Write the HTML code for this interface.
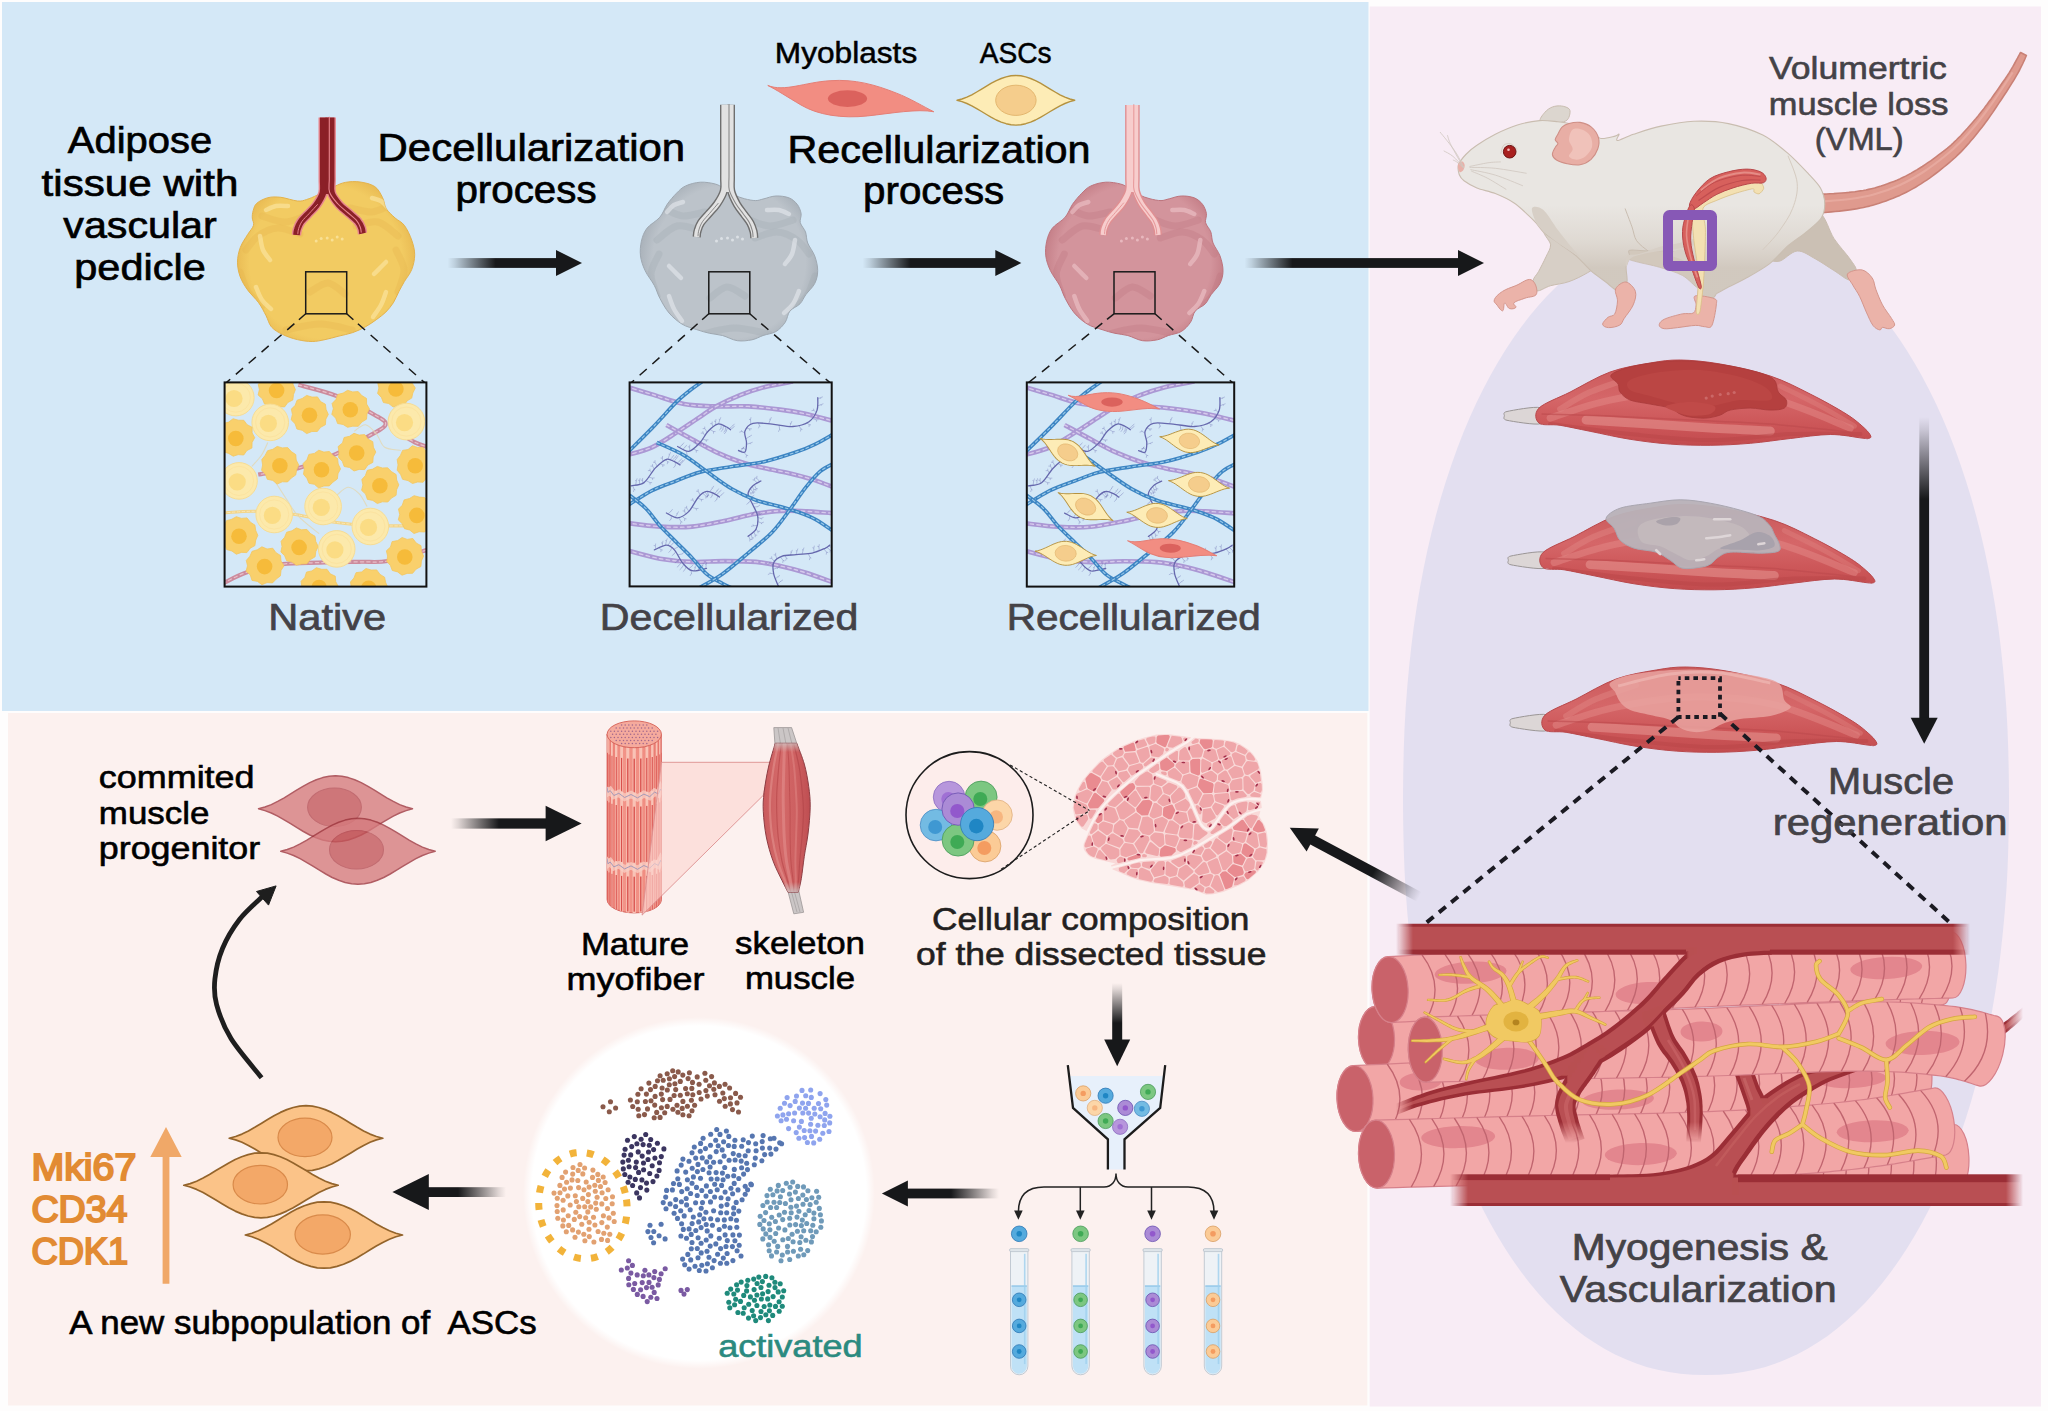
<!DOCTYPE html><html><head><meta charset="utf-8"><title>Graphical abstract</title><style>html,body{margin:0;padding:0;background:#fff}svg{display:block}text{font-family:"Liberation Sans",sans-serif}</style></head><body><svg width="2048" height="1411" viewBox="0 0 2048 1411"><defs><radialGradient id="bg0" gradientUnits="userSpaceOnUse" cx="326" cy="262" r="98"><stop offset="0" stop-color="#f2cb62"/><stop offset="0.78" stop-color="#f2cb62"/><stop offset="1" stop-color="#e4b24c"/></radialGradient><clipPath id="bc0"><path d="M253.2,210.6C253.9,208.1 254.4,205.4 256.9,203.2C259.3,201.1 263.9,198.7 267.9,197.7C271.9,196.7 275.9,196.8 280.8,197.3C285.7,197.9 293.1,200.6 297.4,201C301.7,201.4 303.3,200.6 306.6,199.5C310,198.5 313.1,197.1 317.7,194.9C322.3,192.8 329.7,188.7 334.3,186.6C338.9,184.5 341,183.2 345.3,182.4C349.6,181.6 355.2,181.3 360.1,182C365,182.7 371.1,184 374.8,186.6C378.6,189.2 380.7,194 382.6,197.7C384.5,201.4 384.2,205.4 386.3,208.8C388.4,212.1 392.1,215.2 395.1,218C398.1,220.7 401.6,221.7 404.3,225.3C407.1,229 410,235.2 411.7,240.1C413.4,245 414.7,249.9 414.7,254.8C414.7,259.8 413.4,265.1 411.7,269.6C410,274 406.5,277.9 404.3,281.6C402.2,285.3 400.6,288.2 398.8,291.7C397,295.2 395.4,299.4 393.3,302.8C391.1,306.1 388.7,309.2 385.9,312C383.1,314.7 380.1,316.9 376.7,319.4C373.3,321.8 369.6,324.5 365.6,326.7C361.6,328.9 357.3,331 352.7,332.6C348.1,334.2 342.6,335.1 338,336.3C333.4,337.5 329.4,338.8 325.1,339.6C320.8,340.5 316.8,341.5 312.2,341.5C307.6,341.5 302.3,340.8 297.4,339.6C292.5,338.5 287,336.6 282.7,334.5C278.4,332.4 274.4,330.2 271.6,327.1C268.8,324 268.2,319.7 266.1,315.7C263.9,311.6 261.8,307.1 258.7,302.8C255.6,298.5 250.7,294.2 247.6,289.9C244.6,285.6 242,281.6 240.3,277C238.6,272.4 237.5,267.1 237.5,262.2C237.5,257.3 238.6,252.1 240.3,247.5C242,242.9 245.4,238.2 247.6,234.6C249.9,230.9 252.8,228.1 253.5,225.3C254.3,222.6 252.3,220.4 252.3,218C252.2,215.5 252.4,213.1 253.2,210.6Z"/></clipPath><radialGradient id="bg1" gradientUnits="userSpaceOnUse" cx="729" cy="262" r="98"><stop offset="0" stop-color="#bcc3ca"/><stop offset="0.78" stop-color="#bcc3ca"/><stop offset="1" stop-color="#9fa8b1"/></radialGradient><clipPath id="bc1"><path d="M676.5,193.2C679.5,190.2 681.7,187.7 685.7,185.9C689.7,184 695.5,182.5 700.4,182.2C705.3,181.9 711.3,183 715.2,184C719,185 720.4,186.3 723.5,188.1C726.5,189.8 730.1,192.9 733.6,194.7C737.1,196.5 741,197.8 744.7,198.8C748.3,199.7 752.5,200.6 755.7,200.6C758.9,200.6 760.6,199.5 764,198.8C767.4,198 771.8,196.1 776,196C780.1,195.8 785.4,196.5 788.9,197.8C792.4,199.2 795.2,201.7 797.2,204.3C799.2,206.9 800.5,210.4 801.1,213.5C801.6,216.6 799.6,219.6 800.3,222.7C801.1,225.8 804.3,228.6 805.5,231.9C806.7,235.3 806.2,239 807.7,243C809.2,247 813,251.3 814.7,255.9C816.4,260.5 817.7,266 817.7,270.6C817.7,275.3 816.7,279.6 814.7,283.5C812.7,287.5 808.3,291.2 805.9,294.6C803.4,298 802.6,301.1 800,303.8C797.3,306.6 792.3,308.1 789.8,311.2C787.4,314.3 787.5,318.9 785.2,322.3C782.9,325.6 779.7,329.3 776,331.5C772.3,333.7 767.1,334.1 763.1,335.5C759.1,336.9 756.3,338.9 752,339.8C747.7,340.6 742.2,341.4 737.3,340.7C732.4,340 727.1,336.8 722.5,335.5C717.9,334.3 713.9,334.3 709.6,333.3C705.3,332.3 701.3,331.2 696.7,329.6C692.1,328.1 686.6,326.9 682,324.1C677.4,321.3 672.8,317.3 669.1,313C665.4,308.7 662.3,302.9 659.9,298.3C657.4,293.7 656.8,290 654.3,285.4C651.9,280.8 647.4,275.6 645.1,270.6C642.8,265.7 641.1,260.8 640.5,255.9C639.9,251 640.4,245.8 641.4,241.2C642.5,236.5 643.9,232.2 647,228.2C650,224.3 656.5,221.2 659.9,217.2C663.2,213.2 664.5,208.3 667.2,204.3C670,200.3 673.4,196.3 676.5,193.2Z"/></clipPath><radialGradient id="bg2" gradientUnits="userSpaceOnUse" cx="1134.3" cy="262" r="98"><stop offset="0" stop-color="#d3949c"/><stop offset="0.78" stop-color="#d3949c"/><stop offset="1" stop-color="#bd747d"/></radialGradient><clipPath id="bc2"><path d="M1081.8,193.2C1084.8,190.2 1087,187.7 1091,185.9C1095,184 1100.8,182.5 1105.7,182.2C1110.6,181.9 1116.6,183 1120.5,184C1124.3,185 1125.7,186.3 1128.8,188.1C1131.8,189.8 1135.4,192.9 1138.9,194.7C1142.4,196.5 1146.3,197.8 1150,198.8C1153.6,199.7 1157.8,200.6 1161,200.6C1164.2,200.6 1165.9,199.5 1169.3,198.8C1172.7,198 1177.1,196.1 1181.3,196C1185.4,195.8 1190.7,196.5 1194.2,197.8C1197.7,199.2 1200.5,201.7 1202.5,204.3C1204.5,206.9 1205.8,210.4 1206.4,213.5C1206.9,216.6 1204.9,219.6 1205.6,222.7C1206.4,225.8 1209.6,228.6 1210.8,231.9C1212,235.3 1211.5,239 1213,243C1214.5,247 1218.3,251.3 1220,255.9C1221.7,260.5 1223,266 1223,270.6C1223,275.3 1222,279.6 1220,283.5C1218,287.5 1213.6,291.2 1211.2,294.6C1208.7,298 1207.9,301.1 1205.3,303.8C1202.6,306.6 1197.6,308.1 1195.1,311.2C1192.7,314.3 1192.8,318.9 1190.5,322.3C1188.2,325.6 1185,329.3 1181.3,331.5C1177.6,333.7 1172.4,334.1 1168.4,335.5C1164.4,336.9 1161.6,338.9 1157.3,339.8C1153,340.6 1147.5,341.4 1142.6,340.7C1137.7,340 1132.4,336.8 1127.8,335.5C1123.2,334.3 1119.2,334.3 1114.9,333.3C1110.6,332.3 1106.6,331.2 1102,329.6C1097.4,328.1 1091.9,326.9 1087.3,324.1C1082.7,321.3 1078.1,317.3 1074.4,313C1070.7,308.7 1067.6,302.9 1065.2,298.3C1062.7,293.7 1062.1,290 1059.6,285.4C1057.2,280.8 1052.7,275.6 1050.4,270.6C1048.1,265.7 1046.4,260.8 1045.8,255.9C1045.2,251 1045.7,245.8 1046.7,241.2C1047.8,236.5 1049.2,232.2 1052.3,228.2C1055.3,224.3 1061.8,221.2 1065.2,217.2C1068.5,213.2 1069.8,208.3 1072.5,204.3C1075.3,200.3 1078.7,196.3 1081.8,193.2Z"/></clipPath><clipPath id="cbn"><rect x="224.6" y="382.4" width="201.8" height="204.2"/></clipPath><clipPath id="cbd"><rect x="629.6" y="382.4" width="202.1" height="204"/></clipPath><clipPath id="cbr"><rect x="1026.8" y="382.4" width="207.4" height="204.2"/></clipPath><linearGradient id="bodysh" gradientUnits="userSpaceOnUse" x1="0" y1="205" x2="0" y2="268"><stop offset="0" stop-color="#cdc3b8" stop-opacity="0"/><stop offset="0.55" stop-color="#cdc3b8" stop-opacity="0.35"/><stop offset="1" stop-color="#c9bfb3" stop-opacity="0.75"/></linearGradient><linearGradient id="mg1" gradientUnits="userSpaceOnUse" x1="0" y1="360" x2="0" y2="446"><stop offset="0" stop-color="#c9595a"/><stop offset="0.45" stop-color="#d56668"/><stop offset="0.75" stop-color="#cc5658"/><stop offset="1" stop-color="#c24b4e"/></linearGradient><clipPath id="mc1"><path d="M1539,408.1C1544.2,402.9 1558.2,398.1 1570.1,392.1C1581.9,386 1596.8,376.9 1610.1,372C1623.5,367.2 1638.5,365 1650.2,363C1661.8,361 1668.5,359.9 1680.2,360C1691.9,360.2 1705.2,361.4 1720.2,364C1735.2,366.7 1755.3,371 1770.3,376C1785.3,381 1797.6,387.7 1810.3,394.1C1823,400.4 1837.3,408.4 1846.4,414.1C1855.4,419.7 1860.3,424.4 1864.4,428.1C1868.4,431.8 1870.1,434.4 1870.8,436.1C1871.4,437.8 1869.8,438.2 1868.4,438.5C1866.9,438.8 1868.3,438.8 1862,438.1C1855.6,437.4 1842.3,434.4 1830.3,434.5C1818.4,434.6 1803.6,437 1790.3,438.5C1777,440 1763.6,442.2 1750.3,443.3C1736.9,444.4 1723.6,445.2 1710.2,445.3C1696.9,445.4 1683.5,445.1 1670.2,444.1C1656.8,443.1 1643.5,441.4 1630.1,439.3C1616.8,437.2 1601.8,433.6 1590.1,431.3C1578.4,429 1568.6,426.7 1560.1,425.3C1551.6,423.9 1542.6,426 1539,423.1C1535.5,420.2 1533.9,413.2 1539,408.1Z"/></clipPath><linearGradient id="mg2" gradientUnits="userSpaceOnUse" x1="0" y1="504.5" x2="0" y2="590.5"><stop offset="0" stop-color="#c9595a"/><stop offset="0.45" stop-color="#d56668"/><stop offset="0.75" stop-color="#cc5658"/><stop offset="1" stop-color="#c24b4e"/></linearGradient><clipPath id="mc2"><path d="M1543,552.6C1548.2,547.4 1562.2,542.6 1574.1,536.6C1585.9,530.5 1600.8,521.4 1614.1,516.5C1627.5,511.7 1642.5,509.5 1654.2,507.5C1665.8,505.5 1672.5,504.4 1684.2,504.5C1695.9,504.7 1709.2,505.9 1724.2,508.5C1739.2,511.2 1759.3,515.5 1774.3,520.5C1789.3,525.5 1801.6,532.2 1814.3,538.6C1827,544.9 1841.3,552.9 1850.4,558.6C1859.4,564.2 1864.3,568.9 1868.4,572.6C1872.4,576.3 1874.1,578.9 1874.8,580.6C1875.4,582.3 1873.8,582.7 1872.4,583C1870.9,583.3 1872.3,583.3 1866,582.6C1859.6,581.9 1846.3,578.9 1834.3,579C1822.4,579.1 1807.6,581.5 1794.3,583C1781,584.5 1767.6,586.7 1754.3,587.8C1740.9,588.9 1727.6,589.7 1714.2,589.8C1700.9,589.9 1687.5,589.6 1674.2,588.6C1660.8,587.6 1647.5,585.9 1634.1,583.8C1620.8,581.7 1605.8,578.1 1594.1,575.8C1582.4,573.5 1572.6,571.2 1564.1,569.8C1555.6,568.4 1546.6,570.5 1543,567.6C1539.5,564.7 1537.9,557.7 1543,552.6Z"/></clipPath><linearGradient id="mg3" gradientUnits="userSpaceOnUse" x1="0" y1="667" x2="0" y2="753"><stop offset="0" stop-color="#c9595a"/><stop offset="0.45" stop-color="#d56668"/><stop offset="0.75" stop-color="#cc5658"/><stop offset="1" stop-color="#c24b4e"/></linearGradient><clipPath id="mc3"><path d="M1545,715.1C1550.2,709.9 1564.2,705.1 1576.1,699.1C1587.9,693 1602.8,683.9 1616.1,679C1629.5,674.2 1644.5,672 1656.2,670C1667.8,668 1674.5,666.9 1686.2,667C1697.9,667.2 1711.2,668.4 1726.2,671C1741.2,673.7 1761.3,678 1776.3,683C1791.3,688 1803.6,694.7 1816.3,701.1C1829,707.4 1843.3,715.4 1852.4,721.1C1861.4,726.7 1866.3,731.4 1870.4,735.1C1874.4,738.8 1876.1,741.4 1876.8,743.1C1877.4,744.8 1875.8,745.2 1874.4,745.5C1872.9,745.8 1874.3,745.8 1868,745.1C1861.6,744.4 1848.3,741.4 1836.3,741.5C1824.4,741.6 1809.6,744 1796.3,745.5C1783,747 1769.6,749.2 1756.3,750.3C1742.9,751.4 1729.6,752.2 1716.2,752.3C1702.9,752.4 1689.5,752.1 1676.2,751.1C1662.8,750.1 1649.5,748.4 1636.1,746.3C1622.8,744.2 1607.8,740.6 1596.1,738.3C1584.4,736 1574.6,733.7 1566.1,732.3C1557.6,730.9 1548.6,733 1545,730.1C1541.5,727.2 1539.9,720.2 1545,715.1Z"/></clipPath><clipPath id="fcF2"><path d="M1375.5,1006.4L1376.8,1006.4L1378.2,1006.3L1379.8,1006.3L1381.6,1006.2L1383.5,1006.2L1385.5,1006.1L1387.6,1006L1389.9,1005.9L1392.2,1005.9L1394.6,1005.8L1397.1,1005.7L1399.7,1005.6L1402.4,1005.5L1405.1,1005.4L1407.8,1005.3L1410.6,1005.3L1413.4,1005.2L1416.3,1005.1L1419.1,1005L1422,1004.9L1424.9,1004.8L1427.7,1004.7L1430.5,1004.6L1433.3,1004.5L1436.1,1004.4L1438.8,1004.3L1441.5,1004.3L1444,1004.2L1446.6,1004.1L1449,1004L1451.5,1003.9L1454,1003.9L1456.5,1003.8L1459.1,1003.7L1461.7,1003.6L1464.4,1003.6L1467.1,1003.5L1469.8,1003.4L1472.5,1003.3L1475.3,1003.2L1478,1003.2L1480.7,1003.1L1483.4,1003L1486.1,1002.9L1488.7,1002.9L1491.3,1002.8L1493.8,1002.7L1496.3,1002.6L1498.7,1002.6L1501.1,1002.5L1503.4,1002.5L1505.6,1002.4L1507.6,1002.3L1509.6,1002.3L1511.5,1002.2L1513.3,1002.2L1515,1002.1L1516.5,1002.1L1517.9,1002L1519.1,1002L1520.9,1066L1519.7,1066L1518.3,1066.1L1516.7,1066.1L1515.1,1066.2L1513.3,1066.2L1511.4,1066.3L1509.4,1066.3L1507.3,1066.4L1505.1,1066.4L1502.9,1066.5L1500.5,1066.6L1498.1,1066.6L1495.6,1066.7L1493.1,1066.8L1490.5,1066.8L1487.9,1066.9L1485.2,1067L1482.5,1067.1L1479.8,1067.1L1477.1,1067.2L1474.4,1067.3L1471.7,1067.4L1469,1067.5L1466.3,1067.5L1463.6,1067.6L1461,1067.7L1458.4,1067.8L1455.9,1067.8L1453.4,1067.9L1451,1068L1448.6,1068.1L1446,1068.1L1443.5,1068.2L1440.8,1068.3L1438.1,1068.4L1435.4,1068.5L1432.6,1068.6L1429.8,1068.7L1426.9,1068.7L1424.1,1068.8L1421.2,1068.9L1418.4,1069L1415.5,1069.1L1412.7,1069.2L1409.9,1069.3L1407.2,1069.4L1404.5,1069.5L1401.8,1069.6L1399.3,1069.7L1396.8,1069.7L1394.3,1069.8L1392,1069.9L1389.7,1070L1387.6,1070L1385.6,1070.1L1383.7,1070.2L1381.9,1070.2L1380.3,1070.3L1378.9,1070.3L1377.5,1070.4A18,32 -1.9 0 1 1375.5,1006.4Z"/></clipPath><clipPath id="fcF6"><path d="M1699.1,1133L1701.8,1132.9L1704.9,1132.9L1708.3,1132.8L1712,1132.7L1716,1132.6L1720.3,1132.5L1724.8,1132.4L1729.6,1132.2L1734.6,1132.1L1739.7,1132L1745.1,1131.9L1750.5,1131.7L1756.1,1131.6L1761.8,1131.4L1767.6,1131.3L1773.4,1131.1L1779.3,1131L1785.2,1130.8L1791.1,1130.7L1796.9,1130.5L1802.7,1130.4L1808.4,1130.2L1814,1130.1L1819.5,1129.9L1824.9,1129.8L1830.1,1129.6L1835.1,1129.5L1840,1129.3L1844.6,1129.2L1848.9,1129L1853.1,1128.9L1857.3,1128.7L1861.6,1128.6L1865.8,1128.4L1870,1128.3L1874.2,1128.1L1878.4,1127.9L1882.6,1127.7L1886.7,1127.6L1890.8,1127.4L1894.8,1127.2L1898.8,1127.1L1902.7,1126.9L1906.6,1126.7L1910.4,1126.5L1914.1,1126.4L1917.7,1126.2L1921.2,1126L1924.6,1125.9L1927.9,1125.7L1931.1,1125.6L1934.1,1125.4L1937.1,1125.3L1939.9,1125.2L1942.6,1125L1945.1,1124.9L1947.4,1124.8L1949.7,1124.7L1951.7,1124.6L1953.6,1124.5A13.9,33 -2.5 0 1 1956.4,1190.5L1956.4,1190.5L1954.6,1190.5L1952.6,1190.6L1950.5,1190.7L1948.1,1190.8L1945.6,1191L1943,1191.1L1940.2,1191.2L1937.3,1191.4L1934.2,1191.5L1931,1191.6L1927.7,1191.8L1924.3,1192L1920.7,1192.1L1917.1,1192.3L1913.4,1192.5L1909.6,1192.6L1905.7,1192.8L1901.7,1193L1897.7,1193.2L1893.6,1193.3L1889.5,1193.5L1885.3,1193.7L1881.1,1193.9L1876.9,1194L1872.6,1194.2L1868.3,1194.4L1864,1194.5L1859.7,1194.7L1855.4,1194.8L1851.1,1195L1846.7,1195.1L1842,1195.3L1837.1,1195.4L1832.1,1195.6L1826.8,1195.7L1821.4,1195.9L1815.9,1196L1810.2,1196.2L1804.5,1196.4L1798.7,1196.5L1792.8,1196.7L1786.9,1196.8L1781,1197L1775.1,1197.1L1769.3,1197.3L1763.5,1197.4L1757.8,1197.6L1752.2,1197.7L1746.7,1197.8L1741.4,1198L1736.2,1198.1L1731.2,1198.2L1726.5,1198.3L1721.9,1198.5L1717.7,1198.6L1713.7,1198.7L1710,1198.8L1706.6,1198.8L1703.5,1198.9L1700.9,1199A10,33 -1.5 0 1 1699.1,1133Z"/></clipPath><clipPath id="fcF2b"><path d="M1796.1,974.3L1798,974L1800,973.7L1802.4,973.4L1804.9,973L1807.7,972.6L1810.7,972.1L1813.9,971.6L1817.2,971.1L1820.7,970.6L1824.3,970.1L1828.1,969.5L1831.9,968.9L1835.8,968.4L1839.7,967.8L1843.7,967.2L1847.7,966.6L1851.7,966L1855.7,965.4L1859.7,964.8L1863.6,964.2L1867.5,963.6L1871.2,963L1874.9,962.5L1878.4,962L1881.8,961.4L1885.1,961L1888.2,960.5L1891,960.1L1893.7,959.7L1896.1,959.3L1898.4,958.9L1900.6,958.6L1902.6,958.3L1904.6,958L1906.6,957.7L1908.4,957.4L1910.2,957.2L1911.9,956.9L1913.5,956.7L1915,956.4L1916.5,956.2L1917.9,956L1919.2,955.8L1920.5,955.6L1921.8,955.4L1922.9,955.2L1924.1,955L1925.1,954.8L1926.2,954.7L1927.1,954.5L1928.1,954.4L1929,954.2L1929.8,954.1L1930.7,954L1931.5,953.9L1932.2,953.7L1933,953.6L1933.7,953.5L1934.4,953.4L1935,953.3A10.9,26 -8.8 0 1 1943,1004.7L1943,1004.7L1942.3,1004.8L1941.6,1004.9L1940.9,1005L1940.2,1005.1L1939.5,1005.2L1938.7,1005.4L1937.9,1005.5L1937,1005.6L1936.1,1005.8L1935.2,1005.9L1934.2,1006.1L1933.1,1006.2L1932.1,1006.4L1930.9,1006.6L1929.7,1006.8L1928.5,1006.9L1927.2,1007.1L1925.8,1007.4L1924.4,1007.6L1922.9,1007.8L1921.4,1008L1919.7,1008.3L1918,1008.6L1916.3,1008.8L1914.4,1009.1L1912.5,1009.4L1910.4,1009.7L1908.3,1010L1906.2,1010.4L1903.9,1010.7L1901.4,1011.1L1898.8,1011.5L1895.9,1011.9L1892.8,1012.4L1889.6,1012.9L1886.2,1013.4L1882.6,1013.9L1879,1014.5L1875.2,1015L1871.3,1015.6L1867.4,1016.2L1863.4,1016.8L1859.4,1017.4L1855.4,1018L1851.4,1018.6L1847.4,1019.2L1843.5,1019.8L1839.6,1020.4L1835.8,1020.9L1832,1021.5L1828.4,1022L1824.9,1022.6L1821.6,1023.1L1818.4,1023.5L1815.4,1024L1812.6,1024.4L1810.1,1024.8L1807.7,1025.1L1805.7,1025.4L1803.9,1025.7A10,26 -8.5 0 1 1796.1,974.3Z"/></clipPath><clipPath id="fcF1"><path d="M1388.3,956.6L1394.3,956.3L1401.7,955.9L1410.2,955.5L1419.7,954.9L1430.1,954.4L1441.2,953.8L1452.9,953.1L1465,952.5L1477.3,951.8L1489.7,951.1L1502.1,950.4L1514.4,949.8L1526.2,949.2L1537.6,948.6L1548.3,948L1558.6,947.5L1568.9,947L1579,946.5L1589.1,946L1599.2,945.5L1609.2,945.1L1619.1,944.6L1629,944.1L1639,943.7L1648.9,943.2L1658.8,942.8L1668.7,942.3L1678.6,941.9L1688.6,941.5L1698.6,941L1708.7,940.6L1719,940.2L1729.4,939.7L1739.9,939.3L1750.4,938.8L1761,938.4L1771.5,938L1781.9,937.6L1792.2,937.2L1802.3,936.8L1812.2,936.4L1821.8,936L1831.2,935.7L1840.2,935.3L1848.8,935L1857.3,934.7L1865.7,934.4L1874.1,934.2L1882.3,933.9L1890.4,933.7L1898.2,933.5L1905.8,933.2L1913.1,933L1920,932.9L1926.5,932.7L1932.5,932.5L1938,932.4L1943,932.2L1947.3,932.1L1951.1,932A13.9,33 -1.6 0 1 1952.9,998L1952.9,998L1949.2,998.1L1944.8,998.2L1939.8,998.3L1934.2,998.5L1928.2,998.7L1921.7,998.8L1914.9,999L1907.6,999.2L1900.1,999.4L1892.3,999.7L1884.3,999.9L1876.1,1000.1L1867.9,1000.4L1859.5,1000.7L1851.2,1001L1842.6,1001.3L1833.6,1001.6L1824.3,1002L1814.7,1002.3L1804.8,1002.7L1794.8,1003.1L1784.5,1003.5L1774.1,1003.9L1763.6,1004.4L1753.1,1004.8L1742.6,1005.2L1732.2,1005.7L1721.8,1006.1L1711.5,1006.5L1701.4,1007L1691.5,1007.4L1681.5,1007.8L1671.6,1008.3L1661.7,1008.7L1651.9,1009.2L1642,1009.6L1632.1,1010.1L1622.2,1010.5L1612.3,1011L1602.3,1011.5L1592.3,1012L1582.2,1012.4L1572.1,1012.9L1561.9,1013.4L1551.7,1014L1541,1014.5L1529.7,1015.1L1517.8,1015.7L1505.7,1016.4L1493.3,1017L1480.9,1017.7L1468.5,1018.4L1456.5,1019L1444.8,1019.7L1433.7,1020.3L1423.3,1020.8L1413.8,1021.4L1405.3,1021.8L1397.9,1022.2L1391.9,1022.6A18,33 -3.1 0 1 1388.3,956.6Z"/></clipPath><clipPath id="fcF4"><path d="M1353.5,1065.5L1359,1065.3L1365.5,1065L1373.1,1064.6L1381.6,1064.3L1390.9,1063.8L1400.8,1063.4L1411.3,1062.9L1422.1,1062.4L1433.2,1061.9L1444.4,1061.4L1455.7,1060.9L1466.9,1060.4L1477.9,1059.9L1488.5,1059.5L1498.6,1059L1508.5,1058.6L1518.4,1058.2L1528.3,1057.8L1538.3,1057.4L1548.3,1057L1558.3,1056.6L1568.4,1056.2L1578.4,1055.8L1588.5,1055.4L1598.5,1055L1608.6,1054.6L1618.6,1054.2L1628.7,1053.8L1638.7,1053.4L1648.7,1053L1658.7,1052.6L1668.9,1052.2L1679.2,1051.8L1689.5,1051.4L1699.9,1051L1710.2,1050.6L1720.5,1050.1L1730.8,1049.7L1741,1049.3L1751.1,1048.9L1761,1048.5L1770.7,1048.1L1780.3,1047.8L1789.6,1047.4L1798.7,1047L1807.8,1046.7L1817,1046.3L1826.3,1046L1835.6,1045.6L1844.8,1045.2L1853.9,1044.9L1862.8,1044.6L1871.4,1044.2L1879.6,1043.9L1887.3,1043.6L1894.6,1043.4L1901.2,1043.1L1907.2,1042.9L1912.4,1042.7L1916.7,1042.5A13.9,33 -2.2 0 1 1919.3,1108.5L1919.3,1108.5L1914.9,1108.6L1909.7,1108.8L1903.7,1109.1L1897.1,1109.3L1889.8,1109.6L1882.1,1109.9L1873.9,1110.2L1865.3,1110.5L1856.4,1110.9L1847.3,1111.2L1838.1,1111.6L1828.8,1111.9L1819.5,1112.3L1810.3,1112.6L1801.3,1113L1792.2,1113.3L1782.9,1113.7L1773.4,1114.1L1763.6,1114.5L1753.7,1114.9L1743.6,1115.3L1733.4,1115.7L1723.2,1116.1L1712.9,1116.5L1702.5,1116.9L1692.2,1117.3L1681.8,1117.7L1671.6,1118.2L1661.4,1118.6L1651.3,1119L1641.3,1119.4L1631.3,1119.8L1621.2,1120.2L1611.2,1120.6L1601.1,1121L1591.1,1121.4L1581,1121.7L1571,1122.1L1561,1122.5L1550.9,1122.9L1541,1123.3L1531,1123.7L1521.1,1124.1L1511.2,1124.6L1501.4,1125L1491.3,1125.4L1480.7,1125.9L1469.8,1126.3L1458.7,1126.8L1447.4,1127.3L1436.2,1127.8L1425.1,1128.3L1414.3,1128.8L1403.8,1129.3L1393.9,1129.8L1384.6,1130.2L1376.1,1130.6L1368.5,1130.9L1361.9,1131.2L1356.5,1131.5A18,33 -2.6 0 1 1353.5,1065.5Z"/></clipPath><clipPath id="fcF5"><path d="M1375.6,1120.1L1384,1119.9L1394.7,1119.6L1407.3,1119.3L1421.4,1118.9L1436.8,1118.5L1453,1118L1469.7,1117.6L1486.6,1117.1L1503.3,1116.7L1519.6,1116.3L1534.9,1115.9L1549.2,1115.5L1562.7,1115.2L1576.2,1114.9L1589.6,1114.6L1602.9,1114.4L1616,1114.1L1628.9,1113.8L1641.5,1113.6L1653.8,1113.3L1665.7,1113L1677.2,1112.7L1688.2,1112.4L1698.7,1112L1708.7,1111.6L1718.3,1111.2L1727.5,1110.7L1736.3,1110.3L1744.7,1109.8L1752.8,1109.3L1760.7,1108.8L1768.4,1108.2L1775.8,1107.7L1783.1,1107.2L1790.3,1106.6L1797.4,1106.1L1804.2,1105.6L1810.6,1105.1L1816.7,1104.5L1822.5,1104L1828.1,1103.5L1833.5,1103L1838.8,1102.5L1844.1,1101.9L1849.3,1101.3L1854.6,1100.7L1860,1100L1865.5,1099.3L1871.2,1098.5L1877.4,1097.6L1883.8,1096.6L1890.4,1095.5L1897.1,1094.4L1903.6,1093.3L1910,1092.2L1916,1091.2L1921.6,1090.2L1926.5,1089.3L1930.9,1088.6L1934.3,1088A14.3,34 -9.6 0 1 1945.7,1155L1945.7,1155L1942.4,1155.6L1938.2,1156.3L1933.3,1157.2L1927.7,1158.1L1921.6,1159.2L1915.1,1160.3L1908.3,1161.5L1901.4,1162.6L1894.5,1163.8L1887.6,1164.8L1880.9,1165.8L1874.5,1166.7L1868.5,1167.5L1862.8,1168.2L1857.1,1168.9L1851.5,1169.5L1845.9,1170.1L1840.2,1170.7L1834.5,1171.2L1828.6,1171.8L1822.5,1172.3L1816.2,1172.8L1809.6,1173.4L1802.6,1173.9L1795.4,1174.4L1788.2,1175L1780.7,1175.5L1773.1,1176.1L1765.3,1176.6L1757.2,1177.2L1748.8,1177.7L1740,1178.2L1731,1178.7L1721.5,1179.1L1711.6,1179.6L1701.3,1180L1690.4,1180.4L1679.1,1180.7L1667.4,1181L1655.3,1181.3L1643,1181.6L1630.3,1181.8L1617.4,1182.1L1604.3,1182.3L1591,1182.6L1577.7,1182.9L1564.3,1183.2L1550.8,1183.5L1536.7,1183.8L1521.3,1184.2L1505.1,1184.7L1488.4,1185.1L1471.5,1185.6L1454.8,1186L1438.6,1186.4L1423.3,1186.9L1409.1,1187.2L1396.6,1187.6L1385.9,1187.9L1377.4,1188.1A18,34 -1.5 0 1 1375.6,1120.1Z"/></clipPath><filter id="er" x="-5%" y="-5%" width="110%" height="110%"><feMorphology operator="erode" radius="3.3"/></filter><linearGradient id="fgA" gradientUnits="userSpaceOnUse" x1="1450" y1="0" x2="1468" y2="0"><stop offset="0" stop-color="#000"/><stop offset="1" stop-color="#fff"/></linearGradient><linearGradient id="fgA2" gradientUnits="userSpaceOnUse" x1="2006" y1="0" x2="2023" y2="0"><stop offset="0" stop-color="#fff"/><stop offset="1" stop-color="#000"/></linearGradient><mask id="mA" maskUnits="userSpaceOnUse" x="1380" y="900" width="680" height="340"><rect x="1380" y="900" width="680" height="340" fill="#fff"/><rect x="1380" y="1160" width="88" height="60" fill="url(#fgA)"/><rect x="2006" y="1000" width="60" height="220" fill="url(#fgA2)"/><rect x="2023" y="1000" width="40" height="220" fill="#000"/></mask><clipPath id="fcF3"><path d="M1424.4,1017.2L1430.9,1017L1439,1016.7L1448.5,1016.4L1459.1,1016L1470.7,1015.6L1483,1015.2L1495.8,1014.8L1508.8,1014.4L1521.9,1014L1534.8,1013.6L1547.3,1013.2L1559.1,1012.8L1570.6,1012.5L1582,1012.1L1593.4,1011.8L1604.8,1011.5L1616.2,1011.2L1627.6,1010.9L1639.2,1010.5L1650.8,1010.2L1662.6,1009.8L1674.5,1009.5L1686.6,1009.1L1698.9,1008.6L1711.6,1008.1L1725,1007.5L1738.9,1006.9L1753.1,1006.2L1767.5,1005.5L1781.9,1004.8L1796.2,1004.1L1810.1,1003.5L1823.6,1002.9L1836.5,1002.5L1848.6,1002.1L1859.7,1001.9L1870,1001.8L1879.5,1001.9L1888.4,1002L1896.8,1002.2L1904.6,1002.5L1912,1002.9L1919,1003.3L1925.6,1003.8L1931.8,1004.3L1937.8,1004.8L1943.5,1005.4L1949.2,1006L1955.3,1006.7L1961.2,1007.6L1966.8,1008.6L1972.1,1009.7L1976.9,1010.8L1981.3,1011.9L1985.3,1013L1988.7,1014L1991.7,1014.8L1994,1015.5L1995.6,1015.8L1997,1016.1A15.1,36 14.4 0 1 1979,1085.9L1979,1085.9L1976.5,1085.2L1973.6,1084.2L1970.8,1083.3L1968.1,1082.4L1965.3,1081.5L1962.3,1080.7L1959.3,1079.8L1956,1078.9L1952.6,1078.1L1949,1077.3L1945.1,1076.7L1940.8,1076L1935.8,1075.4L1930.5,1074.8L1925.1,1074.2L1919.6,1073.6L1913.7,1073.1L1907.6,1072.6L1901.1,1072.2L1894.1,1071.8L1886.6,1071.5L1878.5,1071.3L1869.7,1071.1L1860.3,1071.1L1849.9,1071.2L1838.4,1071.4L1826,1071.7L1812.8,1072.2L1799.1,1072.7L1784.9,1073.2L1770.6,1073.8L1756.2,1074.4L1741.8,1075L1727.8,1075.5L1714.1,1076L1701.1,1076.4L1688.6,1076.7L1676.4,1077L1664.3,1077.3L1652.5,1077.5L1640.8,1077.7L1629.2,1077.9L1617.7,1078.1L1606.3,1078.3L1594.9,1078.5L1583.6,1078.7L1572.2,1079L1560.9,1079.2L1549,1079.4L1536.6,1079.7L1523.7,1080L1510.6,1080.3L1497.6,1080.6L1484.8,1080.9L1472.5,1081.2L1460.9,1081.5L1450.3,1081.7L1440.8,1081.9L1432.7,1082.1L1426.2,1082.2A17,32.5 -1.6 0 1 1424.4,1017.2Z"/></clipPath><linearGradient id="fgB1" gradientUnits="userSpaceOnUse" x1="1396" y1="0" x2="1413" y2="0"><stop offset="0" stop-color="#000"/><stop offset="1" stop-color="#fff"/></linearGradient><linearGradient id="fgB2" gradientUnits="userSpaceOnUse" x1="1953" y1="0" x2="1970" y2="0"><stop offset="0" stop-color="#fff"/><stop offset="1" stop-color="#000"/></linearGradient><linearGradient id="fgB3" gradientUnits="userSpaceOnUse" x1="0" y1="1122" x2="0" y2="1143"><stop offset="0" stop-color="#fff"/><stop offset="1" stop-color="#000"/></linearGradient><mask id="mB" maskUnits="userSpaceOnUse" x="1380" y="900" width="680" height="340"><rect x="1380" y="900" width="680" height="340" fill="#fff"/><rect x="1380" y="915" width="33" height="50" fill="url(#fgB1)"/><rect x="1380" y="1085" width="33" height="45" fill="url(#fgB1)"/><rect x="1953" y="915" width="40" height="50" fill="url(#fgB2)"/><rect x="1970" y="915" width="30" height="50" fill="#000"/><rect x="1545" y="1122" width="52" height="30" fill="url(#fgB3)"/><rect x="1676" y="1122" width="38" height="30" fill="url(#fgB3)"/></mask><clipPath id="cylc"><path d="M607.1,734.3V899.5A27.149999999999977,13.4 0 0 0 661.4,899.5V734.3A27.149999999999977,13.4 0 0 1 607.1,734.3Z"/></clipPath><linearGradient id="cylg" x1="0" y1="0" x2="1" y2="0"><stop offset="0" stop-color="#e9776e"/><stop offset="0.3" stop-color="#f29488"/><stop offset="0.7" stop-color="#f08d82"/><stop offset="1" stop-color="#e67168"/></linearGradient><clipPath id="skc"><path d="M775.2,743.3C774.1,747.3 770.4,758.9 768.5,767.1C766.6,775.3 765,785 764.1,792.4C763.2,799.8 762.9,804.3 763.3,811.7C763.7,819.1 764.7,828.8 766.3,837C767.9,845.2 770.4,853.6 773,860.8C775.6,868 779.4,875 781.9,880.2C784.4,885.4 786.9,890.1 787.9,892.1L798.3,892.1C798.8,889.9 800.3,884.7 801.3,878.7C802.3,872.7 803.2,863.8 804.3,856.3C805.4,848.8 807,842.2 808,834C809,825.8 810.1,815.1 810.2,807.2C810.3,799.3 809.7,793.6 808.7,786.4C807.7,779.2 806.3,771.3 804.3,764.1C802.3,756.9 798,746.8 796.8,743.3Z"/></clipPath><linearGradient id="skg" gradientUnits="userSpaceOnUse" x1="763" y1="0" x2="811" y2="0"><stop offset="0" stop-color="#c95a5c"/><stop offset="0.35" stop-color="#d46a6a"/><stop offset="0.7" stop-color="#cd5f60"/><stop offset="1" stop-color="#bd4c50"/></linearGradient><linearGradient id="skf" gradientUnits="userSpaceOnUse" x1="0" y1="740" x2="0" y2="752"><stop offset="0" stop-color="#cbc6c6"/><stop offset="1" stop-color="#cbc6c6" stop-opacity="0"/></linearGradient><linearGradient id="skf2" gradientUnits="userSpaceOnUse" x1="0" y1="895" x2="0" y2="882"><stop offset="0" stop-color="#cbc6c6"/><stop offset="1" stop-color="#cbc6c6" stop-opacity="0"/></linearGradient><radialGradient id="umg" gradientUnits="userSpaceOnUse" cx="699" cy="1193" r="176"><stop offset="0" stop-color="#fff"/><stop offset="0.95" stop-color="#fff"/><stop offset="1" stop-color="#fff" stop-opacity="0"/></radialGradient><linearGradient id="ga0" gradientUnits="userSpaceOnUse" x1="447.6" y1="0" x2="495.6" y2="0"><stop offset="0" stop-color="#17181a" stop-opacity="0"/><stop offset="0.15" stop-color="#17181a" stop-opacity="0.12"/><stop offset="1" stop-color="#17181a"/></linearGradient><linearGradient id="ga1" gradientUnits="userSpaceOnUse" x1="862.6" y1="0" x2="910.6" y2="0"><stop offset="0" stop-color="#17181a" stop-opacity="0"/><stop offset="0.15" stop-color="#17181a" stop-opacity="0.12"/><stop offset="1" stop-color="#17181a"/></linearGradient><linearGradient id="ga2" gradientUnits="userSpaceOnUse" x1="1244.5" y1="0" x2="1292.5" y2="0"><stop offset="0" stop-color="#17181a" stop-opacity="0"/><stop offset="0.15" stop-color="#17181a" stop-opacity="0.12"/><stop offset="1" stop-color="#17181a"/></linearGradient><linearGradient id="ga3" gradientUnits="userSpaceOnUse" x1="451" y1="0" x2="499" y2="0"><stop offset="0" stop-color="#17181a" stop-opacity="0"/><stop offset="0.15" stop-color="#17181a" stop-opacity="0.12"/><stop offset="1" stop-color="#17181a"/></linearGradient><linearGradient id="ga4" gradientUnits="userSpaceOnUse" x1="506" y1="0" x2="458" y2="0"><stop offset="0" stop-color="#17181a" stop-opacity="0"/><stop offset="0.15" stop-color="#17181a" stop-opacity="0.12"/><stop offset="1" stop-color="#17181a"/></linearGradient><linearGradient id="ga5" gradientUnits="userSpaceOnUse" x1="999" y1="0" x2="951" y2="0"><stop offset="0" stop-color="#17181a" stop-opacity="0"/><stop offset="0.15" stop-color="#17181a" stop-opacity="0.12"/><stop offset="1" stop-color="#17181a"/></linearGradient><linearGradient id="ga6" gradientUnits="userSpaceOnUse" x1="0" y1="983" x2="0" y2="1023"><stop offset="0" stop-color="#17181a" stop-opacity="0"/><stop offset="0.15" stop-color="#17181a" stop-opacity="0.12"/><stop offset="1" stop-color="#17181a"/></linearGradient><linearGradient id="ga7" gradientUnits="userSpaceOnUse" x1="0" y1="417" x2="0" y2="499"><stop offset="0" stop-color="#17181a" stop-opacity="0"/><stop offset="0.15" stop-color="#17181a" stop-opacity="0.12"/><stop offset="1" stop-color="#17181a"/></linearGradient><linearGradient id="ga8" gradientUnits="userSpaceOnUse" x1="0" y1="0" x2="52" y2="0"><stop offset="0" stop-color="#17181a" stop-opacity="0"/><stop offset="0.15" stop-color="#17181a" stop-opacity="0.12"/><stop offset="1" stop-color="#17181a"/></linearGradient></defs><rect x="0" y="0" width="2048" height="1411" fill="#fefdfd"/>
<rect x="2" y="2" width="1366.5" height="709" fill="#d4e8f7"/>
<rect x="8" y="713" width="1359.3" height="692.5" fill="#fcf1ef"/>
<rect x="1369.7" y="6.5" width="671.3" height="1400" fill="#f8ecf5"/>
<path d="M2009.0,799.5L2008.8,824.9L2008.3,847.8L2007.5,869.9L2006.3,891.4L2004.7,912.4L2002.8,933.0L2000.6,953.2L1998.1,973.1L1995.2,992.5L1992.0,1011.6L1988.4,1030.4L1984.6,1048.7L1980.4,1066.7L1975.9,1084.3L1971.1,1101.5L1965.9,1118.3L1960.5,1134.6L1954.8,1150.5L1948.8,1166.0L1942.5,1181.0L1935.9,1195.5L1929.0,1209.6L1921.9,1223.1L1914.5,1236.1L1906.9,1248.6L1899.0,1260.6L1890.8,1272.0L1882.4,1282.9L1873.8,1293.2L1865.0,1302.9L1856.0,1312.1L1846.7,1320.6L1837.2,1328.6L1827.6,1335.9L1817.7,1342.6L1807.6,1348.8L1797.4,1354.2L1786.9,1359.1L1776.3,1363.3L1765.5,1366.9L1754.4,1369.8L1743.1,1372.1L1731.5,1373.7L1719.4,1374.7L1706.0,1375.0L1692.6,1374.7L1680.5,1373.7L1668.9,1372.1L1657.6,1369.8L1646.5,1366.9L1635.7,1363.3L1625.1,1359.1L1614.6,1354.2L1604.4,1348.8L1594.3,1342.6L1584.4,1335.9L1574.8,1328.6L1565.3,1320.6L1556.0,1312.1L1547.0,1302.9L1538.2,1293.2L1529.6,1282.9L1521.2,1272.0L1513.0,1260.6L1505.1,1248.6L1497.5,1236.1L1490.1,1223.1L1483.0,1209.6L1476.1,1195.5L1469.5,1181.0L1463.2,1166.0L1457.2,1150.5L1451.5,1134.6L1446.1,1118.3L1440.9,1101.5L1436.1,1084.3L1431.6,1066.7L1427.4,1048.7L1423.6,1030.4L1420.0,1011.6L1416.8,992.5L1413.9,973.1L1411.4,953.2L1409.2,933.0L1407.3,912.4L1405.7,891.4L1404.5,869.9L1403.7,847.8L1403.2,824.9L1403.0,799.5L1403.2,774.1L1403.7,751.2L1404.5,729.1L1405.7,707.6L1407.3,686.6L1409.2,666.0L1411.4,645.8L1413.9,625.9L1416.8,606.5L1420.0,587.4L1423.6,568.6L1427.4,550.3L1431.6,532.3L1436.1,514.7L1440.9,497.5L1446.1,480.7L1451.5,464.4L1457.2,448.5L1463.2,433.0L1469.5,418.0L1476.1,403.5L1483.0,389.4L1490.1,375.9L1497.5,362.9L1505.1,350.4L1513.0,338.4L1521.2,327.0L1529.6,316.1L1538.2,305.8L1547.0,296.1L1556.0,286.9L1565.3,278.4L1574.8,270.4L1584.4,263.1L1594.3,256.4L1604.4,250.2L1614.6,244.8L1625.1,239.9L1635.7,235.7L1646.5,232.1L1657.6,229.2L1668.9,226.9L1680.5,225.3L1692.6,224.3L1706.0,224.0L1719.4,224.3L1731.5,225.3L1743.1,226.9L1754.4,229.2L1765.5,232.1L1776.3,235.7L1786.9,239.9L1797.4,244.8L1807.6,250.2L1817.7,256.4L1827.6,263.1L1837.2,270.4L1846.7,278.4L1856.0,286.9L1865.0,296.1L1873.8,305.8L1882.4,316.1L1890.8,327.0L1899.0,338.4L1906.9,350.4L1914.5,362.9L1921.9,375.9L1929.0,389.4L1935.9,403.5L1942.5,418.0L1948.8,433.0L1954.8,448.5L1960.5,464.4L1965.9,480.7L1971.1,497.5L1975.9,514.7L1980.4,532.3L1984.6,550.3L1988.4,568.6L1992.0,587.4L1995.2,606.5L1998.1,625.9L2000.6,645.8L2002.8,666.0L2004.7,686.6L2006.3,707.6L2007.5,729.1L2008.3,751.2L2008.8,774.1Z" fill="#e3dff0"/>
<path d="M253.2,210.6C253.9,208.1 254.4,205.4 256.9,203.2C259.3,201.1 263.9,198.7 267.9,197.7C271.9,196.7 275.9,196.8 280.8,197.3C285.7,197.9 293.1,200.6 297.4,201C301.7,201.4 303.3,200.6 306.6,199.5C310,198.5 313.1,197.1 317.7,194.9C322.3,192.8 329.7,188.7 334.3,186.6C338.9,184.5 341,183.2 345.3,182.4C349.6,181.6 355.2,181.3 360.1,182C365,182.7 371.1,184 374.8,186.6C378.6,189.2 380.7,194 382.6,197.7C384.5,201.4 384.2,205.4 386.3,208.8C388.4,212.1 392.1,215.2 395.1,218C398.1,220.7 401.6,221.7 404.3,225.3C407.1,229 410,235.2 411.7,240.1C413.4,245 414.7,249.9 414.7,254.8C414.7,259.8 413.4,265.1 411.7,269.6C410,274 406.5,277.9 404.3,281.6C402.2,285.3 400.6,288.2 398.8,291.7C397,295.2 395.4,299.4 393.3,302.8C391.1,306.1 388.7,309.2 385.9,312C383.1,314.7 380.1,316.9 376.7,319.4C373.3,321.8 369.6,324.5 365.6,326.7C361.6,328.9 357.3,331 352.7,332.6C348.1,334.2 342.6,335.1 338,336.3C333.4,337.5 329.4,338.8 325.1,339.6C320.8,340.5 316.8,341.5 312.2,341.5C307.6,341.5 302.3,340.8 297.4,339.6C292.5,338.5 287,336.6 282.7,334.5C278.4,332.4 274.4,330.2 271.6,327.1C268.8,324 268.2,319.7 266.1,315.7C263.9,311.6 261.8,307.1 258.7,302.8C255.6,298.5 250.7,294.2 247.6,289.9C244.6,285.6 242,281.6 240.3,277C238.6,272.4 237.5,267.1 237.5,262.2C237.5,257.3 238.6,252.1 240.3,247.5C242,242.9 245.4,238.2 247.6,234.6C249.9,230.9 252.8,228.1 253.5,225.3C254.3,222.6 252.3,220.4 252.3,218C252.2,215.5 252.4,213.1 253.2,210.6Z" fill="url(#bg0)" stroke="#e4b24c" stroke-width="1"/>
<g clip-path="url(#bc0)">
<path d="M246,250C248,247.7 252.7,239.7 258,236C263.3,232.3 271,228.3 278,228C285,227.7 296.3,233 300,234" fill="none" stroke="#e4b24c" stroke-width="7" stroke-linecap="round" opacity="0.3"/>
<path d="M356,226C359.7,225.3 371,220.3 378,222C385,223.7 394.7,233.7 398,236" fill="none" stroke="#e4b24c" stroke-width="7" stroke-linecap="round" opacity="0.3"/>
<path d="M286,330C291.7,329 309,324 320,324C331,324 346.7,329 352,330" fill="none" stroke="#e4b24c" stroke-width="7" stroke-linecap="round" opacity="0.3"/>
<path d="M240,272C241.3,275.3 244.3,286.3 248,292C251.7,297.7 259.7,303.7 262,306" fill="none" stroke="#e4b24c" stroke-width="7" stroke-linecap="round" opacity="0.3"/>
<path d="M396,250C397.3,253.3 403.7,263 404,270C404.3,277 399,288.3 398,292" fill="none" stroke="#e4b24c" stroke-width="7" stroke-linecap="round" opacity="0.3"/>
<path d="M310,292C313,290.5 322.2,282.7 328,283C333.8,283.3 342.2,292.2 345,294" fill="none" stroke="#e4b24c" stroke-width="7" stroke-linecap="round" opacity="0.3"/>
<path d="M262,216C265.8,217 277.8,222 285,222C292.2,222 301.7,217 305,216" fill="none" stroke="#e4b24c" stroke-width="7" stroke-linecap="round" opacity="0.3"/>
<path d="M350,208C353.7,208.7 365.7,212.3 372,212C378.3,211.7 385.3,207 388,206" fill="none" stroke="#e4b24c" stroke-width="7" stroke-linecap="round" opacity="0.3"/>
<path d="M266,210C267.7,209.3 272.3,206.7 276,206C279.7,205.3 286,206 288,206" fill="none" stroke="#fbe7a6" stroke-width="4.5" stroke-linecap="round" opacity="0.6"/>
<path d="M260,236C260.5,238.3 261.3,246 263,250C264.7,254 268.8,258.3 270,260" fill="none" stroke="#fbe7a6" stroke-width="4.5" stroke-linecap="round" opacity="0.6"/>
<path d="M372,198C373.5,198.5 378.3,199.3 381,201C383.7,202.7 386.8,206.8 388,208" fill="none" stroke="#fbe7a6" stroke-width="4.5" stroke-linecap="round" opacity="0.6"/>
<path d="M374,274C375.2,272.8 379,269 381,267C383,265 385.2,262.8 386,262" fill="none" stroke="#fbe7a6" stroke-width="4.5" stroke-linecap="round" opacity="0.6"/>
<path d="M256,287C257,289.2 259.5,296.3 262,300C264.5,303.7 269.5,307.5 271,309" fill="none" stroke="#fbe7a6" stroke-width="4.5" stroke-linecap="round" opacity="0.6"/>
<path d="M386,292C385.2,294.2 383.2,300.8 381,305C378.8,309.2 374.3,315 373,317" fill="none" stroke="#fbe7a6" stroke-width="4.5" stroke-linecap="round" opacity="0.6"/>
</g>
<path d="M323.2,117.5C323.2,124.1 323.2,147 323.2,157.2C323.2,167.5 323.2,173 323.2,179C323.1,185 324,188.7 322.9,193C321.8,197.3 318.9,201.5 316.4,205.1C313.8,208.7 310.3,211.7 307.7,214.5C305.1,217.3 302.5,219.5 300.8,222C299.1,224.4 298.1,227.2 297.4,229.3C296.6,231.5 296.6,234.1 296.5,235" fill="none" stroke="#e8868e" stroke-width="9.4"/>
<path d="M331.2,117.5C331.2,124.1 331.2,147 331.2,157.2C331.2,167.5 331.1,173 331.2,179C331.2,185 330.2,188.7 331.5,193C332.8,197.3 336.2,201.3 339.2,204.8C342.2,208.2 346.4,211.1 349.4,213.8C352.5,216.5 355.4,218.6 357.5,221C359.5,223.4 360.7,226 361.5,228.1C362.3,230.1 362.3,232.6 362.5,233.5" fill="none" stroke="#e8868e" stroke-width="9.4"/>
<path d="M323.2,117.5C323.2,124.1 323.2,147 323.2,157.2C323.2,167.5 323.2,173 323.2,179C323.1,185 324,188.7 322.9,193C321.8,197.3 318.9,201.5 316.4,205.1C313.8,208.7 310.3,211.7 307.7,214.5C305.1,217.3 302.5,219.5 300.8,222C299.1,224.4 298.1,227.2 297.4,229.3C296.6,231.5 296.6,234.1 296.5,235" fill="none" stroke="#8b2027" stroke-width="6.6"/>
<path d="M331.2,117.5C331.2,124.1 331.2,147 331.2,157.2C331.2,167.5 331.1,173 331.2,179C331.2,185 330.2,188.7 331.5,193C332.8,197.3 336.2,201.3 339.2,204.8C342.2,208.2 346.4,211.1 349.4,213.8C352.5,216.5 355.4,218.6 357.5,221C359.5,223.4 360.7,226 361.5,228.1C362.3,230.1 362.3,232.6 362.5,233.5" fill="none" stroke="#8b2027" stroke-width="6.6"/>
<path d="M327.2,117.5V194" fill="none" stroke="#8b2027" stroke-width="3.2"/>
<path d="M329.3,116.7C329.3,123.3 329.3,146.2 329.3,156.4C329.3,166.7 329.2,172.2 329.3,178.2C329.4,184.2 328.1,187.9 329.6,192.2C331.1,196.5 334.9,200.5 338,204C341.1,207.4 345.2,210.3 348.2,213C351.3,215.7 354.2,217.8 356.3,220.2C358.3,222.6 359.5,225.2 360.3,227.3C361.1,229.3 361.1,231.8 361.3,232.7" fill="none" stroke="#e8868e" stroke-width="1.1"/>
<path d="M317.7,204.3C316.2,205.9 311.6,210.9 309,213.7C306.4,216.5 303.8,218.7 302.1,221.2C300.4,223.6 299.4,226.4 298.7,228.5C297.9,230.7 297.9,233.3 297.8,234.2" fill="none" stroke="#e8868e" stroke-width="1.0"/>
<circle cx="316.2" cy="241" r="1.5" fill="#fbe7a6" opacity="0.75"/>
<circle cx="321.2" cy="238.5" r="1.5" fill="#fbe7a6" opacity="0.75"/>
<circle cx="327.2" cy="238" r="1.5" fill="#fbe7a6" opacity="0.75"/>
<circle cx="332.2" cy="240" r="1.5" fill="#fbe7a6" opacity="0.75"/>
<circle cx="337.2" cy="237" r="1.5" fill="#fbe7a6" opacity="0.75"/>
<circle cx="342.2" cy="239" r="1.5" fill="#fbe7a6" opacity="0.75"/>
<rect x="305.7" y="271.8" width="41" height="42" fill="none" stroke="#1a1a1a" stroke-width="1.5"/>
<path d="M676.5,193.2C679.5,190.2 681.7,187.7 685.7,185.9C689.7,184 695.5,182.5 700.4,182.2C705.3,181.9 711.3,183 715.2,184C719,185 720.4,186.3 723.5,188.1C726.5,189.8 730.1,192.9 733.6,194.7C737.1,196.5 741,197.8 744.7,198.8C748.3,199.7 752.5,200.6 755.7,200.6C758.9,200.6 760.6,199.5 764,198.8C767.4,198 771.8,196.1 776,196C780.1,195.8 785.4,196.5 788.9,197.8C792.4,199.2 795.2,201.7 797.2,204.3C799.2,206.9 800.5,210.4 801.1,213.5C801.6,216.6 799.6,219.6 800.3,222.7C801.1,225.8 804.3,228.6 805.5,231.9C806.7,235.3 806.2,239 807.7,243C809.2,247 813,251.3 814.7,255.9C816.4,260.5 817.7,266 817.7,270.6C817.7,275.3 816.7,279.6 814.7,283.5C812.7,287.5 808.3,291.2 805.9,294.6C803.4,298 802.6,301.1 800,303.8C797.3,306.6 792.3,308.1 789.8,311.2C787.4,314.3 787.5,318.9 785.2,322.3C782.9,325.6 779.7,329.3 776,331.5C772.3,333.7 767.1,334.1 763.1,335.5C759.1,336.9 756.3,338.9 752,339.8C747.7,340.6 742.2,341.4 737.3,340.7C732.4,340 727.1,336.8 722.5,335.5C717.9,334.3 713.9,334.3 709.6,333.3C705.3,332.3 701.3,331.2 696.7,329.6C692.1,328.1 686.6,326.9 682,324.1C677.4,321.3 672.8,317.3 669.1,313C665.4,308.7 662.3,302.9 659.9,298.3C657.4,293.7 656.8,290 654.3,285.4C651.9,280.8 647.4,275.6 645.1,270.6C642.8,265.7 641.1,260.8 640.5,255.9C639.9,251 640.4,245.8 641.4,241.2C642.5,236.5 643.9,232.2 647,228.2C650,224.3 656.5,221.2 659.9,217.2C663.2,213.2 664.5,208.3 667.2,204.3C670,200.3 673.4,196.3 676.5,193.2Z" fill="url(#bg1)" stroke="#9fa8b1" stroke-width="1"/>
<g clip-path="url(#bc1)">
<path d="M809,254C807,251.7 802.3,243.7 797,240C791.7,236.3 784,232.3 777,232C770,231.7 758.7,237 755,238" fill="none" stroke="#9fa8b1" stroke-width="7" stroke-linecap="round" opacity="0.3"/>
<path d="M699,230C695.3,229.3 684,224.3 677,226C670,227.7 660.3,237.7 657,240" fill="none" stroke="#9fa8b1" stroke-width="7" stroke-linecap="round" opacity="0.3"/>
<path d="M769,334C763.3,333 746,328 735,328C724,328 708.3,333 703,334" fill="none" stroke="#9fa8b1" stroke-width="7" stroke-linecap="round" opacity="0.3"/>
<path d="M815,276C813.7,279.3 810.7,290.3 807,296C803.3,301.7 795.3,307.7 793,310" fill="none" stroke="#9fa8b1" stroke-width="7" stroke-linecap="round" opacity="0.3"/>
<path d="M659,254C657.7,257.3 651.3,267 651,274C650.7,281 656,292.3 657,296" fill="none" stroke="#9fa8b1" stroke-width="7" stroke-linecap="round" opacity="0.3"/>
<path d="M745,296C742,294.5 732.8,286.7 727,287C721.2,287.3 712.8,296.2 710,298" fill="none" stroke="#9fa8b1" stroke-width="7" stroke-linecap="round" opacity="0.3"/>
<path d="M793,220C789.2,221 777.2,226 770,226C762.8,226 753.3,221 750,220" fill="none" stroke="#9fa8b1" stroke-width="7" stroke-linecap="round" opacity="0.3"/>
<path d="M705,212C701.3,212.7 689.3,216.3 683,216C676.7,215.7 669.7,211 667,210" fill="none" stroke="#9fa8b1" stroke-width="7" stroke-linecap="round" opacity="0.3"/>
<path d="M789,214C787.3,213.3 782.7,210.7 779,210C775.3,209.3 769,210 767,210" fill="none" stroke="#e6eaee" stroke-width="4.5" stroke-linecap="round" opacity="0.6"/>
<path d="M795,240C794.5,242.3 793.7,250 792,254C790.3,258 786.2,262.3 785,264" fill="none" stroke="#e6eaee" stroke-width="4.5" stroke-linecap="round" opacity="0.6"/>
<path d="M683,202C681.5,202.5 676.7,203.3 674,205C671.3,206.7 668.2,210.8 667,212" fill="none" stroke="#e6eaee" stroke-width="4.5" stroke-linecap="round" opacity="0.6"/>
<path d="M681,278C679.8,276.8 676,273 674,271C672,269 669.8,266.8 669,266" fill="none" stroke="#e6eaee" stroke-width="4.5" stroke-linecap="round" opacity="0.6"/>
<path d="M799,291C798,293.2 795.5,300.3 793,304C790.5,307.7 785.5,311.5 784,313" fill="none" stroke="#e6eaee" stroke-width="4.5" stroke-linecap="round" opacity="0.6"/>
<path d="M669,296C669.8,298.2 671.8,304.8 674,309C676.2,313.2 680.7,319 682,321" fill="none" stroke="#e6eaee" stroke-width="4.5" stroke-linecap="round" opacity="0.6"/>
</g>
<path d="M724.1,104.7C724.1,112.2 724.1,137.8 724.1,149.8C724.1,161.9 724.2,170.1 724.1,177C724,183.9 725,186.5 723.8,191C722.6,195.5 719.7,200.1 717.1,203.9C714.5,207.8 710.8,211.2 708.2,214.3C705.5,217.4 702.9,219.9 701.1,222.6C699.3,225.3 698.3,228.3 697.6,230.7C696.8,233.1 696.8,236 696.7,237" fill="none" stroke="#6f6f6f" stroke-width="8.2"/>
<path d="M730.9,104.7C730.9,112.2 730.9,137.8 730.9,149.8C730.9,161.9 730.8,170.1 730.9,177C731,183.9 730.2,186.5 731.2,191C732.2,195.5 734.7,200.2 736.9,204.2C739.1,208.1 742.2,211.6 744.5,214.8C746.8,218 749,220.4 750.5,223.3C752,226.1 752.9,229.1 753.6,231.6C754.2,234.1 754.2,236.9 754.3,238" fill="none" stroke="#6f6f6f" stroke-width="8.2"/>
<path d="M724.1,104.7C724.1,112.2 724.1,137.8 724.1,149.8C724.1,161.9 724.2,170.1 724.1,177C724,183.9 725,186.5 723.8,191C722.6,195.5 719.7,200.1 717.1,203.9C714.5,207.8 710.8,211.2 708.2,214.3C705.5,217.4 702.9,219.9 701.1,222.6C699.3,225.3 698.3,228.3 697.6,230.7C696.8,233.1 696.8,236 696.7,237" fill="none" stroke="#e2e2e2" stroke-width="5.4"/>
<path d="M730.9,104.7C730.9,112.2 730.9,137.8 730.9,149.8C730.9,161.9 730.8,170.1 730.9,177C731,183.9 730.2,186.5 731.2,191C732.2,195.5 734.7,200.2 736.9,204.2C739.1,208.1 742.2,211.6 744.5,214.8C746.8,218 749,220.4 750.5,223.3C752,226.1 752.9,229.1 753.6,231.6C754.2,234.1 754.2,236.9 754.3,238" fill="none" stroke="#e2e2e2" stroke-width="5.4"/>
<path d="M727.5,104.7V192" fill="none" stroke="#e2e2e2" stroke-width="3.2"/>
<path d="M729,103.9C729,111.4 729,137 729,149C729,161.1 729,169.3 729,176.2C729,183.1 728.2,185.7 729.3,190.2C730.4,194.7 733.4,199.4 735.7,203.4C738,207.3 741,210.8 743.3,214C745.6,217.2 747.8,219.6 749.3,222.5C750.8,225.3 751.7,228.3 752.4,230.8C753,233.3 753,236.1 753.1,237.2" fill="none" stroke="#8a8a8a" stroke-width="1.1"/>
<path d="M718.4,203.1C716.9,204.9 712.1,210.4 709.5,213.5C706.8,216.6 704.2,219.1 702.4,221.8C700.6,224.5 699.6,227.5 698.9,229.9C698.1,232.3 698.1,235.2 698,236.2" fill="none" stroke="#8a8a8a" stroke-width="1.0"/>
<circle cx="716.5" cy="241" r="1.5" fill="#e6eaee" opacity="0.75"/>
<circle cx="721.5" cy="238.5" r="1.5" fill="#e6eaee" opacity="0.75"/>
<circle cx="727.5" cy="238" r="1.5" fill="#e6eaee" opacity="0.75"/>
<circle cx="732.5" cy="240" r="1.5" fill="#e6eaee" opacity="0.75"/>
<circle cx="737.5" cy="237" r="1.5" fill="#e6eaee" opacity="0.75"/>
<circle cx="742.5" cy="239" r="1.5" fill="#e6eaee" opacity="0.75"/>
<rect x="708.8" y="271.8" width="41" height="42" fill="none" stroke="#1a1a1a" stroke-width="1.5"/>
<path d="M1081.8,193.2C1084.8,190.2 1087,187.7 1091,185.9C1095,184 1100.8,182.5 1105.7,182.2C1110.6,181.9 1116.6,183 1120.5,184C1124.3,185 1125.7,186.3 1128.8,188.1C1131.8,189.8 1135.4,192.9 1138.9,194.7C1142.4,196.5 1146.3,197.8 1150,198.8C1153.6,199.7 1157.8,200.6 1161,200.6C1164.2,200.6 1165.9,199.5 1169.3,198.8C1172.7,198 1177.1,196.1 1181.3,196C1185.4,195.8 1190.7,196.5 1194.2,197.8C1197.7,199.2 1200.5,201.7 1202.5,204.3C1204.5,206.9 1205.8,210.4 1206.4,213.5C1206.9,216.6 1204.9,219.6 1205.6,222.7C1206.4,225.8 1209.6,228.6 1210.8,231.9C1212,235.3 1211.5,239 1213,243C1214.5,247 1218.3,251.3 1220,255.9C1221.7,260.5 1223,266 1223,270.6C1223,275.3 1222,279.6 1220,283.5C1218,287.5 1213.6,291.2 1211.2,294.6C1208.7,298 1207.9,301.1 1205.3,303.8C1202.6,306.6 1197.6,308.1 1195.1,311.2C1192.7,314.3 1192.8,318.9 1190.5,322.3C1188.2,325.6 1185,329.3 1181.3,331.5C1177.6,333.7 1172.4,334.1 1168.4,335.5C1164.4,336.9 1161.6,338.9 1157.3,339.8C1153,340.6 1147.5,341.4 1142.6,340.7C1137.7,340 1132.4,336.8 1127.8,335.5C1123.2,334.3 1119.2,334.3 1114.9,333.3C1110.6,332.3 1106.6,331.2 1102,329.6C1097.4,328.1 1091.9,326.9 1087.3,324.1C1082.7,321.3 1078.1,317.3 1074.4,313C1070.7,308.7 1067.6,302.9 1065.2,298.3C1062.7,293.7 1062.1,290 1059.6,285.4C1057.2,280.8 1052.7,275.6 1050.4,270.6C1048.1,265.7 1046.4,260.8 1045.8,255.9C1045.2,251 1045.7,245.8 1046.7,241.2C1047.8,236.5 1049.2,232.2 1052.3,228.2C1055.3,224.3 1061.8,221.2 1065.2,217.2C1068.5,213.2 1069.8,208.3 1072.5,204.3C1075.3,200.3 1078.7,196.3 1081.8,193.2Z" fill="url(#bg2)" stroke="#bd747d" stroke-width="1"/>
<g clip-path="url(#bc2)">
<path d="M1214.3,254C1212.3,251.7 1207.6,243.7 1202.3,240C1197,236.3 1189.3,232.3 1182.3,232C1175.3,231.7 1164,237 1160.3,238" fill="none" stroke="#bd747d" stroke-width="7" stroke-linecap="round" opacity="0.3"/>
<path d="M1104.3,230C1100.6,229.3 1089.3,224.3 1082.3,226C1075.3,227.7 1065.6,237.7 1062.3,240" fill="none" stroke="#bd747d" stroke-width="7" stroke-linecap="round" opacity="0.3"/>
<path d="M1174.3,334C1168.6,333 1151.3,328 1140.3,328C1129.3,328 1113.6,333 1108.3,334" fill="none" stroke="#bd747d" stroke-width="7" stroke-linecap="round" opacity="0.3"/>
<path d="M1220.3,276C1219,279.3 1216,290.3 1212.3,296C1208.6,301.7 1200.6,307.7 1198.3,310" fill="none" stroke="#bd747d" stroke-width="7" stroke-linecap="round" opacity="0.3"/>
<path d="M1064.3,254C1063,257.3 1056.6,267 1056.3,274C1056,281 1061.3,292.3 1062.3,296" fill="none" stroke="#bd747d" stroke-width="7" stroke-linecap="round" opacity="0.3"/>
<path d="M1150.3,296C1147.3,294.5 1138.1,286.7 1132.3,287C1126.5,287.3 1118.1,296.2 1115.3,298" fill="none" stroke="#bd747d" stroke-width="7" stroke-linecap="round" opacity="0.3"/>
<path d="M1198.3,220C1194.5,221 1182.5,226 1175.3,226C1168.1,226 1158.6,221 1155.3,220" fill="none" stroke="#bd747d" stroke-width="7" stroke-linecap="round" opacity="0.3"/>
<path d="M1110.3,212C1106.6,212.7 1094.6,216.3 1088.3,216C1082,215.7 1075,211 1072.3,210" fill="none" stroke="#bd747d" stroke-width="7" stroke-linecap="round" opacity="0.3"/>
<path d="M1194.3,214C1192.6,213.3 1188,210.7 1184.3,210C1180.6,209.3 1174.3,210 1172.3,210" fill="none" stroke="#efc4c9" stroke-width="4.5" stroke-linecap="round" opacity="0.6"/>
<path d="M1200.3,240C1199.8,242.3 1199,250 1197.3,254C1195.6,258 1191.5,262.3 1190.3,264" fill="none" stroke="#efc4c9" stroke-width="4.5" stroke-linecap="round" opacity="0.6"/>
<path d="M1088.3,202C1086.8,202.5 1082,203.3 1079.3,205C1076.6,206.7 1073.5,210.8 1072.3,212" fill="none" stroke="#efc4c9" stroke-width="4.5" stroke-linecap="round" opacity="0.6"/>
<path d="M1086.3,278C1085.1,276.8 1081.3,273 1079.3,271C1077.3,269 1075.1,266.8 1074.3,266" fill="none" stroke="#efc4c9" stroke-width="4.5" stroke-linecap="round" opacity="0.6"/>
<path d="M1204.3,291C1203.3,293.2 1200.8,300.3 1198.3,304C1195.8,307.7 1190.8,311.5 1189.3,313" fill="none" stroke="#efc4c9" stroke-width="4.5" stroke-linecap="round" opacity="0.6"/>
<path d="M1074.3,296C1075.1,298.2 1077.1,304.8 1079.3,309C1081.5,313.2 1086,319 1087.3,321" fill="none" stroke="#efc4c9" stroke-width="4.5" stroke-linecap="round" opacity="0.6"/>
</g>
<path d="M1129.1,105C1129.1,112.5 1129.1,138 1129.1,150C1129.1,162 1129.2,170.2 1129.1,177C1129.1,183.8 1129.9,186.6 1128.8,191C1127.7,195.4 1124.9,199.8 1122.5,203.5C1120,207.3 1116.5,210.4 1114,213.4C1111.5,216.4 1109,218.7 1107.4,221.3C1105.7,223.9 1104.7,226.8 1104,229C1103.3,231.3 1103.3,234 1103.2,235" fill="none" stroke="#e08f92" stroke-width="8.0"/>
<path d="M1135.7,105C1135.7,112.5 1135.7,138 1135.7,150C1135.7,162 1135.7,170.2 1135.7,177C1135.8,183.8 1135,186.6 1136,191C1137,195.4 1139.3,199.8 1141.4,203.5C1143.5,207.3 1146.5,210.4 1148.7,213.4C1150.8,216.4 1153,218.7 1154.4,221.3C1155.8,223.9 1156.7,226.8 1157.3,229C1157.9,231.3 1157.9,234 1158,235" fill="none" stroke="#e08f92" stroke-width="8.0"/>
<path d="M1129.1,105C1129.1,112.5 1129.1,138 1129.1,150C1129.1,162 1129.2,170.2 1129.1,177C1129.1,183.8 1129.9,186.6 1128.8,191C1127.7,195.4 1124.9,199.8 1122.5,203.5C1120,207.3 1116.5,210.4 1114,213.4C1111.5,216.4 1109,218.7 1107.4,221.3C1105.7,223.9 1104.7,226.8 1104,229C1103.3,231.3 1103.3,234 1103.2,235" fill="none" stroke="#f7cdcd" stroke-width="5.2"/>
<path d="M1135.7,105C1135.7,112.5 1135.7,138 1135.7,150C1135.7,162 1135.7,170.2 1135.7,177C1135.8,183.8 1135,186.6 1136,191C1137,195.4 1139.3,199.8 1141.4,203.5C1143.5,207.3 1146.5,210.4 1148.7,213.4C1150.8,216.4 1153,218.7 1154.4,221.3C1155.8,223.9 1156.7,226.8 1157.3,229C1157.9,231.3 1157.9,234 1158,235" fill="none" stroke="#f7cdcd" stroke-width="5.2"/>
<path d="M1132.4,105V192" fill="none" stroke="#f7cdcd" stroke-width="3.2"/>
<path d="M1133.8,104.2C1133.8,111.7 1133.8,137.2 1133.8,149.2C1133.8,161.2 1133.8,169.4 1133.8,176.2C1133.8,183 1133,185.8 1134.1,190.2C1135.2,194.6 1138,199 1140.2,202.7C1142.4,206.5 1145.3,209.6 1147.5,212.6C1149.6,215.6 1151.8,217.9 1153.2,220.5C1154.6,223.1 1155.5,226 1156.1,228.2C1156.7,230.5 1156.7,233.2 1156.8,234.2" fill="none" stroke="#e79a9c" stroke-width="1.1"/>
<path d="M1123.8,202.7C1122.4,204.4 1117.8,209.6 1115.3,212.6C1112.8,215.6 1110.3,217.9 1108.7,220.5C1107,223.1 1106,226 1105.3,228.2C1104.6,230.5 1104.6,233.2 1104.5,234.2" fill="none" stroke="#e79a9c" stroke-width="1.0"/>
<circle cx="1121.4" cy="241" r="1.5" fill="#efc4c9" opacity="0.75"/>
<circle cx="1126.4" cy="238.5" r="1.5" fill="#efc4c9" opacity="0.75"/>
<circle cx="1132.4" cy="238" r="1.5" fill="#efc4c9" opacity="0.75"/>
<circle cx="1137.4" cy="240" r="1.5" fill="#efc4c9" opacity="0.75"/>
<circle cx="1142.4" cy="237" r="1.5" fill="#efc4c9" opacity="0.75"/>
<circle cx="1147.4" cy="239" r="1.5" fill="#efc4c9" opacity="0.75"/>
<rect x="1114.0" y="271.8" width="41" height="42" fill="none" stroke="#1a1a1a" stroke-width="1.5"/>
<path d="M305.7,313.8L298.9,319.7" stroke="#1a1a1a" stroke-width="1.5" fill="none"/>
<path d="M294.4,323.6L226.6,382.4" stroke="#1a1a1a" stroke-width="1.5" stroke-dasharray="9.5,7.5" fill="none"/>
<path d="M346.7,313.8L353.4,319.8" stroke="#1a1a1a" stroke-width="1.5" fill="none"/>
<path d="M357.9,323.7L424.4,382.4" stroke="#1a1a1a" stroke-width="1.5" stroke-dasharray="9.5,7.5" fill="none"/>
<path d="M708.8,313.8L702.1,319.8" stroke="#1a1a1a" stroke-width="1.5" fill="none"/>
<path d="M697.6,323.8L631.6,382.4" stroke="#1a1a1a" stroke-width="1.5" stroke-dasharray="9.5,7.5" fill="none"/>
<path d="M749.8,313.8L756.6,319.7" stroke="#1a1a1a" stroke-width="1.5" fill="none"/>
<path d="M761.2,323.6L829.7,382.4" stroke="#1a1a1a" stroke-width="1.5" stroke-dasharray="9.5,7.5" fill="none"/>
<path d="M1114.0,313.8L1107.0,319.4" stroke="#1a1a1a" stroke-width="1.5" fill="none"/>
<path d="M1102.3,323.2L1028.8,382.4" stroke="#1a1a1a" stroke-width="1.5" stroke-dasharray="9.5,7.5" fill="none"/>
<path d="M1155.0,313.8L1161.7,319.8" stroke="#1a1a1a" stroke-width="1.5" fill="none"/>
<path d="M1166.2,323.8L1232.2,382.4" stroke="#1a1a1a" stroke-width="1.5" stroke-dasharray="9.5,7.5" fill="none"/>
<rect x="224.6" y="382.4" width="201.8" height="204.2" fill="#d4e8f7"/>
<rect x="629.6" y="382.4" width="202.1" height="204" fill="#d4e8f7"/>
<rect x="1026.8" y="382.4" width="207.4" height="204.2" fill="#d4e8f7"/>
<g clip-path="url(#cbn)">
<path d="M298.3,384.8C304.7,386.7 323.9,390.9 336.7,396C349.5,401.1 367,410.4 375.1,415.2C383.3,420 386.6,421.4 385.5,424.8C384.5,428.3 376.9,431.2 368.7,436.1C360.6,440.9 348.4,448.3 336.7,453.7C325,459 311.3,464.6 298.3,468.1C285.2,471.5 264.9,473.4 258.2,474.5" fill="none" stroke="#cc8b9d" stroke-width="4.2" stroke-linecap="butt"/>
<path d="M298.3,384.8C304.7,386.7 323.9,390.9 336.7,396C349.5,401.1 367,410.4 375.1,415.2C383.3,420 386.6,421.4 385.5,424.8C384.5,428.3 376.9,431.2 368.7,436.1C360.6,440.9 348.4,448.3 336.7,453.7C325,459 311.3,464.6 298.3,468.1C285.2,471.5 264.9,473.4 258.2,474.5" fill="none" stroke="#e8bfc9" stroke-width="1.26" stroke-dasharray="3.2,3.2" stroke-linecap="round"/>
<path d="M404,436.1C405.8,437.1 411.2,440.6 415.2,442.5C419.2,444.3 425.8,446.5 428,447.3" fill="none" stroke="#cc8b9d" stroke-width="4.2" stroke-linecap="butt"/>
<path d="M404,436.1C405.8,437.1 411.2,440.6 415.2,442.5C419.2,444.3 425.8,446.5 428,447.3" fill="none" stroke="#e8bfc9" stroke-width="1.26" stroke-dasharray="3.2,3.2" stroke-linecap="round"/>
<path d="M223,583.4C227,581.5 237.2,575.4 247,572.2C256.9,569 270.2,565.8 282.3,564.2C294.3,562.6 306.3,563 319.1,562.6C331.9,562.2 347.6,562 359.1,561.8C370.6,561.5 376.5,563 387.9,561C399.4,558.9 421.3,551.6 428,549.7" fill="none" stroke="#cc8b9d" stroke-width="4.2" stroke-linecap="butt"/>
<path d="M223,583.4C227,581.5 237.2,575.4 247,572.2C256.9,569 270.2,565.8 282.3,564.2C294.3,562.6 306.3,563 319.1,562.6C331.9,562.2 347.6,562 359.1,561.8C370.6,561.5 376.5,563 387.9,561C399.4,558.9 421.3,551.6 428,549.7" fill="none" stroke="#e8bfc9" stroke-width="1.26" stroke-dasharray="3.2,3.2" stroke-linecap="round"/>
<path d="M223,512.9C228.6,512.6 244.6,511 256.6,511.3C268.6,511.6 281.7,512.6 295.1,514.5C308.4,516.4 323.4,520.7 336.7,522.5C350,524.4 363.4,525.2 375.1,525.7C386.9,526.3 401.8,525.7 407.2,525.7" fill="none" stroke="#f3d58a" stroke-width="3.2" stroke-linecap="butt"/>
<path d="M223,512.9C228.6,512.6 244.6,511 256.6,511.3C268.6,511.6 281.7,512.6 295.1,514.5C308.4,516.4 323.4,520.7 336.7,522.5C350,524.4 363.4,525.2 375.1,525.7C386.9,526.3 401.8,525.7 407.2,525.7" fill="none" stroke="#fae8b8" stroke-width="0.96" stroke-dasharray="2.4,2.4" stroke-linecap="round"/>
<path d="M267.8,442.5C266.8,444.6 264.1,451.3 261.4,455.3C258.8,459.3 253.4,464.6 251.8,466.5" fill="none" stroke="#e3d7b0" stroke-width="1.1" opacity="0.8"/>
<path d="M354.3,431.2C356.2,430.2 361.8,424.3 365.5,424.8C369.3,425.4 373.5,430.7 376.7,434.4C379.9,438.2 380.7,444.6 384.7,447.3C388.7,449.9 398.1,449.9 400.7,450.5" fill="none" stroke="#e3d7b0" stroke-width="1.1" opacity="0.8"/>
<path d="M336.7,495.3C338.6,494 344.2,487.6 347.9,487.3C351.6,487 355.9,490.5 359.1,493.7C362.3,496.9 365.8,504.4 367.1,506.5" fill="none" stroke="#e3d7b0" stroke-width="1.1" opacity="0.8"/>
<path d="M275.8,482.5C277.7,485.4 283.3,494.5 287.1,500.1C290.8,505.7 292.9,510.5 298.3,516.1C303.6,521.7 315.6,530.8 319.1,533.7" fill="none" stroke="#e3d7b0" stroke-width="1.1" opacity="0.8"/>
<circle cx="235.8" cy="397.6" r="18.3" fill="#fce9ab" stroke="#f6dc94" stroke-width="1"/><circle cx="235.8" cy="397.6" r="14.6" fill="none" stroke="#fbe3a0" stroke-width="1"/><circle cx="234.0" cy="398.5" r="8.6" fill="#fbdc84"/>
<path d="M295.4,389.6L293.5,394.5L292.8,400L287.8,402.5L284.6,406.9L279.1,406.7L273.9,408.6L269.4,405.5L264.4,403.8L262.4,398.8L258.1,395L259.4,389.6L258.2,384.2L262.4,380.5L264.2,375.2L269.4,373.8L274,371L279.2,372.2L284.7,372L287.7,376.8L292.4,379.5L293.2,384.7Z" fill="#f9d06c" stroke="#f4c760" stroke-width="0.8" stroke-linejoin="round"/><circle cx="276.6" cy="390.5" r="7.8" fill="#f6bb3a"/>
<path d="M415.3,388L412.8,393L411.7,398.1L407.1,400.8L404,405.6L398.4,405.3L393.2,407L388.8,403.6L383.4,402.5L381.4,397.4L377.6,393.4L378.9,388L377.7,382.7L381.5,378.7L383.4,373.5L388.6,372L393.2,368.8L398.4,370.9L403.8,370.7L407.1,375.1L411.7,377.9L412.2,383.2Z" fill="#f9d06c" stroke="#f4c760" stroke-width="0.8" stroke-linejoin="round"/><circle cx="395.9" cy="388.9" r="7.8" fill="#f6bb3a"/>
<circle cx="270.2" cy="422.4" r="18.3" fill="#fce9ab" stroke="#f6dc94" stroke-width="1"/><circle cx="270.2" cy="422.4" r="14.6" fill="none" stroke="#fbe3a0" stroke-width="1"/><circle cx="268.4" cy="423.4" r="8.6" fill="#fbdc84"/>
<path d="M328.3,414.4L325.8,419.2L325.4,424.7L320.6,427.3L317.3,431.5L311.9,431.5L306.7,433.6L302.2,430.3L296.9,429L295.1,423.7L291.2,419.8L292.4,414.4L291.4,409.1L295.2,405.3L297.1,400.2L302.2,398.5L306.7,395.4L312,397.1L317.5,396.9L320.6,401.6L325.4,404.2L326.1,409.5Z" fill="#f9d06c" stroke="#f4c760" stroke-width="0.8" stroke-linejoin="round"/><circle cx="309.5" cy="415.3" r="7.8" fill="#f6bb3a"/>
<path d="M369.4,408.8L367,413.7L366.5,419.2L361.8,422.1L358.3,426.3L352.8,426.2L347.6,427.3L343.1,424.5L337.6,423.5L335.7,418.2L331.8,414.3L333.3,408.8L332.1,403.5L335.9,399.6L337.8,394.4L343.1,393.1L347.6,390.3L352.7,391.9L358.2,391.6L361.8,395.6L366.5,398.4L366.6,404Z" fill="#f9d06c" stroke="#f4c760" stroke-width="0.8" stroke-linejoin="round"/><circle cx="350.3" cy="409.7" r="7.8" fill="#f6bb3a"/>
<circle cx="406.4" cy="421.6" r="18.3" fill="#fce9ab" stroke="#f6dc94" stroke-width="1"/><circle cx="406.4" cy="421.6" r="14.6" fill="none" stroke="#fbe3a0" stroke-width="1"/><circle cx="404.5" cy="422.6" r="8.6" fill="#fbdc84"/>
<path d="M254.7,437.7L252.1,442.4L251.9,448L246.9,450.5L243.7,455L238.3,454.6L233.2,456.2L228.6,453.4L223.6,451.8L221.3,447L217.8,442.9L218.8,437.7L217.6,432.3L221.1,428.2L223.5,423.5L228.7,422.1L233.1,418.7L238.3,420.2L243.8,420.3L247.1,424.7L252.1,427.2L252.1,432.9Z" fill="#f9d06c" stroke="#f4c760" stroke-width="0.8" stroke-linejoin="round"/><circle cx="235.8" cy="438.5" r="7.8" fill="#f6bb3a"/>
<path d="M298.7,464.9L296.7,469.8L295.7,475L291.3,478L287.6,481.9L282.3,481.8L277.1,484.1L272.8,480.4L267.3,479.3L265.4,474.2L261.6,470.2L262.6,464.9L261.8,459.6L265.1,455.4L267.6,450.7L272.8,449.3L277.2,446.4L282.3,447.9L287.7,447.6L291.3,451.6L295.8,454.6L296.2,460.1Z" fill="#f9d06c" stroke="#f4c760" stroke-width="0.8" stroke-linejoin="round"/><circle cx="279.9" cy="465.8" r="7.8" fill="#f6bb3a"/>
<path d="M340.5,468.9L338,473.7L337.3,479L333,482.1L329.3,485.9L323.9,486L318.7,488L314.4,484.3L309,483.3L306.9,478.3L303.5,474.2L304.3,468.9L303.1,463.5L307,459.6L308.9,454.4L314.4,453.4L318.8,450.2L323.9,452.1L329.4,451.5L333,455.6L337.6,458.5L338.2,464Z" fill="#f9d06c" stroke="#f4c760" stroke-width="0.8" stroke-linejoin="round"/><circle cx="321.5" cy="469.8" r="7.8" fill="#f6bb3a"/>
<path d="M375.8,452.1L373.2,456.9L372.8,462.4L367.9,465L364.7,469.6L359.2,469.4L354,471L349.6,467.5L344.2,466.5L342.3,461.3L338.6,457.4L339.1,452.1L338.1,446.6L342.5,442.9L344.1,437.5L349.5,436.3L354,433.3L359.1,435.1L364.7,434.6L368,439L372.8,441.7L373.4,447.2Z" fill="#f9d06c" stroke="#f4c760" stroke-width="0.8" stroke-linejoin="round"/><circle cx="356.7" cy="453.0" r="7.8" fill="#f6bb3a"/>
<path d="M434.2,464.9L431.8,469.8L431.4,475.3L426.5,477.9L423.1,482.2L417.6,482L412.5,483.5L408,480.6L402.6,479.3L400.5,474.3L397.2,470.2L398,464.9L397.2,459.6L400.4,455.4L402.6,450.4L408.1,449.5L412.4,445.7L417.7,447.5L423.1,447.4L426.5,451.8L431,454.7L431.4,460.1Z" fill="#f9d06c" stroke="#f4c760" stroke-width="0.8" stroke-linejoin="round"/><circle cx="415.2" cy="465.8" r="7.8" fill="#f6bb3a"/>
<circle cx="239.0" cy="480.9" r="18.3" fill="#fce9ab" stroke="#f6dc94" stroke-width="1"/><circle cx="239.0" cy="480.9" r="14.6" fill="none" stroke="#fbe3a0" stroke-width="1"/><circle cx="237.2" cy="481.8" r="8.6" fill="#fbdc84"/>
<path d="M398.8,484.9L396.6,489.8L396.1,495.3L391.4,498.1L387.8,502L382.4,501.8L377.3,503.5L372.8,500.4L367.4,499.4L365.6,494.1L361.6,490.3L362.9,484.9L361.8,479.6L365.4,475.6L367.3,470.3L372.7,469.1L377.3,466.4L382.4,468L387.7,467.8L391.4,471.6L396.1,474.5L396.7,480Z" fill="#f9d06c" stroke="#f4c760" stroke-width="0.8" stroke-linejoin="round"/><circle cx="379.9" cy="485.8" r="7.8" fill="#f6bb3a"/>
<circle cx="323.1" cy="506.5" r="18.3" fill="#fce9ab" stroke="#f6dc94" stroke-width="1"/><circle cx="323.1" cy="506.5" r="14.6" fill="none" stroke="#fbe3a0" stroke-width="1"/><circle cx="321.3" cy="507.4" r="8.6" fill="#fbdc84"/>
<circle cx="274.2" cy="514.5" r="18.3" fill="#fce9ab" stroke="#f6dc94" stroke-width="1"/><circle cx="274.2" cy="514.5" r="14.6" fill="none" stroke="#fbe3a0" stroke-width="1"/><circle cx="272.4" cy="515.4" r="8.6" fill="#fbdc84"/>
<circle cx="370.3" cy="526.5" r="18.3" fill="#fce9ab" stroke="#f6dc94" stroke-width="1"/><circle cx="370.3" cy="526.5" r="14.6" fill="none" stroke="#fbe3a0" stroke-width="1"/><circle cx="368.5" cy="527.4" r="8.6" fill="#fbdc84"/>
<path d="M435.8,514.5L433.5,519.4L433.1,525L428,527.4L424.8,532L419.2,531.7L414,533.5L409.7,530L404.5,528.7L402.3,523.8L398.3,519.9L399.7,514.5L398.5,509.1L402.3,505.2L404.1,499.9L409.5,498.5L414.1,495.7L419.3,497.1L424.5,497.5L428.2,501.3L433,504.1L433.1,509.7Z" fill="#f9d06c" stroke="#f4c760" stroke-width="0.8" stroke-linejoin="round"/><circle cx="416.8" cy="515.4" r="7.8" fill="#f6bb3a"/>
<path d="M257.8,535.3L255.7,540.2L254.9,545.6L250.2,548.2L246.9,552.6L241.5,552.4L236.3,554.2L231.9,551L226.7,549.6L224.6,544.6L220.6,540.7L221.9,535.3L220.6,529.9L224.3,525.9L226.4,520.7L231.7,519.3L236.3,516.7L241.4,518.4L247,517.9L250.4,522.2L254.9,525.1L255.7,530.4Z" fill="#f9d06c" stroke="#f4c760" stroke-width="0.8" stroke-linejoin="round"/><circle cx="239.0" cy="536.2" r="7.8" fill="#f6bb3a"/>
<path d="M318.2,546.5L315.8,551.5L315.1,556.8L310.4,559.6L306.9,563.8L301.6,564L296.4,565.2L292,562L286.7,560.8L284.7,555.8L280.9,551.9L282,546.5L281.1,541.3L284.6,537.3L286.7,532.2L291.9,530.8L296.4,527.9L301.5,529.8L306.9,529.4L310.4,533.5L315,536.3L315.8,541.6Z" fill="#f9d06c" stroke="#f4c760" stroke-width="0.8" stroke-linejoin="round"/><circle cx="299.1" cy="547.4" r="7.8" fill="#f6bb3a"/>
<circle cx="336.7" cy="548.9" r="18.3" fill="#fce9ab" stroke="#f6dc94" stroke-width="1"/><circle cx="336.7" cy="548.9" r="14.6" fill="none" stroke="#fbe3a0" stroke-width="1"/><circle cx="334.9" cy="549.9" r="8.6" fill="#fbdc84"/>
<path d="M423.6,556.1L421.4,561L420.9,566.5L416,569.2L412.6,573.3L407.2,573.4L402,575.2L397.6,571.9L392.3,570.5L390.4,565.4L386.8,561.4L387.6,556.1L386.4,550.8L390.5,547L392.1,541.6L397.7,540.6L402.1,537.5L407.2,539.4L412.8,538.5L416.2,543L421,545.7L421.4,551.3Z" fill="#f9d06c" stroke="#f4c760" stroke-width="0.8" stroke-linejoin="round"/><circle cx="404.8" cy="557.0" r="7.8" fill="#f6bb3a"/>
<path d="M284,565.8L281,570.5L280.4,575.9L276.2,579.1L272.5,582.9L267.1,582.6L261.9,584.7L257.5,581.4L252,580.4L250.3,575L246.1,571.2L247.5,565.8L246.3,560.4L249.9,556.3L252.1,551.3L257.3,549.8L261.9,546.8L267.1,549L272.7,548.2L276,552.7L280.5,555.5L281,561Z" fill="#f9d06c" stroke="#f4c760" stroke-width="0.8" stroke-linejoin="round"/><circle cx="264.6" cy="566.6" r="7.8" fill="#f6bb3a"/>
<path d="M338.4,586.6L336,591.5L335.3,597L330.2,599.4L327,604L321.5,603.6L316.4,605.4L312,602L306.8,600.8L304.6,595.9L301,591.9L301.8,586.6L301.1,581.3L304.8,577.4L306.5,572.1L311.9,570.9L316.4,567.7L321.6,569.3L327,569.3L330.2,573.8L335.3,576.2L335.7,581.7Z" fill="#f9d06c" stroke="#f4c760" stroke-width="0.8" stroke-linejoin="round"/><circle cx="319.1" cy="587.5" r="7.8" fill="#f6bb3a"/>
<path d="M387.9,587.4L385.5,592.3L384.6,597.5L380.3,600.7L376.5,604.5L371.2,604.6L366.1,605.9L361.5,603.2L356.4,601.6L354.1,596.8L350.3,592.8L351.3,587.4L350.5,582L354,577.9L356,572.7L361.7,571.9L366,568.5L371.2,570L376.7,569.9L380,574.4L384.6,577.2L385.6,582.4Z" fill="#f9d06c" stroke="#f4c760" stroke-width="0.8" stroke-linejoin="round"/><circle cx="368.7" cy="588.3" r="7.8" fill="#f6bb3a"/>
</g>
<g clip-path="url(#cbd)">
<path d="M626.4,386.7C630.7,388 642.4,391.5 652,394.4C661.6,397.3 673.4,402 684,404C694.7,406 705.4,406 716.1,406.4C726.8,406.8 737.4,405.9 748.1,406.4C758.8,407 770.8,408.4 780.1,409.6C789.5,410.8 795.1,411.7 804.2,413.6C813.2,415.6 829.5,420.1 834.6,421.3" fill="none" stroke="#ab98d4" stroke-width="4.6" stroke-linecap="butt"/>
<path d="M626.4,386.7C630.7,388 642.4,391.5 652,394.4C661.6,397.3 673.4,402 684,404C694.7,406 705.4,406 716.1,406.4C726.8,406.8 737.4,405.9 748.1,406.4C758.8,407 770.8,408.4 780.1,409.6C789.5,410.8 795.1,411.7 804.2,413.6C813.2,415.6 829.5,420.1 834.6,421.3" fill="none" stroke="#d6caec" stroke-width="1.38" stroke-dasharray="3.4,3.4" stroke-linecap="round"/>
<path d="M626.4,455.3C630.7,454 643.7,451 652,447.3C660.3,443.6 668,438 676,432.9C684,427.8 693.4,421.3 700.1,416.9C706.7,412.4 709.4,410 716.1,406.4C722.7,402.8 732.1,398.4 740.1,395.2C748.1,392 755.3,389.5 764.1,387.2C772.9,384.9 788.1,382.5 792.9,381.6" fill="none" stroke="#ab98d4" stroke-width="4.6" stroke-linecap="butt"/>
<path d="M626.4,455.3C630.7,454 643.7,451 652,447.3C660.3,443.6 668,438 676,432.9C684,427.8 693.4,421.3 700.1,416.9C706.7,412.4 709.4,410 716.1,406.4C722.7,402.8 732.1,398.4 740.1,395.2C748.1,392 755.3,389.5 764.1,387.2C772.9,384.9 788.1,382.5 792.9,381.6" fill="none" stroke="#d6caec" stroke-width="1.38" stroke-dasharray="3.4,3.4" stroke-linecap="round"/>
<path d="M666.4,424.9C670.7,427.3 683.8,434.7 692.1,439.3C700.3,443.8 708.1,448.4 716.1,452.1C724.1,455.8 732.1,459.1 740.1,461.7C748.1,464.4 756.1,466.3 764.1,468.1C772.1,470 780.1,471.1 788.1,472.9C796.1,474.8 804.4,476.9 812.2,479.4C819.9,481.8 830.8,486.3 834.6,487.7" fill="none" stroke="#ab98d4" stroke-width="4.6" stroke-linecap="butt"/>
<path d="M666.4,424.9C670.7,427.3 683.8,434.7 692.1,439.3C700.3,443.8 708.1,448.4 716.1,452.1C724.1,455.8 732.1,459.1 740.1,461.7C748.1,464.4 756.1,466.3 764.1,468.1C772.1,470 780.1,471.1 788.1,472.9C796.1,474.8 804.4,476.9 812.2,479.4C819.9,481.8 830.8,486.3 834.6,487.7" fill="none" stroke="#d6caec" stroke-width="1.38" stroke-dasharray="3.4,3.4" stroke-linecap="round"/>
<path d="M626.4,522.9C632,523.6 649.1,526 660,526.6C671,527.2 681.4,527.6 692.1,526.6C702.7,525.7 713.4,523.2 724.1,521C734.8,518.9 745.4,515.5 756.1,513.8C766.8,512.1 775.1,510.7 788.1,510.6C801.2,510.5 826.8,512.9 834.6,513.3" fill="none" stroke="#ab98d4" stroke-width="4.6" stroke-linecap="butt"/>
<path d="M626.4,522.9C632,523.6 649.1,526 660,526.6C671,527.2 681.4,527.6 692.1,526.6C702.7,525.7 713.4,523.2 724.1,521C734.8,518.9 745.4,515.5 756.1,513.8C766.8,512.1 775.1,510.7 788.1,510.6C801.2,510.5 826.8,512.9 834.6,513.3" fill="none" stroke="#d6caec" stroke-width="1.38" stroke-dasharray="3.4,3.4" stroke-linecap="round"/>
<path d="M626.4,550.2C632,551.6 649.1,556.7 660,558.7C671,560.6 681.4,561.5 692.1,561.9C702.7,562.3 713.4,561.1 724.1,561.1C734.8,561.1 746.8,561.1 756.1,561.9C765.5,562.7 772.1,564.2 780.1,565.9C788.1,567.6 795.1,569.5 804.2,572.3C813.2,575.1 829.5,581.1 834.6,582.9" fill="none" stroke="#ab98d4" stroke-width="4.6" stroke-linecap="butt"/>
<path d="M626.4,550.2C632,551.6 649.1,556.7 660,558.7C671,560.6 681.4,561.5 692.1,561.9C702.7,562.3 713.4,561.1 724.1,561.1C734.8,561.1 746.8,561.1 756.1,561.9C765.5,562.7 772.1,564.2 780.1,565.9C788.1,567.6 795.1,569.5 804.2,572.3C813.2,575.1 829.5,581.1 834.6,582.9" fill="none" stroke="#d6caec" stroke-width="1.38" stroke-dasharray="3.4,3.4" stroke-linecap="round"/>
<path d="M677.6,446.5C679.5,447.3 685.1,452 688.9,451.3C692.6,450.6 696.9,445.8 700.1,442.5C703.3,439.2 705.1,434.3 708.1,431.3C711,428.2 714.7,424.9 717.7,424.1C720.6,423.3 723.6,425.5 725.7,426.5C727.8,427.4 729.7,429.1 730.5,429.7" fill="none" stroke="#6668ad" stroke-width="1.3" stroke-linecap="round"/>
<path d="M679.2,447.4L682.2,444.9M682.2,444.9l1.8,-2.3M682.2,444.9l-0.2,-0.3M682.5,449.5L685.1,447.2M685.1,447.2l1.7,-2.3M685.1,447.2l-0.3,-0.3M686.4,451.1L687,455M687,455l0.7,0.5M687,455l-1.3,2.5M690,451L689.5,447.1M689.5,447.1l0.4,-2.4M689.5,447.1l-1.6,-0.4M693.5,448.9L696.3,450.4M696.3,450.4l2,0.2M696.3,450.4l-0,2.2M696.9,445.7L695.7,442.9M695.7,442.9l-0.1,-2M695.7,442.9l-2.1,-0M700.1,442.5L703.5,444M703.5,444l2.1,-0M703.5,444l0.1,2M702.6,439.2L706.1,440M706.1,440l2.3,-0.2M706.1,440l0.3,1.8M704.9,435.6L703.1,433M703.1,433l-0.3,-1.8M703.1,433l-2.3,0.2M707.2,432.2L704.8,428.6M704.8,428.6l-0.1,-2M704.8,428.6l-2.1,0M709.9,429.4L713.5,431.5M713.5,431.5l2,0.1M713.5,431.5l0,2.1M712.9,426.8L712.1,423.8M712.1,423.8l0.1,-2.2M712.1,423.8l-1.9,-0.2M715.8,424.8L715.6,421.5M715.6,421.5l0.4,-2.4M715.6,421.5l-1.6,-0.4M718.6,423.9L719.8,419.8M719.8,419.8l1,-2.5M719.8,419.8l-1,-0.5M721.2,424.3L721,427.9M721,427.9l0.5,0.4M721,427.9l-1.5,2.4M723.6,425.4L722.8,429.4M722.8,429.4l0.3,0.3M722.8,429.4l-1.7,2.3M725.7,426.5L725.3,430M725.3,430l0.4,0.4M725.3,430l-1.6,2.4M727.5,427.5L726,431.8M726,431.8l0.2,0.2M726,431.8l-1.8,2.2M729.1,428.6L732.6,426M732.6,426l1.9,-2.2M732.6,426l-0.1,-0.2M730.2,429.5L732.7,428.1M732.7,428.1l1.9,-2.2M732.7,428.1l-0.1,-0.2" fill="none" stroke="#6668ad" stroke-width="0.6" opacity="0.6"/>
<path d="M738.5,450.5C739.6,450.8 743.6,453.4 744.9,452.1C746.2,450.8 746.5,446 746.5,442.5C746.5,439 743.8,434.5 744.9,431.3C746,428.1 748.4,424.5 752.9,423.3C757.4,422.1 765.5,423.5 772.1,424.1C778.8,424.6 786.8,426.9 792.9,426.5C799.1,426.1 805,424.3 809,421.7C813,419 815.5,414.5 817,410.4C818.4,406.4 817.6,399.8 817.8,397.6" fill="none" stroke="#6668ad" stroke-width="1.3" stroke-linecap="round"/>
<path d="M740.3,451.3L742.7,449M742.7,449l1.6,-2.4M742.7,449l-0.4,-0.4M744,452.5L746.5,455.2M746.5,455.2l1.6,0.4M746.5,455.2l-0.4,2.4M745.9,449.8L743.5,448.2M743.5,448.2l-0.5,-1.3M743.5,448.2l-2.5,0.7M746.5,444.3L750.1,443.2M750.1,443.2l2.5,-1M750.1,443.2l0.5,1M745.9,438.8L749.5,436.5M749.5,436.5l2.4,-1.4M749.5,436.5l0.4,0.6M744.7,433L741.9,431.4M741.9,431.4l-0.5,-1.2M741.9,431.4l-2.5,0.8M746.4,428L749.6,428.9M749.6,428.9l2.2,-0.1M749.6,428.9l0.2,1.9M750.8,424.1L750.5,419.7M750.5,419.7l0.5,-2.4M750.5,419.7l-1.5,-0.4M758.4,422.8L759.5,425.8M759.5,425.8l0.9,0.5M759.5,425.8l-1.1,2.5M768.7,423.7L770.3,419.7M770.3,419.7l1.1,-2.5M770.3,419.7l-0.9,-0.5M779.1,425L779.6,429.3M779.6,429.3l0.8,0.5M779.6,429.3l-1.2,2.5M789.7,426.5L790.9,423.6M790.9,423.6l1,-2.5M790.9,423.6l-1,-0.5M798.9,425.6L801,429M801,429l1.4,0.5M801,429l-0.6,2.5M806.8,422.9L809.2,424.6M809.2,424.6l1.8,0.3M809.2,424.6l-0.2,2.3M812.5,418.5L816.3,419.8M816.3,419.8l2.2,-0.1M816.3,419.8l0.2,1.9M816.1,412.5L813.9,410.3M813.9,410.3l-0.4,-1.6M813.9,410.3l-2.4,0.4M817.8,405.8L820.9,404.7M820.9,404.7l2.5,-1M820.9,404.7l0.5,1M817.8,399L820.3,397.8M820.3,397.8l2.5,-1M820.3,397.8l0.5,1" fill="none" stroke="#6668ad" stroke-width="0.6" opacity="0.6"/>
<path d="M631.2,485.8C633.3,485.2 640,485.5 644,482.6C648,479.6 651.5,472 655.2,468.1C659,464.3 663.2,460.4 666.4,459.3C669.6,458.3 672.2,460.8 674.4,461.7C676.7,462.7 679.1,464.4 680,464.9" fill="none" stroke="#6668ad" stroke-width="1.3" stroke-linecap="round"/>
<path d="M632.6,485.5L634.2,489.4M634.2,489.4l1.2,0.5M634.2,489.4l-0.8,2.5M635.7,485.2L636.3,480.9M636.3,480.9l0.8,-2.5M636.3,480.9l-1.2,-0.5M639.4,484.6L639.5,480.6M639.5,480.6l0.6,-2.4M639.5,480.6l-1.4,-0.4M643,483.2L642.5,480.3M642.5,480.3l0.2,-2.3M642.5,480.3l-1.8,-0.3M646,480.7L650,482.6M650,482.6l2.1,-0M650,482.6l0.1,2M648.8,477.1L652.4,478.1M652.4,478.1l2.2,-0.2M652.4,478.1l0.2,1.8M651.5,472.9L650.1,470.5M650.1,470.5l-0.2,-1.8M650.1,470.5l-2.2,0.2M654.3,469.2L652.6,466.1M652.6,466.1l-0.1,-2M652.6,466.1l-2.1,0M657.1,466.2L655,462.3M655,462.3l-0,-2.1M655,462.3l-2,-0.1M660.1,463.5L662.8,464.9M662.8,464.9l2,0.1M662.8,464.9l-0,2.1M662.9,461.2L662.4,458.2M662.4,458.2l0.2,-2.2M662.4,458.2l-1.8,-0.2M665.6,459.6L667.7,461.8M667.7,461.8l1.5,0.4M667.7,461.8l-0.5,2.4M668,459.1L669.5,454.7M669.5,454.7l1.1,-2.5M669.5,454.7l-0.9,-0.5M670.1,459.5L672.4,457.3M672.4,457.3l1.6,-2.4M672.4,457.3l-0.4,-0.4M672.1,460.4L675.3,457.2M675.3,457.2l1.8,-2.3M675.3,457.2l-0.2,-0.3M673.9,461.5L676.7,458.1M676.7,458.1l1.6,-2.4M676.7,458.1l-0.4,-0.4M675.6,462.2L675.2,465.6M675.2,465.6l0.3,0.3M675.2,465.6l-1.7,2.3M677.2,463.2L680.1,460.7M680.1,460.7l1.8,-2.3M680.1,460.7l-0.2,-0.3M678.7,464.1L681.2,462.3M681.2,462.3l1.8,-2.3M681.2,462.3l-0.2,-0.3M679.8,464.8L683.1,461.6M683.1,461.6l1.8,-2.3M683.1,461.6l-0.2,-0.3" fill="none" stroke="#6668ad" stroke-width="0.6" opacity="0.6"/>
<path d="M666.4,513C668.3,513.8 673.9,518.1 677.6,517.8C681.4,517.5 685.4,514.9 688.9,511.4C692.3,507.9 695.5,500.3 698.5,497C701.4,493.6 703.8,491.9 706.5,491.4C709.1,490.8 712.3,492.8 714.5,493.8C716.6,494.7 718.5,496.4 719.3,497" fill="none" stroke="#6668ad" stroke-width="1.3" stroke-linecap="round"/>
<path d="M668,513.8L670.8,511.5M670.8,511.5l1.8,-2.3M670.8,511.5l-0.2,-0.3M671.3,515.8L671.2,518.6M671.2,518.6l0.3,0.3M671.2,518.6l-1.7,2.3M675.2,517.5L677.2,514M677.2,514l1.3,-2.5M677.2,514l-0.7,-0.5M678.8,517.7L681,521.7M681,521.7l1.4,0.5M681,521.7l-0.6,2.5M682.2,516.4L684.8,518.6M684.8,518.6l1.7,0.3M684.8,518.6l-0.3,2.3M685.6,514.3L684.6,511.1M684.6,511.1l0.1,-2.2M684.6,511.1l-1.9,-0.2M688.9,511.4L686.7,507.9M686.7,507.9l-0.1,-2M686.7,507.9l-2.1,0M691.9,507.4L696.2,508.6M696.2,508.6l2.3,-0.2M696.2,508.6l0.3,1.8M694.8,502.5L692.9,500M692.9,500l-0.3,-1.8M692.9,500l-2.3,0.2M697.6,498.1L701.3,499.5M701.3,499.5l2.2,-0.1M701.3,499.5l0.2,1.9M700.2,495.2L698.2,491.3M698.2,491.3l-0,-2.1M698.2,491.3l-2,-0.1M702.6,493.1L706,496.2M706,496.2l1.8,0.3M706,496.2l-0.2,2.3M704.9,491.8L707.4,495.3M707.4,495.3l1.5,0.4M707.4,495.3l-0.5,2.4M707.3,491.3L708.3,494.7M708.3,494.7l0.9,0.5M708.3,494.7l-1.1,2.5M709.8,491.7L712.3,488.3M712.3,488.3l1.5,-2.4M712.3,488.3l-0.5,-0.4M712.3,492.7L712.2,495.7M712.2,495.7l0.3,0.4M712.2,495.7l-1.7,2.4M714.5,493.8L717.1,491M717.1,491l1.6,-2.4M717.1,491l-0.4,-0.4M716.3,494.8L719.6,492M719.6,492l1.8,-2.2M719.6,492l-0.2,-0.2M717.9,495.9L716.7,499.4M716.7,499.4l0.1,0.2M716.7,499.4l-1.9,2.2M719,496.8L722,494.6M722,494.6l1.9,-2.2M722,494.6l-0.1,-0.2" fill="none" stroke="#6668ad" stroke-width="0.6" opacity="0.6"/>
<path d="M760.9,481C759.6,481.8 755,483.6 752.9,485.8C750.8,487.9 748.1,490.6 748.1,493.8C748.1,497 751.3,501.3 752.9,505C754.5,508.7 757.2,512.2 757.7,516.2C758.2,520.2 757.7,525.7 756.1,529C754.5,532.4 749.4,535 748.1,536.2" fill="none" stroke="#6668ad" stroke-width="1.3" stroke-linecap="round"/>
<path d="M759.8,481.6L756.7,478.2M756.7,478.2l0.3,-2.3M756.7,478.2l-1.7,-0.3M757.2,482.9L754.3,480.1M754.3,480.1l0.3,-2.3M754.3,480.1l-1.7,-0.3M754.4,484.5L756,488.6M756,488.6l1.9,0.2M756,488.6l-0.1,2.2M752.3,486.4L753.7,489.5M753.7,489.5l2.1,0M753.7,489.5l0.1,2M750.3,488.6L753,492.1M753,492.1l2.2,-0.1M753,492.1l0.2,1.9M748.7,491L750.7,493.1M750.7,493.1l2.4,-0.5M750.7,493.1l0.4,1.5M748.1,493.8L744.9,495.3M744.9,495.3l-0.5,-0.9M744.9,495.3l-2.5,1.1M748.8,496.9L751.8,496.9M751.8,496.9l2.4,-1.6M751.8,496.9l0.4,0.4M750.5,500.4L748.8,502.7M748.8,502.7l-0.3,-0.3M748.8,502.7l-2.3,1.7M752.4,503.9L756.9,503.1M756.9,503.1l2.4,-1.6M756.9,503.1l0.4,0.4M754,507.2L757.8,506.6M757.8,506.6l2.3,-1.7M757.8,506.6l0.3,0.3M755.7,510.5L753.9,512.7M753.9,512.7l-0.3,-0.3M753.9,512.7l-2.3,1.7M757.2,513.9L760,514.3M760,514.3l2.4,-1.4M760,514.3l0.4,0.6M757.8,517.5L761,518.5M761,518.5l2.5,-1.1M761,518.5l0.5,0.9M757.8,521.5L761.3,523M761.3,523l2.5,-0.9M761.3,523l0.5,1.1M757.3,525.5L753.5,525.8M753.5,525.8l-0.5,-1.4M753.5,525.8l-2.5,0.6M756.1,529L757.8,531.4M757.8,531.4l2.3,-0.2M757.8,531.4l0.3,1.8M753.9,531.8L755.2,535.1M755.2,535.1l2,0.1M755.2,535.1l-0,2.1M751,534.1L752.1,537.8M752.1,537.8l1.9,0.2M752.1,537.8l-0.1,2.2M748.6,535.8L749.9,539.3M749.9,539.3l1.9,0.2M749.9,539.3l-0.1,2.2" fill="none" stroke="#6668ad" stroke-width="0.6" opacity="0.6"/>
<path d="M654.4,549.9C656.4,549.1 663.1,545.1 666.4,545.1C669.8,545.1 671.8,546.9 674.4,549.9C677.1,552.8 679.5,559.2 682.4,562.7C685.4,566.2 688.1,569.8 692.1,570.7C696.1,571.6 704.1,568.7 706.5,568.3" fill="none" stroke="#6668ad" stroke-width="1.3" stroke-linecap="round"/>
<path d="M655.8,549.2L655.4,545.8M655.4,545.8l0.3,-2.3M655.4,545.8l-1.7,-0.3M658.8,547.7L661.1,549.7M661.1,549.7l1.7,0.4M661.1,549.7l-0.3,2.4M662.3,546.1L662.5,543.2M662.5,543.2l0.5,-2.4M662.5,543.2l-1.5,-0.4M665.5,545.1L666.4,540.9M666.4,540.9l0.9,-2.5M666.4,540.9l-1.1,-0.5M668,545.2L670,542.3M670,542.3l1.4,-2.5M670,542.3l-0.6,-0.5M670.1,546L672.9,543.7M672.9,543.7l1.8,-2.3M672.9,543.7l-0.2,-0.3M671.9,547.3L670.6,550.5M670.6,550.5l-0,0.1M670.6,550.5l-2,2.1M673.8,549.2L677.8,547.1M677.8,547.1l2.1,-2M677.8,547.1l0.1,-0M675.8,551.6L674.1,554M674.1,554l-0.3,-0.2M674.1,554l-2.3,1.8M677.7,554.9L681.8,554M681.8,554l2.3,-1.7M681.8,554l0.3,0.3M679.7,558.5L677.2,561.3M677.2,561.3l-0.3,-0.2M677.2,561.3l-2.3,1.8M681.7,561.8L679.1,565.4M679.1,565.4l-0.2,-0.1M679.1,565.4l-2.2,1.9M683.9,564.4L681.7,567.9M681.7,567.9l-0.1,-0M681.7,567.9l-2.1,2M686.1,566.9L685,569.6M685,569.6l-0.1,0.1M685,569.6l-2.1,2.1M688.4,569L691.3,566.9M691.3,566.9l1.8,-2.2M691.3,566.9l-0.2,-0.2M691.1,570.4L691.5,573.4M691.5,573.4l0.6,0.4M691.5,573.4l-1.4,2.4M694.3,570.9L695.3,567.6M695.3,567.6l0.9,-2.5M695.3,567.6l-1.1,-0.5M698.5,570.3L698.9,566.6M698.9,566.6l0.7,-2.5M698.9,566.6l-1.3,-0.5M702.6,569.3L702.7,565.5M702.7,565.5l0.6,-2.4M702.7,565.5l-1.4,-0.4M705.8,568.4L706.2,564.6M706.2,564.6l0.7,-2.5M706.2,564.6l-1.3,-0.5" fill="none" stroke="#6668ad" stroke-width="0.6" opacity="0.6"/>
<path d="M778.5,586.4C777.7,584.3 774.5,577.9 773.7,573.9C772.9,569.9 772.4,565.6 773.7,562.7C775.1,559.7 778,557.6 781.7,556.3C785.5,554.9 791.1,555.2 796.1,554.7C801.2,554.1 807.4,554.1 812.2,553.1C817,552 822,549.6 825,548.3C827.9,546.9 829,545.6 829.8,545.1" fill="none" stroke="#6668ad" stroke-width="1.3" stroke-linecap="round"/>
<path d="M777.6,584.1L780.5,581.5M780.5,581.5l2.4,-1.6M780.5,581.5l0.4,0.4M775.4,579L777.6,576.9M777.6,576.9l2.4,-1.5M777.6,576.9l0.4,0.5M773.7,573.9L770.4,573.3M770.4,573.3l-0.5,-0.7M770.4,573.3l-2.5,1.3M773,569.4L777.2,567.9M777.2,567.9l2.5,-1.1M777.2,567.9l0.5,0.9M773.1,565.1L770.2,563.3M770.2,563.3l-0.5,-1.3M770.2,563.3l-2.5,0.7M774.3,561.6L771.8,558.3M771.8,558.3l-0.2,-1.9M771.8,558.3l-2.2,0.1M776.8,558.9L775.6,555M775.6,555l0.1,-2.2M775.6,555l-1.9,-0.2M780.4,556.8L783.1,560.5M783.1,560.5l1.6,0.4M783.1,560.5l-0.4,2.4M784.9,555.5L786.4,558.2M786.4,558.2l1.2,0.5M786.4,558.2l-0.8,2.5M790.3,555.1L791.4,552.4M791.4,552.4l0.9,-2.5M791.4,552.4l-1.1,-0.5M796.1,554.7L797,551.1M797,551.1l0.9,-2.5M797,551.1l-1.1,-0.5M802.2,554.2L803.1,550.1M803.1,550.1l0.9,-2.5M803.1,550.1l-1.1,-0.5M808.3,553.7L810.1,557.6M810.1,557.6l1.2,0.5M810.1,557.6l-0.8,2.5M814,552.6L813.8,548.1M813.8,548.1l0.6,-2.4M813.8,548.1l-1.4,-0.4M819.3,550.8L818.9,546.7M818.9,546.7l0.4,-2.4M818.9,546.7l-1.6,-0.4M823.8,548.8L826.6,552.2M826.6,552.2l1.6,0.4M826.6,552.2l-0.4,2.4M826.9,547.3L830.2,550.2M830.2,550.2l1.8,0.3M830.2,550.2l-0.2,2.3M828.7,546L831.6,547.5M831.6,547.5l2,0.1M831.6,547.5l-0,2.1" fill="none" stroke="#6668ad" stroke-width="0.6" opacity="0.6"/>
<path d="M626.4,453.7C630.7,449.4 643.7,436.6 652,428.1C660.3,419.5 669.9,408.6 676,402.4C682.2,396.3 684.3,394.8 688.9,391.2C693.4,387.6 700.9,382.5 703.3,380.8" fill="none" stroke="#3d85c3" stroke-width="3.7" stroke-linecap="butt"/>
<path d="M626.4,453.7C630.7,449.4 643.7,436.6 652,428.1C660.3,419.5 669.9,408.6 676,402.4C682.2,396.3 684.3,394.8 688.9,391.2C693.4,387.6 700.9,382.5 703.3,380.8" fill="none" stroke="#9ccbea" stroke-width="1.11" stroke-dasharray="2.8,2.8" stroke-linecap="round"/>
<path d="M626.4,506.3C630.7,503.7 643.7,494.8 652,490.6C660.3,486.3 668,484 676,481C684,477.9 690.7,474.5 700.1,472.1C709.4,469.7 721.4,468.3 732.1,466.5C742.8,464.8 753.4,464.1 764.1,461.7C774.8,459.3 787.6,455 796.1,452.1C804.7,449.2 809,447.2 815.4,444.1C821.8,441 831.4,435.1 834.6,433.4" fill="none" stroke="#3d85c3" stroke-width="3.7" stroke-linecap="butt"/>
<path d="M626.4,506.3C630.7,503.7 643.7,494.8 652,490.6C660.3,486.3 668,484 676,481C684,477.9 690.7,474.5 700.1,472.1C709.4,469.7 721.4,468.3 732.1,466.5C742.8,464.8 753.4,464.1 764.1,461.7C774.8,459.3 787.6,455 796.1,452.1C804.7,449.2 809,447.2 815.4,444.1C821.8,441 831.4,435.1 834.6,433.4" fill="none" stroke="#9ccbea" stroke-width="1.11" stroke-dasharray="2.8,2.8" stroke-linecap="round"/>
<path d="M656.8,442.5C661.4,444.6 675.8,450.5 684,455.3C692.3,460.1 698.5,465.7 706.5,471.3C714.5,476.9 723.8,484.2 732.1,489C740.4,493.8 748.1,497.2 756.1,500.2C764.1,503.1 773.5,504.7 780.1,506.6C786.8,508.5 790.3,509.3 796.1,511.4C802,513.5 809,515.9 815.4,519.4C821.8,522.9 831.4,530.1 834.6,532.2" fill="none" stroke="#3d85c3" stroke-width="3.7" stroke-linecap="butt"/>
<path d="M656.8,442.5C661.4,444.6 675.8,450.5 684,455.3C692.3,460.1 698.5,465.7 706.5,471.3C714.5,476.9 723.8,484.2 732.1,489C740.4,493.8 748.1,497.2 756.1,500.2C764.1,503.1 773.5,504.7 780.1,506.6C786.8,508.5 790.3,509.3 796.1,511.4C802,513.5 809,515.9 815.4,519.4C821.8,522.9 831.4,530.1 834.6,532.2" fill="none" stroke="#9ccbea" stroke-width="1.11" stroke-dasharray="2.8,2.8" stroke-linecap="round"/>
<path d="M626.4,493C629.6,495.5 640,502.7 645.6,508.2C651.2,513.7 655,520.2 660,525.8C665.1,531.4 670.7,536.5 676,541.9C681.4,547.2 687,552.5 692.1,557.9C697.1,563.2 701.4,569.6 706.5,573.9C711.5,578.2 718.2,581.1 722.5,583.5C726.8,585.9 730.5,587.5 732.1,588.3" fill="none" stroke="#3d85c3" stroke-width="3.7" stroke-linecap="butt"/>
<path d="M626.4,493C629.6,495.5 640,502.7 645.6,508.2C651.2,513.7 655,520.2 660,525.8C665.1,531.4 670.7,536.5 676,541.9C681.4,547.2 687,552.5 692.1,557.9C697.1,563.2 701.4,569.6 706.5,573.9C711.5,578.2 718.2,581.1 722.5,583.5C726.8,585.9 730.5,587.5 732.1,588.3" fill="none" stroke="#9ccbea" stroke-width="1.11" stroke-dasharray="2.8,2.8" stroke-linecap="round"/>
<path d="M698.5,588.3C702.5,585.9 714.2,579.8 722.5,573.9C730.8,568 739.8,560 748.1,553.1C756.4,546.1 765.2,539.4 772.1,532.2C779.1,525 784.1,517.3 789.7,509.8C795.3,502.3 800.7,493.8 805.8,487.4C810.8,481 815.4,475.4 820.2,471.3C825,467.3 832.2,464.4 834.6,463" fill="none" stroke="#3d85c3" stroke-width="3.7" stroke-linecap="butt"/>
<path d="M698.5,588.3C702.5,585.9 714.2,579.8 722.5,573.9C730.8,568 739.8,560 748.1,553.1C756.4,546.1 765.2,539.4 772.1,532.2C779.1,525 784.1,517.3 789.7,509.8C795.3,502.3 800.7,493.8 805.8,487.4C810.8,481 815.4,475.4 820.2,471.3C825,467.3 832.2,464.4 834.6,463" fill="none" stroke="#9ccbea" stroke-width="1.11" stroke-dasharray="2.8,2.8" stroke-linecap="round"/>
</g>
<g clip-path="url(#cbr)">
<path d="M1023.5,386.7C1027.9,388 1039.9,391.5 1049.8,394.4C1059.7,397.3 1071.7,402.1 1082.7,404.1C1093.6,406.1 1104.6,406.1 1115.5,406.5C1126.5,406.9 1137.5,405.9 1148.4,406.5C1159.4,407 1171.7,408.5 1181.3,409.7C1190.9,410.9 1196.6,411.7 1205.9,413.7C1215.2,415.6 1232,420.1 1237.2,421.4" fill="none" stroke="#ab98d4" stroke-width="4.6" stroke-linecap="butt"/>
<path d="M1023.5,386.7C1027.9,388 1039.9,391.5 1049.8,394.4C1059.7,397.3 1071.7,402.1 1082.7,404.1C1093.6,406.1 1104.6,406.1 1115.5,406.5C1126.5,406.9 1137.5,405.9 1148.4,406.5C1159.4,407 1171.7,408.5 1181.3,409.7C1190.9,410.9 1196.6,411.7 1205.9,413.7C1215.2,415.6 1232,420.1 1237.2,421.4" fill="none" stroke="#d6caec" stroke-width="1.38" stroke-dasharray="3.4,3.4" stroke-linecap="round"/>
<path d="M1023.5,455.4C1027.9,454 1041.3,451.1 1049.8,447.4C1058.3,443.6 1066.2,438 1074.5,432.9C1082.7,427.8 1092.3,421.3 1099.1,416.9C1106,412.5 1108.7,410.1 1115.5,406.5C1122.4,402.9 1132,398.4 1140.2,395.2C1148.4,392 1155.8,389.5 1164.8,387.2C1173.9,384.9 1189.5,382.5 1194.4,381.6" fill="none" stroke="#ab98d4" stroke-width="4.6" stroke-linecap="butt"/>
<path d="M1023.5,455.4C1027.9,454 1041.3,451.1 1049.8,447.4C1058.3,443.6 1066.2,438 1074.5,432.9C1082.7,427.8 1092.3,421.3 1099.1,416.9C1106,412.5 1108.7,410.1 1115.5,406.5C1122.4,402.9 1132,398.4 1140.2,395.2C1148.4,392 1155.8,389.5 1164.8,387.2C1173.9,384.9 1189.5,382.5 1194.4,381.6" fill="none" stroke="#d6caec" stroke-width="1.38" stroke-dasharray="3.4,3.4" stroke-linecap="round"/>
<path d="M1064.6,424.9C1069,427.3 1082.4,434.8 1090.9,439.3C1099.4,443.9 1107.3,448.4 1115.5,452.2C1123.8,455.9 1132,459.1 1140.2,461.8C1148.4,464.5 1156.6,466.3 1164.8,468.2C1173.1,470.1 1181.3,471.2 1189.5,473C1197.7,474.9 1206.2,477 1214.2,479.4C1222.1,481.9 1233.3,486.4 1237.2,487.8" fill="none" stroke="#ab98d4" stroke-width="4.6" stroke-linecap="butt"/>
<path d="M1064.6,424.9C1069,427.3 1082.4,434.8 1090.9,439.3C1099.4,443.9 1107.3,448.4 1115.5,452.2C1123.8,455.9 1132,459.1 1140.2,461.8C1148.4,464.5 1156.6,466.3 1164.8,468.2C1173.1,470.1 1181.3,471.2 1189.5,473C1197.7,474.9 1206.2,477 1214.2,479.4C1222.1,481.9 1233.3,486.4 1237.2,487.8" fill="none" stroke="#d6caec" stroke-width="1.38" stroke-dasharray="3.4,3.4" stroke-linecap="round"/>
<path d="M1023.5,523.1C1029.3,523.7 1046.8,526.2 1058,526.8C1069.3,527.4 1079.9,527.7 1090.9,526.8C1101.8,525.8 1112.8,523.3 1123.8,521.2C1134.7,519 1145.7,515.7 1156.6,513.9C1167.6,512.2 1176.1,510.8 1189.5,510.7C1202.9,510.6 1229.2,513 1237.2,513.5" fill="none" stroke="#ab98d4" stroke-width="4.6" stroke-linecap="butt"/>
<path d="M1023.5,523.1C1029.3,523.7 1046.8,526.2 1058,526.8C1069.3,527.4 1079.9,527.7 1090.9,526.8C1101.8,525.8 1112.8,523.3 1123.8,521.2C1134.7,519 1145.7,515.7 1156.6,513.9C1167.6,512.2 1176.1,510.8 1189.5,510.7C1202.9,510.6 1229.2,513 1237.2,513.5" fill="none" stroke="#d6caec" stroke-width="1.38" stroke-dasharray="3.4,3.4" stroke-linecap="round"/>
<path d="M1023.5,550.3C1029.3,551.8 1046.8,556.9 1058,558.8C1069.3,560.8 1079.9,561.7 1090.9,562.1C1101.8,562.5 1112.8,561.3 1123.8,561.3C1134.7,561.3 1147,561.3 1156.6,562.1C1166.2,562.9 1173.1,564.3 1181.3,566.1C1189.5,567.8 1196.6,569.7 1205.9,572.5C1215.2,575.3 1232,581.3 1237.2,583.1" fill="none" stroke="#ab98d4" stroke-width="4.6" stroke-linecap="butt"/>
<path d="M1023.5,550.3C1029.3,551.8 1046.8,556.9 1058,558.8C1069.3,560.8 1079.9,561.7 1090.9,562.1C1101.8,562.5 1112.8,561.3 1123.8,561.3C1134.7,561.3 1147,561.3 1156.6,562.1C1166.2,562.9 1173.1,564.3 1181.3,566.1C1189.5,567.8 1196.6,569.7 1205.9,572.5C1215.2,575.3 1232,581.3 1237.2,583.1" fill="none" stroke="#d6caec" stroke-width="1.38" stroke-dasharray="3.4,3.4" stroke-linecap="round"/>
<path d="M1076.1,446.6C1078,447.4 1083.8,452 1087.6,451.4C1091.4,450.7 1095.8,445.9 1099.1,442.6C1102.4,439.2 1104.3,434.4 1107.3,431.3C1110.3,428.3 1114.2,424.9 1117.2,424.1C1120.2,423.3 1123.2,425.6 1125.4,426.5C1127.6,427.4 1129.5,429.2 1130.3,429.7" fill="none" stroke="#6668ad" stroke-width="1.3" stroke-linecap="round"/>
<path d="M1077.7,447.4L1080.6,444.9M1080.6,444.9l1.8,-2.3M1080.6,444.9l-0.2,-0.3M1081.1,449.5L1083.7,447.2M1083.7,447.2l1.7,-2.3M1083.7,447.2l-0.3,-0.3M1085.1,451.2L1085.7,455.1M1085.7,455.1l0.8,0.5M1085.7,455.1l-1.2,2.5M1088.8,451.1L1088.3,447.2M1088.3,447.2l0.4,-2.4M1088.3,447.2l-1.6,-0.4M1092.4,448.9L1095.2,450.5M1095.2,450.5l1.9,0.2M1095.2,450.5l-0.1,2.2M1095.9,445.8L1094.7,442.9M1094.7,442.9l-0.1,-2.1M1094.7,442.9l-2.1,-0.1M1099.1,442.6L1102.6,444.1M1102.6,444.1l2.1,0M1102.6,444.1l0.1,2M1101.8,439.2L1105.2,440.1M1105.2,440.1l2.3,-0.2M1105.2,440.1l0.3,1.8M1104.1,435.6L1102.3,433M1102.3,433l-0.3,-1.8M1102.3,433l-2.3,0.2M1106.5,432.3L1104.1,428.6M1104.1,428.6l-0.1,-2M1104.1,428.6l-2.1,-0M1109.2,429.5L1112.8,431.6M1112.8,431.6l2,0.1M1112.8,431.6l0,2.1M1112.3,426.9L1111.6,423.9M1111.6,423.9l0.1,-2.2M1111.6,423.9l-1.9,-0.2M1115.3,424.9L1115.1,421.6M1115.1,421.6l0.4,-2.4M1115.1,421.6l-1.6,-0.4M1118.1,424L1119.3,419.8M1119.3,419.8l1,-2.5M1119.3,419.8l-1,-0.5M1120.8,424.3L1120.7,428M1120.7,428l0.5,0.4M1120.7,428l-1.5,2.4M1123.2,425.4L1122.5,429.5M1122.5,429.5l0.3,0.3M1122.5,429.5l-1.7,2.3M1125.4,426.5L1125.1,430M1125.1,430l0.4,0.4M1125.1,430l-1.6,2.4M1127.3,427.5L1125.8,431.9M1125.8,431.9l0.2,0.3M1125.8,431.9l-1.8,2.3M1128.9,428.6L1132.4,426M1132.4,426l1.9,-2.2M1132.4,426l-0.1,-0.2M1130.1,429.5L1132.5,428.1M1132.5,428.1l1.9,-2.2M1132.5,428.1l-0.1,-0.2" fill="none" stroke="#6668ad" stroke-width="0.6" opacity="0.6"/>
<path d="M1138.6,450.6C1139.6,450.8 1143.8,453.5 1145.1,452.2C1146.5,450.8 1146.8,446 1146.8,442.6C1146.8,439.1 1144,434.5 1145.1,431.3C1146.2,428.1 1148.7,424.5 1153.3,423.3C1158,422.1 1166.2,423.6 1173.1,424.1C1179.9,424.6 1188.1,426.9 1194.4,426.5C1200.7,426.1 1206.8,424.4 1210.9,421.7C1215,419 1217.6,414.5 1219.1,410.5C1220.6,406.5 1219.8,399.8 1219.9,397.6" fill="none" stroke="#6668ad" stroke-width="1.3" stroke-linecap="round"/>
<path d="M1140.4,451.4L1142.8,449M1142.8,449l1.6,-2.4M1142.8,449l-0.4,-0.4M1144.2,452.5L1146.7,455.3M1146.7,455.3l1.6,0.4M1146.7,455.3l-0.4,2.4M1146.2,449.9L1143.8,448.2M1143.8,448.2l-0.5,-1.3M1143.8,448.2l-2.5,0.7M1146.7,444.4L1150.4,443.2M1150.4,443.2l2.5,-1M1150.4,443.2l0.5,1M1146.1,438.8L1149.7,436.5M1149.7,436.5l2.4,-1.4M1149.7,436.5l0.4,0.6M1144.9,433L1142.1,431.4M1142.1,431.4l-0.5,-1.2M1142.1,431.4l-2.5,0.8M1146.7,428.1L1149.9,429M1149.9,429l2.2,-0.1M1149.9,429l0.2,1.9M1151.2,424.1L1150.9,419.8M1150.9,419.8l0.5,-2.4M1150.9,419.8l-1.5,-0.4M1159,422.9L1160,425.9M1160,425.9l0.9,0.5M1160,425.9l-1.1,2.5M1169.5,423.8L1171.1,419.7M1171.1,419.7l1.1,-2.5M1171.1,419.7l-0.9,-0.5M1180.2,425.1L1180.8,429.3M1180.8,429.3l0.8,0.5M1180.8,429.3l-1.2,2.5M1191.1,426.5L1192.3,423.7M1192.3,423.7l1,-2.5M1192.3,423.7l-1,-0.5M1200.6,425.7L1202.7,429M1202.7,429l1.4,0.5M1202.7,429l-0.6,2.5M1208.7,423L1211,424.7M1211,424.7l1.7,0.3M1211,424.7l-0.3,2.3M1214.5,418.5L1218.3,419.9M1218.3,419.9l2.2,-0.1M1218.3,419.9l0.2,1.9M1218.2,412.5L1216.1,410.3M1216.1,410.3l-0.4,-1.6M1216.1,410.3l-2.4,0.4M1219.9,405.8L1223,404.7M1223,404.7l2.5,-1M1223,404.7l0.5,1M1219.9,399.1L1222.4,397.9M1222.4,397.9l2.5,-1M1222.4,397.9l0.5,1" fill="none" stroke="#6668ad" stroke-width="0.6" opacity="0.6"/>
<path d="M1028.4,485.9C1030.6,485.3 1037.5,485.6 1041.6,482.7C1045.7,479.7 1049.3,472.1 1053.1,468.2C1056.9,464.3 1061.3,460.5 1064.6,459.4C1067.9,458.3 1070.5,460.9 1072.8,461.8C1075.1,462.7 1077.6,464.5 1078.6,465" fill="none" stroke="#6668ad" stroke-width="1.3" stroke-linecap="round"/>
<path d="M1029.9,485.6L1031.5,489.5M1031.5,489.5l1.1,0.5M1031.5,489.5l-0.9,2.5M1033.1,485.3L1033.7,481M1033.7,481l0.8,-2.5M1033.7,481l-1.2,-0.5M1036.8,484.7L1037,480.7M1037,480.7l0.6,-2.4M1037,480.7l-1.4,-0.4M1040.5,483.3L1040.1,480.4M1040.1,480.4l0.2,-2.3M1040.1,480.4l-1.8,-0.3M1043.6,480.8L1047.6,482.7M1047.6,482.7l2.1,-0M1047.6,482.7l0.1,2M1046.5,477.2L1050.1,478.2M1050.1,478.2l2.2,-0.1M1050.1,478.2l0.2,1.9M1049.3,473L1047.9,470.6M1047.9,470.6l-0.2,-1.9M1047.9,470.6l-2.2,0.1M1052.1,469.3L1050.5,466.1M1050.5,466.1l-0.1,-2M1050.5,466.1l-2.1,-0M1055.1,466.3L1053,462.3M1053,462.3l-0,-2.1M1053,462.3l-2,-0.1M1058.1,463.6L1060.8,465M1060.8,465l2,0.2M1060.8,465l-0,2.2M1061,461.3L1060.5,458.3M1060.5,458.3l0.2,-2.3M1060.5,458.3l-1.8,-0.3M1063.8,459.7L1065.9,461.9M1065.9,461.9l1.5,0.4M1065.9,461.9l-0.5,2.4M1066.2,459.1L1067.7,454.8M1067.7,454.8l1.1,-2.5M1067.7,454.8l-0.9,-0.5M1068.4,459.6L1070.6,457.3M1070.6,457.3l1.6,-2.4M1070.6,457.3l-0.4,-0.4M1070.4,460.5L1073.6,457.3M1073.6,457.3l1.7,-2.3M1073.6,457.3l-0.3,-0.3M1072.2,461.5L1075.1,458.2M1075.1,458.2l1.6,-2.4M1075.1,458.2l-0.4,-0.4M1074,462.3L1073.6,465.7M1073.6,465.7l0.3,0.3M1073.6,465.7l-1.7,2.3M1075.7,463.2L1078.5,460.8M1078.5,460.8l1.8,-2.3M1078.5,460.8l-0.2,-0.3M1077.2,464.1L1079.7,462.4M1079.7,462.4l1.8,-2.3M1079.7,462.4l-0.2,-0.3M1078.3,464.9L1081.6,461.6M1081.6,461.6l1.8,-2.3M1081.6,461.6l-0.2,-0.3" fill="none" stroke="#6668ad" stroke-width="0.6" opacity="0.6"/>
<path d="M1064.6,513.1C1066.5,513.9 1072.3,518.2 1076.1,517.9C1079.9,517.7 1084,515 1087.6,511.5C1091.2,508.1 1094.5,500.4 1097.5,497.1C1100.5,493.8 1102.9,492 1105.7,491.5C1108.4,490.9 1111.7,492.9 1113.9,493.9C1116.1,494.8 1118,496.6 1118.8,497.1" fill="none" stroke="#6668ad" stroke-width="1.3" stroke-linecap="round"/>
<path d="M1066.2,514L1069,511.6M1069,511.6l1.8,-2.3M1069,511.6l-0.2,-0.3M1069.6,515.9L1069.6,518.8M1069.6,518.8l0.3,0.3M1069.6,518.8l-1.7,2.3M1073.6,517.6L1075.6,514.1M1075.6,514.1l1.3,-2.5M1075.6,514.1l-0.7,-0.5M1077.3,517.8L1079.5,521.8M1079.5,521.8l1.4,0.5M1079.5,521.8l-0.6,2.5M1080.8,516.6L1083.3,518.8M1083.3,518.8l1.7,0.3M1083.3,518.8l-0.3,2.3M1084.3,514.4L1083.3,511.3M1083.3,511.3l0.1,-2.2M1083.3,511.3l-1.9,-0.2M1087.6,511.5L1085.5,508M1085.5,508l-0.1,-2M1085.5,508l-2.1,-0M1090.7,507.5L1095,508.8M1095,508.8l2.3,-0.2M1095,508.8l0.3,1.8M1093.7,502.6L1091.9,500.1M1091.9,500.1l-0.3,-1.8M1091.9,500.1l-2.3,0.2M1096.6,498.2L1100.3,499.7M1100.3,499.7l2.2,-0.1M1100.3,499.7l0.2,1.9M1099.2,495.3L1097.3,491.4M1097.3,491.4l-0,-2.1M1097.3,491.4l-2,-0.1M1101.7,493.2L1105.1,496.4M1105.1,496.4l1.8,0.3M1105.1,496.4l-0.2,2.3M1104.1,491.9L1106.5,495.4M1106.5,495.4l1.5,0.4M1106.5,495.4l-0.5,2.4M1106.5,491.4L1107.6,494.8M1107.6,494.8l0.9,0.5M1107.6,494.8l-1.1,2.5M1109.1,491.8L1111.6,488.4M1111.6,488.4l1.5,-2.4M1111.6,488.4l-0.5,-0.4M1111.7,492.9L1111.6,495.8M1111.6,495.8l0.4,0.4M1111.6,495.8l-1.6,2.4M1113.9,493.9L1116.5,491.1M1116.5,491.1l1.6,-2.4M1116.5,491.1l-0.4,-0.4M1115.8,494.9L1119.1,492.1M1119.1,492.1l1.8,-2.3M1119.1,492.1l-0.2,-0.3M1117.4,496L1116.2,499.5M1116.2,499.5l0.1,0.2M1116.2,499.5l-1.9,2.2M1118.6,496.9L1121.6,494.7M1121.6,494.7l1.9,-2.2M1121.6,494.7l-0.1,-0.2" fill="none" stroke="#6668ad" stroke-width="0.6" opacity="0.6"/>
<path d="M1161.6,481.1C1160.2,481.9 1155.5,483.7 1153.3,485.9C1151.2,488 1148.4,490.7 1148.4,493.9C1148.4,497.1 1151.7,501.4 1153.3,505.1C1155,508.9 1157.7,512.3 1158.3,516.3C1158.8,520.4 1158.3,525.8 1156.6,529.2C1155,532.5 1149.8,535.2 1148.4,536.4" fill="none" stroke="#6668ad" stroke-width="1.3" stroke-linecap="round"/>
<path d="M1160.4,481.7L1157.4,478.2M1157.4,478.2l0.3,-2.3M1157.4,478.2l-1.7,-0.3M1157.8,483L1154.9,480.2M1154.9,480.2l0.3,-2.3M1154.9,480.2l-1.7,-0.3M1154.9,484.6L1156.4,488.7M1156.4,488.7l1.9,0.2M1156.4,488.7l-0.1,2.2M1152.7,486.5L1154.1,489.6M1154.1,489.6l2.1,0.1M1154.1,489.6l0.1,2.1M1150.7,488.7L1153.4,492.3M1153.4,492.3l2.2,-0.1M1153.4,492.3l0.2,1.9M1149.1,491.1L1151,493.2M1151,493.2l2.4,-0.4M1151,493.2l0.4,1.6M1148.4,493.9L1145.2,495.4M1145.2,495.4l-0.5,-0.9M1145.2,495.4l-2.5,1.1M1149.2,497L1152.1,497M1152.1,497l2.4,-1.6M1152.1,497l0.4,0.4M1150.9,500.5L1149.2,502.8M1149.2,502.8l-0.3,-0.3M1149.2,502.8l-2.3,1.7M1152.8,504L1157.3,503.2M1157.3,503.2l2.4,-1.6M1157.3,503.2l0.4,0.4M1154.4,507.3L1158.2,506.6M1158.2,506.6l2.3,-1.7M1158.2,506.6l0.3,0.3M1156.2,510.6L1154.4,512.9M1154.4,512.9l-0.3,-0.3M1154.4,512.9l-2.3,1.7M1157.7,514L1160.5,514.4M1160.5,514.4l2.4,-1.4M1160.5,514.4l0.4,0.6M1158.4,517.6L1161.5,518.6M1161.5,518.6l2.5,-1.1M1161.5,518.6l0.5,0.9M1158.4,521.6L1161.9,523.2M1161.9,523.2l2.5,-0.9M1161.9,523.2l0.5,1.1M1157.8,525.7L1154,525.9M1154,525.9l-0.5,-1.4M1154,525.9l-2.5,0.6M1156.6,529.2L1158.3,531.6M1158.3,531.6l2.3,-0.2M1158.3,531.6l0.3,1.8M1154.4,532L1155.6,535.2M1155.6,535.2l2,0.1M1155.6,535.2l-0,2.1M1151.4,534.3L1152.5,538M1152.5,538l1.8,0.2M1152.5,538l-0.2,2.2M1148.9,536L1150.1,539.5M1150.1,539.5l1.9,0.2M1150.1,539.5l-0.1,2.2" fill="none" stroke="#6668ad" stroke-width="0.6" opacity="0.6"/>
<path d="M1052.3,550C1054.3,549.2 1061.2,545.2 1064.6,545.2C1068,545.2 1070.1,547.1 1072.8,550C1075.6,553 1078,559.4 1081,562.9C1084,566.3 1086.8,569.9 1090.9,570.9C1095,571.8 1103.2,568.9 1105.7,568.5" fill="none" stroke="#6668ad" stroke-width="1.3" stroke-linecap="round"/>
<path d="M1053.7,549.4L1053.3,546M1053.3,546l0.3,-2.3M1053.3,546l-1.7,-0.3M1056.7,547.9L1059,549.9M1059,549.9l1.6,0.4M1059,549.9l-0.4,2.4M1060.3,546.3L1060.6,543.4M1060.6,543.4l0.5,-2.4M1060.6,543.4l-1.5,-0.4M1063.7,545.3L1064.5,541.1M1064.5,541.1l0.9,-2.5M1064.5,541.1l-1.1,-0.5M1066.2,545.4L1068.2,542.5M1068.2,542.5l1.4,-2.5M1068.2,542.5l-0.6,-0.5M1068.3,546.1L1071.1,543.8M1071.1,543.8l1.8,-2.3M1071.1,543.8l-0.2,-0.3M1070.2,547.5L1068.9,550.7M1068.9,550.7l0,0.1M1068.9,550.7l-2,2.1M1072.1,549.3L1076.1,547.2M1076.1,547.2l2.1,-2M1076.1,547.2l0.1,-0M1074.2,551.8L1072.6,554.2M1072.6,554.2l-0.3,-0.2M1072.6,554.2l-2.3,1.8M1076.2,555L1080.3,554.1M1080.3,554.1l2.3,-1.7M1080.3,554.1l0.3,0.3M1078.2,558.6L1075.7,561.5M1075.7,561.5l-0.3,-0.2M1075.7,561.5l-2.3,1.8M1080.3,561.9L1077.7,565.6M1077.7,565.6l-0.2,-0.1M1077.7,565.6l-2.2,1.9M1082.5,564.6L1080.3,568.1M1080.3,568.1l-0.1,-0M1080.3,568.1l-2.1,2M1084.8,567.1L1083.8,569.8M1083.8,569.8l-0,0.1M1083.8,569.8l-2,2.1M1087.2,569.2L1090,567.1M1090,567.1l1.8,-2.3M1090,567.1l-0.2,-0.3M1089.9,570.6L1090.3,573.5M1090.3,573.5l0.6,0.4M1090.3,573.5l-1.4,2.4M1093.2,571.1L1094.2,567.8M1094.2,567.8l0.9,-2.5M1094.2,567.8l-1.1,-0.5M1097.5,570.5L1097.9,566.8M1097.9,566.8l0.7,-2.5M1097.9,566.8l-1.3,-0.5M1101.7,569.5L1101.9,565.6M1101.9,565.6l0.6,-2.4M1101.9,565.6l-1.4,-0.4M1105,568.6L1105.4,564.7M1105.4,564.7l0.7,-2.5M1105.4,564.7l-1.3,-0.5" fill="none" stroke="#6668ad" stroke-width="0.6" opacity="0.6"/>
<path d="M1179.6,586.6C1178.8,584.5 1175.5,578 1174.7,574.1C1173.9,570.1 1173.3,565.8 1174.7,562.9C1176.1,559.9 1179.1,557.8 1182.9,556.4C1186.8,555.1 1192.5,555.4 1197.7,554.8C1202.9,554.3 1209.2,554.3 1214.2,553.2C1219.1,552.2 1224.3,549.8 1227.3,548.4C1230.3,547.1 1231.4,545.7 1232.2,545.2" fill="none" stroke="#6668ad" stroke-width="1.3" stroke-linecap="round"/>
<path d="M1178.6,584.3L1181.5,581.7M1181.5,581.7l2.4,-1.6M1181.5,581.7l0.4,0.4M1176.4,579.2L1178.6,577.1M1178.6,577.1l2.4,-1.5M1178.6,577.1l0.4,0.5M1174.7,574.1L1171.4,573.5M1171.4,573.5l-0.5,-0.7M1171.4,573.5l-2.5,1.3M1174,569.6L1178.2,568.1M1178.2,568.1l2.5,-1.1M1178.2,568.1l0.5,0.9M1174,565.3L1171.2,563.5M1171.2,563.5l-0.5,-1.3M1171.2,563.5l-2.5,0.7M1175.3,561.8L1172.8,558.5M1172.8,558.5l-0.2,-1.9M1172.8,558.5l-2.2,0.1M1177.9,559L1176.7,555.2M1176.7,555.2l0.1,-2.2M1176.7,555.2l-1.9,-0.2M1181.5,557L1184.2,560.7M1184.2,560.7l1.5,0.4M1184.2,560.7l-0.5,2.4M1186.1,555.7L1187.6,558.4M1187.6,558.4l1.2,0.5M1187.6,558.4l-0.8,2.5M1191.8,555.2L1192.8,552.6M1192.8,552.6l0.9,-2.5M1192.8,552.6l-1.1,-0.5M1197.7,554.8L1198.6,551.2M1198.6,551.2l0.9,-2.5M1198.6,551.2l-1.1,-0.5M1203.9,554.4L1204.8,550.3M1204.8,550.3l0.9,-2.5M1204.8,550.3l-1.1,-0.5M1210.2,553.9L1212,557.7M1212,557.7l1.2,0.5M1212,557.7l-0.8,2.5M1216,552.8L1215.9,548.3M1215.9,548.3l0.6,-2.4M1215.9,548.3l-1.4,-0.4M1221.4,550.9L1221.1,546.9M1221.1,546.9l0.4,-2.4M1221.1,546.9l-1.6,-0.4M1226.1,549L1228.9,552.4M1228.9,552.4l1.6,0.4M1228.9,552.4l-0.4,2.4M1229.2,547.4L1232.6,550.4M1232.6,550.4l1.8,0.3M1232.6,550.4l-0.2,2.3M1231.1,546.1L1234,547.7M1234,547.7l2,0.2M1234,547.7l-0,2.2" fill="none" stroke="#6668ad" stroke-width="0.6" opacity="0.6"/>
<path d="M1023.5,453.8C1027.9,449.5 1041.3,436.7 1049.8,428.1C1058.3,419.6 1068.2,408.6 1074.5,402.5C1080.8,396.3 1083,394.8 1087.6,391.2C1092.3,387.6 1099.9,382.5 1102.4,380.8" fill="none" stroke="#3d85c3" stroke-width="3.7" stroke-linecap="butt"/>
<path d="M1023.5,453.8C1027.9,449.5 1041.3,436.7 1049.8,428.1C1058.3,419.6 1068.2,408.6 1074.5,402.5C1080.8,396.3 1083,394.8 1087.6,391.2C1092.3,387.6 1099.9,382.5 1102.4,380.8" fill="none" stroke="#9ccbea" stroke-width="1.11" stroke-dasharray="2.8,2.8" stroke-linecap="round"/>
<path d="M1023.5,506.4C1027.9,503.8 1041.3,494.9 1049.8,490.7C1058.3,486.5 1066.2,484.1 1074.5,481.1C1082.7,478 1089.5,474.6 1099.1,472.2C1108.7,469.8 1121,468.4 1132,466.6C1142.9,464.9 1153.9,464.2 1164.8,461.8C1175.8,459.4 1189,455.1 1197.7,452.2C1206.5,449.2 1210.9,447.3 1217.4,444.2C1224,441 1233.9,435.2 1237.2,433.4" fill="none" stroke="#3d85c3" stroke-width="3.7" stroke-linecap="butt"/>
<path d="M1023.5,506.4C1027.9,503.8 1041.3,494.9 1049.8,490.7C1058.3,486.5 1066.2,484.1 1074.5,481.1C1082.7,478 1089.5,474.6 1099.1,472.2C1108.7,469.8 1121,468.4 1132,466.6C1142.9,464.9 1153.9,464.2 1164.8,461.8C1175.8,459.4 1189,455.1 1197.7,452.2C1206.5,449.2 1210.9,447.3 1217.4,444.2C1224,441 1233.9,435.2 1237.2,433.4" fill="none" stroke="#9ccbea" stroke-width="1.11" stroke-dasharray="2.8,2.8" stroke-linecap="round"/>
<path d="M1054.7,442.6C1059.4,444.7 1074.2,450.6 1082.7,455.4C1091.2,460.2 1097.5,465.8 1105.7,471.4C1113.9,477 1123.5,484.3 1132,489.1C1140.5,493.9 1148.4,497.4 1156.6,500.3C1164.8,503.2 1174.4,504.8 1181.3,506.7C1188.1,508.6 1191.7,509.4 1197.7,511.5C1203.7,513.7 1210.9,516.1 1217.4,519.5C1224,523 1233.9,530.2 1237.2,532.4" fill="none" stroke="#3d85c3" stroke-width="3.7" stroke-linecap="butt"/>
<path d="M1054.7,442.6C1059.4,444.7 1074.2,450.6 1082.7,455.4C1091.2,460.2 1097.5,465.8 1105.7,471.4C1113.9,477 1123.5,484.3 1132,489.1C1140.5,493.9 1148.4,497.4 1156.6,500.3C1164.8,503.2 1174.4,504.8 1181.3,506.7C1188.1,508.6 1191.7,509.4 1197.7,511.5C1203.7,513.7 1210.9,516.1 1217.4,519.5C1224,523 1233.9,530.2 1237.2,532.4" fill="none" stroke="#9ccbea" stroke-width="1.11" stroke-dasharray="2.8,2.8" stroke-linecap="round"/>
<path d="M1023.5,493.1C1026.8,495.6 1037.5,502.8 1043.2,508.3C1049,513.8 1052.8,520.4 1058,526C1063.2,531.6 1069,536.7 1074.5,542C1079.9,547.4 1085.7,552.7 1090.9,558C1096.1,563.4 1100.5,569.8 1105.7,574.1C1110.9,578.4 1117.7,581.3 1122.1,583.7C1126.5,586.1 1130.3,587.7 1132,588.5" fill="none" stroke="#3d85c3" stroke-width="3.7" stroke-linecap="butt"/>
<path d="M1023.5,493.1C1026.8,495.6 1037.5,502.8 1043.2,508.3C1049,513.8 1052.8,520.4 1058,526C1063.2,531.6 1069,536.7 1074.5,542C1079.9,547.4 1085.7,552.7 1090.9,558C1096.1,563.4 1100.5,569.8 1105.7,574.1C1110.9,578.4 1117.7,581.3 1122.1,583.7C1126.5,586.1 1130.3,587.7 1132,588.5" fill="none" stroke="#9ccbea" stroke-width="1.11" stroke-dasharray="2.8,2.8" stroke-linecap="round"/>
<path d="M1097.5,588.5C1101.6,586.1 1113.6,580 1122.1,574.1C1130.6,568.2 1139.9,560.2 1148.4,553.2C1156.9,546.3 1165.9,539.6 1173.1,532.4C1180.2,525.2 1185.4,517.4 1191.1,509.9C1196.9,502.4 1202.4,493.9 1207.6,487.5C1212.8,481.1 1217.4,475.5 1222.4,471.4C1227.3,467.4 1234.7,464.5 1237.2,463.1" fill="none" stroke="#3d85c3" stroke-width="3.7" stroke-linecap="butt"/>
<path d="M1097.5,588.5C1101.6,586.1 1113.6,580 1122.1,574.1C1130.6,568.2 1139.9,560.2 1148.4,553.2C1156.9,546.3 1165.9,539.6 1173.1,532.4C1180.2,525.2 1185.4,517.4 1191.1,509.9C1196.9,502.4 1202.4,493.9 1207.6,487.5C1212.8,481.1 1217.4,475.5 1222.4,471.4C1227.3,467.4 1234.7,464.5 1237.2,463.1" fill="none" stroke="#9ccbea" stroke-width="1.11" stroke-dasharray="2.8,2.8" stroke-linecap="round"/>
</g>
<g clip-path="url(#cbr)">
<g transform="translate(1067.7,452.4) rotate(27)"><path d="M-30.8,-0L-28.3,-0.6L-25.7,-1.5L-23.1,-2.7L-20.6,-4L-18,-5.4L-15.4,-6.9L-12.8,-8.3L-10.3,-9.5L-7.7,-10.6L-5.1,-11.4L-2.6,-11.8L0,-12L2.6,-11.8L5.1,-11.4L7.7,-10.6L10.3,-9.5L12.8,-8.3L15.4,-6.9L18,-5.4L20.6,-4L23.1,-2.7L25.7,-1.5L28.3,-0.6L30.8,-0L28.3,0.6L25.7,1.5L23.1,2.7L20.6,4L18,5.4L15.4,6.9L12.8,8.3L10.3,9.5L7.7,10.6L5.1,11.4L2.6,11.8L0,12L-2.6,11.8L-5.1,11.4L-7.7,10.6L-10.3,9.5L-12.8,8.3L-15.4,6.9L-18,5.4L-20.6,4L-23.1,2.7L-25.7,1.5L-28.3,0.6Z" fill="#fdecb6" stroke="#b5923f" stroke-width="0.9" stroke-linejoin="round"/><ellipse cx="0" cy="0" rx="10.6" ry="7.9" fill="#f5cd8c" stroke="#e2b56e" stroke-width="0.63"/></g>
<g transform="translate(1189.4,440.9) rotate(8)"><path d="M-30,-0L-27.5,-0.6L-25,-1.5L-22.5,-2.6L-20,-3.9L-17.5,-5.3L-15,-6.7L-12.5,-8L-10,-9.2L-7.5,-10.2L-5,-11L-2.5,-11.5L0,-11.6L2.5,-11.5L5,-11L7.5,-10.2L10,-9.2L12.5,-8L15,-6.7L17.5,-5.3L20,-3.9L22.5,-2.6L25,-1.5L27.5,-0.6L30,-0L27.5,0.6L25,1.5L22.5,2.6L20,3.9L17.5,5.3L15,6.7L12.5,8L10,9.2L7.5,10.2L5,11L2.5,11.5L0,11.6L-2.5,11.5L-5,11L-7.5,10.2L-10,9.2L-12.5,8L-15,6.7L-17.5,5.3L-20,3.9L-22.5,2.6L-25,1.5L-27.5,0.6Z" fill="#fdecb6" stroke="#b5923f" stroke-width="0.9" stroke-linejoin="round"/><ellipse cx="0" cy="0" rx="10.3" ry="7.7" fill="#f5cd8c" stroke="#e2b56e" stroke-width="0.63"/></g>
<g transform="translate(1199.0,484.4) rotate(7)"><path d="M-30.8,-0L-28.3,-0.6L-25.7,-1.5L-23.1,-2.7L-20.6,-4L-18,-5.4L-15.4,-6.9L-12.8,-8.3L-10.3,-9.5L-7.7,-10.6L-5.1,-11.4L-2.6,-11.8L0,-12L2.6,-11.8L5.1,-11.4L7.7,-10.6L10.3,-9.5L12.8,-8.3L15.4,-6.9L18,-5.4L20.6,-4L23.1,-2.7L25.7,-1.5L28.3,-0.6L30.8,-0L28.3,0.6L25.7,1.5L23.1,2.7L20.6,4L18,5.4L15.4,6.9L12.8,8.3L10.3,9.5L7.7,10.6L5.1,11.4L2.6,11.8L0,12L-2.6,11.8L-5.1,11.4L-7.7,10.6L-10.3,9.5L-12.8,8.3L-15.4,6.9L-18,5.4L-20.6,4L-23.1,2.7L-25.7,1.5L-28.3,0.6Z" fill="#fdecb6" stroke="#b5923f" stroke-width="0.9" stroke-linejoin="round"/><ellipse cx="0" cy="0" rx="10.6" ry="7.9" fill="#f5cd8c" stroke="#e2b56e" stroke-width="0.63"/></g>
<g transform="translate(1085.6,506.6) rotate(27)"><path d="M-30.8,-0L-28.3,-0.6L-25.7,-1.5L-23.1,-2.7L-20.6,-4L-18,-5.4L-15.4,-6.9L-12.8,-8.3L-10.3,-9.5L-7.7,-10.6L-5.1,-11.4L-2.6,-11.8L0,-12L2.6,-11.8L5.1,-11.4L7.7,-10.6L10.3,-9.5L12.8,-8.3L15.4,-6.9L18,-5.4L20.6,-4L23.1,-2.7L25.7,-1.5L28.3,-0.6L30.8,-0L28.3,0.6L25.7,1.5L23.1,2.7L20.6,4L18,5.4L15.4,6.9L12.8,8.3L10.3,9.5L7.7,10.6L5.1,11.4L2.6,11.8L0,12L-2.6,11.8L-5.1,11.4L-7.7,10.6L-10.3,9.5L-12.8,8.3L-15.4,6.9L-18,5.4L-20.6,4L-23.1,2.7L-25.7,1.5L-28.3,0.6Z" fill="#fdecb6" stroke="#b5923f" stroke-width="0.9" stroke-linejoin="round"/><ellipse cx="0" cy="0" rx="10.6" ry="7.9" fill="#f5cd8c" stroke="#e2b56e" stroke-width="0.63"/></g>
<g transform="translate(1157.0,515.4) rotate(6)"><path d="M-30.4,-0L-27.9,-0.6L-25.4,-1.5L-22.8,-2.7L-20.3,-4L-17.8,-5.4L-15.2,-6.9L-12.7,-8.3L-10.1,-9.5L-7.6,-10.6L-5.1,-11.4L-2.5,-11.8L0,-12L2.5,-11.8L5.1,-11.4L7.6,-10.6L10.1,-9.5L12.7,-8.3L15.2,-6.9L17.8,-5.4L20.3,-4L22.8,-2.7L25.4,-1.5L27.9,-0.6L30.4,-0L27.9,0.6L25.4,1.5L22.8,2.7L20.3,4L17.8,5.4L15.2,6.9L12.7,8.3L10.1,9.5L7.6,10.6L5.1,11.4L2.5,11.8L0,12L-2.5,11.8L-5.1,11.4L-7.6,10.6L-10.1,9.5L-12.7,8.3L-15.2,6.9L-17.8,5.4L-20.3,4L-22.8,2.7L-25.4,1.5L-27.9,0.6Z" fill="#fdecb6" stroke="#b5923f" stroke-width="0.9" stroke-linejoin="round"/><ellipse cx="0" cy="0" rx="10.5" ry="7.8" fill="#f5cd8c" stroke="#e2b56e" stroke-width="0.63"/></g>
<g transform="translate(1065.7,553.3) rotate(4)"><path d="M-30.8,-0L-28.3,-0.6L-25.7,-1.5L-23.1,-2.7L-20.6,-4L-18,-5.4L-15.4,-6.9L-12.8,-8.3L-10.3,-9.5L-7.7,-10.6L-5.1,-11.4L-2.6,-11.8L0,-12L2.6,-11.8L5.1,-11.4L7.7,-10.6L10.3,-9.5L12.8,-8.3L15.4,-6.9L18,-5.4L20.6,-4L23.1,-2.7L25.7,-1.5L28.3,-0.6L30.8,-0L28.3,0.6L25.7,1.5L23.1,2.7L20.6,4L18,5.4L15.4,6.9L12.8,8.3L10.3,9.5L7.7,10.6L5.1,11.4L2.6,11.8L0,12L-2.6,11.8L-5.1,11.4L-7.7,10.6L-10.3,9.5L-12.8,8.3L-15.4,6.9L-18,5.4L-20.6,4L-23.1,2.7L-25.7,1.5L-28.3,0.6Z" fill="#fdecb6" stroke="#b5923f" stroke-width="0.9" stroke-linejoin="round"/><ellipse cx="0" cy="0" rx="10.6" ry="7.9" fill="#f5cd8c" stroke="#e2b56e" stroke-width="0.63"/></g>
<g transform="translate(1113.8,402.1) rotate(0)"><path d="M-45.65112926477655,-6.804420951465641 C-36.520903411821244,-3.3077046291846863 -25.108121095627105,-8.505526189332052 -11.412782316194138,-9.261572961717123 C2.2825564632388278,-10.206631427198461 13.695338779432964,-7.087938491110043 25.108121095627105,-2.835175396444017 C32.86881307063911,0 40.17299375300336,4.252763094666026 45.65112926477655,6.804420951465641 C36.520903411821244,5.197821560147365 22.825564632388275,7.560467723850713 9.130225852955311,8.978055422072721 C-4.5651129264776555,10.39564312029473 -18.260451705910622,8.505526189332052 -27.390677558865928,3.3077046291846863 C-34.23834694858241,-0.47252923274066955 -41.0860163382989,-4.725292327406695 -45.65112926477655,-6.804420951465641Z" fill="#f28d82" stroke="#e57f76" stroke-width="1"/><ellipse cx="-1.8" cy="0" rx="10.8" ry="4.6" fill="#db625d"/></g>
<g transform="translate(1172.1,548.2) rotate(1)"><path d="M-44.85023226013134,-6.804420951465641 C-35.880185808105075,-3.3077046291846863 -24.66762774307224,-8.505526189332052 -11.212558065032836,-9.261572961717123 C2.242511613006567,-10.206631427198461 13.455069678039402,-7.087938491110043 24.66762774307224,-2.835175396444017 C32.29216722729456,0 39.46820438891558,4.252763094666026 44.85023226013134,6.804420951465641 C35.880185808105075,5.197821560147365 22.42511613006567,7.560467723850713 8.970046452026269,8.978055422072721 C-4.485023226013134,10.39564312029473 -17.940092904052538,8.505526189332052 -26.910139356078805,3.3077046291846863 C-33.637674195098505,-0.47252923274066955 -40.36520903411821,-4.725292327406695 -44.85023226013134,-6.804420951465641Z" fill="#f28d82" stroke="#e57f76" stroke-width="1"/><ellipse cx="-1.8" cy="0" rx="10.6" ry="4.5" fill="#db625d"/></g>
</g>
<rect x="224.6" y="382.4" width="201.8" height="204.2" fill="none" stroke="#111" stroke-width="2"/>
<rect x="629.6" y="382.4" width="202.1" height="204" fill="none" stroke="#111" stroke-width="2"/>
<rect x="1026.8" y="382.4" width="207.4" height="204.2" fill="none" stroke="#111" stroke-width="2"/>
<g transform="translate(850.8,98.6) rotate(0)"><path d="M-83.0,-13.139999999999999 C-66.4,-6.387499999999999 -45.650000000000006,-16.425 -20.75,-17.884999999999998 C4.15,-19.71 24.9,-13.6875 45.650000000000006,-5.475 C59.76,0 73.04,8.2125 83.0,13.139999999999999 C66.4,10.037500000000001 41.5,14.600000000000001 16.6,17.3375 C-8.3,20.075000000000003 -33.2,16.425 -49.8,6.387499999999999 C-62.25,-0.9125000000000001 -74.7,-9.125 -83.0,-13.139999999999999Z" fill="#f28d82" stroke="#e57f76" stroke-width="1"/><ellipse cx="-3.3" cy="0" rx="19.6" ry="8.3" fill="#db625d"/></g>
<g transform="translate(1015.9,100.3) rotate(0)"><path d="M-58.8,-0L-53.9,-1.3L-49,-3.2L-44.1,-5.5L-39.2,-8.3L-34.3,-11.2L-29.4,-14.2L-24.5,-17.1L-19.6,-19.7L-14.7,-21.8L-9.8,-23.4L-4.9,-24.5L0,-24.8L4.9,-24.5L9.8,-23.4L14.7,-21.8L19.6,-19.7L24.5,-17.1L29.4,-14.2L34.3,-11.2L39.2,-8.3L44.1,-5.5L49,-3.2L53.9,-1.3L58.8,-0L53.9,1.3L49,3.2L44.1,5.5L39.2,8.3L34.3,11.2L29.4,14.2L24.5,17.1L19.6,19.7L14.7,21.8L9.8,23.4L4.9,24.5L0,24.8L-4.9,24.5L-9.8,23.4L-14.7,21.8L-19.6,19.7L-24.5,17.1L-29.4,14.2L-34.3,11.2L-39.2,8.3L-44.1,5.5L-49,3.2L-53.9,1.3Z" fill="#fdecb6" stroke="#b5923f" stroke-width="1.4" stroke-linejoin="round"/><ellipse cx="0" cy="0" rx="20.2" ry="15.1" fill="#f5cd8c" stroke="#e2b56e" stroke-width="0.98"/></g>
<path d="M1822.8,212.8L1824.9,212.5L1827.8,212.2L1831.3,211.9L1835.2,211.5L1839.4,211.1L1843.5,210.6L1847.5,210.1L1851.1,209.6L1854.4,209.1L1857.4,208.6L1860.5,208L1863.5,207.5L1866.5,206.8L1869.5,206.1L1872.7,205.2L1875.9,204.3L1879.2,203.3L1882.6,202.1L1886,200.9L1889.5,199.6L1893,198.3L1896.4,196.8L1899.8,195.4L1903.1,193.8L1906.3,192.2L1909.4,190.6L1912.5,188.9L1915.5,187.2L1918.4,185.4L1921.3,183.6L1924.2,181.7L1927.1,179.8L1929.9,177.8L1932.9,175.7L1935.7,173.5L1938.6,171.4L1941.3,169.2L1944,167L1946.6,164.9L1949,162.9L1951.2,161L1953.2,159.2L1955.2,157.5L1957,155.7L1958.9,153.9L1960.7,152.1L1962.6,150.1L1964.6,148L1966.7,145.6L1968.9,143.2L1971.1,140.6L1973.4,137.9L1975.6,135.2L1977.8,132.5L1979.9,129.8L1982,127.2L1983.9,124.7L1985.7,122.3L1987.4,120L1989.1,117.6L1990.8,115.1L1992.6,112.6L1994.5,109.8L1996.5,106.8L1998.7,103.4L2001.2,99.7L2003.8,95.7L2006.5,91.7L2009.1,87.6L2011.6,83.6L2014,79.9L2016,76.4L2017.9,73.2L2019.6,70L2021.1,66.9L2022.6,64L2023.8,61.3L2024.9,59L2025.7,57L2026.4,55.5L2020.6,52.5L2019.7,54L2018.7,55.9L2017.5,58.2L2016.1,60.7L2014.6,63.5L2013,66.4L2011.2,69.4L2009.4,72.4L2007.3,75.6L2004.9,79.2L2002.2,83L1999.5,87L1996.8,90.9L1994,94.8L1991.5,98.4L1989.1,101.6L1987,104.5L1985,107.1L1983.2,109.6L1981.4,111.8L1979.6,114L1977.9,116.2L1976,118.5L1974,120.8L1971.9,123.2L1969.7,125.8L1967.5,128.3L1965.2,130.8L1962.9,133.3L1960.7,135.7L1958.5,137.9L1956.4,140L1954.4,141.9L1952.6,143.7L1950.8,145.3L1949,146.8L1947.2,148.3L1945.3,149.8L1943.3,151.4L1941,153.1L1938.6,154.9L1936.1,156.8L1933.4,158.8L1930.7,160.8L1927.9,162.7L1925.1,164.6L1922.3,166.5L1919.5,168.2L1916.8,169.9L1914,171.5L1911.2,173.1L1908.4,174.6L1905.6,176.1L1902.7,177.5L1899.8,178.9L1896.9,180.2L1893.9,181.4L1890.7,182.6L1887.5,183.8L1884.2,184.9L1881,186L1877.7,187L1874.6,187.9L1871.5,188.7L1868.6,189.4L1865.9,190L1863.2,190.5L1860.5,190.9L1857.7,191.3L1854.9,191.7L1851.9,192L1848.9,192.4L1845.5,192.7L1841.8,193L1837.8,193.3L1833.8,193.6L1829.9,193.8L1826.4,194L1823.5,194.1L1821.2,194.2Z" fill="#df9a8e" stroke="#c98176" stroke-width="1.6" stroke-linejoin="round"/>
<path d="M1822,201.5C1826.7,201.1 1841.4,200.2 1850,199C1858.6,197.8 1865.4,196.8 1873.7,194.5C1882,192.2 1891.7,188.8 1900,185C1908.3,181.2 1915.8,176.8 1923.3,172C1930.8,167.2 1938.8,161 1945,156C1951.2,151 1955,147.7 1960.5,142C1966,136.3 1972.6,128.6 1978,122C1983.4,115.4 1987,110.5 1992.8,102.2C1998.6,93.9 2009.4,77.4 2012.7,72.4" fill="none" stroke="#e9ada2" stroke-width="2.2" opacity="0.8"/>
<path d="M1774.3,222.3C1779.2,214.6 1789.6,210.1 1797.2,208.5C1804.9,207 1814.1,208.1 1820.2,213.1C1826.3,218.1 1829,230.7 1833.9,238.4C1838.9,246 1846.3,253.6 1850,259C1853.8,264.5 1856.4,267.4 1856.4,271C1856.4,274.5 1853.8,280.2 1850,280.1C1846.3,280.1 1839.7,274 1833.9,270.5C1828.2,267 1821.7,262.3 1815.6,259C1809.5,255.8 1803.3,250.6 1797.2,251C1791.1,251.4 1783.8,260.7 1778.9,261.3C1773.9,261.9 1768.2,260.9 1767.4,254.4C1766.6,247.9 1769.3,230 1774.3,222.3Z" fill="#cbc0b4" stroke="#c9bdb0" stroke-width="1" stroke-linejoin="round" />
<path d="M1847.5,273.9C1849,271.4 1857.7,269.2 1861.9,269.9C1866,270.6 1869.9,274.7 1872.2,278C1874.5,281.2 1874.1,284.7 1875.8,289.2C1877.5,293.7 1879.9,300.1 1882.5,304.9C1885.1,309.8 1889.5,315 1891.5,318.4C1893.5,321.8 1895,323.4 1894.6,325.1C1894.3,326.9 1891.3,328.4 1889.3,328.7C1887.2,329.1 1884.1,327.2 1882.5,327.4C1880.9,327.6 1881.4,330.2 1879.8,329.9C1878.2,329.6 1875.3,328.5 1873.1,325.6C1870.8,322.6 1868.6,317 1866.3,312.1C1864.1,307.2 1861.9,300.9 1859.6,296.4C1857.4,291.9 1854.9,288.9 1852.9,285.2C1850.8,281.4 1846,276.5 1847.5,273.9Z" fill="#ebb3a9" stroke="#d4968c" stroke-width="1" stroke-linejoin="round" />
<path d="M1545,230C1540.1,231.9 1550.4,240.3 1550.6,244.8C1550.7,249.2 1547.9,252.3 1546,256.8C1544,261.2 1540.7,267.5 1538.6,271.5C1536.4,275.5 1533.4,277.5 1533.1,280.7C1532.7,283.9 1533.8,290 1536.7,290.8C1539.7,291.7 1545.2,287.2 1550.6,285.7C1555.9,284.2 1562.8,283.8 1569,281.6C1575.1,279.5 1582.8,275.6 1587.4,272.8C1592,270 1594.8,269.1 1596.6,265.1C1598.5,261 1601.2,253.7 1598.5,248.5C1595.7,243.2 1588.9,236.8 1580,233.7C1571.1,230.7 1549.9,228.2 1545,230Z" fill="#d7cfc6" stroke="#c9bdb0" stroke-width="1" stroke-linejoin="round" />
<path d="M1531.2,279.8C1535.3,281.4 1537.9,290 1536.6,293.7C1535.3,297.4 1529.4,296.4 1524.9,298.2C1520.4,300 1515.9,300.8 1514.1,302.7C1512.3,304.5 1516.9,306.2 1515.9,307.4C1515,308.6 1511.7,309.4 1509.4,308.5C1507.2,307.7 1506.1,302.7 1504.7,303.1C1503.4,303.6 1504.2,310.4 1502.7,310.8C1501.2,311.2 1498.7,307.4 1497.1,305.1C1495.4,302.9 1493.3,302.3 1494.4,299.5C1495.5,296.8 1498.1,294.2 1502.5,291.4C1506.8,288.7 1510.2,287.9 1515.9,285.6C1521.7,283.3 1527.1,278.1 1531.2,279.8Z" fill="#ebb3a9" stroke="#d4968c" stroke-width="1" stroke-linejoin="round" />
<path d="M1540.4,121.3C1538.8,119.5 1542.7,114.9 1544.7,112.5C1546.7,110.1 1549.6,108 1552.4,107C1555.2,105.9 1558.8,105.7 1561.6,106C1564.4,106.4 1568.1,107.5 1569.4,109.2C1570.6,110.8 1570,113.8 1569.4,115.8C1568.7,117.8 1568.2,119.7 1565.7,121C1563.1,122.2 1558.5,123.1 1554.2,123.2C1550,123.2 1542,123.1 1540.4,121.3Z" fill="#dcd6cf" stroke="#c9bdb0" stroke-width="1" stroke-linejoin="round" />
<path d="M1626.9,249.4C1630.4,248.1 1640.7,250.1 1648,250.3C1655.4,250.5 1664.5,249.3 1671,250.8C1677.5,252.2 1682.5,254.1 1687.1,259C1691.6,263.9 1696.8,275.4 1698.5,280.1C1700.3,284.9 1700.3,288.5 1697.6,287.7C1694.9,286.9 1688.8,279 1682.5,275.5C1676.1,272.1 1667.2,269.6 1659.5,267.3C1651.9,265 1641.9,263.3 1636.6,261.8C1631.2,260.2 1629,260.2 1627.4,258.1C1625.8,256 1623.5,250.7 1626.9,249.4Z" fill="#d2c8bc" stroke="#c9bdb0" stroke-width="0.8" stroke-linejoin="round" />
<path d="M1458.4,165.2C1459.4,162.1 1463,157.5 1465.8,154.5C1468.6,151.5 1472.4,148.3 1476.9,145.3C1481.3,142.2 1489.2,137.3 1495.3,134.2C1501.4,131.2 1510.8,127.1 1517.4,125C1524,123 1533.4,121.1 1539.5,120.6C1545.6,120.1 1553.5,121.3 1557.9,121.7C1562.4,122.1 1564.6,122.3 1569,123.5C1573.4,124.7 1582.7,127.4 1587.4,129.6C1592.1,131.8 1596.2,137.3 1600.3,138.3C1604.5,139.2 1612.2,136.7 1615.1,136.1C1617.9,135.5 1618.8,133.6 1619.1,134.2C1619.4,134.9 1615.1,140.5 1617.3,140.5C1619.4,140.5 1626.9,136.4 1633.5,134.2C1640.1,132.1 1652,128.1 1661.1,126.1C1670.2,124.2 1683.9,121.7 1693.9,121.3C1704,120.9 1718,121.5 1728.4,123.6C1738.7,125.7 1753.8,130.6 1762.8,135.1C1771.7,139.6 1781.2,147.6 1788,153.4C1794.9,159.3 1803.8,168.9 1808.7,174.1C1813.6,179.3 1818.2,183.9 1820.6,188.3C1823,192.8 1824.7,199.5 1824.8,203.9C1824.8,208.4 1823.8,214 1821.1,218.2C1818.3,222.4 1811.4,227.8 1806.4,231.9C1801.4,236.1 1793.6,241 1788,245.7C1782.5,250.5 1775.9,258.8 1769.7,263.6C1763.5,268.4 1752.9,274.3 1746.7,277.8C1740.5,281.4 1732.8,284.7 1728.4,287C1723.9,289.4 1719.2,291.9 1716.9,293.4C1714.6,295 1715.5,297.2 1712.8,297.6C1710,298 1700.7,298.8 1698.5,296.2C1696.4,293.6 1700.3,285.6 1698.5,280.1C1696.8,274.6 1691.2,263.8 1687.1,259.5C1682.9,255.1 1676.8,252.5 1671,251.2C1665.1,249.9 1654.2,251.1 1648,251C1641.8,250.9 1632.4,249.4 1629.7,250.3C1626.9,251.2 1630.3,254.3 1629.8,256.8C1629.3,259.2 1626.5,263.2 1626.1,266.9C1625.7,270.6 1627.7,278.4 1627,281.6C1626.3,284.9 1623.3,287.5 1621.5,288.6C1619.7,289.8 1617.4,290.4 1615.1,289.4C1612.7,288.4 1609.4,284.8 1605.8,282C1602.2,279.2 1595.4,274.7 1591.1,270.9C1586.8,267.2 1581.7,260.6 1577.3,256.8C1572.9,252.9 1565.6,248.1 1561.6,245.2C1557.6,242.2 1553.3,239.4 1550.6,237.4C1547.8,235.4 1545.4,234.1 1543.2,231.9C1541,229.7 1538,225.2 1535.8,222.7C1533.6,220.2 1531.8,218.3 1528.4,215.3C1525.1,212.3 1518.7,206 1513.7,202.8C1508.7,199.5 1500.8,195.8 1495.3,193.6C1489.8,191.3 1481.6,190 1476.9,188C1472.2,186.1 1466.6,182.6 1464,180.7C1461.3,178.7 1460.2,177.1 1459.3,174.8C1458.5,172.4 1457.5,168.2 1458.4,165.2Z" fill="#e9e6e2" stroke="#c9bdb0" stroke-width="1.1" stroke-linejoin="round" />
<path d="M1458.4,165.2C1459.4,162.1 1463,157.5 1465.8,154.5C1468.6,151.5 1472.4,148.3 1476.9,145.3C1481.3,142.2 1489.2,137.3 1495.3,134.2C1501.4,131.2 1510.8,127.1 1517.4,125C1524,123 1533.4,121.1 1539.5,120.6C1545.6,120.1 1553.5,121.3 1557.9,121.7C1562.4,122.1 1564.6,122.3 1569,123.5C1573.4,124.7 1582.7,127.4 1587.4,129.6C1592.1,131.8 1596.2,137.3 1600.3,138.3C1604.5,139.2 1612.2,136.7 1615.1,136.1C1617.9,135.5 1618.8,133.6 1619.1,134.2C1619.4,134.9 1615.1,140.5 1617.3,140.5C1619.4,140.5 1626.9,136.4 1633.5,134.2C1640.1,132.1 1652,128.1 1661.1,126.1C1670.2,124.2 1683.9,121.7 1693.9,121.3C1704,120.9 1718,121.5 1728.4,123.6C1738.7,125.7 1753.8,130.6 1762.8,135.1C1771.7,139.6 1781.2,147.6 1788,153.4C1794.9,159.3 1803.8,168.9 1808.7,174.1C1813.6,179.3 1818.2,183.9 1820.6,188.3C1823,192.8 1824.7,199.5 1824.8,203.9C1824.8,208.4 1823.8,214 1821.1,218.2C1818.3,222.4 1811.4,227.8 1806.4,231.9C1801.4,236.1 1793.6,241 1788,245.7C1782.5,250.5 1775.9,258.8 1769.7,263.6C1763.5,268.4 1752.9,274.3 1746.7,277.8C1740.5,281.4 1732.8,284.7 1728.4,287C1723.9,289.4 1719.2,291.9 1716.9,293.4C1714.6,295 1715.5,297.2 1712.8,297.6C1710,298 1700.7,298.8 1698.5,296.2C1696.4,293.6 1700.3,285.6 1698.5,280.1C1696.8,274.6 1691.2,263.8 1687.1,259.5C1682.9,255.1 1676.8,252.5 1671,251.2C1665.1,249.9 1654.2,251.1 1648,251C1641.8,250.9 1632.4,249.4 1629.7,250.3C1626.9,251.2 1630.3,254.3 1629.8,256.8C1629.3,259.2 1626.5,263.2 1626.1,266.9C1625.7,270.6 1627.7,278.4 1627,281.6C1626.3,284.9 1623.3,287.5 1621.5,288.6C1619.7,289.8 1617.4,290.4 1615.1,289.4C1612.7,288.4 1609.4,284.8 1605.8,282C1602.2,279.2 1595.4,274.7 1591.1,270.9C1586.8,267.2 1581.7,260.6 1577.3,256.8C1572.9,252.9 1565.6,248.1 1561.6,245.2C1557.6,242.2 1553.3,239.4 1550.6,237.4C1547.8,235.4 1545.4,234.1 1543.2,231.9C1541,229.7 1538,225.2 1535.8,222.7C1533.6,220.2 1531.8,218.3 1528.4,215.3C1525.1,212.3 1518.7,206 1513.7,202.8C1508.7,199.5 1500.8,195.8 1495.3,193.6C1489.8,191.3 1481.6,190 1476.9,188C1472.2,186.1 1466.6,182.6 1464,180.7C1461.3,178.7 1460.2,177.1 1459.3,174.8C1458.5,172.4 1457.5,168.2 1458.4,165.2Z" fill="url(#bodysh)" stroke="none" stroke-width="0" stroke-linejoin="round" />
<path d="M1532.1,207.9C1533.4,205.9 1538.9,206.1 1543.2,209.8C1547.5,213.5 1553,223.6 1557.9,230C1562.8,236.5 1569,244 1572.7,248.5C1576.4,252.9 1580.7,256.5 1580,256.8C1579.4,257.1 1573.3,253.1 1569,250.3C1564.7,247.5 1558.5,243.4 1554.2,240.2C1549.9,237 1546.3,234 1543.2,231C1540.1,227.9 1537.7,225.6 1535.8,221.7C1534,217.9 1530.9,209.9 1532.1,207.9Z" fill="#d7cfc6" stroke="none" stroke-width="1" stroke-linejoin="round" />
<path d="M1627,255.8C1629.1,253.7 1633.3,255.5 1639,254C1644.7,252.5 1654.4,248.5 1661.1,246.6C1667.9,244.8 1673.1,244.5 1679.5,242.9C1686,241.4 1696.6,237.4 1700,237.4C1703.4,237.4 1703.4,241.1 1700,242.9C1696.6,244.8 1687.6,246.9 1679.5,248.5C1671.5,250 1659.9,250.6 1651.9,252.2C1643.9,253.7 1635.9,255.2 1631.6,257.7C1627.4,260.1 1627.2,267.2 1626.5,266.9C1625.7,266.6 1624.9,258 1627,255.8Z" fill="#d7cfc6" stroke="none" stroke-width="1" stroke-linejoin="round" />
<path d="M1673.3,252.1C1675.2,251.2 1679,248.3 1682.5,249.8C1685.9,251.4 1691.2,256.3 1693.9,261.3C1696.7,266.3 1698.4,275.5 1699,279.7C1699.6,283.9 1699.4,289.2 1697.4,286.6C1695.4,283.9 1691.5,268.8 1687.1,263.6C1682.7,258.4 1673.3,257.5 1671,255.6C1668.7,253.7 1671.4,253.1 1673.3,252.1Z" fill="#d7cfc6" stroke="none" stroke-width="1" stroke-linejoin="round" />
<path d="M1625.1,208.5C1626.2,211.6 1630.1,221.5 1632,226.9C1633.9,232.2 1633.9,236.6 1636.6,240.7C1639.2,244.7 1646.1,249.3 1648,251" fill="none" stroke="#c9bdb0" stroke-width="1" stroke-linejoin="round" />
<path d="M1788,155.7C1789.6,160.3 1796.5,174.5 1797.2,183.3C1798,192.1 1795.7,200.5 1792.6,208.5C1789.6,216.6 1783.8,224.6 1778.9,231.5C1773.9,238.4 1765.5,246.8 1762.8,249.8" fill="none" stroke="#d5cbc0" stroke-width="1" stroke-linejoin="round" />
<path d="M1615.7,288.8C1617.1,285.6 1622.7,281.6 1626,282C1629.3,282.5 1634.2,287.6 1635.4,291.4C1636.6,295.3 1635.1,300.4 1633.2,304.9C1631.3,309.4 1626.5,315 1624.2,318.4C1622,321.8 1622.3,323.6 1619.7,325.1C1617.1,326.7 1611.3,327.8 1608.5,327.6C1605.6,327.5 1602.7,326 1602.6,324.2C1602.6,322.5 1606,319 1608,317.3C1610.1,315.6 1613.2,316.6 1614.8,313.9C1616.3,311.2 1617.3,305.1 1617.5,300.9C1617.6,296.7 1614.2,291.9 1615.7,288.8Z" fill="#ebb3a9" stroke="#d4968c" stroke-width="1" stroke-linejoin="round" />
<path d="M1695.2,295.9C1698.2,294.9 1710.5,297.1 1714.1,298.6C1717.6,300.1 1716.7,300.4 1716.3,304.9C1715.9,309.4 1713.8,322 1711.8,325.6C1709.9,329.2 1707.3,326.7 1704.6,326.7C1701.9,326.7 1700.1,325.2 1695.6,325.4C1691.1,325.5 1682.9,327 1677.7,327.6C1672.4,328.2 1667.3,329.1 1664.2,328.7C1661.1,328.3 1659.2,326.7 1659.2,325.1C1659.2,323.6 1660.4,321.2 1664.2,319.3C1668,317.4 1677.3,315 1682.2,313.9C1687,312.9 1691.1,314.5 1693.4,313C1695.7,311.5 1695.8,307.8 1696.1,304.9C1696.4,302.1 1692.2,297 1695.2,295.9Z" fill="#ebb3a9" stroke="#d4968c" stroke-width="1" stroke-linejoin="round" />
<path d="M1569,123.5C1572,122.7 1576.4,121.9 1580,122.4C1583.7,123 1588,124.3 1591.1,126.9C1594.2,129.4 1597.4,134.2 1598.5,137.9C1599.6,141.6 1599,145.4 1597.7,149C1596.5,152.5 1594,156.6 1591.1,159.3C1588.1,161.9 1584,164.1 1580,164.8C1576,165.5 1571.1,164.5 1567.1,163.7C1563.2,162.9 1558.9,161.6 1556.5,160C1554,158.5 1552.6,156.6 1552.4,154.5C1552.2,152.4 1554.2,149.3 1555.2,147.5C1556.1,145.6 1557.9,144.7 1557.9,143.4C1557.9,142.1 1555.2,141.3 1555.2,139.8C1555.2,138.2 1556.8,136.3 1557.9,134.2C1559.1,132.1 1560.1,129 1562,127.2C1563.8,125.4 1566,124.3 1569,123.5Z" fill="#e8aea5" stroke="#cf8f86" stroke-width="1.1" stroke-linejoin="round" />
<path d="M1572.7,129.6C1574.8,127.9 1579,128.5 1581.9,129.6C1584.8,130.7 1588.5,133.1 1590.2,136.1C1591.9,139 1592.8,143.7 1592,147.1C1591.2,150.5 1588.2,154.2 1585.6,156.3C1583,158.4 1579.1,159.7 1576.4,159.7C1573.6,159.7 1569.6,158.1 1569,156.3C1568.4,154.6 1572.7,151.7 1572.7,149C1572.7,146.2 1569,143 1569,139.8C1569,136.5 1570.5,131.3 1572.7,129.6Z" fill="#f0c2ba" stroke="none" stroke-width="1" stroke-linejoin="round" />
<circle cx="1509.7" cy="151.7" r="6.3" fill="#a8201f" stroke="#6e1414" stroke-width="1"/>
<circle cx="1508.5" cy="149.7" r="1.3" fill="#f5c0c0"/>
<path d="M1500.8,153.6C1501.3,152.2 1501.9,146.9 1503.6,145.3C1505.3,143.7 1508.6,143.2 1510.9,143.8C1513.2,144.4 1516.3,148.1 1517.4,149" fill="none" stroke="#d8cfc6" stroke-width="1"/>
<path d="M1458.4,163C1459.2,161.8 1461.4,161.1 1462.5,161.5C1463.5,161.9 1464.6,163.7 1464.7,165.2C1464.8,166.7 1464,169.2 1463.2,170.3C1462.4,171.5 1460.8,172.5 1459.9,172.2C1459,171.8 1458.3,169.8 1458.1,168.3C1457.8,166.8 1457.7,164.1 1458.4,163Z" fill="#e8b0a8" stroke="none" stroke-width="1" stroke-linejoin="round" />
<path d="M1463.6,167C1462.1,164.3 1458.7,156.6 1454.7,150.8C1450.8,145 1442.5,135.1 1440,132" fill="none" stroke="#cfc6bf" stroke-width="0.8"/>
<path d="M1463.6,167.4C1461.8,165.5 1456.2,159.1 1452.9,156.3C1449.6,153.6 1445.2,151.7 1443.7,150.8" fill="none" stroke="#cfc6bf" stroke-width="0.8"/>
<path d="M1463.6,167.8C1461.5,164 1453.8,150.7 1451.1,145.3C1448.4,139.8 1448,136.8 1447.4,135.1" fill="none" stroke="#cfc6bf" stroke-width="0.8"/>
<path d="M1464,168.3C1462.7,167.2 1458.4,163.2 1456.6,161.9C1454.7,160.5 1453.5,160.3 1452.9,160" fill="none" stroke="#cfc6bf" stroke-width="0.8"/>
<path d="M1469.5,167.4C1473.8,167.5 1485.8,167.3 1495.3,168.3C1504.8,169.3 1521.4,172.5 1526.6,173.3" fill="none" stroke="#cfc6bf" stroke-width="0.8"/>
<path d="M1470.4,169.6C1474.5,170.5 1486.5,172.4 1495.3,175.1C1504,177.8 1518.3,184 1522.9,185.8" fill="none" stroke="#cfc6bf" stroke-width="0.8"/>
<path d="M1471.3,171.1C1474.1,172.3 1482.1,175.4 1487.9,178.4C1493.7,181.5 1503.3,187.7 1506.3,189.5" fill="none" stroke="#cfc6bf" stroke-width="0.8"/>
<path d="M1469.5,166.5C1472.6,165.9 1482.7,163.6 1487.9,162.8C1493.1,162 1498.7,162 1500.8,161.9" fill="none" stroke="#cfc6bf" stroke-width="0.8"/>
<path d="M1760.5,182.4C1762.2,183.4 1763.9,186.8 1763.7,188.3C1763.5,189.9 1760.4,193.4 1759.1,193.8C1757.8,194.3 1754.9,192.7 1754.1,192C1753.2,191.3 1755.2,188.6 1752.7,188.8C1750.2,189 1740,191.9 1735.3,193.4C1730.5,194.9 1721.2,198.3 1716.9,200.3C1712.6,202.2 1704.7,204.2 1703.1,208.1C1701.6,211.9 1705.2,221.8 1705.4,229.2C1705.6,236.6 1704.8,256 1704.5,263.6C1704.2,271.3 1703.7,280.1 1703.1,286.6C1702.5,293 1700.8,308.4 1699.9,311.8C1699,315.2 1696.5,315.2 1696.2,311.8C1696,308.4 1698,293 1698.1,286.6C1698.2,280.1 1697.7,269.7 1697.2,263.6C1696.6,257.5 1694.6,246.8 1693.9,240.7C1693.3,234.5 1692.2,222.4 1692.1,217.7C1692,213.1 1691.7,208.6 1693.5,205.8C1695.3,203 1700.8,199.2 1705.4,196.6C1710.1,194 1722.3,188.2 1728.4,186C1734.5,183.9 1747,181 1751.3,180.5C1755.6,180 1758.9,181.3 1760.5,182.4Z" fill="#f3e0b2" stroke="#d9bf86" stroke-width="0.8" stroke-linejoin="round" />
<path d="M1689.4,205.1C1689.7,202.3 1692.8,196.9 1696.2,192.5C1699.7,188.1 1704.7,182.1 1710,178.7C1715.4,175.2 1722.3,173.4 1728.4,171.8C1734.5,170.2 1741.4,169.1 1746.7,169.1C1752.1,169.1 1757.3,170.4 1760.5,171.8C1763.7,173.3 1765.6,175.9 1766,177.8C1766.5,179.6 1765.7,181.9 1763.3,182.8C1760.8,183.7 1756.4,182.4 1751.3,183.3C1746.3,184.1 1738.7,186 1733,187.9C1727.2,189.7 1721.9,191.8 1716.9,194.3C1711.9,196.8 1706.9,200.6 1703.1,203C1699.3,205.5 1696.2,208.6 1693.9,209C1691.6,209.3 1689,207.8 1689.4,205.1Z" fill="#d7605c" stroke="#b8474a" stroke-width="1" stroke-linejoin="round" />
<path d="M1700.8,190.2C1703.9,188.2 1712.3,181.1 1719.2,178.2C1726.1,175.3 1735.3,173.3 1742.1,172.7C1749,172.1 1757.4,174.3 1760.5,174.6" fill="none" stroke="#e58c86" stroke-width="2" stroke-linejoin="round" />
<path d="M1698.5,200.5C1702,198.3 1711.9,190.7 1719.2,187.4C1726.5,184.1 1735.3,181.8 1742.1,180.5C1749,179.3 1757.4,180.1 1760.5,180.1" fill="none" stroke="#c04c4e" stroke-width="1.2" stroke-linejoin="round" />
<path d="M1696.2,195.9C1699.3,193.6 1707.3,185.8 1714.6,182.4C1721.9,179 1732.2,176.5 1739.8,175.5C1747.5,174.5 1757.1,176.2 1760.5,176.4" fill="none" stroke="#c04c4e" stroke-width="1.0" stroke-linejoin="round" />
<path d="M1690.5,205.1C1692,203.9 1694.1,206.1 1694.4,209C1694.7,211.9 1692.7,217 1692.1,222.3C1691.5,227.6 1690.4,234.5 1690.7,240.7C1691,246.8 1692.6,253.3 1693.9,259C1695.2,264.8 1697.3,270.4 1698.5,275.1C1699.8,279.8 1701.3,285 1701.3,287C1701.3,289 1700.1,290.1 1698.5,287C1696.9,284 1693.9,274.8 1691.6,268.7C1689.4,262.5 1686.3,256.5 1684.8,250.3C1683.2,244.1 1682.3,237.2 1682.5,231.5C1682.6,225.7 1684.3,220.3 1685.7,215.9C1687,211.5 1689,206.2 1690.5,205.1Z" fill="#d7605c" stroke="#b8474a" stroke-width="1" stroke-linejoin="round" />
<path d="M1688.2,217.7C1687.9,220.8 1686.2,229.6 1686.6,236.1C1687,242.6 1688.7,249.8 1690.5,256.7C1692.3,263.6 1696.2,273.9 1697.4,277.4" fill="none" stroke="#e58c86" stroke-width="1.6" stroke-linejoin="round" />
<rect x="1668" y="215" width="44" height="51" rx="1.5" fill="none" stroke="#8758b6" stroke-width="10" stroke-linejoin="round"/>
<path d="M1540.1,407.7C1535.6,406 1511.8,410.4 1507,411.5C1502.3,412.5 1504.4,414.5 1504.4,415.7C1504.4,416.9 1502.2,419.2 1507,420.3C1511.8,421.3 1536,425.4 1540.5,423.7C1544.9,422 1544.5,409.3 1540.1,407.7Z" fill="#dcd6d6" stroke="#9b9696" stroke-width="1" stroke-linejoin="round" />
<path d="M1539,408.1C1544.2,402.9 1558.2,398.1 1570.1,392.1C1581.9,386 1596.8,376.9 1610.1,372C1623.5,367.2 1638.5,365 1650.2,363C1661.8,361 1668.5,359.9 1680.2,360C1691.9,360.2 1705.2,361.4 1720.2,364C1735.2,366.7 1755.3,371 1770.3,376C1785.3,381 1797.6,387.7 1810.3,394.1C1823,400.4 1837.3,408.4 1846.4,414.1C1855.4,419.7 1860.3,424.4 1864.4,428.1C1868.4,431.8 1870.1,434.4 1870.8,436.1C1871.4,437.8 1869.8,438.2 1868.4,438.5C1866.9,438.8 1868.3,438.8 1862,438.1C1855.6,437.4 1842.3,434.4 1830.3,434.5C1818.4,434.6 1803.6,437 1790.3,438.5C1777,440 1763.6,442.2 1750.3,443.3C1736.9,444.4 1723.6,445.2 1710.2,445.3C1696.9,445.4 1683.5,445.1 1670.2,444.1C1656.8,443.1 1643.5,441.4 1630.1,439.3C1616.8,437.2 1601.8,433.6 1590.1,431.3C1578.4,429 1568.6,426.7 1560.1,425.3C1551.6,423.9 1542.6,426 1539,423.1C1535.5,420.2 1533.9,413.2 1539,408.1Z" fill="url(#mg1)" stroke="#b9494c" stroke-width="1"/>
<g clip-path="url(#mc1)">
<path d="M1550.1,418.1C1560.1,415.1 1586.8,404.7 1610.1,400.1C1633.5,395.4 1663.5,390.4 1690.2,390.1C1716.9,389.7 1743.6,391.7 1770.3,398.1C1797,404.4 1837,423.1 1850.4,428.1" fill="none" stroke="#e38a88" stroke-width="7" opacity="0.5" stroke-linecap="round"/>
<path d="M1586.1,420.1C1596.8,420.7 1629.5,422.7 1650.2,424.1C1670.8,425.4 1690.2,426.9 1710.2,428.1C1730.2,429.3 1760.3,430.6 1770.3,431.1" fill="none" stroke="#e89894" stroke-width="9" opacity="0.55" stroke-linecap="round"/>
<path d="M1560.1,409.1C1565.1,406.2 1578.4,397.2 1590.1,392.1C1601.8,386.9 1623.5,380.4 1630.1,378" fill="none" stroke="#e08482" stroke-width="6" opacity="0.5" stroke-linecap="round"/>
<path d="M1780.3,386C1787,389.4 1808,399.4 1820.3,406.1C1832.7,412.7 1848.7,422.7 1854.4,426.1" fill="none" stroke="#de807e" stroke-width="5" opacity="0.45" stroke-linecap="round"/>
<path d="M1550.1,424.1C1563.4,425.8 1603.4,431.4 1630.1,434.1C1656.8,436.8 1683.5,440.1 1710.2,440.1C1736.9,440.1 1765.3,435.1 1790.3,434.1C1815.3,433.1 1848.7,434.1 1860.4,434.1" fill="none" stroke="#b94548" stroke-width="4" opacity="0.5" stroke-linecap="round"/>
<path d="M1542.1,414.1C1553.4,414.4 1585.4,415.1 1610.1,416.1C1634.8,417.1 1663.5,418.7 1690.2,420.1C1716.9,421.4 1743.6,422.1 1770.3,424.1C1797,426.1 1837,430.8 1850.4,432.1" fill="none" stroke="#bd4a4c" stroke-width="1.5" opacity="0.6" stroke-linecap="round"/>
</g>
<path d="M1611.1,375C1613.1,372.2 1622,369.2 1630.1,367C1638.3,364.9 1650.2,363 1660.2,362C1670.2,361 1678.5,360.4 1690.2,361C1701.9,361.7 1718.6,364 1730.2,366C1741.9,368 1752.9,370.7 1760.3,373C1767.6,375.4 1771.3,376.9 1774.3,380C1777.3,383.2 1776.3,388.7 1778.3,392.1C1780.3,395.4 1785.3,397.4 1786.3,400.1C1787.3,402.7 1787,406.4 1784.3,408.1C1781.6,409.7 1776,410.1 1770.3,410.1C1764.6,410.1 1756.9,408.1 1750.3,408.1C1743.6,408.1 1735.2,408.9 1730.2,410.1C1725.2,411.2 1724.2,413.7 1720.2,415.1C1716.2,416.4 1711.2,417.7 1706.2,418.1C1701.2,418.4 1694.5,417.7 1690.2,417.1C1685.9,416.4 1683.5,415.6 1680.2,414.1C1676.9,412.6 1675.2,409.7 1670.2,408.1C1665.2,406.4 1656.8,405.4 1650.2,404.1C1643.5,402.7 1635.1,402.1 1630.1,400.1C1625.1,398.1 1622.1,394.7 1620.1,392.1C1618.1,389.4 1619.6,386.9 1618.1,384C1616.6,381.2 1609.1,377.9 1611.1,375Z" fill="#b5403f" stroke="#a83a3a" stroke-width="0.8" stroke-linejoin="round" />
<path d="M1630.1,380C1635.1,377 1648.5,373.7 1660.2,372C1671.8,370.4 1686.9,369.2 1700.2,370C1713.6,370.9 1729.2,374 1740.3,377C1751.3,380 1761.3,384.2 1766.3,388C1771.3,391.9 1774.6,398.1 1770.3,400.1C1765.9,402.1 1750.3,399.1 1740.3,400.1C1730.2,401.1 1720.2,405.4 1710.2,406.1C1700.2,406.7 1690.2,405.7 1680.2,404.1C1670.2,402.4 1658.5,398.4 1650.2,396.1C1641.8,393.7 1633.5,392.7 1630.1,390.1C1626.8,387.4 1625.1,383 1630.1,380Z" fill="#bb4644" stroke="none" stroke-width="1" stroke-linejoin="round" />
<path d="M1666.2,406.1C1668.5,404.4 1682.2,402.1 1690.2,402.1C1698.2,402.1 1710.9,404.1 1714.2,406.1C1717.6,408.1 1714.2,412.5 1710.2,414.1C1706.2,415.7 1695.9,416 1690.2,415.7C1684.5,415.3 1680.2,413.7 1676.2,412.1C1672.2,410.5 1663.8,407.7 1666.2,406.1Z" fill="#c04a48" stroke="none" stroke-width="1" stroke-linejoin="round" />
<circle cx="1706.2" cy="398.1" r="1.6" fill="#d07070" opacity="0.8"/>
<circle cx="1712.2" cy="396.1" r="1.6" fill="#d07070" opacity="0.8"/>
<circle cx="1720.2" cy="394.5" r="1.6" fill="#d07070" opacity="0.8"/>
<circle cx="1728.2" cy="393.7" r="1.6" fill="#d07070" opacity="0.8"/>
<circle cx="1734.2" cy="392.5" r="1.6" fill="#d07070" opacity="0.8"/>
<path d="M1544.1,552.2C1539.6,550.5 1515.8,554.9 1511,556C1506.3,557 1508.4,559 1508.4,560.2C1508.4,561.4 1506.2,563.7 1511,564.8C1515.8,565.8 1540,569.9 1544.5,568.2C1548.9,566.5 1548.5,553.8 1544.1,552.2Z" fill="#dcd6d6" stroke="#9b9696" stroke-width="1" stroke-linejoin="round" />
<path d="M1543,552.6C1548.2,547.4 1562.2,542.6 1574.1,536.6C1585.9,530.5 1600.8,521.4 1614.1,516.5C1627.5,511.7 1642.5,509.5 1654.2,507.5C1665.8,505.5 1672.5,504.4 1684.2,504.5C1695.9,504.7 1709.2,505.9 1724.2,508.5C1739.2,511.2 1759.3,515.5 1774.3,520.5C1789.3,525.5 1801.6,532.2 1814.3,538.6C1827,544.9 1841.3,552.9 1850.4,558.6C1859.4,564.2 1864.3,568.9 1868.4,572.6C1872.4,576.3 1874.1,578.9 1874.8,580.6C1875.4,582.3 1873.8,582.7 1872.4,583C1870.9,583.3 1872.3,583.3 1866,582.6C1859.6,581.9 1846.3,578.9 1834.3,579C1822.4,579.1 1807.6,581.5 1794.3,583C1781,584.5 1767.6,586.7 1754.3,587.8C1740.9,588.9 1727.6,589.7 1714.2,589.8C1700.9,589.9 1687.5,589.6 1674.2,588.6C1660.8,587.6 1647.5,585.9 1634.1,583.8C1620.8,581.7 1605.8,578.1 1594.1,575.8C1582.4,573.5 1572.6,571.2 1564.1,569.8C1555.6,568.4 1546.6,570.5 1543,567.6C1539.5,564.7 1537.9,557.7 1543,552.6Z" fill="url(#mg2)" stroke="#b9494c" stroke-width="1"/>
<g clip-path="url(#mc2)">
<path d="M1554.1,562.6C1564.1,559.6 1590.8,549.2 1614.1,544.6C1637.5,539.9 1667.5,534.9 1694.2,534.6C1720.9,534.2 1747.6,536.2 1774.3,542.6C1801,548.9 1841,567.6 1854.4,572.6" fill="none" stroke="#e38a88" stroke-width="7" opacity="0.5" stroke-linecap="round"/>
<path d="M1590.1,564.6C1600.8,565.2 1633.5,567.2 1654.2,568.6C1674.8,569.9 1694.2,571.4 1714.2,572.6C1734.2,573.8 1764.3,575.1 1774.3,575.6" fill="none" stroke="#e89894" stroke-width="9" opacity="0.55" stroke-linecap="round"/>
<path d="M1564.1,553.6C1569.1,550.7 1582.4,541.7 1594.1,536.6C1605.8,531.4 1627.5,524.9 1634.1,522.5" fill="none" stroke="#e08482" stroke-width="6" opacity="0.5" stroke-linecap="round"/>
<path d="M1784.3,530.5C1791,533.9 1812,543.9 1824.3,550.6C1836.7,557.2 1852.7,567.2 1858.4,570.6" fill="none" stroke="#de807e" stroke-width="5" opacity="0.45" stroke-linecap="round"/>
<path d="M1554.1,568.6C1567.4,570.3 1607.4,575.9 1634.1,578.6C1660.8,581.3 1687.5,584.6 1714.2,584.6C1740.9,584.6 1769.3,579.6 1794.3,578.6C1819.3,577.6 1852.7,578.6 1864.4,578.6" fill="none" stroke="#b94548" stroke-width="4" opacity="0.5" stroke-linecap="round"/>
<path d="M1546.1,558.6C1557.4,558.9 1589.4,559.6 1614.1,560.6C1638.8,561.6 1667.5,563.2 1694.2,564.6C1720.9,565.9 1747.6,566.6 1774.3,568.6C1801,570.6 1841,575.3 1854.4,576.6" fill="none" stroke="#bd4a4c" stroke-width="1.5" opacity="0.6" stroke-linecap="round"/>
</g>
<path d="M1606.1,518.2C1607.1,514.8 1612.8,510.7 1620.1,508.2C1627.5,505.7 1640.2,504.6 1650.2,503.2C1660.2,501.8 1670.2,499.8 1680.2,499.8C1690.2,499.8 1700.2,501.4 1710.2,503.2C1720.2,504.9 1731.9,507.8 1740.3,510.2C1748.6,512.5 1755.3,514.5 1760.3,517.2C1765.3,519.8 1767.9,523.4 1770.3,526.2C1772.6,529 1772.8,531.2 1774.3,534.2C1775.8,537.2 1778.6,541.4 1779.3,544.2C1780,547 1781.5,549.7 1778.3,551.2C1775.1,552.7 1768.3,553 1760.3,553.2C1752.3,553.4 1737.2,551.5 1730.2,552.2C1723.2,552.9 1721.6,555.2 1718.2,557.2C1714.9,559.2 1713.2,562.6 1710.2,564.2C1707.2,565.9 1704.9,566.6 1700.2,567.2C1695.5,567.9 1687.2,569.4 1682.2,568.2C1677.2,567.1 1674.5,562.9 1670.2,560.2C1665.8,557.6 1662.2,554.2 1656.2,552.2C1650.2,550.2 1640.2,550.2 1634.1,548.2C1628.1,546.2 1623.5,543.5 1620.1,540.2C1616.8,536.9 1616.5,531.9 1614.1,528.2C1611.8,524.5 1605.1,521.5 1606.1,518.2Z" fill="#b9b2b8" stroke="#a9a6b0" stroke-width="1" stroke-linejoin="round" fill-opacity="0.96"/>
<path d="M1638.1,528.2C1639.5,524.5 1643.2,522.2 1650.2,520.2C1657.2,518.2 1670.2,516.5 1680.2,516.2C1690.2,515.8 1700.2,516.5 1710.2,518.2C1720.2,519.8 1733.6,522.8 1740.3,526.2C1746.9,529.5 1750.3,534.9 1750.3,538.2C1750.3,541.5 1745.3,544.5 1740.3,546.2C1735.2,547.9 1725.9,546.5 1720.2,548.2C1714.6,549.9 1711.2,554.2 1706.2,556.2C1701.2,558.2 1695.2,560.6 1690.2,560.2C1685.2,559.9 1681.2,556.5 1676.2,554.2C1671.2,551.9 1665.8,548.2 1660.2,546.2C1654.5,544.2 1645.8,545.2 1642.2,542.2C1638.5,539.2 1636.8,531.9 1638.1,528.2Z" fill="#c3b9bc" stroke="none" stroke-width="1" stroke-linejoin="round" />
<path d="M1656.2,521.2C1657.2,519.8 1666.2,517.7 1670.2,517.2C1674.2,516.7 1679.2,517 1680.2,518.2C1681.2,519.3 1678.9,523 1676.2,524.2C1673.5,525.4 1667.5,525.7 1664.2,525.2C1660.8,524.7 1655.2,522.5 1656.2,521.2Z" fill="#aaa2aa" stroke="none" stroke-width="1" stroke-linejoin="round" />
<path d="M1720.2,548.2C1720.2,546.6 1734.2,542.9 1740.3,540.2C1746.3,537.5 1751.3,532.9 1756.3,532.2C1761.3,531.5 1767.3,533.9 1770.3,536.2C1773.3,538.5 1776,543.9 1774.3,546.2C1772.6,548.5 1765.9,549.6 1760.3,550.2C1754.6,550.8 1746.9,550.1 1740.3,549.8C1733.6,549.5 1720.2,549.8 1720.2,548.2Z" fill="#a8a2ac" stroke="none" stroke-width="1" stroke-linejoin="round" />
<path d="M1714.2,519.2C1716.9,519.2 1727.6,519.2 1730.2,519.2" fill="none" stroke="#ded6d8" stroke-width="2.6" stroke-linecap="round"/>
<path d="M1706.2,538.2C1708.2,538 1714.2,537.7 1718.2,537.2C1722.2,536.7 1728.2,535.5 1730.2,535.2" fill="none" stroke="#ded6d8" stroke-width="2.6" stroke-linecap="round"/>
<path d="M1696.2,560.2C1697.5,560.1 1702.9,559.4 1704.2,559.2" fill="none" stroke="#ded6d8" stroke-width="2.6" stroke-linecap="round"/>
<path d="M1758.3,544.2C1759.3,544 1763.3,543.4 1764.3,543.2" fill="none" stroke="#ded6d8" stroke-width="2.6" stroke-linecap="round"/>
<path d="M1656.2,550.2C1656.8,550.9 1659.5,553.5 1660.2,554.2" fill="none" stroke="#ded6d8" stroke-width="2.6" stroke-linecap="round"/>
<path d="M1546.1,714.7C1541.6,713 1517.8,717.4 1513,718.5C1508.3,719.5 1510.4,721.5 1510.4,722.7C1510.4,723.9 1508.2,726.2 1513,727.3C1517.8,728.3 1542,732.4 1546.5,730.7C1550.9,729 1550.5,716.3 1546.1,714.7Z" fill="#dcd6d6" stroke="#9b9696" stroke-width="1" stroke-linejoin="round" />
<path d="M1545,715.1C1550.2,709.9 1564.2,705.1 1576.1,699.1C1587.9,693 1602.8,683.9 1616.1,679C1629.5,674.2 1644.5,672 1656.2,670C1667.8,668 1674.5,666.9 1686.2,667C1697.9,667.2 1711.2,668.4 1726.2,671C1741.2,673.7 1761.3,678 1776.3,683C1791.3,688 1803.6,694.7 1816.3,701.1C1829,707.4 1843.3,715.4 1852.4,721.1C1861.4,726.7 1866.3,731.4 1870.4,735.1C1874.4,738.8 1876.1,741.4 1876.8,743.1C1877.4,744.8 1875.8,745.2 1874.4,745.5C1872.9,745.8 1874.3,745.8 1868,745.1C1861.6,744.4 1848.3,741.4 1836.3,741.5C1824.4,741.6 1809.6,744 1796.3,745.5C1783,747 1769.6,749.2 1756.3,750.3C1742.9,751.4 1729.6,752.2 1716.2,752.3C1702.9,752.4 1689.5,752.1 1676.2,751.1C1662.8,750.1 1649.5,748.4 1636.1,746.3C1622.8,744.2 1607.8,740.6 1596.1,738.3C1584.4,736 1574.6,733.7 1566.1,732.3C1557.6,730.9 1548.6,733 1545,730.1C1541.5,727.2 1539.9,720.2 1545,715.1Z" fill="url(#mg3)" stroke="#b9494c" stroke-width="1"/>
<g clip-path="url(#mc3)">
<path d="M1556.1,725.1C1566.1,722.1 1592.8,711.7 1616.1,707.1C1639.5,702.4 1669.5,697.4 1696.2,697.1C1722.9,696.7 1749.6,698.7 1776.3,705.1C1803,711.4 1843,730.1 1856.4,735.1" fill="none" stroke="#e38a88" stroke-width="7" opacity="0.5" stroke-linecap="round"/>
<path d="M1592.1,727.1C1602.8,727.7 1635.5,729.7 1656.2,731.1C1676.8,732.4 1696.2,733.9 1716.2,735.1C1736.2,736.3 1766.3,737.6 1776.3,738.1" fill="none" stroke="#e89894" stroke-width="9" opacity="0.55" stroke-linecap="round"/>
<path d="M1566.1,716.1C1571.1,713.2 1584.4,704.2 1596.1,699.1C1607.8,693.9 1629.5,687.4 1636.1,685" fill="none" stroke="#e08482" stroke-width="6" opacity="0.5" stroke-linecap="round"/>
<path d="M1786.3,693C1793,696.4 1814,706.4 1826.3,713.1C1838.7,719.7 1854.7,729.7 1860.4,733.1" fill="none" stroke="#de807e" stroke-width="5" opacity="0.45" stroke-linecap="round"/>
<path d="M1556.1,731.1C1569.4,732.8 1609.4,738.4 1636.1,741.1C1662.8,743.8 1689.5,747.1 1716.2,747.1C1742.9,747.1 1771.3,742.1 1796.3,741.1C1821.3,740.1 1854.7,741.1 1866.4,741.1" fill="none" stroke="#b94548" stroke-width="4" opacity="0.5" stroke-linecap="round"/>
<path d="M1548.1,721.1C1559.4,721.4 1591.4,722.1 1616.1,723.1C1640.8,724.1 1669.5,725.7 1696.2,727.1C1722.9,728.4 1749.6,729.1 1776.3,731.1C1803,733.1 1843,737.8 1856.4,739.1" fill="none" stroke="#bd4a4c" stroke-width="1.5" opacity="0.6" stroke-linecap="round"/>
</g>
<path d="M1610.1,683C1612.6,680.2 1620.1,677.2 1630.1,675C1640.2,672.9 1656.8,670.9 1670.2,670C1683.5,669.2 1696.9,669.2 1710.2,670C1723.6,670.9 1738.9,672.9 1750.3,675C1761.6,677.2 1772.6,678.9 1778.3,683C1784,687.2 1782.3,695.9 1784.3,700.1C1786.3,704.2 1792.6,705.4 1790.3,708.1C1788,710.7 1778.6,714.2 1770.3,716.1C1761.9,717.9 1748.3,717.7 1740.3,719.1C1732.2,720.4 1727.2,722.2 1722.2,724.1C1717.2,725.9 1714.9,728.8 1710.2,730.1C1705.5,731.4 1699.2,732.4 1694.2,732.1C1689.2,731.8 1684.2,730.1 1680.2,728.1C1676.2,726.1 1675.2,722.2 1670.2,720.1C1665.2,717.9 1656.8,716.7 1650.2,715.1C1643.5,713.4 1635.1,712.2 1630.1,710.1C1625.1,707.9 1622.6,705.1 1620.1,702.1C1617.6,699.1 1616.8,695.2 1615.1,692.1C1613.5,688.9 1607.6,685.9 1610.1,683Z" fill="#e9a3a0" stroke="none" stroke-width="1" stroke-linejoin="round" fill-opacity="0.85"/>
<path d="M1618.1,686C1626.8,684 1653.2,676.2 1670.2,674C1687.2,671.9 1703.5,671.5 1720.2,673C1736.9,674.5 1761.9,681.4 1770.3,683" fill="none" stroke="#f0b8b4" stroke-width="3" stroke-linejoin="round" opacity="0.7"/>
<path d="M1375.5,1006.4L1376.8,1006.4L1378.2,1006.3L1379.8,1006.3L1381.6,1006.2L1383.5,1006.2L1385.5,1006.1L1387.6,1006L1389.9,1005.9L1392.2,1005.9L1394.6,1005.8L1397.1,1005.7L1399.7,1005.6L1402.4,1005.5L1405.1,1005.4L1407.8,1005.3L1410.6,1005.3L1413.4,1005.2L1416.3,1005.1L1419.1,1005L1422,1004.9L1424.9,1004.8L1427.7,1004.7L1430.5,1004.6L1433.3,1004.5L1436.1,1004.4L1438.8,1004.3L1441.5,1004.3L1444,1004.2L1446.6,1004.1L1449,1004L1451.5,1003.9L1454,1003.9L1456.5,1003.8L1459.1,1003.7L1461.7,1003.6L1464.4,1003.6L1467.1,1003.5L1469.8,1003.4L1472.5,1003.3L1475.3,1003.2L1478,1003.2L1480.7,1003.1L1483.4,1003L1486.1,1002.9L1488.7,1002.9L1491.3,1002.8L1493.8,1002.7L1496.3,1002.6L1498.7,1002.6L1501.1,1002.5L1503.4,1002.5L1505.6,1002.4L1507.6,1002.3L1509.6,1002.3L1511.5,1002.2L1513.3,1002.2L1515,1002.1L1516.5,1002.1L1517.9,1002L1519.1,1002L1520.9,1066L1519.7,1066L1518.3,1066.1L1516.7,1066.1L1515.1,1066.2L1513.3,1066.2L1511.4,1066.3L1509.4,1066.3L1507.3,1066.4L1505.1,1066.4L1502.9,1066.5L1500.5,1066.6L1498.1,1066.6L1495.6,1066.7L1493.1,1066.8L1490.5,1066.8L1487.9,1066.9L1485.2,1067L1482.5,1067.1L1479.8,1067.1L1477.1,1067.2L1474.4,1067.3L1471.7,1067.4L1469,1067.5L1466.3,1067.5L1463.6,1067.6L1461,1067.7L1458.4,1067.8L1455.9,1067.8L1453.4,1067.9L1451,1068L1448.6,1068.1L1446,1068.1L1443.5,1068.2L1440.8,1068.3L1438.1,1068.4L1435.4,1068.5L1432.6,1068.6L1429.8,1068.7L1426.9,1068.7L1424.1,1068.8L1421.2,1068.9L1418.4,1069L1415.5,1069.1L1412.7,1069.2L1409.9,1069.3L1407.2,1069.4L1404.5,1069.5L1401.8,1069.6L1399.3,1069.7L1396.8,1069.7L1394.3,1069.8L1392,1069.9L1389.7,1070L1387.6,1070L1385.6,1070.1L1383.7,1070.2L1381.9,1070.2L1380.3,1070.3L1378.9,1070.3L1377.5,1070.4A18,32 -1.9 0 1 1375.5,1006.4Z" fill="#f2a6a6" stroke="#d6808a" stroke-width="1.2" stroke-linejoin="round"/>
<g clip-path="url(#fcF2)">
<path d="M1409.2,1005.3Q1432.6,1036.5 1411.3,1069.3M1431.7,1004.6Q1455.1,1035.8 1433.7,1068.5M1454.3,1003.9Q1477.6,1035.2 1456.2,1067.8M1476.8,1003.2Q1500,1034.6 1478.6,1067.2M1499.3,1002.6Q1522.5,1033.9 1501.1,1066.5" fill="none" stroke="#c0656f" stroke-width="1.35"/>
</g>
<ellipse cx="1376.5" cy="1038.4" rx="18" ry="32" transform="rotate(-1.9 1376.5 1038.4)" fill="#c9626a" stroke="#d6808a" stroke-width="1.2"/>
<path d="M1699.1,1133L1701.8,1132.9L1704.9,1132.9L1708.3,1132.8L1712,1132.7L1716,1132.6L1720.3,1132.5L1724.8,1132.4L1729.6,1132.2L1734.6,1132.1L1739.7,1132L1745.1,1131.9L1750.5,1131.7L1756.1,1131.6L1761.8,1131.4L1767.6,1131.3L1773.4,1131.1L1779.3,1131L1785.2,1130.8L1791.1,1130.7L1796.9,1130.5L1802.7,1130.4L1808.4,1130.2L1814,1130.1L1819.5,1129.9L1824.9,1129.8L1830.1,1129.6L1835.1,1129.5L1840,1129.3L1844.6,1129.2L1848.9,1129L1853.1,1128.9L1857.3,1128.7L1861.6,1128.6L1865.8,1128.4L1870,1128.3L1874.2,1128.1L1878.4,1127.9L1882.6,1127.7L1886.7,1127.6L1890.8,1127.4L1894.8,1127.2L1898.8,1127.1L1902.7,1126.9L1906.6,1126.7L1910.4,1126.5L1914.1,1126.4L1917.7,1126.2L1921.2,1126L1924.6,1125.9L1927.9,1125.7L1931.1,1125.6L1934.1,1125.4L1937.1,1125.3L1939.9,1125.2L1942.6,1125L1945.1,1124.9L1947.4,1124.8L1949.7,1124.7L1951.7,1124.6L1953.6,1124.5A13.9,33 -2.5 0 1 1956.4,1190.5L1956.4,1190.5L1954.6,1190.5L1952.6,1190.6L1950.5,1190.7L1948.1,1190.8L1945.6,1191L1943,1191.1L1940.2,1191.2L1937.3,1191.4L1934.2,1191.5L1931,1191.6L1927.7,1191.8L1924.3,1192L1920.7,1192.1L1917.1,1192.3L1913.4,1192.5L1909.6,1192.6L1905.7,1192.8L1901.7,1193L1897.7,1193.2L1893.6,1193.3L1889.5,1193.5L1885.3,1193.7L1881.1,1193.9L1876.9,1194L1872.6,1194.2L1868.3,1194.4L1864,1194.5L1859.7,1194.7L1855.4,1194.8L1851.1,1195L1846.7,1195.1L1842,1195.3L1837.1,1195.4L1832.1,1195.6L1826.8,1195.7L1821.4,1195.9L1815.9,1196L1810.2,1196.2L1804.5,1196.4L1798.7,1196.5L1792.8,1196.7L1786.9,1196.8L1781,1197L1775.1,1197.1L1769.3,1197.3L1763.5,1197.4L1757.8,1197.6L1752.2,1197.7L1746.7,1197.8L1741.4,1198L1736.2,1198.1L1731.2,1198.2L1726.5,1198.3L1721.9,1198.5L1717.7,1198.6L1713.7,1198.7L1710,1198.8L1706.6,1198.8L1703.5,1198.9L1700.9,1199A10,33 -1.5 0 1 1699.1,1133Z" fill="#f2a6a6" stroke="#d6808a" stroke-width="1.2" stroke-linejoin="round"/>
<g clip-path="url(#fcF6)">
<path d="M1726.9,1132.3Q1740.2,1165 1728.6,1198.3M1749.4,1131.8Q1762.7,1164.4 1751.1,1197.7M1771.9,1131.2Q1785.1,1163.9 1773.6,1197.2M1794.3,1130.6Q1807.6,1163.3 1796.1,1196.6M1816.8,1130Q1830.1,1162.6 1818.6,1196M1839.1,1129.3Q1852.6,1161.9 1841.3,1195.3M1861.4,1128.6Q1875.1,1161.1 1863.9,1194.5M1883.8,1127.7Q1897.6,1160.1 1886.6,1193.6M1906.1,1126.7Q1920.1,1159.1 1909.2,1192.7M1928.6,1125.7Q1942.5,1158.1 1931.7,1191.6" fill="none" stroke="#c0656f" stroke-width="1.35"/>
</g>
<ellipse cx="1700" cy="1166" rx="10" ry="33" transform="rotate(-1.5 1700 1166)" fill="#c9626a" stroke="#d6808a" stroke-width="1.2"/>
<path d="M1796.1,974.3L1798,974L1800,973.7L1802.4,973.4L1804.9,973L1807.7,972.6L1810.7,972.1L1813.9,971.6L1817.2,971.1L1820.7,970.6L1824.3,970.1L1828.1,969.5L1831.9,968.9L1835.8,968.4L1839.7,967.8L1843.7,967.2L1847.7,966.6L1851.7,966L1855.7,965.4L1859.7,964.8L1863.6,964.2L1867.5,963.6L1871.2,963L1874.9,962.5L1878.4,962L1881.8,961.4L1885.1,961L1888.2,960.5L1891,960.1L1893.7,959.7L1896.1,959.3L1898.4,958.9L1900.6,958.6L1902.6,958.3L1904.6,958L1906.6,957.7L1908.4,957.4L1910.2,957.2L1911.9,956.9L1913.5,956.7L1915,956.4L1916.5,956.2L1917.9,956L1919.2,955.8L1920.5,955.6L1921.8,955.4L1922.9,955.2L1924.1,955L1925.1,954.8L1926.2,954.7L1927.1,954.5L1928.1,954.4L1929,954.2L1929.8,954.1L1930.7,954L1931.5,953.9L1932.2,953.7L1933,953.6L1933.7,953.5L1934.4,953.4L1935,953.3A10.9,26 -8.8 0 1 1943,1004.7L1943,1004.7L1942.3,1004.8L1941.6,1004.9L1940.9,1005L1940.2,1005.1L1939.5,1005.2L1938.7,1005.4L1937.9,1005.5L1937,1005.6L1936.1,1005.8L1935.2,1005.9L1934.2,1006.1L1933.1,1006.2L1932.1,1006.4L1930.9,1006.6L1929.7,1006.8L1928.5,1006.9L1927.2,1007.1L1925.8,1007.4L1924.4,1007.6L1922.9,1007.8L1921.4,1008L1919.7,1008.3L1918,1008.6L1916.3,1008.8L1914.4,1009.1L1912.5,1009.4L1910.4,1009.7L1908.3,1010L1906.2,1010.4L1903.9,1010.7L1901.4,1011.1L1898.8,1011.5L1895.9,1011.9L1892.8,1012.4L1889.6,1012.9L1886.2,1013.4L1882.6,1013.9L1879,1014.5L1875.2,1015L1871.3,1015.6L1867.4,1016.2L1863.4,1016.8L1859.4,1017.4L1855.4,1018L1851.4,1018.6L1847.4,1019.2L1843.5,1019.8L1839.6,1020.4L1835.8,1020.9L1832,1021.5L1828.4,1022L1824.9,1022.6L1821.6,1023.1L1818.4,1023.5L1815.4,1024L1812.6,1024.4L1810.1,1024.8L1807.7,1025.1L1805.7,1025.4L1803.9,1025.7A10,26 -8.5 0 1 1796.1,974.3Z" fill="#f2a6a6" stroke="#d6808a" stroke-width="1.2" stroke-linejoin="round"/>
<g clip-path="url(#fcF2b)">
<path d="M1823.6,970.2Q1839.7,994 1831.3,1021.6M1845.8,966.8Q1862,990.7 1853.5,1018.3M1868.1,963.5Q1884.2,987.4 1875.8,1014.9M1890.3,960.2Q1906.5,984 1898.1,1011.6M1912.5,956.8Q1928.7,980.6 1920.4,1008.2" fill="none" stroke="#c0656f" stroke-width="1.35"/>
</g>
<ellipse cx="1800" cy="1000" rx="10" ry="26" transform="rotate(-8.5 1800 1000)" fill="#c9626a" stroke="#d6808a" stroke-width="1.2"/>
<path d="M1388.3,956.6L1394.3,956.3L1401.7,955.9L1410.2,955.5L1419.7,954.9L1430.1,954.4L1441.2,953.8L1452.9,953.1L1465,952.5L1477.3,951.8L1489.7,951.1L1502.1,950.4L1514.4,949.8L1526.2,949.2L1537.6,948.6L1548.3,948L1558.6,947.5L1568.9,947L1579,946.5L1589.1,946L1599.2,945.5L1609.2,945.1L1619.1,944.6L1629,944.1L1639,943.7L1648.9,943.2L1658.8,942.8L1668.7,942.3L1678.6,941.9L1688.6,941.5L1698.6,941L1708.7,940.6L1719,940.2L1729.4,939.7L1739.9,939.3L1750.4,938.8L1761,938.4L1771.5,938L1781.9,937.6L1792.2,937.2L1802.3,936.8L1812.2,936.4L1821.8,936L1831.2,935.7L1840.2,935.3L1848.8,935L1857.3,934.7L1865.7,934.4L1874.1,934.2L1882.3,933.9L1890.4,933.7L1898.2,933.5L1905.8,933.2L1913.1,933L1920,932.9L1926.5,932.7L1932.5,932.5L1938,932.4L1943,932.2L1947.3,932.1L1951.1,932A13.9,33 -1.6 0 1 1952.9,998L1952.9,998L1949.2,998.1L1944.8,998.2L1939.8,998.3L1934.2,998.5L1928.2,998.7L1921.7,998.8L1914.9,999L1907.6,999.2L1900.1,999.4L1892.3,999.7L1884.3,999.9L1876.1,1000.1L1867.9,1000.4L1859.5,1000.7L1851.2,1001L1842.6,1001.3L1833.6,1001.6L1824.3,1002L1814.7,1002.3L1804.8,1002.7L1794.8,1003.1L1784.5,1003.5L1774.1,1003.9L1763.6,1004.4L1753.1,1004.8L1742.6,1005.2L1732.2,1005.7L1721.8,1006.1L1711.5,1006.5L1701.4,1007L1691.5,1007.4L1681.5,1007.8L1671.6,1008.3L1661.7,1008.7L1651.9,1009.2L1642,1009.6L1632.1,1010.1L1622.2,1010.5L1612.3,1011L1602.3,1011.5L1592.3,1012L1582.2,1012.4L1572.1,1012.9L1561.9,1013.4L1551.7,1014L1541,1014.5L1529.7,1015.1L1517.8,1015.7L1505.7,1016.4L1493.3,1017L1480.9,1017.7L1468.5,1018.4L1456.5,1019L1444.8,1019.7L1433.7,1020.3L1423.3,1020.8L1413.8,1021.4L1405.3,1021.8L1397.9,1022.2L1391.9,1022.6A18,33 -3.1 0 1 1388.3,956.6Z" fill="#f2a6a6" stroke="#d6808a" stroke-width="1.2" stroke-linejoin="round"/>
<g clip-path="url(#fcF1)">
<ellipse cx="1470.6" cy="972.6" rx="36" ry="11" fill="#e3868e" transform="rotate(-3.1 1470.6 972.6)"/>
<ellipse cx="1647.6" cy="993" rx="32" ry="11" fill="#e3868e" transform="rotate(-3.1 1647.6 993)"/>
<ellipse cx="1886.3" cy="968" rx="36" ry="11" fill="#e3868e" transform="rotate(-3.1 1886.3 968)"/>
<path d="M1422,954.8Q1446.1,986.5 1425.6,1020.7M1444.5,953.6Q1468.6,985.3 1448.1,1019.5M1466.9,952.3Q1491.1,984.1 1470.5,1018.3M1489.4,951.1Q1513.5,982.9 1493,1017M1511.9,949.9Q1536,981.7 1515.4,1015.8M1534.5,948.7Q1558.5,980.6 1537.8,1014.7M1557,947.6Q1580.9,979.5 1560.2,1013.5M1579.5,946.5Q1603.4,978.4 1582.7,1012.4M1602,945.4Q1625.9,977.3 1605.1,1011.3M1624.5,944.4Q1648.4,976.3 1627.6,1010.3M1647,943.3Q1670.8,975.3 1650,1009.2M1669.5,942.3Q1693.3,974.3 1672.4,1008.2M1692,941.3Q1715.8,973.3 1694.9,1007.3M1714.6,940.3Q1738.3,972.4 1717.3,1006.3M1737.1,939.4Q1760.8,971.4 1739.8,1005.3M1759.6,938.5Q1783.2,970.5 1762.2,1004.4M1782.1,937.6Q1805.7,969.7 1784.7,1003.5M1804.6,936.7Q1828.2,968.8 1807.1,1002.6M1827.1,935.8Q1850.7,968 1829.6,1001.8M1849.7,935Q1873.2,967.2 1852,1000.9M1872.3,934.2Q1895.7,966.5 1874.3,1000.2M1894.9,933.5Q1918.2,965.9 1896.7,999.5M1917.4,932.9Q1940.7,965.3 1919.2,998.9M1939.9,932.3Q1963.1,964.7 1941.7,998.3" fill="none" stroke="#c0656f" stroke-width="1.35"/>
</g>
<ellipse cx="1390.1" cy="989.6" rx="18" ry="33" transform="rotate(-3.1 1390.1 989.6)" fill="#c9626a" stroke="#d6808a" stroke-width="1.2"/>
<path d="M1353.5,1065.5L1359,1065.3L1365.5,1065L1373.1,1064.6L1381.6,1064.3L1390.9,1063.8L1400.8,1063.4L1411.3,1062.9L1422.1,1062.4L1433.2,1061.9L1444.4,1061.4L1455.7,1060.9L1466.9,1060.4L1477.9,1059.9L1488.5,1059.5L1498.6,1059L1508.5,1058.6L1518.4,1058.2L1528.3,1057.8L1538.3,1057.4L1548.3,1057L1558.3,1056.6L1568.4,1056.2L1578.4,1055.8L1588.5,1055.4L1598.5,1055L1608.6,1054.6L1618.6,1054.2L1628.7,1053.8L1638.7,1053.4L1648.7,1053L1658.7,1052.6L1668.9,1052.2L1679.2,1051.8L1689.5,1051.4L1699.9,1051L1710.2,1050.6L1720.5,1050.1L1730.8,1049.7L1741,1049.3L1751.1,1048.9L1761,1048.5L1770.7,1048.1L1780.3,1047.8L1789.6,1047.4L1798.7,1047L1807.8,1046.7L1817,1046.3L1826.3,1046L1835.6,1045.6L1844.8,1045.2L1853.9,1044.9L1862.8,1044.6L1871.4,1044.2L1879.6,1043.9L1887.3,1043.6L1894.6,1043.4L1901.2,1043.1L1907.2,1042.9L1912.4,1042.7L1916.7,1042.5A13.9,33 -2.2 0 1 1919.3,1108.5L1919.3,1108.5L1914.9,1108.6L1909.7,1108.8L1903.7,1109.1L1897.1,1109.3L1889.8,1109.6L1882.1,1109.9L1873.9,1110.2L1865.3,1110.5L1856.4,1110.9L1847.3,1111.2L1838.1,1111.6L1828.8,1111.9L1819.5,1112.3L1810.3,1112.6L1801.3,1113L1792.2,1113.3L1782.9,1113.7L1773.4,1114.1L1763.6,1114.5L1753.7,1114.9L1743.6,1115.3L1733.4,1115.7L1723.2,1116.1L1712.9,1116.5L1702.5,1116.9L1692.2,1117.3L1681.8,1117.7L1671.6,1118.2L1661.4,1118.6L1651.3,1119L1641.3,1119.4L1631.3,1119.8L1621.2,1120.2L1611.2,1120.6L1601.1,1121L1591.1,1121.4L1581,1121.7L1571,1122.1L1561,1122.5L1550.9,1122.9L1541,1123.3L1531,1123.7L1521.1,1124.1L1511.2,1124.6L1501.4,1125L1491.3,1125.4L1480.7,1125.9L1469.8,1126.3L1458.7,1126.8L1447.4,1127.3L1436.2,1127.8L1425.1,1128.3L1414.3,1128.8L1403.8,1129.3L1393.9,1129.8L1384.6,1130.2L1376.1,1130.6L1368.5,1130.9L1361.9,1131.2L1356.5,1131.5A18,33 -2.6 0 1 1353.5,1065.5Z" fill="#f2a6a6" stroke="#d6808a" stroke-width="1.2" stroke-linejoin="round"/>
<g clip-path="url(#fcF4)">
<ellipse cx="1420.7" cy="1081.5" rx="21" ry="9" fill="#e3868e" transform="rotate(-2.6 1420.7 1081.5)"/>
<ellipse cx="1618" cy="1099.6" rx="36" ry="10" fill="#e3868e" transform="rotate(-2.6 1618 1099.6)"/>
<ellipse cx="1852.3" cy="1079.1" rx="34" ry="9" fill="#e3868e" transform="rotate(-2.6 1852.3 1079.1)"/>
<path d="M1387.2,1064Q1411,1095.9 1390.2,1129.9M1409.7,1063Q1433.5,1094.9 1412.7,1128.9M1432.2,1062Q1456,1093.9 1435.1,1127.9M1454.7,1060.9Q1478.5,1092.9 1457.6,1126.9M1477.2,1060Q1501,1092 1480,1125.9M1499.7,1059Q1523.4,1091 1502.5,1124.9M1522.2,1058Q1545.9,1090.1 1524.9,1124M1544.8,1057.1Q1568.4,1089.2 1547.4,1123.1M1567.2,1056.2Q1590.9,1088.3 1569.8,1122.2M1589.7,1055.4Q1613.4,1087.4 1592.3,1121.3M1612.2,1054.5Q1635.9,1086.6 1614.8,1120.4M1634.7,1053.6Q1658.3,1085.7 1637.3,1119.5M1657.2,1052.7Q1680.8,1084.8 1659.8,1118.6M1679.6,1051.8Q1703.3,1083.9 1682.3,1117.7M1702.1,1050.9Q1725.8,1083 1704.8,1116.8M1724.6,1050Q1748.3,1082.1 1727.2,1115.9M1747.1,1049.1Q1770.7,1081.2 1749.7,1115M1769.6,1048.2Q1793.2,1080.3 1772.2,1114.1M1792.1,1047.3Q1815.7,1079.4 1794.7,1113.2M1814.6,1046.4Q1838.2,1078.5 1817.1,1112.4M1837.1,1045.5Q1860.7,1077.7 1839.6,1111.5M1859.6,1044.7Q1883.2,1076.8 1862.1,1110.6M1882.1,1043.8Q1905.6,1076 1884.5,1109.8M1904.5,1043Q1928.1,1075.1 1907,1108.9" fill="none" stroke="#c0656f" stroke-width="1.35"/>
</g>
<ellipse cx="1355" cy="1098.5" rx="18" ry="33" transform="rotate(-2.6 1355 1098.5)" fill="#c9626a" stroke="#d6808a" stroke-width="1.2"/>
<path d="M1375.6,1120.1L1384,1119.9L1394.7,1119.6L1407.3,1119.3L1421.4,1118.9L1436.8,1118.5L1453,1118L1469.7,1117.6L1486.6,1117.1L1503.3,1116.7L1519.6,1116.3L1534.9,1115.9L1549.2,1115.5L1562.7,1115.2L1576.2,1114.9L1589.6,1114.6L1602.9,1114.4L1616,1114.1L1628.9,1113.8L1641.5,1113.6L1653.8,1113.3L1665.7,1113L1677.2,1112.7L1688.2,1112.4L1698.7,1112L1708.7,1111.6L1718.3,1111.2L1727.5,1110.7L1736.3,1110.3L1744.7,1109.8L1752.8,1109.3L1760.7,1108.8L1768.4,1108.2L1775.8,1107.7L1783.1,1107.2L1790.3,1106.6L1797.4,1106.1L1804.2,1105.6L1810.6,1105.1L1816.7,1104.5L1822.5,1104L1828.1,1103.5L1833.5,1103L1838.8,1102.5L1844.1,1101.9L1849.3,1101.3L1854.6,1100.7L1860,1100L1865.5,1099.3L1871.2,1098.5L1877.4,1097.6L1883.8,1096.6L1890.4,1095.5L1897.1,1094.4L1903.6,1093.3L1910,1092.2L1916,1091.2L1921.6,1090.2L1926.5,1089.3L1930.9,1088.6L1934.3,1088A14.3,34 -9.6 0 1 1945.7,1155L1945.7,1155L1942.4,1155.6L1938.2,1156.3L1933.3,1157.2L1927.7,1158.1L1921.6,1159.2L1915.1,1160.3L1908.3,1161.5L1901.4,1162.6L1894.5,1163.8L1887.6,1164.8L1880.9,1165.8L1874.5,1166.7L1868.5,1167.5L1862.8,1168.2L1857.1,1168.9L1851.5,1169.5L1845.9,1170.1L1840.2,1170.7L1834.5,1171.2L1828.6,1171.8L1822.5,1172.3L1816.2,1172.8L1809.6,1173.4L1802.6,1173.9L1795.4,1174.4L1788.2,1175L1780.7,1175.5L1773.1,1176.1L1765.3,1176.6L1757.2,1177.2L1748.8,1177.7L1740,1178.2L1731,1178.7L1721.5,1179.1L1711.6,1179.6L1701.3,1180L1690.4,1180.4L1679.1,1180.7L1667.4,1181L1655.3,1181.3L1643,1181.6L1630.3,1181.8L1617.4,1182.1L1604.3,1182.3L1591,1182.6L1577.7,1182.9L1564.3,1183.2L1550.8,1183.5L1536.7,1183.8L1521.3,1184.2L1505.1,1184.7L1488.4,1185.1L1471.5,1185.6L1454.8,1186L1438.6,1186.4L1423.3,1186.9L1409.1,1187.2L1396.6,1187.6L1385.9,1187.9L1377.4,1188.1A18,34 -1.5 0 1 1375.6,1120.1Z" fill="#f2a6a6" stroke="#d6808a" stroke-width="1.2" stroke-linejoin="round"/>
<g clip-path="url(#fcF5)">
<ellipse cx="1458.2" cy="1137.1" rx="37" ry="11" fill="#e3868e" transform="rotate(-1.5 1458.2 1137.1)"/>
<ellipse cx="1640.8" cy="1154.1" rx="36" ry="11" fill="#e3868e" transform="rotate(-1.5 1640.8 1154.1)"/>
<ellipse cx="1872.7" cy="1131.3" rx="36" ry="11" fill="#e3868e" transform="rotate(-1.5 1872.7 1131.3)"/>
<path d="M1409.3,1119.2Q1432.6,1152.6 1411.2,1187.2M1431.8,1118.6Q1455.1,1152 1433.6,1186.6M1454.3,1118Q1477.6,1151.4 1456.1,1186M1476.8,1117.4Q1500.1,1150.8 1478.6,1185.4M1499.3,1116.8Q1522.6,1150.2 1501.1,1184.8M1521.8,1116.2Q1545,1149.6 1523.6,1184.2M1544.4,1115.6Q1567.5,1149.1 1546,1183.6M1567,1115.1Q1590,1148.6 1568.4,1183.1M1589.5,1114.6Q1612.5,1148.2 1590.8,1182.6M1612,1114.2Q1635,1147.7 1613.4,1182.2M1634.5,1113.7Q1657.5,1147.3 1635.9,1181.7M1656.8,1113.3Q1680,1146.7 1658.5,1181.2M1679,1112.7Q1702.5,1145.9 1681.3,1180.6M1701.2,1111.9Q1725,1145 1704.1,1179.9M1723.2,1111Q1747.4,1143.7 1727,1178.9M1745.4,1109.8Q1769.9,1142.3 1749.7,1177.6M1767.6,1108.3Q1792.3,1140.6 1772.5,1176.1M1789.9,1106.7Q1814.8,1138.9 1795.1,1174.5M1812,1104.9Q1837.2,1136.9 1817.8,1172.7M1833.8,1103Q1859.6,1134.5 1840.9,1170.6M1855.4,1100.6Q1881.9,1131.5 1864,1168.1M1876.6,1097.7Q1904.1,1127.8 1887.3,1164.9M1898.5,1094.2Q1926.2,1123.9 1909.9,1161.2M1920.5,1090.4Q1948.4,1120 1932.2,1157.3" fill="none" stroke="#c0656f" stroke-width="1.35"/>
</g>
<ellipse cx="1376.5" cy="1154.1" rx="18" ry="34" transform="rotate(-1.5 1376.5 1154.1)" fill="#c9626a" stroke="#d6808a" stroke-width="1.2"/>
<g mask="url(#mA)">
<path d="M2001.1,1036.9L2001.4,1036.7L2001.7,1036.4L2002.1,1036.1L2002.5,1035.8L2002.9,1035.4L2003.4,1035L2003.9,1034.6L2004.4,1034.2L2005,1033.7L2005.5,1033.2L2006.1,1032.7L2006.7,1032.3L2007.4,1031.7L2008,1031.2L2008.6,1030.7L2009.3,1030.2L2009.9,1029.6L2010.6,1029.1L2011.2,1028.6L2011.8,1028L2012.5,1027.5L2013.1,1027L2013.7,1026.5L2014.3,1026L2014.9,1025.5L2015.4,1025L2016,1024.5L2016.6,1023.9L2017.2,1023.4L2017.9,1022.8L2018.5,1022.3L2019.1,1021.7L2019.8,1021.1L2020.4,1020.5L2021.1,1020L2021.7,1019.4L2022.3,1018.8L2023,1018.2L2023.6,1017.7L2024.2,1017.2L2024.7,1016.6L2025.3,1016.1L2025.8,1015.6L2026.3,1015.2L2026.8,1014.7L2027.2,1014.3L2027.6,1014L2028,1013.6L2028.3,1013.3L2028.6,1013L2023.4,1007L2023.1,1007.2L2022.7,1007.5L2022.3,1007.8L2021.9,1008.2L2021.4,1008.6L2020.9,1009L2020.4,1009.4L2019.8,1009.8L2019.3,1010.3L2018.7,1010.8L2018,1011.3L2017.4,1011.8L2016.8,1012.4L2016.1,1012.9L2015.5,1013.4L2014.8,1014L2014.1,1014.5L2013.5,1015.1L2012.8,1015.6L2012.2,1016.1L2011.5,1016.6L2010.9,1017.1L2010.3,1017.6L2009.7,1018.1L2009.1,1018.5L2008.6,1019L2008,1019.4L2007.4,1019.9L2006.7,1020.4L2006.1,1020.8L2005.5,1021.3L2004.8,1021.8L2004.2,1022.3L2003.5,1022.8L2002.8,1023.3L2002.2,1023.8L2001.5,1024.3L2000.9,1024.7L2000.3,1025.2L1999.7,1025.6L1999.1,1026.1L1998.5,1026.5L1997.9,1026.9L1997.4,1027.3L1996.9,1027.6L1996.4,1028L1996,1028.3L1995.6,1028.6L1995.2,1028.8L1994.9,1029.1Z" fill="#9b2e36"/><path d="M1999.5,1035L1999.8,1034.7L2000.2,1034.5L2000.5,1034.1L2001,1033.8L2001.4,1033.5L2001.9,1033.1L2002.4,1032.7L2002.9,1032.2L2003.5,1031.8L2004.1,1031.3L2004.7,1030.9L2005.3,1030.4L2005.9,1029.9L2006.5,1029.4L2007.2,1028.9L2007.8,1028.3L2008.5,1027.8L2009.1,1027.3L2009.8,1026.8L2010.4,1026.2L2011,1025.7L2011.7,1025.2L2012.3,1024.7L2012.9,1024.2L2013.4,1023.7L2014,1023.3L2014.6,1022.8L2015.2,1022.2L2015.8,1021.7L2016.4,1021.2L2017.1,1020.6L2017.7,1020L2018.4,1019.5L2019,1018.9L2019.7,1018.3L2020.3,1017.8L2021,1017.2L2021.6,1016.6L2022.2,1016.1L2022.8,1015.6L2023.4,1015.1L2023.9,1014.6L2024.5,1014.1L2025,1013.6L2025.4,1013.2L2025.9,1012.8L2026.3,1012.4L2026.7,1012.1L2027,1011.8L2027.3,1011.5L2024.7,1008.5L2024.4,1008.7L2024,1009L2023.6,1009.4L2023.2,1009.7L2022.8,1010.1L2022.3,1010.5L2021.7,1011L2021.2,1011.4L2020.6,1011.9L2020,1012.4L2019.4,1012.9L2018.8,1013.4L2018.2,1014L2017.5,1014.5L2016.9,1015.1L2016.2,1015.6L2015.6,1016.2L2014.9,1016.7L2014.2,1017.3L2013.6,1017.8L2013,1018.3L2012.3,1018.8L2011.7,1019.3L2011.1,1019.8L2010.6,1020.3L2010,1020.7L2009.4,1021.2L2008.8,1021.7L2008.2,1022.1L2007.5,1022.6L2006.9,1023.1L2006.2,1023.6L2005.6,1024.1L2004.9,1024.6L2004.3,1025.1L2003.6,1025.6L2003,1026.1L2002.4,1026.6L2001.7,1027.1L2001.1,1027.5L2000.5,1028L2000,1028.4L1999.4,1028.8L1998.9,1029.2L1998.4,1029.6L1997.9,1029.9L1997.5,1030.2L1997.1,1030.5L1996.8,1030.8L1996.5,1031Z" fill="#b95052"/>
<g><path d="M1450,1174.6H2023V1206H1450Z" fill="#9b2e36"/><path d="M1610,1175C1615,1174.8 1630.8,1174.6 1640,1174C1649.2,1173.4 1657,1172.9 1665.5,1171.4C1674,1169.9 1683.5,1167.8 1691,1165C1698.5,1162.2 1704.2,1159.5 1710.2,1154.8C1716.2,1150.1 1721.5,1143 1726.8,1137C1732.1,1131 1736.9,1125.1 1742,1119.1C1747.1,1113.1 1752.1,1106.3 1757.4,1101.2C1762.7,1096.1 1768,1092.5 1774,1088.5C1780,1084.5 1787.1,1080 1793.1,1077C1799,1074 1803.3,1072.1 1809.7,1070.6C1816.1,1069.1 1823,1068.5 1831.4,1068.2C1839.8,1067.9 1855.2,1068.5 1860,1068.6L1860,1070.2C1855.2,1072 1839.4,1077.3 1831.4,1080.8C1823.4,1084.3 1818.6,1087.2 1812.2,1091C1805.8,1094.8 1799.5,1098.7 1793.1,1103.8C1786.7,1108.9 1779.3,1116.2 1774,1121.7C1768.7,1127.2 1765.5,1131.5 1761.2,1137C1756.9,1142.5 1752,1149.7 1748.4,1154.8C1744.8,1159.9 1741.6,1164.2 1739.5,1167.6C1737.4,1171 1736.3,1173.8 1735.7,1175L1735.7,1192L1610,1192Z" fill="#9b2e36"/><path d="M1734,1072L1754,1072L1759,1086L1766,1100L1749,1118L1746,1106L1740.8,1091Z" fill="#9b2e36"/></g>
<g filter="url(#er)"><path d="M1450,1174.6H2023V1206H1450Z" fill="#b95052"/><path d="M1610,1175C1615,1174.8 1630.8,1174.6 1640,1174C1649.2,1173.4 1657,1172.9 1665.5,1171.4C1674,1169.9 1683.5,1167.8 1691,1165C1698.5,1162.2 1704.2,1159.5 1710.2,1154.8C1716.2,1150.1 1721.5,1143 1726.8,1137C1732.1,1131 1736.9,1125.1 1742,1119.1C1747.1,1113.1 1752.1,1106.3 1757.4,1101.2C1762.7,1096.1 1768,1092.5 1774,1088.5C1780,1084.5 1787.1,1080 1793.1,1077C1799,1074 1803.3,1072.1 1809.7,1070.6C1816.1,1069.1 1823,1068.5 1831.4,1068.2C1839.8,1067.9 1855.2,1068.5 1860,1068.6L1860,1070.2C1855.2,1072 1839.4,1077.3 1831.4,1080.8C1823.4,1084.3 1818.6,1087.2 1812.2,1091C1805.8,1094.8 1799.5,1098.7 1793.1,1103.8C1786.7,1108.9 1779.3,1116.2 1774,1121.7C1768.7,1127.2 1765.5,1131.5 1761.2,1137C1756.9,1142.5 1752,1149.7 1748.4,1154.8C1744.8,1159.9 1741.6,1164.2 1739.5,1167.6C1737.4,1171 1736.3,1173.8 1735.7,1175L1735.7,1192L1610,1192Z" fill="#b95052"/><path d="M1734,1072L1754,1072L1759,1086L1766,1100L1749,1118L1746,1106L1740.8,1091Z" fill="#b95052"/></g>
<rect x="1440" y="1174.6" width="170" height="5.5" fill="#9b2e36"/><rect x="1738" y="1174.6" width="300" height="7.6" fill="#9b2e36"/>
<path d="M1812.2,1091C1809,1093.1 1799.5,1098.7 1793.1,1103.8C1786.7,1108.9 1779.3,1116.2 1774,1121.7C1768.7,1127.2 1765.5,1131.5 1761.2,1137C1756.9,1142.5 1752,1149.7 1748.4,1154.8C1744.8,1159.9 1741.6,1164.2 1739.5,1167.6C1737.4,1171 1736.3,1173.8 1735.7,1175" fill="none" stroke="#9b2e36" stroke-width="3" transform="translate(-2.5,-2)"/>
<path d="M1716,1166C1719.3,1161.7 1729.3,1148.3 1736,1140C1742.7,1131.7 1749,1123.2 1756,1116C1763,1108.8 1770.7,1102.3 1778,1097C1785.3,1091.7 1796.3,1086.2 1800,1084" fill="none" stroke="#c4605f" stroke-width="2.5" opacity="0.7"/>
<path d="M1744,1078L1752,1100" fill="none" stroke="#c86868" stroke-width="3" opacity="0.7"/>
</g>
<path d="M1424.4,1017.2L1430.9,1017L1439,1016.7L1448.5,1016.4L1459.1,1016L1470.7,1015.6L1483,1015.2L1495.8,1014.8L1508.8,1014.4L1521.9,1014L1534.8,1013.6L1547.3,1013.2L1559.1,1012.8L1570.6,1012.5L1582,1012.1L1593.4,1011.8L1604.8,1011.5L1616.2,1011.2L1627.6,1010.9L1639.2,1010.5L1650.8,1010.2L1662.6,1009.8L1674.5,1009.5L1686.6,1009.1L1698.9,1008.6L1711.6,1008.1L1725,1007.5L1738.9,1006.9L1753.1,1006.2L1767.5,1005.5L1781.9,1004.8L1796.2,1004.1L1810.1,1003.5L1823.6,1002.9L1836.5,1002.5L1848.6,1002.1L1859.7,1001.9L1870,1001.8L1879.5,1001.9L1888.4,1002L1896.8,1002.2L1904.6,1002.5L1912,1002.9L1919,1003.3L1925.6,1003.8L1931.8,1004.3L1937.8,1004.8L1943.5,1005.4L1949.2,1006L1955.3,1006.7L1961.2,1007.6L1966.8,1008.6L1972.1,1009.7L1976.9,1010.8L1981.3,1011.9L1985.3,1013L1988.7,1014L1991.7,1014.8L1994,1015.5L1995.6,1015.8L1997,1016.1A15.1,36 14.4 0 1 1979,1085.9L1979,1085.9L1976.5,1085.2L1973.6,1084.2L1970.8,1083.3L1968.1,1082.4L1965.3,1081.5L1962.3,1080.7L1959.3,1079.8L1956,1078.9L1952.6,1078.1L1949,1077.3L1945.1,1076.7L1940.8,1076L1935.8,1075.4L1930.5,1074.8L1925.1,1074.2L1919.6,1073.6L1913.7,1073.1L1907.6,1072.6L1901.1,1072.2L1894.1,1071.8L1886.6,1071.5L1878.5,1071.3L1869.7,1071.1L1860.3,1071.1L1849.9,1071.2L1838.4,1071.4L1826,1071.7L1812.8,1072.2L1799.1,1072.7L1784.9,1073.2L1770.6,1073.8L1756.2,1074.4L1741.8,1075L1727.8,1075.5L1714.1,1076L1701.1,1076.4L1688.6,1076.7L1676.4,1077L1664.3,1077.3L1652.5,1077.5L1640.8,1077.7L1629.2,1077.9L1617.7,1078.1L1606.3,1078.3L1594.9,1078.5L1583.6,1078.7L1572.2,1079L1560.9,1079.2L1549,1079.4L1536.6,1079.7L1523.7,1080L1510.6,1080.3L1497.6,1080.6L1484.8,1080.9L1472.5,1081.2L1460.9,1081.5L1450.3,1081.7L1440.8,1081.9L1432.7,1082.1L1426.2,1082.2A17,32.5 -1.6 0 1 1424.4,1017.2Z" fill="#f2a6a6" stroke="#d6808a" stroke-width="1.2" stroke-linejoin="round"/>
<g clip-path="url(#fcF3)">
<ellipse cx="1507" cy="1058.8" rx="32" ry="11" fill="#e3868e" transform="rotate(-1.6 1507 1058.8)"/>
<ellipse cx="1701.5" cy="1031.5" rx="21" ry="10" fill="#e3868e" transform="rotate(-1.6 1701.5 1031.5)"/>
<ellipse cx="1922.6" cy="1042.9" rx="37" ry="12" fill="#e3868e" transform="rotate(-1.6 1922.6 1042.9)"/>
<path d="M1457.4,1016Q1479.4,1048.2 1459.2,1081.6M1479.9,1015.3Q1501.9,1047.6 1481.7,1081.1M1502.4,1014.6Q1524.4,1047 1504.2,1080.5M1524.9,1013.8Q1546.9,1046.3 1526.7,1080M1547.4,1013.1Q1569.4,1045.8 1549.1,1079.5M1570,1012.4Q1591.9,1045.2 1571.5,1079M1592.5,1011.8Q1614.3,1044.7 1594,1078.6M1615,1011.1Q1636.8,1044.2 1616.5,1078.2M1637.4,1010.5Q1659.3,1043.6 1639.1,1077.8M1659.8,1009.9Q1681.8,1043 1661.7,1077.4M1682.2,1009.2Q1704.3,1042.4 1684.2,1076.8M1704.4,1008.4Q1726.8,1041.5 1707,1076.2M1726.7,1007.4Q1749.3,1040.5 1729.7,1075.5M1749.1,1006.3Q1771.8,1039.5 1752.2,1074.6M1771.6,1005.2Q1794.2,1038.5 1774.7,1073.7M1794.3,1004.1Q1816.7,1037.6 1797,1072.8M1816.9,1003.2Q1839.2,1036.8 1819.3,1072M1839.9,1002.3Q1861.7,1036.4 1841.2,1071.4M1863.2,1001.8Q1884.2,1036.6 1862.9,1071.1M1886.9,1001.9Q1906.7,1037.5 1884.2,1071.5M1910.7,1002.7Q1929.1,1039.2 1905.5,1072.5M1934.3,1004.4Q1951.5,1041.7 1926.7,1074.4M1960,1007.2Q1973.5,1046.2 1945.7,1076.7M1985.2,1012.8Q1995,1053.2 1964.3,1081.4" fill="none" stroke="#c0656f" stroke-width="1.35"/>
</g>
<ellipse cx="1425.3" cy="1049.7" rx="17" ry="32.5" transform="rotate(-1.6 1425.3 1049.7)" fill="#c9626a" stroke="#d6808a" stroke-width="1.2"/>
<g mask="url(#mB)">
<g><path d="M1396,923.8H1970V954.4H1396Z" fill="#9b2e36"/><path d="M1694,950C1692.3,950.9 1689.2,950.7 1684,955.5C1678.8,960.3 1669.3,971.2 1662.5,978.6C1655.7,986 1651.8,992 1643.4,1000C1635.1,1008 1622.1,1019 1612.4,1026.3C1602.7,1033.6 1593.7,1038.9 1585,1044C1576.3,1049.1 1570.3,1052.8 1560,1057C1549.7,1061.2 1538.7,1065.3 1523,1069.5C1507.3,1073.7 1481.5,1078.4 1466,1082C1450.5,1085.6 1442,1087.2 1430,1091C1418,1094.8 1400,1102.2 1394,1104.5L1394,1116C1398.5,1114.3 1409,1109.4 1421,1106C1433,1102.6 1449,1098.5 1466,1095.5C1483,1092.5 1505.7,1091.1 1523,1088C1540.3,1084.9 1556,1081.7 1570,1077C1584,1072.3 1594.5,1067.2 1607,1060C1619.5,1052.8 1635.2,1041.8 1645,1034C1654.8,1026.2 1659.5,1019.5 1666,1013C1672.5,1006.5 1678.3,1001.2 1684,995C1689.7,988.8 1694,981.3 1700,976C1706,970.7 1712.5,966.2 1720,963C1727.5,959.8 1736.3,957.9 1745,956.5C1753.7,955.1 1767.5,954.8 1772,954.4L1772,944L1694,944Z" fill="#9b2e36"/><path d="M1588.3,1041.8L1587.5,1043.2L1586.4,1045L1585.2,1047L1583.7,1049.3L1582.2,1051.8L1580.7,1054.4L1579.1,1056.9L1577.5,1059.4L1576,1061.8L1574.7,1063.9L1573.5,1065.8L1572.3,1067.6L1571,1069.5L1569.7,1071.3L1568.4,1073.2L1567.1,1075.1L1565.8,1077L1564.6,1079L1563.4,1081.1L1562.3,1083.1L1561.3,1084.9L1560.4,1086.6L1559.6,1088.4L1558.7,1090.2L1557.9,1092.1L1557.1,1094.1L1556.4,1096.3L1555.8,1098.5L1555.4,1100.9L1555.1,1103.4L1555.1,1105.9L1555.2,1108.4L1555.5,1110.8L1555.9,1113.1L1556.4,1115.3L1557,1117.3L1557.6,1119.3L1558.1,1121.2L1558.7,1123.1L1559.3,1125L1559.9,1127.1L1560.7,1129.5L1561.5,1131.9L1562.4,1134.2L1563.3,1136.6L1564.1,1138.8L1564.9,1140.8L1565.6,1142.6L1566.2,1144.1L1566.7,1145.2L1584.5,1138.8L1584.2,1137.6L1583.6,1136L1583,1134.2L1582.3,1132.1L1581.5,1130L1580.8,1127.8L1580.1,1125.6L1579.4,1123.4L1578.8,1121.4L1578.3,1119.6L1577.9,1117.7L1577.4,1115.8L1576.9,1114L1576.5,1112.3L1576.1,1110.8L1575.9,1109.3L1575.7,1108L1575.6,1106.9L1575.6,1105.9L1575.7,1105L1575.8,1104.2L1576,1103.3L1576.3,1102.4L1576.7,1101.5L1577.2,1100.4L1577.7,1099.3L1578.4,1098L1579.2,1096.6L1580.1,1095.1L1580.9,1093.5L1581.8,1092.1L1582.7,1090.7L1583.8,1089.2L1584.9,1087.6L1586.2,1085.9L1587.5,1084.1L1588.9,1082.2L1590.3,1080.3L1591.8,1078.2L1593.3,1076.1L1594.8,1073.9L1596.3,1071.5L1598,1069L1599.7,1066.4L1601.3,1063.9L1602.9,1061.4L1604.4,1059.2L1605.7,1057.1L1606.8,1055.5L1607.7,1054.2Z" fill="#9b2e36"/><path d="M1645.6,1015.4L1646.4,1017.5L1647.5,1020.5L1648.8,1024.1L1650.2,1028.1L1651.8,1032.3L1653.5,1036.5L1655.2,1040.5L1656.9,1044.2L1658.8,1047.5L1660.7,1050.5L1662.6,1053.2L1664.5,1055.6L1666.2,1057.8L1667.8,1059.9L1669.2,1061.8L1670.6,1063.8L1672,1066L1673.4,1068.3L1674.8,1070.6L1676.1,1072.9L1677.3,1075.1L1678.5,1077.3L1679.5,1079.4L1680.5,1081.5L1681.3,1083.6L1682.1,1085.7L1682.8,1087.8L1683.5,1090L1684.1,1092.1L1684.6,1094.3L1685.1,1096.5L1685.5,1098.7L1685.9,1100.9L1686.3,1102.9L1686.5,1105L1686.7,1107.1L1686.9,1109.2L1687,1111.5L1687.1,1113.9L1687.2,1116.5L1687.2,1119.4L1687.1,1122.7L1687,1126.3L1686.9,1130L1686.7,1133.5L1686.5,1136.8L1686.4,1139.5L1686.4,1141.6L1700.8,1142.4L1701,1140.4L1701.2,1137.7L1701.5,1134.5L1701.8,1130.9L1702.1,1127.1L1702.3,1123.3L1702.5,1119.8L1702.6,1116.5L1702.7,1113.7L1702.7,1111.1L1702.6,1108.5L1702.6,1106L1702.4,1103.6L1702.3,1101.1L1702,1098.6L1701.7,1096.1L1701.3,1093.5L1700.8,1090.9L1700.3,1088.4L1699.7,1085.8L1699.1,1083.1L1698.3,1080.5L1697.5,1077.8L1696.5,1075.1L1695.4,1072.4L1694.2,1069.7L1693,1067L1691.7,1064.4L1690.3,1061.8L1688.9,1059.3L1687.5,1056.8L1686,1054.2L1684.4,1051.6L1682.7,1049L1681,1046.7L1679.4,1044.5L1677.9,1042.3L1676.5,1040.2L1675.2,1038.1L1674.1,1035.8L1672.8,1032.9L1671.5,1029.4L1670,1025.6L1668.7,1021.5L1667.4,1017.6L1666.2,1014L1665.2,1010.9L1664.4,1008.6Z" fill="#9b2e36"/></g>
<g filter="url(#er)"><path d="M1396,923.8H1970V954.4H1396Z" fill="#b95052"/><path d="M1694,950C1692.3,950.9 1689.2,950.7 1684,955.5C1678.8,960.3 1669.3,971.2 1662.5,978.6C1655.7,986 1651.8,992 1643.4,1000C1635.1,1008 1622.1,1019 1612.4,1026.3C1602.7,1033.6 1593.7,1038.9 1585,1044C1576.3,1049.1 1570.3,1052.8 1560,1057C1549.7,1061.2 1538.7,1065.3 1523,1069.5C1507.3,1073.7 1481.5,1078.4 1466,1082C1450.5,1085.6 1442,1087.2 1430,1091C1418,1094.8 1400,1102.2 1394,1104.5L1394,1116C1398.5,1114.3 1409,1109.4 1421,1106C1433,1102.6 1449,1098.5 1466,1095.5C1483,1092.5 1505.7,1091.1 1523,1088C1540.3,1084.9 1556,1081.7 1570,1077C1584,1072.3 1594.5,1067.2 1607,1060C1619.5,1052.8 1635.2,1041.8 1645,1034C1654.8,1026.2 1659.5,1019.5 1666,1013C1672.5,1006.5 1678.3,1001.2 1684,995C1689.7,988.8 1694,981.3 1700,976C1706,970.7 1712.5,966.2 1720,963C1727.5,959.8 1736.3,957.9 1745,956.5C1753.7,955.1 1767.5,954.8 1772,954.4L1772,944L1694,944Z" fill="#b95052"/><path d="M1588.3,1041.8L1587.5,1043.2L1586.4,1045L1585.2,1047L1583.7,1049.3L1582.2,1051.8L1580.7,1054.4L1579.1,1056.9L1577.5,1059.4L1576,1061.8L1574.7,1063.9L1573.5,1065.8L1572.3,1067.6L1571,1069.5L1569.7,1071.3L1568.4,1073.2L1567.1,1075.1L1565.8,1077L1564.6,1079L1563.4,1081.1L1562.3,1083.1L1561.3,1084.9L1560.4,1086.6L1559.6,1088.4L1558.7,1090.2L1557.9,1092.1L1557.1,1094.1L1556.4,1096.3L1555.8,1098.5L1555.4,1100.9L1555.1,1103.4L1555.1,1105.9L1555.2,1108.4L1555.5,1110.8L1555.9,1113.1L1556.4,1115.3L1557,1117.3L1557.6,1119.3L1558.1,1121.2L1558.7,1123.1L1559.3,1125L1559.9,1127.1L1560.7,1129.5L1561.5,1131.9L1562.4,1134.2L1563.3,1136.6L1564.1,1138.8L1564.9,1140.8L1565.6,1142.6L1566.2,1144.1L1566.7,1145.2L1584.5,1138.8L1584.2,1137.6L1583.6,1136L1583,1134.2L1582.3,1132.1L1581.5,1130L1580.8,1127.8L1580.1,1125.6L1579.4,1123.4L1578.8,1121.4L1578.3,1119.6L1577.9,1117.7L1577.4,1115.8L1576.9,1114L1576.5,1112.3L1576.1,1110.8L1575.9,1109.3L1575.7,1108L1575.6,1106.9L1575.6,1105.9L1575.7,1105L1575.8,1104.2L1576,1103.3L1576.3,1102.4L1576.7,1101.5L1577.2,1100.4L1577.7,1099.3L1578.4,1098L1579.2,1096.6L1580.1,1095.1L1580.9,1093.5L1581.8,1092.1L1582.7,1090.7L1583.8,1089.2L1584.9,1087.6L1586.2,1085.9L1587.5,1084.1L1588.9,1082.2L1590.3,1080.3L1591.8,1078.2L1593.3,1076.1L1594.8,1073.9L1596.3,1071.5L1598,1069L1599.7,1066.4L1601.3,1063.9L1602.9,1061.4L1604.4,1059.2L1605.7,1057.1L1606.8,1055.5L1607.7,1054.2Z" fill="#b95052"/><path d="M1645.6,1015.4L1646.4,1017.5L1647.5,1020.5L1648.8,1024.1L1650.2,1028.1L1651.8,1032.3L1653.5,1036.5L1655.2,1040.5L1656.9,1044.2L1658.8,1047.5L1660.7,1050.5L1662.6,1053.2L1664.5,1055.6L1666.2,1057.8L1667.8,1059.9L1669.2,1061.8L1670.6,1063.8L1672,1066L1673.4,1068.3L1674.8,1070.6L1676.1,1072.9L1677.3,1075.1L1678.5,1077.3L1679.5,1079.4L1680.5,1081.5L1681.3,1083.6L1682.1,1085.7L1682.8,1087.8L1683.5,1090L1684.1,1092.1L1684.6,1094.3L1685.1,1096.5L1685.5,1098.7L1685.9,1100.9L1686.3,1102.9L1686.5,1105L1686.7,1107.1L1686.9,1109.2L1687,1111.5L1687.1,1113.9L1687.2,1116.5L1687.2,1119.4L1687.1,1122.7L1687,1126.3L1686.9,1130L1686.7,1133.5L1686.5,1136.8L1686.4,1139.5L1686.4,1141.6L1700.8,1142.4L1701,1140.4L1701.2,1137.7L1701.5,1134.5L1701.8,1130.9L1702.1,1127.1L1702.3,1123.3L1702.5,1119.8L1702.6,1116.5L1702.7,1113.7L1702.7,1111.1L1702.6,1108.5L1702.6,1106L1702.4,1103.6L1702.3,1101.1L1702,1098.6L1701.7,1096.1L1701.3,1093.5L1700.8,1090.9L1700.3,1088.4L1699.7,1085.8L1699.1,1083.1L1698.3,1080.5L1697.5,1077.8L1696.5,1075.1L1695.4,1072.4L1694.2,1069.7L1693,1067L1691.7,1064.4L1690.3,1061.8L1688.9,1059.3L1687.5,1056.8L1686,1054.2L1684.4,1051.6L1682.7,1049L1681,1046.7L1679.4,1044.5L1677.9,1042.3L1676.5,1040.2L1675.2,1038.1L1674.1,1035.8L1672.8,1032.9L1671.5,1029.4L1670,1025.6L1668.7,1021.5L1667.4,1017.6L1666.2,1014L1665.2,1010.9L1664.4,1008.6Z" fill="#b95052"/></g>
<rect x="1390" y="949.6" width="296" height="4.8" fill="#9b2e36"/><rect x="1770" y="949.6" width="210" height="4.8" fill="#9b2e36"/>
<path d="M1607,1060C1613.3,1055.7 1635.2,1041.8 1645,1034C1654.8,1026.2 1659.5,1019.5 1666,1013C1672.5,1006.5 1678.3,1001.2 1684,995C1689.7,988.8 1694,981.3 1700,976C1706,970.7 1712.5,966.2 1720,963C1727.5,959.8 1736.3,957.9 1745,956.5C1753.7,955.1 1767.5,954.8 1772,954.4" fill="none" stroke="#9b2e36" stroke-width="3" transform="translate(-1.5,-2.5)"/>
<path d="M1571,1092C1570.2,1094.3 1566.3,1101 1566,1106C1565.7,1111 1567.7,1117 1569,1122C1570.3,1127 1573.2,1133.7 1574,1136" fill="none" stroke="#c96466" stroke-width="4" opacity="0.7"/>
<path d="M1668,1040C1670.2,1043.7 1677.3,1055 1681,1062C1684.7,1069 1687.8,1075.7 1690,1082C1692.2,1088.3 1693.7,1092 1694.5,1100C1695.3,1108 1694.9,1125 1695,1130" fill="none" stroke="#c96466" stroke-width="2.5" opacity="0.7"/>
</g>
<path d="M1527.4,1038.4C1529.3,1041 1535.3,1049.3 1538.7,1054.3C1542.1,1059.2 1544.8,1063.3 1547.8,1067.9C1550.8,1072.4 1551.6,1076.2 1556.9,1081.5C1562.2,1086.8 1570.1,1095.9 1579.5,1099.6C1589,1103.4 1602.2,1104.9 1613.6,1104.2C1624.9,1103.4 1636.3,1100.4 1647.6,1095.1C1658.9,1089.8 1672.9,1078.3 1681.6,1072.4C1690.4,1066.6 1694.6,1063.5 1700,1059.9C1705.4,1056.3 1706,1053.5 1714,1050.8C1722,1048.1 1736.7,1044.6 1748,1044C1759.4,1043.3 1770.7,1047.3 1782,1046.9C1793.4,1046.6 1806.6,1043.9 1816.1,1041.7C1825.5,1039.5 1835,1035.1 1838.7,1033.8M1838.7,1033.8C1840.2,1030.4 1847.8,1019.8 1847.8,1013.4C1847.8,1007 1843.3,1000.9 1838.7,995.2C1834.2,989.6 1824.4,984.3 1820.6,979.4C1816.8,974.5 1816.2,968.8 1816.1,965.8C1815.9,962.7 1818.9,962 1819.5,961.2M1847.8,1011.1C1850.1,1009.8 1855.7,1005.2 1861.4,1003.2C1867.1,1001.2 1878.4,999.8 1881.8,999.1M1838.7,1038.3C1842.5,1039.8 1853.5,1043.8 1861.4,1047.4C1869.3,1051 1878.8,1060.2 1886.3,1059.9C1893.9,1059.5 1899.6,1050.6 1906.8,1045.1C1913.9,1039.6 1921.9,1031.3 1929.4,1027C1937,1022.6 1944.6,1020.7 1952.1,1019C1959.7,1017.3 1971,1017.2 1974.8,1016.8M1886.3,1059.9C1886.5,1063.5 1887.7,1075.2 1887.5,1081.4C1887.3,1087.6 1884.8,1092.9 1885.2,1097.3C1885.6,1101.6 1889,1105.8 1889.8,1107.5M1782,1046.9C1784.7,1049.7 1793.4,1056.8 1797.9,1063.3C1802.4,1069.8 1807.9,1078 1809.3,1085.9C1810.6,1093.9 1807,1104.5 1805.9,1110.9C1804.7,1117.3 1803,1122.2 1802.4,1124.5M1802.4,1124.5C1800.2,1126 1793.4,1130.9 1788.8,1133.6C1784.3,1136.2 1778.1,1137.3 1775.2,1140.4C1772.4,1143.4 1772.4,1149.8 1771.8,1151.7M1802.4,1124.5C1805.5,1126.8 1812.7,1133.6 1820.6,1138.1C1828.5,1142.6 1839.5,1148.9 1850.1,1151.7C1860.7,1154.5 1872.7,1155.3 1884.1,1155.1C1895.4,1154.9 1908.6,1150.4 1918.1,1150.6C1927.5,1150.8 1936,1153.4 1940.8,1156.2C1945.5,1159.1 1945.5,1165.7 1946.4,1167.6" fill="none" stroke="#d3a63f" stroke-width="4.6" stroke-linecap="round" stroke-linejoin="round"/>
<path d="M1527.4,1038.4C1529.3,1041 1535.3,1049.3 1538.7,1054.3C1542.1,1059.2 1544.8,1063.3 1547.8,1067.9C1550.8,1072.4 1551.6,1076.2 1556.9,1081.5C1562.2,1086.8 1570.1,1095.9 1579.5,1099.6C1589,1103.4 1602.2,1104.9 1613.6,1104.2C1624.9,1103.4 1636.3,1100.4 1647.6,1095.1C1658.9,1089.8 1672.9,1078.3 1681.6,1072.4C1690.4,1066.6 1694.6,1063.5 1700,1059.9C1705.4,1056.3 1706,1053.5 1714,1050.8C1722,1048.1 1736.7,1044.6 1748,1044C1759.4,1043.3 1770.7,1047.3 1782,1046.9C1793.4,1046.6 1806.6,1043.9 1816.1,1041.7C1825.5,1039.5 1835,1035.1 1838.7,1033.8M1838.7,1033.8C1840.2,1030.4 1847.8,1019.8 1847.8,1013.4C1847.8,1007 1843.3,1000.9 1838.7,995.2C1834.2,989.6 1824.4,984.3 1820.6,979.4C1816.8,974.5 1816.2,968.8 1816.1,965.8C1815.9,962.7 1818.9,962 1819.5,961.2M1847.8,1011.1C1850.1,1009.8 1855.7,1005.2 1861.4,1003.2C1867.1,1001.2 1878.4,999.8 1881.8,999.1M1838.7,1038.3C1842.5,1039.8 1853.5,1043.8 1861.4,1047.4C1869.3,1051 1878.8,1060.2 1886.3,1059.9C1893.9,1059.5 1899.6,1050.6 1906.8,1045.1C1913.9,1039.6 1921.9,1031.3 1929.4,1027C1937,1022.6 1944.6,1020.7 1952.1,1019C1959.7,1017.3 1971,1017.2 1974.8,1016.8M1886.3,1059.9C1886.5,1063.5 1887.7,1075.2 1887.5,1081.4C1887.3,1087.6 1884.8,1092.9 1885.2,1097.3C1885.6,1101.6 1889,1105.8 1889.8,1107.5M1782,1046.9C1784.7,1049.7 1793.4,1056.8 1797.9,1063.3C1802.4,1069.8 1807.9,1078 1809.3,1085.9C1810.6,1093.9 1807,1104.5 1805.9,1110.9C1804.7,1117.3 1803,1122.2 1802.4,1124.5M1802.4,1124.5C1800.2,1126 1793.4,1130.9 1788.8,1133.6C1784.3,1136.2 1778.1,1137.3 1775.2,1140.4C1772.4,1143.4 1772.4,1149.8 1771.8,1151.7M1802.4,1124.5C1805.5,1126.8 1812.7,1133.6 1820.6,1138.1C1828.5,1142.6 1839.5,1148.9 1850.1,1151.7C1860.7,1154.5 1872.7,1155.3 1884.1,1155.1C1895.4,1154.9 1908.6,1150.4 1918.1,1150.6C1927.5,1150.8 1936,1153.4 1940.8,1156.2C1945.5,1159.1 1945.5,1165.7 1946.4,1167.6" fill="none" stroke="#f1c962" stroke-width="3.2" stroke-linecap="round" stroke-linejoin="round"/>
<path d="M1506.6,1007.3L1505.1,1005.7L1503.2,1003.4L1500.9,1000.7L1498.3,997.7L1495.6,994.7L1492.8,991.8L1490.2,989.3L1487.5,987L1484.6,984.9L1481.6,983L1478.7,981.1L1476.1,979.4L1473.7,977.7L1471.7,976L1470.2,974.4L1469,972.9L1467.9,971.3L1467.1,969.8L1466.3,968.3L1465.6,966.8L1464.8,965.3L1464.1,963.9L1463.4,962.4L1462.8,961L1462.2,959.6L1461.8,958.4L1461.4,957.3L1461,956.5L1459.9,956.9L1460.1,957.7L1460.4,958.8L1460.7,960.1L1461.2,961.6L1461.7,963.1L1462.2,964.7L1462.9,966.2L1463.5,967.7L1464.1,969.3L1464.8,970.9L1465.6,972.7L1466.6,974.5L1467.9,976.3L1469.6,978.2L1471.7,980.2L1474.1,982.1L1476.8,984L1479.6,986L1482.3,988L1485,990.1L1487.4,992.2L1489.8,994.7L1492.4,997.6L1494.9,1000.6L1497.3,1003.6L1499.5,1006.4L1501.4,1008.8L1502.8,1010.5Z" fill="#f1c962" stroke="#d3a63f" stroke-width="1.3" stroke-linejoin="round"/>
<path d="M1470.8,976L1470.1,976L1469.3,975.9L1468.3,975.8L1467.1,975.6L1465.9,975.5L1464.6,975.3L1463.3,975.1L1461.9,975L1460.4,974.8L1459,974.6L1457.6,974.5L1456.2,974.4L1454.9,974.2L1453.7,974.1L1452.6,974.1L1451.5,974L1450.4,974L1449.3,974L1448.2,974L1447.1,974L1446.1,974L1445.1,974.1L1444.1,974.1L1443.1,974.1L1442.2,974.2L1441.4,974.2L1440.7,974.3L1440,974.3L1439.4,974.3L1438.9,974.4L1438.9,975.4L1439.4,975.4L1440,975.4L1440.7,975.4L1441.4,975.4L1442.3,975.4L1443.2,975.4L1444.1,975.4L1445.1,975.4L1446.1,975.4L1447.1,975.4L1448.2,975.4L1449.3,975.5L1450.3,975.5L1451.4,975.6L1452.4,975.7L1453.5,975.8L1454.8,975.9L1456,976.1L1457.4,976.2L1458.8,976.4L1460.2,976.6L1461.6,976.8L1463,977L1464.3,977.3L1465.6,977.5L1466.9,977.6L1468,977.8L1469,978L1469.8,978.1L1470.5,978.2Z" fill="#f1c962" stroke="#d3a63f" stroke-width="1.3" stroke-linejoin="round"/>
<path d="M1479.3,984.8L1478.5,985.1L1477.6,985.4L1476.4,985.8L1475.1,986.2L1473.7,986.7L1472.2,987.2L1470.6,987.7L1468.9,988.3L1467.3,989L1465.7,989.7L1464,990.5L1462.3,991.5L1460.6,992.5L1458.8,993.6L1457,994.7L1455.2,995.8L1453.3,996.8L1451.5,997.7L1449.6,998.5L1447.8,999L1445.8,999.4L1443.7,999.6L1441.4,999.8L1439,999.8L1436.7,999.7L1434.4,999.6L1432.3,999.5L1430.4,999.4L1428.8,999.3L1427.6,999.3L1427.5,1000.3L1428.7,1000.4L1430.3,1000.5L1432.2,1000.7L1434.3,1000.9L1436.6,1001L1439,1001.2L1441.4,1001.2L1443.8,1001.2L1446,1001L1448.2,1000.6L1450.2,1000.1L1452.2,999.3L1454.1,998.4L1456.1,997.5L1458,996.4L1459.8,995.3L1461.6,994.3L1463.3,993.3L1465,992.5L1466.6,991.8L1468.1,991.2L1469.8,990.6L1471.4,990.1L1472.9,989.6L1474.4,989.1L1475.9,988.7L1477.2,988.4L1478.3,988.1L1479.4,987.8L1480.2,987.6Z" fill="#f1c962" stroke="#d3a63f" stroke-width="1.3" stroke-linejoin="round"/>
<path d="M1516.2,1001.4L1515.7,1000L1515.2,998L1514.5,995.6L1513.7,992.9L1512.9,990.3L1512,987.7L1511.1,985.4L1510.2,983.5L1509.2,981.6L1508.2,979.9L1507.1,978.2L1506,976.7L1504.8,975.2L1503.6,973.8L1502.2,972.5L1500.7,971.4L1499.2,970.5L1497.7,969.7L1496.3,968.9L1495.1,968.1L1494.1,967.3L1493.2,966.4L1492.3,965.4L1491.6,964.3L1490.9,963.3L1490.3,962.3L1489.8,961.5L1489.3,960.9L1488.3,961.6L1488.6,962.2L1489,963.1L1489.5,964.1L1490.1,965.2L1490.8,966.5L1491.6,967.7L1492.6,968.8L1493.7,969.9L1495,970.9L1496.3,971.8L1497.7,972.8L1499,973.7L1500.2,974.8L1501.3,975.9L1502.3,977.2L1503.2,978.6L1504.1,980.1L1505,981.7L1505.8,983.4L1506.6,985.1L1507.3,987L1508,989.1L1508.7,991.5L1509.4,994.1L1510,996.7L1510.6,999.2L1511,1001.2L1511.3,1002.7Z" fill="#f1c962" stroke="#d3a63f" stroke-width="1.3" stroke-linejoin="round"/>
<path d="M1510.4,987L1511.2,985.7L1512.3,983.9L1513.5,981.8L1514.9,979.5L1516.3,977.3L1517.8,975.2L1519.2,973.4L1520.6,971.9L1522.1,970.5L1523.7,969.1L1525.3,967.9L1526.9,966.7L1528.6,965.5L1530.2,964.3L1531.8,963.1L1533.5,961.9L1535.2,960.8L1536.8,959.7L1538.4,958.7L1539.9,958L1541.2,957.4L1542.4,957.2L1543.5,957.2L1544.6,957.3L1545.7,957.6L1546.6,957.9L1547.5,958.2L1548.1,958.3L1548.4,957.4L1547.8,957.2L1547,956.8L1546,956.5L1544.9,956.1L1543.6,955.8L1542.2,955.8L1540.8,956L1539.3,956.5L1537.7,957.3L1536,958.2L1534.2,959.3L1532.5,960.4L1530.8,961.6L1529.1,962.7L1527.4,963.8L1525.7,965L1524,966.1L1522.3,967.4L1520.6,968.7L1519,970.2L1517.4,971.8L1515.8,973.7L1514.2,975.8L1512.7,978.1L1511.2,980.4L1509.9,982.5L1508.8,984.2L1508,985.4Z" fill="#f1c962" stroke="#d3a63f" stroke-width="1.3" stroke-linejoin="round"/>
<path d="M1519.1,972.9L1519.2,972.7L1519.3,972.5L1519.4,972.2L1519.5,971.9L1519.6,971.5L1519.7,971.2L1519.9,970.8L1520,970.4L1520.2,970L1520.4,969.5L1520.5,969.1L1520.7,968.6L1520.9,968.1L1521,967.7L1521.2,967.2L1521.4,966.7L1521.6,966.2L1521.7,965.8L1521.9,965.3L1522.1,964.8L1522.2,964.4L1522.4,964L1522.5,963.6L1522.7,963.2L1522.8,962.8L1522.9,962.5L1523,962.2L1523.1,961.9L1523.2,961.7L1523.3,961.4L1522.4,961.1L1522.3,961.3L1522.2,961.5L1522,961.8L1521.9,962.1L1521.8,962.4L1521.6,962.8L1521.4,963.1L1521.3,963.5L1521.1,963.9L1520.9,964.4L1520.7,964.8L1520.5,965.3L1520.3,965.7L1520.1,966.2L1519.9,966.7L1519.7,967.1L1519.5,967.6L1519.3,968.1L1519.1,968.5L1518.9,968.9L1518.7,969.4L1518.6,969.8L1518.4,970.2L1518.2,970.6L1518.1,970.9L1517.9,971.2L1517.8,971.5L1517.7,971.8L1517.6,972.1L1517.5,972.3Z" fill="#f1c962" stroke="#d3a63f" stroke-width="1.3" stroke-linejoin="round"/>
<path d="M1529.2,1011.1L1530.6,1009.9L1532.5,1008.2L1534.9,1006.2L1537.4,1004L1540,1001.6L1542.6,999.2L1544.9,996.9L1547,994.7L1549,992.3L1551.1,989.9L1553,987.4L1554.9,985L1556.6,982.7L1558.3,980.4L1559.8,978.2L1561.1,975.9L1562.2,973.7L1563.3,971.7L1564.4,969.8L1565.5,968.1L1566.7,966.7L1568.2,965.4L1569.9,964.3L1571.8,963.4L1573.7,962.5L1575.4,961.8L1576.9,961.2L1578,960.7L1577.5,959.6L1576.4,959.9L1574.9,960.4L1573.1,960.9L1571.1,961.7L1569,962.5L1567,963.6L1565.1,964.9L1563.6,966.5L1562.2,968.3L1560.9,970.2L1559.6,972.2L1558.3,974.3L1557,976.3L1555.5,978.4L1553.7,980.4L1551.9,982.6L1549.9,984.9L1547.9,987.2L1545.8,989.4L1543.7,991.6L1541.6,993.6L1539.3,995.7L1536.8,997.9L1534.1,1000L1531.5,1002.1L1529.1,1003.9L1527,1005.5L1525.5,1006.7Z" fill="#f1c962" stroke="#d3a63f" stroke-width="1.3" stroke-linejoin="round"/>
<path d="M1557,980.5L1557.7,980.4L1558.6,980.2L1559.6,980L1560.7,979.8L1561.9,979.5L1563.2,979.3L1564.5,979L1565.9,978.8L1567.3,978.6L1568.7,978.4L1570.1,978.2L1571.4,978L1572.7,978L1573.9,977.9L1575,977.9L1576,978L1577,978.2L1578.1,978.4L1579.1,978.7L1580.2,979L1581.2,979.3L1582.2,979.7L1583.2,980L1584.1,980.4L1585,980.8L1585.8,981.1L1586.6,981.5L1587.3,981.7L1587.9,982L1588.4,982.1L1588.8,981.2L1588.3,981L1587.7,980.7L1587.1,980.4L1586.3,980.1L1585.5,979.7L1584.6,979.3L1583.7,978.9L1582.7,978.4L1581.7,978L1580.6,977.6L1579.5,977.3L1578.4,977L1577.3,976.7L1576.2,976.5L1575.1,976.3L1573.9,976.3L1572.6,976.3L1571.3,976.3L1569.9,976.4L1568.5,976.6L1567.1,976.7L1565.6,976.9L1564.2,977.2L1562.9,977.4L1561.6,977.6L1560.3,977.8L1559.2,978L1558.2,978.1L1557.4,978.2L1556.7,978.3Z" fill="#f1c962" stroke="#d3a63f" stroke-width="1.3" stroke-linejoin="round"/>
<path d="M1532.4,1020.8L1534.7,1020.3L1537.9,1019.6L1541.7,1018.8L1545.8,1018L1549.9,1017.1L1553.8,1016.4L1557.3,1015.7L1560.2,1015.1L1563,1014.5L1565.6,1013.9L1568,1013.4L1570.3,1013L1572.6,1012.8L1574.8,1012.9L1577,1013.3L1579.2,1013.9L1581.4,1014.8L1583.6,1015.8L1585.9,1016.9L1588.1,1018L1590.4,1019L1592.8,1020L1595.3,1021L1597.8,1022.1L1600.2,1023.1L1602.4,1024L1604.2,1024.8L1605.6,1025.3L1606.1,1024.2L1604.8,1023.5L1603,1022.6L1600.9,1021.6L1598.5,1020.4L1596.1,1019.2L1593.7,1018L1591.4,1016.9L1589.3,1015.8L1587.1,1014.6L1584.9,1013.3L1582.7,1012.1L1580.3,1011L1577.8,1010L1575.2,1009.4L1572.6,1009.2L1570,1009.2L1567.5,1009.4L1564.8,1009.8L1562.2,1010.2L1559.4,1010.7L1556.5,1011.1L1553,1011.6L1549.1,1012.2L1544.9,1012.9L1540.7,1013.6L1536.9,1014.2L1533.7,1014.8L1531.4,1015.1Z" fill="#f1c962" stroke="#d3a63f" stroke-width="1.3" stroke-linejoin="round"/>
<path d="M1576,1011.9L1576.3,1011.4L1576.7,1010.8L1577.1,1010.1L1577.6,1009.3L1578.1,1008.5L1578.6,1007.6L1579.1,1006.7L1579.7,1005.8L1580.4,1004.9L1581,1004L1581.7,1003.1L1582.4,1002.4L1583.1,1001.7L1583.8,1001.1L1584.5,1000.6L1585.3,1000.2L1586.2,999.8L1587.3,999.5L1588.4,999.3L1589.6,999L1590.8,998.9L1592,998.7L1593.3,998.6L1594.5,998.5L1595.6,998.4L1596.7,998.4L1597.7,998.3L1598.6,998.2L1599.4,998.1L1600,998L1599.9,997.1L1599.3,997.1L1598.6,997.1L1597.7,997.1L1596.7,997.2L1595.6,997.2L1594.4,997.2L1593.2,997.3L1591.9,997.3L1590.6,997.4L1589.4,997.6L1588.1,997.7L1586.9,998L1585.7,998.3L1584.7,998.6L1583.7,999.1L1582.7,999.6L1581.9,1000.3L1581,1001L1580.2,1001.8L1579.4,1002.7L1578.7,1003.6L1578,1004.6L1577.3,1005.5L1576.7,1006.4L1576.2,1007.3L1575.6,1008.1L1575.1,1008.9L1574.7,1009.5L1574.3,1010L1574,1010.4Z" fill="#f1c962" stroke="#d3a63f" stroke-width="1.3" stroke-linejoin="round"/>
<path d="M1584.9,1000.2L1584.9,1000.1L1585,999.9L1585.1,999.8L1585.2,999.6L1585.3,999.3L1585.4,999.1L1585.5,998.8L1585.6,998.6L1585.8,998.3L1585.9,998L1586,997.7L1586.2,997.4L1586.3,997.1L1586.5,996.8L1586.6,996.5L1586.8,996.2L1586.9,995.9L1587.1,995.6L1587.2,995.3L1587.4,995L1587.5,994.7L1587.6,994.4L1587.7,994.2L1587.9,993.9L1588,993.7L1588.1,993.5L1588.2,993.3L1588.3,993.1L1588.3,992.9L1588.4,992.8L1587.5,992.3L1587.4,992.5L1587.3,992.6L1587.2,992.8L1587.1,993L1587,993.2L1586.8,993.4L1586.7,993.6L1586.6,993.9L1586.4,994.1L1586.2,994.4L1586.1,994.7L1585.9,995L1585.7,995.3L1585.6,995.6L1585.4,995.9L1585.2,996.2L1585,996.5L1584.9,996.7L1584.7,997L1584.5,997.3L1584.4,997.6L1584.2,997.8L1584.1,998.1L1583.9,998.3L1583.8,998.6L1583.7,998.8L1583.6,999L1583.5,999.1L1583.4,999.3L1583.3,999.4Z" fill="#f1c962" stroke="#d3a63f" stroke-width="1.3" stroke-linejoin="round"/>
<path d="M1496.9,1020.9L1494.9,1021.7L1492.1,1022.8L1488.8,1024L1485.2,1025.4L1481.5,1026.8L1477.9,1028.2L1474.5,1029.4L1471.2,1030.5L1468,1031.7L1464.8,1032.8L1461.6,1033.9L1458.5,1035L1455.3,1035.9L1452.2,1036.7L1449,1037.3L1445.7,1037.9L1442.4,1038.3L1439.1,1038.7L1435.9,1039L1432.7,1039.2L1429.8,1039.5L1426.8,1039.7L1423.8,1039.8L1420.8,1039.9L1418,1039.9L1415.4,1040L1413.3,1040L1411.7,1040.1L1411.7,1041.3L1413.3,1041.4L1415.4,1041.5L1417.9,1041.6L1420.8,1041.7L1423.8,1041.8L1426.9,1041.9L1429.9,1041.8L1432.9,1041.7L1436.1,1041.6L1439.3,1041.5L1442.7,1041.3L1446.1,1041L1449.5,1040.6L1452.8,1040.1L1456.2,1039.4L1459.5,1038.6L1462.8,1037.8L1466.1,1036.8L1469.4,1035.8L1472.7,1034.8L1475.9,1033.8L1479.4,1032.7L1483.2,1031.5L1487,1030.3L1490.6,1029L1494,1027.9L1496.8,1027L1498.8,1026.4Z" fill="#f1c962" stroke="#d3a63f" stroke-width="1.3" stroke-linejoin="round"/>
<path d="M1451.7,1037.4L1451.2,1037.9L1450.6,1038.4L1449.9,1039L1449.1,1039.7L1448.3,1040.4L1447.3,1041.2L1446.4,1042L1445.4,1042.9L1444.3,1043.8L1443.3,1044.7L1442.3,1045.6L1441.2,1046.5L1440.2,1047.4L1439.2,1048.2L1438.3,1049.1L1437.4,1049.9L1436.4,1050.8L1435.4,1051.8L1434.4,1052.8L1433.3,1053.8L1432.3,1054.8L1431.3,1055.8L1430.3,1056.8L1429.3,1057.7L1428.4,1058.6L1427.5,1059.5L1426.7,1060.3L1426,1061L1425.4,1061.6L1424.9,1062.1L1425.6,1062.8L1426.2,1062.3L1426.8,1061.8L1427.5,1061.1L1428.3,1060.4L1429.2,1059.5L1430.2,1058.7L1431.2,1057.8L1432.2,1056.8L1433.3,1055.8L1434.4,1054.9L1435.4,1053.9L1436.5,1053L1437.5,1052.1L1438.5,1051.2L1439.5,1050.4L1440.4,1049.6L1441.4,1048.8L1442.4,1047.9L1443.5,1047.1L1444.6,1046.2L1445.6,1045.3L1446.7,1044.5L1447.7,1043.7L1448.7,1042.9L1449.7,1042.1L1450.6,1041.5L1451.4,1040.8L1452.1,1040.2L1452.8,1039.8L1453.3,1039.3Z" fill="#f1c962" stroke="#d3a63f" stroke-width="1.3" stroke-linejoin="round"/>
<path d="M1475.3,1030.1L1474.2,1030.1L1472.8,1030L1471.2,1029.9L1469.3,1029.8L1467.4,1029.7L1465.3,1029.6L1463.2,1029.3L1461.2,1029.1L1459.2,1028.7L1457.4,1028.2L1455.6,1027.6L1453.8,1026.9L1451.9,1026.1L1450.1,1025.2L1448.2,1024.3L1446.4,1023.3L1444.5,1022.3L1442.7,1021.3L1441,1020.4L1439.3,1019.5L1437.6,1018.7L1435.8,1017.8L1434.1,1016.9L1432.4,1016L1430.7,1015.1L1429.1,1014.3L1427.7,1013.5L1426.4,1012.9L1425.3,1012.3L1424.4,1011.9L1423.9,1012.7L1424.8,1013.2L1425.8,1013.9L1427.1,1014.6L1428.5,1015.4L1430.1,1016.3L1431.7,1017.2L1433.4,1018.2L1435.1,1019.1L1436.8,1020.1L1438.5,1021L1440.2,1021.9L1441.9,1022.9L1443.6,1023.9L1445.4,1024.9L1447.3,1026L1449.2,1027L1451,1028L1452.9,1028.9L1454.8,1029.7L1456.7,1030.4L1458.7,1031L1460.8,1031.4L1462.9,1031.8L1465,1032.1L1467.1,1032.3L1469.1,1032.5L1471,1032.6L1472.6,1032.8L1474,1032.9L1475.1,1033Z" fill="#f1c962" stroke="#d3a63f" stroke-width="1.3" stroke-linejoin="round"/>
<path d="M1502.8,1033.9L1501.4,1035.3L1499.4,1037.1L1497.1,1039.2L1494.6,1041.6L1492,1043.9L1489.6,1046L1487.4,1047.9L1485.4,1049.5L1483.5,1051.1L1481.6,1052.5L1479.8,1053.9L1478,1055.1L1476.2,1056.2L1474.4,1057.2L1472.6,1058.1L1470.9,1059L1469.1,1059.7L1467.4,1060.3L1465.6,1060.8L1463.7,1061.1L1461.6,1061.3L1459.2,1061.2L1456.4,1060.8L1453.4,1060.3L1450.4,1059.7L1447.6,1059L1445.3,1058.5L1443.6,1058.2L1443.3,1059.4L1444.9,1059.9L1447.2,1060.5L1450,1061.3L1453,1062.1L1456,1062.8L1458.9,1063.3L1461.6,1063.6L1463.9,1063.6L1466,1063.4L1468.1,1063L1470.1,1062.5L1472,1061.9L1474,1061.2L1475.9,1060.4L1478,1059.4L1480,1058.4L1482,1057.2L1484,1055.9L1486,1054.5L1488.1,1053.1L1490.2,1051.6L1492.6,1049.8L1495.2,1047.7L1498,1045.4L1500.6,1043.2L1503,1041.2L1505.1,1039.5L1506.6,1038.3Z" fill="#f1c962" stroke="#d3a63f" stroke-width="1.3" stroke-linejoin="round"/>
<path d="M1474.1,1058.1L1473.9,1058.6L1473.6,1059.1L1473.2,1059.7L1472.8,1060.4L1472.3,1061.2L1471.8,1062L1471.3,1062.9L1470.8,1063.8L1470.2,1064.7L1469.7,1065.6L1469.2,1066.5L1468.7,1067.3L1468.3,1068.2L1467.9,1069L1467.6,1069.8L1467.3,1070.5L1467.1,1071.3L1466.8,1072.1L1466.6,1072.9L1466.5,1073.6L1466.3,1074.4L1466.2,1075.1L1466.1,1075.8L1466,1076.5L1465.9,1077.2L1465.8,1077.8L1465.8,1078.3L1465.7,1078.8L1465.7,1079.2L1465.6,1079.6L1466.6,1079.8L1466.7,1079.4L1466.8,1079L1466.9,1078.5L1467,1078L1467.2,1077.4L1467.3,1076.7L1467.4,1076.1L1467.6,1075.4L1467.8,1074.7L1467.9,1074L1468.1,1073.3L1468.4,1072.5L1468.6,1071.8L1468.9,1071.2L1469.2,1070.5L1469.5,1069.8L1469.9,1069.1L1470.4,1068.3L1470.9,1067.4L1471.4,1066.6L1472,1065.7L1472.5,1064.9L1473.1,1064L1473.7,1063.2L1474.2,1062.4L1474.7,1061.7L1475.2,1061L1475.6,1060.4L1476,1059.9L1476.3,1059.5Z" fill="#f1c962" stroke="#d3a63f" stroke-width="1.3" stroke-linejoin="round"/>
<path d="M1493.3,1006.6C1496.4,1003.8 1500.9,1004.4 1504.7,1003.2C1508.5,1002.1 1512.2,999.6 1516,999.8C1519.8,1000 1523.6,1002.5 1527.4,1004.4C1531.1,1006.2 1536.4,1008.1 1538.7,1011.2C1541,1014.2 1541,1018.3 1541,1022.5C1541,1026.7 1541,1032.9 1538.7,1036.1C1536.4,1039.3 1531.9,1041 1527.4,1041.8C1522.8,1042.5 1516.4,1041.2 1511.5,1040.7C1506.6,1040.1 1501.7,1039.9 1497.9,1038.4C1494.1,1036.9 1490.7,1034.6 1488.8,1031.6C1486.9,1028.6 1485.8,1024.4 1486.5,1020.2C1487.3,1016.1 1490.3,1009.5 1493.3,1006.6Z" fill="#f1c962" stroke="#d3a63f" stroke-width="1.3" stroke-linejoin="round"/>
<path d="M1506.6,1007.3L1505.1,1005.7L1503.2,1003.4L1500.9,1000.7L1498.3,997.7L1495.6,994.7L1492.8,991.8L1490.2,989.3L1487.5,987L1484.6,984.9L1481.6,983L1478.7,981.1L1476.1,979.4L1473.7,977.7L1471.7,976L1470.2,974.4L1469,972.9L1467.9,971.3L1467.1,969.8L1466.3,968.3L1465.6,966.8L1464.8,965.3L1464.1,963.9L1463.4,962.4L1462.8,961L1462.2,959.6L1461.8,958.4L1461.4,957.3L1461,956.5L1459.9,956.9L1460.1,957.7L1460.4,958.8L1460.7,960.1L1461.2,961.6L1461.7,963.1L1462.2,964.7L1462.9,966.2L1463.5,967.7L1464.1,969.3L1464.8,970.9L1465.6,972.7L1466.6,974.5L1467.9,976.3L1469.6,978.2L1471.7,980.2L1474.1,982.1L1476.8,984L1479.6,986L1482.3,988L1485,990.1L1487.4,992.2L1489.8,994.7L1492.4,997.6L1494.9,1000.6L1497.3,1003.6L1499.5,1006.4L1501.4,1008.8L1502.8,1010.5Z" fill="#f1c962"/>
<path d="M1470.8,976L1470.1,976L1469.3,975.9L1468.3,975.8L1467.1,975.6L1465.9,975.5L1464.6,975.3L1463.3,975.1L1461.9,975L1460.4,974.8L1459,974.6L1457.6,974.5L1456.2,974.4L1454.9,974.2L1453.7,974.1L1452.6,974.1L1451.5,974L1450.4,974L1449.3,974L1448.2,974L1447.1,974L1446.1,974L1445.1,974.1L1444.1,974.1L1443.1,974.1L1442.2,974.2L1441.4,974.2L1440.7,974.3L1440,974.3L1439.4,974.3L1438.9,974.4L1438.9,975.4L1439.4,975.4L1440,975.4L1440.7,975.4L1441.4,975.4L1442.3,975.4L1443.2,975.4L1444.1,975.4L1445.1,975.4L1446.1,975.4L1447.1,975.4L1448.2,975.4L1449.3,975.5L1450.3,975.5L1451.4,975.6L1452.4,975.7L1453.5,975.8L1454.8,975.9L1456,976.1L1457.4,976.2L1458.8,976.4L1460.2,976.6L1461.6,976.8L1463,977L1464.3,977.3L1465.6,977.5L1466.9,977.6L1468,977.8L1469,978L1469.8,978.1L1470.5,978.2Z" fill="#f1c962"/>
<path d="M1479.3,984.8L1478.5,985.1L1477.6,985.4L1476.4,985.8L1475.1,986.2L1473.7,986.7L1472.2,987.2L1470.6,987.7L1468.9,988.3L1467.3,989L1465.7,989.7L1464,990.5L1462.3,991.5L1460.6,992.5L1458.8,993.6L1457,994.7L1455.2,995.8L1453.3,996.8L1451.5,997.7L1449.6,998.5L1447.8,999L1445.8,999.4L1443.7,999.6L1441.4,999.8L1439,999.8L1436.7,999.7L1434.4,999.6L1432.3,999.5L1430.4,999.4L1428.8,999.3L1427.6,999.3L1427.5,1000.3L1428.7,1000.4L1430.3,1000.5L1432.2,1000.7L1434.3,1000.9L1436.6,1001L1439,1001.2L1441.4,1001.2L1443.8,1001.2L1446,1001L1448.2,1000.6L1450.2,1000.1L1452.2,999.3L1454.1,998.4L1456.1,997.5L1458,996.4L1459.8,995.3L1461.6,994.3L1463.3,993.3L1465,992.5L1466.6,991.8L1468.1,991.2L1469.8,990.6L1471.4,990.1L1472.9,989.6L1474.4,989.1L1475.9,988.7L1477.2,988.4L1478.3,988.1L1479.4,987.8L1480.2,987.6Z" fill="#f1c962"/>
<path d="M1516.2,1001.4L1515.7,1000L1515.2,998L1514.5,995.6L1513.7,992.9L1512.9,990.3L1512,987.7L1511.1,985.4L1510.2,983.5L1509.2,981.6L1508.2,979.9L1507.1,978.2L1506,976.7L1504.8,975.2L1503.6,973.8L1502.2,972.5L1500.7,971.4L1499.2,970.5L1497.7,969.7L1496.3,968.9L1495.1,968.1L1494.1,967.3L1493.2,966.4L1492.3,965.4L1491.6,964.3L1490.9,963.3L1490.3,962.3L1489.8,961.5L1489.3,960.9L1488.3,961.6L1488.6,962.2L1489,963.1L1489.5,964.1L1490.1,965.2L1490.8,966.5L1491.6,967.7L1492.6,968.8L1493.7,969.9L1495,970.9L1496.3,971.8L1497.7,972.8L1499,973.7L1500.2,974.8L1501.3,975.9L1502.3,977.2L1503.2,978.6L1504.1,980.1L1505,981.7L1505.8,983.4L1506.6,985.1L1507.3,987L1508,989.1L1508.7,991.5L1509.4,994.1L1510,996.7L1510.6,999.2L1511,1001.2L1511.3,1002.7Z" fill="#f1c962"/>
<path d="M1510.4,987L1511.2,985.7L1512.3,983.9L1513.5,981.8L1514.9,979.5L1516.3,977.3L1517.8,975.2L1519.2,973.4L1520.6,971.9L1522.1,970.5L1523.7,969.1L1525.3,967.9L1526.9,966.7L1528.6,965.5L1530.2,964.3L1531.8,963.1L1533.5,961.9L1535.2,960.8L1536.8,959.7L1538.4,958.7L1539.9,958L1541.2,957.4L1542.4,957.2L1543.5,957.2L1544.6,957.3L1545.7,957.6L1546.6,957.9L1547.5,958.2L1548.1,958.3L1548.4,957.4L1547.8,957.2L1547,956.8L1546,956.5L1544.9,956.1L1543.6,955.8L1542.2,955.8L1540.8,956L1539.3,956.5L1537.7,957.3L1536,958.2L1534.2,959.3L1532.5,960.4L1530.8,961.6L1529.1,962.7L1527.4,963.8L1525.7,965L1524,966.1L1522.3,967.4L1520.6,968.7L1519,970.2L1517.4,971.8L1515.8,973.7L1514.2,975.8L1512.7,978.1L1511.2,980.4L1509.9,982.5L1508.8,984.2L1508,985.4Z" fill="#f1c962"/>
<path d="M1519.1,972.9L1519.2,972.7L1519.3,972.5L1519.4,972.2L1519.5,971.9L1519.6,971.5L1519.7,971.2L1519.9,970.8L1520,970.4L1520.2,970L1520.4,969.5L1520.5,969.1L1520.7,968.6L1520.9,968.1L1521,967.7L1521.2,967.2L1521.4,966.7L1521.6,966.2L1521.7,965.8L1521.9,965.3L1522.1,964.8L1522.2,964.4L1522.4,964L1522.5,963.6L1522.7,963.2L1522.8,962.8L1522.9,962.5L1523,962.2L1523.1,961.9L1523.2,961.7L1523.3,961.4L1522.4,961.1L1522.3,961.3L1522.2,961.5L1522,961.8L1521.9,962.1L1521.8,962.4L1521.6,962.8L1521.4,963.1L1521.3,963.5L1521.1,963.9L1520.9,964.4L1520.7,964.8L1520.5,965.3L1520.3,965.7L1520.1,966.2L1519.9,966.7L1519.7,967.1L1519.5,967.6L1519.3,968.1L1519.1,968.5L1518.9,968.9L1518.7,969.4L1518.6,969.8L1518.4,970.2L1518.2,970.6L1518.1,970.9L1517.9,971.2L1517.8,971.5L1517.7,971.8L1517.6,972.1L1517.5,972.3Z" fill="#f1c962"/>
<path d="M1529.2,1011.1L1530.6,1009.9L1532.5,1008.2L1534.9,1006.2L1537.4,1004L1540,1001.6L1542.6,999.2L1544.9,996.9L1547,994.7L1549,992.3L1551.1,989.9L1553,987.4L1554.9,985L1556.6,982.7L1558.3,980.4L1559.8,978.2L1561.1,975.9L1562.2,973.7L1563.3,971.7L1564.4,969.8L1565.5,968.1L1566.7,966.7L1568.2,965.4L1569.9,964.3L1571.8,963.4L1573.7,962.5L1575.4,961.8L1576.9,961.2L1578,960.7L1577.5,959.6L1576.4,959.9L1574.9,960.4L1573.1,960.9L1571.1,961.7L1569,962.5L1567,963.6L1565.1,964.9L1563.6,966.5L1562.2,968.3L1560.9,970.2L1559.6,972.2L1558.3,974.3L1557,976.3L1555.5,978.4L1553.7,980.4L1551.9,982.6L1549.9,984.9L1547.9,987.2L1545.8,989.4L1543.7,991.6L1541.6,993.6L1539.3,995.7L1536.8,997.9L1534.1,1000L1531.5,1002.1L1529.1,1003.9L1527,1005.5L1525.5,1006.7Z" fill="#f1c962"/>
<path d="M1557,980.5L1557.7,980.4L1558.6,980.2L1559.6,980L1560.7,979.8L1561.9,979.5L1563.2,979.3L1564.5,979L1565.9,978.8L1567.3,978.6L1568.7,978.4L1570.1,978.2L1571.4,978L1572.7,978L1573.9,977.9L1575,977.9L1576,978L1577,978.2L1578.1,978.4L1579.1,978.7L1580.2,979L1581.2,979.3L1582.2,979.7L1583.2,980L1584.1,980.4L1585,980.8L1585.8,981.1L1586.6,981.5L1587.3,981.7L1587.9,982L1588.4,982.1L1588.8,981.2L1588.3,981L1587.7,980.7L1587.1,980.4L1586.3,980.1L1585.5,979.7L1584.6,979.3L1583.7,978.9L1582.7,978.4L1581.7,978L1580.6,977.6L1579.5,977.3L1578.4,977L1577.3,976.7L1576.2,976.5L1575.1,976.3L1573.9,976.3L1572.6,976.3L1571.3,976.3L1569.9,976.4L1568.5,976.6L1567.1,976.7L1565.6,976.9L1564.2,977.2L1562.9,977.4L1561.6,977.6L1560.3,977.8L1559.2,978L1558.2,978.1L1557.4,978.2L1556.7,978.3Z" fill="#f1c962"/>
<path d="M1532.4,1020.8L1534.7,1020.3L1537.9,1019.6L1541.7,1018.8L1545.8,1018L1549.9,1017.1L1553.8,1016.4L1557.3,1015.7L1560.2,1015.1L1563,1014.5L1565.6,1013.9L1568,1013.4L1570.3,1013L1572.6,1012.8L1574.8,1012.9L1577,1013.3L1579.2,1013.9L1581.4,1014.8L1583.6,1015.8L1585.9,1016.9L1588.1,1018L1590.4,1019L1592.8,1020L1595.3,1021L1597.8,1022.1L1600.2,1023.1L1602.4,1024L1604.2,1024.8L1605.6,1025.3L1606.1,1024.2L1604.8,1023.5L1603,1022.6L1600.9,1021.6L1598.5,1020.4L1596.1,1019.2L1593.7,1018L1591.4,1016.9L1589.3,1015.8L1587.1,1014.6L1584.9,1013.3L1582.7,1012.1L1580.3,1011L1577.8,1010L1575.2,1009.4L1572.6,1009.2L1570,1009.2L1567.5,1009.4L1564.8,1009.8L1562.2,1010.2L1559.4,1010.7L1556.5,1011.1L1553,1011.6L1549.1,1012.2L1544.9,1012.9L1540.7,1013.6L1536.9,1014.2L1533.7,1014.8L1531.4,1015.1Z" fill="#f1c962"/>
<path d="M1576,1011.9L1576.3,1011.4L1576.7,1010.8L1577.1,1010.1L1577.6,1009.3L1578.1,1008.5L1578.6,1007.6L1579.1,1006.7L1579.7,1005.8L1580.4,1004.9L1581,1004L1581.7,1003.1L1582.4,1002.4L1583.1,1001.7L1583.8,1001.1L1584.5,1000.6L1585.3,1000.2L1586.2,999.8L1587.3,999.5L1588.4,999.3L1589.6,999L1590.8,998.9L1592,998.7L1593.3,998.6L1594.5,998.5L1595.6,998.4L1596.7,998.4L1597.7,998.3L1598.6,998.2L1599.4,998.1L1600,998L1599.9,997.1L1599.3,997.1L1598.6,997.1L1597.7,997.1L1596.7,997.2L1595.6,997.2L1594.4,997.2L1593.2,997.3L1591.9,997.3L1590.6,997.4L1589.4,997.6L1588.1,997.7L1586.9,998L1585.7,998.3L1584.7,998.6L1583.7,999.1L1582.7,999.6L1581.9,1000.3L1581,1001L1580.2,1001.8L1579.4,1002.7L1578.7,1003.6L1578,1004.6L1577.3,1005.5L1576.7,1006.4L1576.2,1007.3L1575.6,1008.1L1575.1,1008.9L1574.7,1009.5L1574.3,1010L1574,1010.4Z" fill="#f1c962"/>
<path d="M1584.9,1000.2L1584.9,1000.1L1585,999.9L1585.1,999.8L1585.2,999.6L1585.3,999.3L1585.4,999.1L1585.5,998.8L1585.6,998.6L1585.8,998.3L1585.9,998L1586,997.7L1586.2,997.4L1586.3,997.1L1586.5,996.8L1586.6,996.5L1586.8,996.2L1586.9,995.9L1587.1,995.6L1587.2,995.3L1587.4,995L1587.5,994.7L1587.6,994.4L1587.7,994.2L1587.9,993.9L1588,993.7L1588.1,993.5L1588.2,993.3L1588.3,993.1L1588.3,992.9L1588.4,992.8L1587.5,992.3L1587.4,992.5L1587.3,992.6L1587.2,992.8L1587.1,993L1587,993.2L1586.8,993.4L1586.7,993.6L1586.6,993.9L1586.4,994.1L1586.2,994.4L1586.1,994.7L1585.9,995L1585.7,995.3L1585.6,995.6L1585.4,995.9L1585.2,996.2L1585,996.5L1584.9,996.7L1584.7,997L1584.5,997.3L1584.4,997.6L1584.2,997.8L1584.1,998.1L1583.9,998.3L1583.8,998.6L1583.7,998.8L1583.6,999L1583.5,999.1L1583.4,999.3L1583.3,999.4Z" fill="#f1c962"/>
<path d="M1496.9,1020.9L1494.9,1021.7L1492.1,1022.8L1488.8,1024L1485.2,1025.4L1481.5,1026.8L1477.9,1028.2L1474.5,1029.4L1471.2,1030.5L1468,1031.7L1464.8,1032.8L1461.6,1033.9L1458.5,1035L1455.3,1035.9L1452.2,1036.7L1449,1037.3L1445.7,1037.9L1442.4,1038.3L1439.1,1038.7L1435.9,1039L1432.7,1039.2L1429.8,1039.5L1426.8,1039.7L1423.8,1039.8L1420.8,1039.9L1418,1039.9L1415.4,1040L1413.3,1040L1411.7,1040.1L1411.7,1041.3L1413.3,1041.4L1415.4,1041.5L1417.9,1041.6L1420.8,1041.7L1423.8,1041.8L1426.9,1041.9L1429.9,1041.8L1432.9,1041.7L1436.1,1041.6L1439.3,1041.5L1442.7,1041.3L1446.1,1041L1449.5,1040.6L1452.8,1040.1L1456.2,1039.4L1459.5,1038.6L1462.8,1037.8L1466.1,1036.8L1469.4,1035.8L1472.7,1034.8L1475.9,1033.8L1479.4,1032.7L1483.2,1031.5L1487,1030.3L1490.6,1029L1494,1027.9L1496.8,1027L1498.8,1026.4Z" fill="#f1c962"/>
<path d="M1451.7,1037.4L1451.2,1037.9L1450.6,1038.4L1449.9,1039L1449.1,1039.7L1448.3,1040.4L1447.3,1041.2L1446.4,1042L1445.4,1042.9L1444.3,1043.8L1443.3,1044.7L1442.3,1045.6L1441.2,1046.5L1440.2,1047.4L1439.2,1048.2L1438.3,1049.1L1437.4,1049.9L1436.4,1050.8L1435.4,1051.8L1434.4,1052.8L1433.3,1053.8L1432.3,1054.8L1431.3,1055.8L1430.3,1056.8L1429.3,1057.7L1428.4,1058.6L1427.5,1059.5L1426.7,1060.3L1426,1061L1425.4,1061.6L1424.9,1062.1L1425.6,1062.8L1426.2,1062.3L1426.8,1061.8L1427.5,1061.1L1428.3,1060.4L1429.2,1059.5L1430.2,1058.7L1431.2,1057.8L1432.2,1056.8L1433.3,1055.8L1434.4,1054.9L1435.4,1053.9L1436.5,1053L1437.5,1052.1L1438.5,1051.2L1439.5,1050.4L1440.4,1049.6L1441.4,1048.8L1442.4,1047.9L1443.5,1047.1L1444.6,1046.2L1445.6,1045.3L1446.7,1044.5L1447.7,1043.7L1448.7,1042.9L1449.7,1042.1L1450.6,1041.5L1451.4,1040.8L1452.1,1040.2L1452.8,1039.8L1453.3,1039.3Z" fill="#f1c962"/>
<path d="M1475.3,1030.1L1474.2,1030.1L1472.8,1030L1471.2,1029.9L1469.3,1029.8L1467.4,1029.7L1465.3,1029.6L1463.2,1029.3L1461.2,1029.1L1459.2,1028.7L1457.4,1028.2L1455.6,1027.6L1453.8,1026.9L1451.9,1026.1L1450.1,1025.2L1448.2,1024.3L1446.4,1023.3L1444.5,1022.3L1442.7,1021.3L1441,1020.4L1439.3,1019.5L1437.6,1018.7L1435.8,1017.8L1434.1,1016.9L1432.4,1016L1430.7,1015.1L1429.1,1014.3L1427.7,1013.5L1426.4,1012.9L1425.3,1012.3L1424.4,1011.9L1423.9,1012.7L1424.8,1013.2L1425.8,1013.9L1427.1,1014.6L1428.5,1015.4L1430.1,1016.3L1431.7,1017.2L1433.4,1018.2L1435.1,1019.1L1436.8,1020.1L1438.5,1021L1440.2,1021.9L1441.9,1022.9L1443.6,1023.9L1445.4,1024.9L1447.3,1026L1449.2,1027L1451,1028L1452.9,1028.9L1454.8,1029.7L1456.7,1030.4L1458.7,1031L1460.8,1031.4L1462.9,1031.8L1465,1032.1L1467.1,1032.3L1469.1,1032.5L1471,1032.6L1472.6,1032.8L1474,1032.9L1475.1,1033Z" fill="#f1c962"/>
<path d="M1502.8,1033.9L1501.4,1035.3L1499.4,1037.1L1497.1,1039.2L1494.6,1041.6L1492,1043.9L1489.6,1046L1487.4,1047.9L1485.4,1049.5L1483.5,1051.1L1481.6,1052.5L1479.8,1053.9L1478,1055.1L1476.2,1056.2L1474.4,1057.2L1472.6,1058.1L1470.9,1059L1469.1,1059.7L1467.4,1060.3L1465.6,1060.8L1463.7,1061.1L1461.6,1061.3L1459.2,1061.2L1456.4,1060.8L1453.4,1060.3L1450.4,1059.7L1447.6,1059L1445.3,1058.5L1443.6,1058.2L1443.3,1059.4L1444.9,1059.9L1447.2,1060.5L1450,1061.3L1453,1062.1L1456,1062.8L1458.9,1063.3L1461.6,1063.6L1463.9,1063.6L1466,1063.4L1468.1,1063L1470.1,1062.5L1472,1061.9L1474,1061.2L1475.9,1060.4L1478,1059.4L1480,1058.4L1482,1057.2L1484,1055.9L1486,1054.5L1488.1,1053.1L1490.2,1051.6L1492.6,1049.8L1495.2,1047.7L1498,1045.4L1500.6,1043.2L1503,1041.2L1505.1,1039.5L1506.6,1038.3Z" fill="#f1c962"/>
<path d="M1474.1,1058.1L1473.9,1058.6L1473.6,1059.1L1473.2,1059.7L1472.8,1060.4L1472.3,1061.2L1471.8,1062L1471.3,1062.9L1470.8,1063.8L1470.2,1064.7L1469.7,1065.6L1469.2,1066.5L1468.7,1067.3L1468.3,1068.2L1467.9,1069L1467.6,1069.8L1467.3,1070.5L1467.1,1071.3L1466.8,1072.1L1466.6,1072.9L1466.5,1073.6L1466.3,1074.4L1466.2,1075.1L1466.1,1075.8L1466,1076.5L1465.9,1077.2L1465.8,1077.8L1465.8,1078.3L1465.7,1078.8L1465.7,1079.2L1465.6,1079.6L1466.6,1079.8L1466.7,1079.4L1466.8,1079L1466.9,1078.5L1467,1078L1467.2,1077.4L1467.3,1076.7L1467.4,1076.1L1467.6,1075.4L1467.8,1074.7L1467.9,1074L1468.1,1073.3L1468.4,1072.5L1468.6,1071.8L1468.9,1071.2L1469.2,1070.5L1469.5,1069.8L1469.9,1069.1L1470.4,1068.3L1470.9,1067.4L1471.4,1066.6L1472,1065.7L1472.5,1064.9L1473.1,1064L1473.7,1063.2L1474.2,1062.4L1474.7,1061.7L1475.2,1061L1475.6,1060.4L1476,1059.9L1476.3,1059.5Z" fill="#f1c962"/>
<path d="M1493.3,1006.6C1496.4,1003.8 1500.9,1004.4 1504.7,1003.2C1508.5,1002.1 1512.2,999.6 1516,999.8C1519.8,1000 1523.6,1002.5 1527.4,1004.4C1531.1,1006.2 1536.4,1008.1 1538.7,1011.2C1541,1014.2 1541,1018.3 1541,1022.5C1541,1026.7 1541,1032.9 1538.7,1036.1C1536.4,1039.3 1531.9,1041 1527.4,1041.8C1522.8,1042.5 1516.4,1041.2 1511.5,1040.7C1506.6,1040.1 1501.7,1039.9 1497.9,1038.4C1494.1,1036.9 1490.7,1034.6 1488.8,1031.6C1486.9,1028.6 1485.8,1024.4 1486.5,1020.2C1487.3,1016.1 1490.3,1009.5 1493.3,1006.6Z" fill="#f1c962"/>
<ellipse cx="1516" cy="1021.4" rx="12.5" ry="10" fill="#e2b340"/><ellipse cx="1516" cy="1022.4" rx="3.4" ry="2.8" fill="#b4841f"/>
<rect x="1678.4" y="678.2" width="41.6" height="38.8" fill="none" stroke="#1b1a22" stroke-width="3.8" stroke-dasharray="4.6,4.05" stroke-dashoffset="2.3"/>
<path d="M1678.4,717L1423,925.4" stroke="#1b1a22" stroke-width="4" stroke-dasharray="8.8,7" fill="none"/>
<path d="M1720,713.5L1953,925.4" stroke="#1b1a22" stroke-width="4" stroke-dasharray="8.8,7" fill="none"/>
<g opacity="0.78"><g transform="translate(335.5,808.8) rotate(0)"><path d="M-77,-0L-70.6,-1.8L-64.2,-4.2L-57.8,-7.4L-51.3,-11L-44.9,-14.9L-38.5,-18.9L-32.1,-22.7L-25.7,-26.2L-19.2,-29L-12.8,-31.2L-6.4,-32.5L0,-33L6.4,-32.5L12.8,-31.2L19.2,-29L25.7,-26.2L32.1,-22.7L38.5,-18.9L44.9,-14.9L51.3,-11L57.8,-7.4L64.2,-4.2L70.6,-1.8L77,-0L70.6,1.8L64.2,4.2L57.8,7.4L51.3,11L44.9,14.9L38.5,18.9L32.1,22.7L25.7,26.2L19.2,29L12.8,31.2L6.4,32.5L0,33L-6.4,32.5L-12.8,31.2L-19.2,29L-25.7,26.2L-32.1,22.7L-38.5,18.9L-44.9,14.9L-51.3,11L-57.8,7.4L-64.2,4.2L-70.6,1.8Z" fill="#d57a7d" stroke="#9c343c" stroke-width="1.5" stroke-linejoin="round"/><ellipse cx="-1" cy="-1.5" rx="26.9" ry="19.2" fill="#c25458" stroke="#b2474e" stroke-width="1.05"/></g></g>
<g opacity="0.78"><g transform="translate(358.0,851.3) rotate(0)"><path d="M-77.2,-0L-70.8,-1.8L-64.4,-4.2L-57.9,-7.4L-51.5,-11L-45.1,-14.9L-38.6,-18.9L-32.2,-22.7L-25.8,-26.2L-19.3,-29L-12.9,-31.2L-6.4,-32.5L0,-33L6.4,-32.5L12.9,-31.2L19.3,-29L25.7,-26.2L32.2,-22.7L38.6,-18.9L45.1,-14.9L51.5,-11L57.9,-7.4L64.4,-4.2L70.8,-1.8L77.2,-0L70.8,1.8L64.4,4.2L57.9,7.4L51.5,11L45.1,14.9L38.6,18.9L32.2,22.7L25.7,26.2L19.3,29L12.9,31.2L6.4,32.5L0,33L-6.4,32.5L-12.9,31.2L-19.3,29L-25.8,26.2L-32.2,22.7L-38.6,18.9L-45.1,14.9L-51.5,11L-57.9,7.4L-64.4,4.2L-70.8,1.8Z" fill="#d57a7d" stroke="#9c343c" stroke-width="1.5" stroke-linejoin="round"/><ellipse cx="-1.5" cy="-1.5" rx="27.0" ry="19.3" fill="#c25458" stroke="#b2474e" stroke-width="1.05"/></g></g>
<path d="M607.1,734.3V899.5A27.149999999999977,13.4 0 0 0 661.4,899.5V734.3A27.149999999999977,13.4 0 0 1 607.1,734.3Z" fill="url(#cylg)" stroke="#d4625c" stroke-width="1"/>
<g clip-path="url(#cylc)">
<rect x="606.8" y="733.9" width="1.0" height="171.2" fill="#f9c3b6"/>
<rect x="607.1" y="752.8" width="0.9" height="34.0" fill="#d9504c"/>
<rect x="607.1" y="800.8" width="0.9" height="56.0" fill="#d9504c"/>
<rect x="607.1" y="870.8" width="0.9" height="35.0" fill="#d9504c"/>
<rect x="608.3" y="737.1" width="1.1" height="171.2" fill="#f9c3b6"/>
<rect x="608.6" y="754.4" width="0.9" height="34.0" fill="#d9504c"/>
<rect x="608.6" y="802.4" width="0.9" height="56.0" fill="#d9504c"/>
<rect x="608.6" y="872.4" width="0.9" height="35.0" fill="#d9504c"/>
<rect x="611.0" y="739.9" width="1.8" height="171.2" fill="#f9c3b6"/>
<rect x="611.5" y="755.8" width="0.9" height="34.0" fill="#d9504c"/>
<rect x="611.5" y="803.8" width="0.9" height="56.0" fill="#d9504c"/>
<rect x="611.5" y="873.8" width="0.9" height="35.0" fill="#d9504c"/>
<rect x="615.0" y="742.3" width="2.4" height="171.2" fill="#f9c3b6"/>
<rect x="615.7" y="757.0" width="1.1" height="34.0" fill="#d9504c"/>
<rect x="615.7" y="805.0" width="1.1" height="56.0" fill="#d9504c"/>
<rect x="615.7" y="875.0" width="1.1" height="35.0" fill="#d9504c"/>
<rect x="620.2" y="744.2" width="2.8" height="171.2" fill="#f9c3b6"/>
<rect x="621.0" y="757.9" width="1.2" height="34.0" fill="#d9504c"/>
<rect x="621.0" y="805.9" width="1.2" height="56.0" fill="#d9504c"/>
<rect x="621.0" y="875.9" width="1.2" height="35.0" fill="#d9504c"/>
<rect x="626.2" y="745.3" width="3.1" height="171.2" fill="#f9c3b6"/>
<rect x="627.1" y="758.5" width="1.4" height="34.0" fill="#d9504c"/>
<rect x="627.1" y="806.5" width="1.4" height="56.0" fill="#d9504c"/>
<rect x="627.1" y="876.5" width="1.4" height="35.0" fill="#d9504c"/>
<rect x="632.6" y="745.7" width="3.2" height="171.2" fill="#f9c3b6"/>
<rect x="633.5" y="758.7" width="1.4" height="34.0" fill="#d9504c"/>
<rect x="633.5" y="806.7" width="1.4" height="56.0" fill="#d9504c"/>
<rect x="633.5" y="876.7" width="1.4" height="35.0" fill="#d9504c"/>
<rect x="639.2" y="745.3" width="3.1" height="171.2" fill="#f9c3b6"/>
<rect x="640.1" y="758.5" width="1.4" height="34.0" fill="#d9504c"/>
<rect x="640.1" y="806.5" width="1.4" height="56.0" fill="#d9504c"/>
<rect x="640.1" y="876.5" width="1.4" height="35.0" fill="#d9504c"/>
<rect x="645.5" y="744.2" width="2.8" height="171.2" fill="#f9c3b6"/>
<rect x="646.2" y="757.9" width="1.2" height="34.0" fill="#d9504c"/>
<rect x="646.2" y="805.9" width="1.2" height="56.0" fill="#d9504c"/>
<rect x="646.2" y="875.9" width="1.2" height="35.0" fill="#d9504c"/>
<rect x="651.1" y="742.3" width="2.4" height="171.2" fill="#f9c3b6"/>
<rect x="651.7" y="757.0" width="1.1" height="34.0" fill="#d9504c"/>
<rect x="651.7" y="805.0" width="1.1" height="56.0" fill="#d9504c"/>
<rect x="651.7" y="875.0" width="1.1" height="35.0" fill="#d9504c"/>
<rect x="655.7" y="739.9" width="1.8" height="171.2" fill="#f9c3b6"/>
<rect x="656.2" y="755.8" width="0.9" height="34.0" fill="#d9504c"/>
<rect x="656.2" y="803.8" width="0.9" height="56.0" fill="#d9504c"/>
<rect x="656.2" y="873.8" width="0.9" height="35.0" fill="#d9504c"/>
<rect x="659.1" y="737.1" width="1.1" height="171.2" fill="#f9c3b6"/>
<rect x="659.4" y="754.4" width="0.9" height="34.0" fill="#d9504c"/>
<rect x="659.4" y="802.4" width="0.9" height="56.0" fill="#d9504c"/>
<rect x="659.4" y="872.4" width="0.9" height="35.0" fill="#d9504c"/>
<rect x="660.7" y="733.9" width="1.0" height="171.2" fill="#f9c3b6"/>
<rect x="661.0" y="752.8" width="0.9" height="34.0" fill="#d9504c"/>
<rect x="661.0" y="800.8" width="0.9" height="56.0" fill="#d9504c"/>
<rect x="661.0" y="870.8" width="0.9" height="35.0" fill="#d9504c"/>
<path d="M607.1,787.2L607.9,792.4L610.2,790.6L613.9,795.5L618.8,793.3L624.6,797.5L631,794.5L637.5,797.9L643.9,794.1L649.7,796.7L654.6,792.1L658.3,794L660.6,789L661.4,790.6" fill="none" stroke="#f8cfc4" stroke-width="7" opacity="0.75"/>
<path d="M607.1,787.2L607.9,792.4L610.2,790.6L613.9,795.5L618.8,793.3L624.6,797.5L631,794.5L637.5,797.9L643.9,794.1L649.7,796.7L654.6,792.1L658.3,794L660.6,789L661.4,790.6" fill="none" stroke="#8f8fb8" stroke-width="0.8"/>
<path d="M607.1,858.6L607.9,863.8L610.2,862L613.9,866.9L618.8,864.7L624.6,868.9L631,865.9L637.5,869.3L643.9,865.5L649.7,868.1L654.6,863.5L658.3,865.4L660.6,860.4L661.4,862" fill="none" stroke="#f8cfc4" stroke-width="7" opacity="0.75"/>
<path d="M607.1,858.6L607.9,863.8L610.2,862L613.9,866.9L618.8,864.7L624.6,868.9L631,865.9L637.5,869.3L643.9,865.5L649.7,868.1L654.6,863.5L658.3,865.4L660.6,860.4L661.4,862" fill="none" stroke="#8f8fb8" stroke-width="0.8"/>
</g>
<ellipse cx="634.25" cy="734.3" rx="27.149999999999977" ry="13.4" fill="#f5aa9d" stroke="#d9695f" stroke-width="1"/>
<g fill="#a0668c"><circle cx="621.6" cy="725.0" r="0.75"/><circle cx="625.2" cy="725.0" r="0.75"/><circle cx="628.8" cy="725.0" r="0.75"/><circle cx="632.4" cy="725.0" r="0.75"/><circle cx="636.0" cy="725.0" r="0.75"/><circle cx="639.6" cy="725.0" r="0.75"/><circle cx="643.2" cy="725.0" r="0.75"/><circle cx="646.8" cy="725.0" r="0.75"/><circle cx="616.2" cy="728.1" r="0.75"/><circle cx="619.9" cy="728.1" r="0.75"/><circle cx="623.5" cy="728.1" r="0.75"/><circle cx="627.0" cy="728.1" r="0.75"/><circle cx="630.6" cy="728.1" r="0.75"/><circle cx="634.2" cy="728.1" r="0.75"/><circle cx="637.9" cy="728.1" r="0.75"/><circle cx="641.5" cy="728.1" r="0.75"/><circle cx="645.0" cy="728.1" r="0.75"/><circle cx="648.6" cy="728.1" r="0.75"/><circle cx="652.2" cy="728.1" r="0.75"/><circle cx="610.8" cy="731.2" r="0.75"/><circle cx="614.4" cy="731.2" r="0.75"/><circle cx="618.0" cy="731.2" r="0.75"/><circle cx="621.6" cy="731.2" r="0.75"/><circle cx="625.2" cy="731.2" r="0.75"/><circle cx="628.8" cy="731.2" r="0.75"/><circle cx="632.4" cy="731.2" r="0.75"/><circle cx="636.0" cy="731.2" r="0.75"/><circle cx="639.6" cy="731.2" r="0.75"/><circle cx="643.2" cy="731.2" r="0.75"/><circle cx="646.8" cy="731.2" r="0.75"/><circle cx="650.4" cy="731.2" r="0.75"/><circle cx="654.0" cy="731.2" r="0.75"/><circle cx="657.6" cy="731.2" r="0.75"/><circle cx="612.6" cy="734.3" r="0.75"/><circle cx="616.2" cy="734.3" r="0.75"/><circle cx="619.9" cy="734.3" r="0.75"/><circle cx="623.5" cy="734.3" r="0.75"/><circle cx="627.0" cy="734.3" r="0.75"/><circle cx="630.6" cy="734.3" r="0.75"/><circle cx="634.2" cy="734.3" r="0.75"/><circle cx="637.9" cy="734.3" r="0.75"/><circle cx="641.5" cy="734.3" r="0.75"/><circle cx="645.0" cy="734.3" r="0.75"/><circle cx="648.6" cy="734.3" r="0.75"/><circle cx="652.2" cy="734.3" r="0.75"/><circle cx="655.9" cy="734.3" r="0.75"/><circle cx="610.8" cy="737.4" r="0.75"/><circle cx="614.4" cy="737.4" r="0.75"/><circle cx="618.0" cy="737.4" r="0.75"/><circle cx="621.6" cy="737.4" r="0.75"/><circle cx="625.2" cy="737.4" r="0.75"/><circle cx="628.8" cy="737.4" r="0.75"/><circle cx="632.4" cy="737.4" r="0.75"/><circle cx="636.0" cy="737.4" r="0.75"/><circle cx="639.6" cy="737.4" r="0.75"/><circle cx="643.2" cy="737.4" r="0.75"/><circle cx="646.8" cy="737.4" r="0.75"/><circle cx="650.4" cy="737.4" r="0.75"/><circle cx="654.0" cy="737.4" r="0.75"/><circle cx="657.6" cy="737.4" r="0.75"/><circle cx="616.2" cy="740.5" r="0.75"/><circle cx="619.9" cy="740.5" r="0.75"/><circle cx="623.5" cy="740.5" r="0.75"/><circle cx="627.0" cy="740.5" r="0.75"/><circle cx="630.6" cy="740.5" r="0.75"/><circle cx="634.2" cy="740.5" r="0.75"/><circle cx="637.9" cy="740.5" r="0.75"/><circle cx="641.5" cy="740.5" r="0.75"/><circle cx="645.0" cy="740.5" r="0.75"/><circle cx="648.6" cy="740.5" r="0.75"/><circle cx="652.2" cy="740.5" r="0.75"/><circle cx="621.6" cy="743.6" r="0.75"/><circle cx="625.2" cy="743.6" r="0.75"/><circle cx="628.8" cy="743.6" r="0.75"/><circle cx="632.4" cy="743.6" r="0.75"/><circle cx="636.0" cy="743.6" r="0.75"/><circle cx="639.6" cy="743.6" r="0.75"/><circle cx="643.2" cy="743.6" r="0.75"/><circle cx="646.8" cy="743.6" r="0.75"/></g>
<path d="M661.4,762.3L770,762.3L763.3,795.3L642.1,915.1Z" fill="#fcd5d1" fill-opacity="0.62" stroke="#dc8f8e" stroke-width="0.9" stroke-linejoin="round"/>
<path d="M773.8,727.6L791.6,727.6L797.3,745L775,745Z" fill="#cbc6c6" stroke="#9c9797" stroke-width="0.8"/>
<path d="M787.6,890L798.6,890L803.6,912.3L793.8,913.8Z" fill="#cbc6c6" stroke="#9c9797" stroke-width="0.8"/>
<path d="M778,728L780.5,744" stroke="#aaa4a4" stroke-width="0.8"/>
<path d="M783,728L786,744" stroke="#aaa4a4" stroke-width="0.8"/>
<path d="M788,728L792,744" stroke="#aaa4a4" stroke-width="0.8"/>
<path d="M791.5,892L797,912" stroke="#aaa4a4" stroke-width="0.8"/>
<path d="M794.5,892L800,912" stroke="#aaa4a4" stroke-width="0.8"/>
<path d="M775.2,743.3C774.1,747.3 770.4,758.9 768.5,767.1C766.6,775.3 765,785 764.1,792.4C763.2,799.8 762.9,804.3 763.3,811.7C763.7,819.1 764.7,828.8 766.3,837C767.9,845.2 770.4,853.6 773,860.8C775.6,868 779.4,875 781.9,880.2C784.4,885.4 786.9,890.1 787.9,892.1L798.3,892.1C798.8,889.9 800.3,884.7 801.3,878.7C802.3,872.7 803.2,863.8 804.3,856.3C805.4,848.8 807,842.2 808,834C809,825.8 810.1,815.1 810.2,807.2C810.3,799.3 809.7,793.6 808.7,786.4C807.7,779.2 806.3,771.3 804.3,764.1C802.3,756.9 798,746.8 796.8,743.3Z" fill="url(#skg)" stroke="#8e3d43" stroke-width="1"/>
<g clip-path="url(#skc)">
<path d="M778.3,743.3C777.5,747.3 774.9,758.9 773.6,767.1C772.3,775.3 771.1,785 770.5,792.4C769.9,799.8 769.7,804.3 770,811.7C770.3,819.1 771,828.8 772.3,837C773.5,845.2 775.4,853.6 777.5,860.8C779.5,868 782.7,875 784.7,880.2C786.7,885.4 788.6,890.1 789.4,892.1" fill="none" stroke="#e08a88" stroke-width="2.2" opacity="0.7"/>
<path d="M781.4,743.3C780.9,747.3 779.5,758.9 778.7,767.1C778,775.3 777.2,785 776.8,792.4C776.5,799.8 776.5,804.3 776.7,811.7C776.9,819.1 777.3,828.8 778.2,837C779.1,845.2 780.4,853.6 781.9,860.8C783.5,868 786,875 787.4,880.2C788.9,885.4 790.3,890.1 790.9,892.1" fill="none" stroke="#b9494c" stroke-width="1.2" opacity="0.7"/>
<path d="M784.5,743.3C784.4,747.3 784,758.9 783.8,767.1C783.6,775.3 783.3,785 783.2,792.4C783.1,799.8 783.2,804.3 783.4,811.7C783.6,819.1 783.7,828.8 784.2,837C784.7,845.2 785.4,853.6 786.4,860.8C787.4,868 789.2,875 790.2,880.2C791.2,885.4 792,890.1 792.4,892.1" fill="none" stroke="#e39290" stroke-width="3" opacity="0.55"/>
<path d="M787.5,743.3C787.8,747.3 788.6,758.9 789,767.1C789.3,775.3 789.4,785 789.6,792.4C789.8,799.8 790,804.3 790.1,811.7C790.2,819.1 790,828.8 790.1,837C790.3,845.2 790.4,853.6 790.9,860.8C791.4,868 792.5,875 793,880.2C793.5,885.4 793.7,890.1 793.8,892.1" fill="none" stroke="#b9494c" stroke-width="1.0" opacity="0.7"/>
<path d="M790.6,743.3C791.2,747.3 793.2,758.9 794.1,767.1C795,775.3 795.5,785 796,792.4C796.4,799.8 796.8,804.3 796.8,811.7C796.8,819.1 796.3,828.8 796.1,837C795.8,845.2 795.4,853.6 795.4,860.8C795.3,868 795.8,875 795.8,880.2C795.8,885.4 795.4,890.1 795.3,892.1" fill="none" stroke="#dd8280" stroke-width="2" opacity="0.6"/>
<path d="M793.7,743.3C794.6,747.3 797.7,758.9 799.2,767.1C800.6,775.3 801.6,785 802.3,792.4C803,799.8 803.5,804.3 803.5,811.7C803.5,819.1 802.7,828.8 802,837C801.4,845.2 800.4,853.6 799.8,860.8C799.2,868 799,875 798.5,880.2C798,885.4 797.1,890.1 796.8,892.1" fill="none" stroke="#b3464a" stroke-width="1.2" opacity="0.7"/>
<rect x="770" y="738" width="32" height="15" fill="url(#skf)"/><rect x="782" y="880" width="22" height="16" fill="url(#skf2)"/>
</g>
<path d="M261.6,1077.7C256.5,1071.2 238.5,1050.8 231,1038.6C223.5,1026.4 219.3,1014.5 216.6,1004.6C213.9,994.7 213.9,988.5 214.9,979.1C215.9,969.8 218.4,958.4 222.5,948.5C226.6,938.6 232.8,928.2 239.5,919.5C246.2,910.8 258.7,900.3 262.5,896.5" fill="none" stroke="#1e1e1e" stroke-width="4.8"/>
<path d="M256.5,891.5L276.1,885.9L268.5,905.1Z" fill="#1e1e1e" stroke="#1e1e1e" stroke-width="1" stroke-linejoin="round"/>
<g transform="translate(306.0,1138.2) rotate(0)"><path d="M-76.8,-0L-70.4,-1.7L-64,-4.1L-57.6,-7.3L-51.2,-10.9L-44.8,-14.7L-38.4,-18.6L-32,-22.4L-25.6,-25.8L-19.2,-28.6L-12.8,-30.7L-6.4,-32.1L0,-32.5L6.4,-32.1L12.8,-30.7L19.2,-28.6L25.6,-25.8L32,-22.4L38.4,-18.6L44.8,-14.7L51.2,-10.9L57.6,-7.3L64,-4.1L70.4,-1.7L76.8,-0L70.4,1.7L64,4.1L57.6,7.3L51.2,10.9L44.8,14.7L38.4,18.6L32,22.4L25.6,25.8L19.2,28.6L12.8,30.7L6.4,32.1L0,32.5L-6.4,32.1L-12.8,30.7L-19.2,28.6L-25.6,25.8L-32,22.4L-38.4,18.6L-44.8,14.7L-51.2,10.9L-57.6,7.3L-64,4.1L-70.4,1.7Z" fill="#fbc388" stroke="#94642b" stroke-width="1.7" stroke-linejoin="round"/><ellipse cx="-1" cy="-0.8" rx="27.0" ry="19.2" fill="#f3a868" stroke="#d98a4a" stroke-width="1.19"/></g>
<g transform="translate(261.0,1185.3) rotate(0)"><path d="M-77.2,-0L-70.8,-1.7L-64.4,-4.1L-57.9,-7.3L-51.5,-10.9L-45.1,-14.7L-38.6,-18.6L-32.2,-22.4L-25.8,-25.8L-19.3,-28.6L-12.9,-30.7L-6.4,-32.1L0,-32.5L6.4,-32.1L12.9,-30.7L19.3,-28.6L25.7,-25.8L32.2,-22.4L38.6,-18.6L45.1,-14.7L51.5,-10.9L57.9,-7.3L64.4,-4.1L70.8,-1.7L77.2,-0L70.8,1.7L64.4,4.1L57.9,7.3L51.5,10.9L45.1,14.7L38.6,18.6L32.2,22.4L25.7,25.8L19.3,28.6L12.9,30.7L6.4,32.1L0,32.5L-6.4,32.1L-12.9,30.7L-19.3,28.6L-25.8,25.8L-32.2,22.4L-38.6,18.6L-45.1,14.7L-51.5,10.9L-57.9,7.3L-64.4,4.1L-70.8,1.7Z" fill="#fbc388" stroke="#94642b" stroke-width="1.7" stroke-linejoin="round"/><ellipse cx="-0.7" cy="-0.6" rx="27.2" ry="19.3" fill="#f3a868" stroke="#d98a4a" stroke-width="1.19"/></g>
<g transform="translate(323.9,1235.0) rotate(0)"><path d="M-78.6,-0L-72,-1.8L-65.5,-4.2L-58.9,-7.4L-52.4,-11.1L-45.8,-15.1L-39.3,-19.1L-32.7,-22.9L-26.2,-26.4L-19.6,-29.3L-13.1,-31.4L-6.6,-32.8L0,-33.2L6.5,-32.8L13.1,-31.4L19.6,-29.3L26.2,-26.4L32.8,-22.9L39.3,-19.1L45.8,-15.1L52.4,-11.1L58.9,-7.4L65.5,-4.2L72,-1.8L78.6,-0L72,1.8L65.5,4.2L58.9,7.4L52.4,11.1L45.8,15.1L39.3,19.1L32.8,22.9L26.2,26.4L19.6,29.3L13.1,31.4L6.5,32.8L0,33.2L-6.6,32.8L-13.1,31.4L-19.6,29.3L-26.2,26.4L-32.7,22.9L-39.3,19.1L-45.8,15.1L-52.4,11.1L-58.9,7.4L-65.5,4.2L-72,1.8Z" fill="#fbc388" stroke="#94642b" stroke-width="1.7" stroke-linejoin="round"/><ellipse cx="-1.2" cy="-0.5" rx="27.7" ry="19.6" fill="#f3a868" stroke="#d98a4a" stroke-width="1.19"/></g>
<path d="M1112.3,869.2L1130.3,877.3L1137.9,879.9L1150.2,882.8L1193.8,890.1L1206.2,894.8L1213.4,894.3L1223.3,891.9L1240.6,884.7L1248.2,880.5L1258.6,871.3L1264.5,862.8L1266.9,856.3L1267.7,852.5L1268.0,840.1L1266.9,832.6L1264.9,825.9L1259.0,816.0L1260.4,811.3L1259.7,810.9L1255.4,812.0L1246.8,815.1L1227.2,829.5L1194.9,848.9L1179.5,856.6L1170.6,859.2L1165.1,859.9L1146.8,860.5L1140.4,861.2L1112.7,868.4Z" fill="#f9d9d8"/>
<path d="M1083.6,844.0L1083.6,848.2L1084.5,850.5L1087.7,854.8L1089.8,856.6L1095.6,859.0L1115.4,863.5L1111.3,865.3L1110.9,866.1L1111.7,866.4L1140.0,859.1L1170.0,857.1L1182.3,852.9L1193.8,847.0L1226.0,827.6L1245.8,813.2L1261.8,808.0L1261.0,801.2L1260.5,800.7L1257.3,800.4L1246.5,800.2L1238.1,801.8L1234.2,803.2L1228.2,807.4L1213.4,827.8L1210.5,830.2L1208.5,830.7L1205.8,830.3L1201.6,826.9L1199.7,824.3L1187.5,796.9L1183.7,789.7L1181.6,786.9L1176.3,783.6L1155.9,775.1L1155.3,773.6L1156.8,773.1L1177.0,781.5L1183.2,785.4L1187.7,792.1L1201.6,823.2L1204.9,827.0L1208.3,828.5L1209.9,828.0L1211.9,826.2L1224.1,808.9L1229.8,803.1L1233.5,801.2L1241.8,798.7L1251.5,797.8L1261.1,798.3L1263.0,790.1L1262.8,784.3L1260.8,770.8L1257.7,761.0L1252.8,753.7L1248.1,749.3L1240.0,744.0L1234.2,741.4L1220.6,739.2L1194.2,737.7L1187.8,743.0L1170.9,753.0L1134.9,777.9L1114.5,795.5L1105.5,804.7L1097.3,815.4L1091.2,826.6Z" fill="#f9d9d8"/>
<path d="M1072.6,808.0L1074.6,817.3L1077.0,822.8L1081.8,828.5L1086.5,831.0L1093.8,817.0L1099.4,808.7L1109.4,797.3L1121.1,786.4L1137.6,773.3L1169.7,751.1L1186.6,741.2L1190.8,738.0L1190.9,737.2L1167.9,733.9L1156.4,734.6L1143.6,737.7L1134.3,740.8L1122.7,745.7L1115.9,749.5L1105.1,757.0L1099.0,762.1L1086.6,775.4L1081.7,781.7L1077.7,788.8L1074.6,795.9Z" fill="#f9d9d8"/>
<path d="M1167.8,821.5L1167.8,820.5L1167.2,819.7L1162.7,817.0L1161.5,816.9L1154.9,819.2L1153.9,820.7L1155.2,831.1L1163.2,832.0ZM1248.6,803.1L1248.0,809.7L1249.8,810.3L1257.1,808.1L1258.1,807.4L1258.2,806.3L1257.4,805.4L1250.8,802.0L1249.4,802.0ZM1165.0,831.0L1165.1,832.4L1166.2,833.1L1176.2,834.4L1177.3,834.2L1179.4,826.6L1178.9,825.1L1172.5,820.4L1170.1,820.4L1169.0,821.3ZM1105.9,806.5L1103.7,809.1L1103.8,820.2L1113.0,823.3L1114.3,823.0L1118.2,819.9L1118.7,818.2L1115.2,808.9L1114.2,808.0L1107.3,806.1ZM1187.8,855.8L1187.1,857.0L1187.0,862.7L1187.5,863.8L1193.8,869.1L1194.9,868.7L1202.7,860.8L1201.2,857.0L1200.1,856.2L1190.6,854.4ZM1193.4,838.2L1193.7,839.2L1194.7,839.8L1199.3,840.0L1207.0,834.2L1207.6,833.3L1207.4,832.2L1202.7,829.5L1197.8,823.8L1195.5,824.1L1194.4,825.5ZM1167.7,745.2L1167.7,746.4L1168.7,747.2L1172.9,747.8L1182.0,742.7L1182.6,740.9L1181.6,737.8L1180.4,736.8L1171.7,735.8ZM1117.5,773.0L1117.3,771.7L1113.8,766.9L1112.4,766.2L1108.7,766.6L1107.6,767.3L1101.5,776.5L1101.4,778.0L1102.8,779.7L1107.0,781.0L1108.3,780.8L1116.4,775.8ZM1076.6,800.2L1075.3,800.3L1074.5,801.4L1073.7,807.8L1075.3,814.1L1076.4,814.4L1086.2,813.3L1087.4,812.4L1088.4,808.8L1087.0,805.4L1086.2,804.6ZM1151.0,869.4L1150.8,871.0L1154.3,877.2L1163.4,875.0L1164.5,873.6L1164.9,862.6L1164.4,861.5L1163.3,861.1L1158.8,861.2L1157.7,861.7ZM1165.5,843.2L1166.5,844.5L1174.3,846.9L1175.4,846.8L1176.1,846.0L1178.8,838.9L1178.7,837.6L1176.8,835.5L1166.6,834.2L1165.4,834.6L1164.9,835.8ZM1165.6,771.8L1161.8,771.4L1161.1,772.2L1161.2,773.3L1162.0,774.1L1164.8,775.3L1165.8,775.3L1166.7,774.6L1166.7,773.0ZM1155.6,776.2L1153.8,776.7L1153.5,777.6L1153.9,782.6L1154.8,783.9L1160.5,786.1L1161.9,786.0L1166.7,782.3L1166.6,781.2L1165.9,780.5ZM1232.3,841.3L1231.0,841.6L1227.6,844.4L1227.0,845.5L1226.9,849.3L1227.5,850.5L1231.9,854.0L1233.1,854.3L1239.3,852.8L1240.4,851.8L1242.1,845.4L1242.0,844.3L1241.1,843.6ZM1130.8,774.8L1131.7,775.5L1132.9,775.2L1142.7,768.5L1143.3,766.7L1141.8,764.0L1139.5,763.3L1130.1,766.0L1129.2,766.8L1128.1,769.0L1128.1,770.5ZM1224.9,804.8L1226.4,804.6L1229.2,802.2L1229.9,800.7L1229.0,794.3L1228.4,793.3L1227.3,793.0L1215.5,794.1L1214.5,794.7L1214.2,795.9L1215.1,800.4L1216.0,801.5ZM1230.7,799.1L1231.5,800.2L1232.8,800.2L1237.2,798.6L1245.6,797.0L1246.6,796.4L1246.9,795.4L1243.4,791.4L1242.3,791.0L1231.2,791.4L1230.2,791.9L1229.8,793.1ZM1218.7,774.6L1218.1,775.7L1218.0,780.1L1227.5,783.7L1229.3,783.0L1230.9,780.3L1230.9,778.9L1227.0,771.4L1225.5,770.5L1224.2,770.7ZM1255.4,859.8L1256.5,860.3L1263.4,860.3L1264.8,859.4L1266.6,852.4L1266.5,849.2L1260.1,847.6L1256.1,849.2L1253.1,856.0L1253.4,857.5ZM1224.8,768.7L1225.8,769.5L1227.5,769.4L1233.8,764.9L1231.4,757.1L1230.5,756.3L1229.3,756.3L1222.5,759.8L1221.8,760.6L1221.8,761.7ZM1185.6,811.4L1187.2,810.7L1189.9,805.9L1190.0,804.6L1188.8,802.1L1185.6,798.8L1175.2,804.1L1174.5,804.9L1175.9,809.3L1177.1,810.2ZM1109.5,858.9L1110.8,859.4L1115.2,858.9L1119.0,856.0L1119.5,854.8L1119.4,850.0L1118.4,848.7L1106.7,844.1L1105.2,844.3L1101.6,847.3L1101.1,848.3L1101.4,849.4ZM1098.3,847.5L1100.0,847.3L1104.9,843.2L1106.4,837.5L1105.8,836.0L1098.1,830.7L1092.4,834.9L1091.9,836.4L1094.4,844.9ZM1126.9,872.4L1126.6,874.2L1130.7,876.3L1135.5,878.0L1136.7,877.8L1137.4,876.7L1137.9,870.7L1137.5,869.6L1136.5,869.1L1131.4,868.7L1130.3,869.1ZM1108.4,803.1L1108.0,804.1L1109.1,805.6L1114.4,807.0L1115.8,806.7L1122.6,800.5L1123.1,799.6L1122.8,798.6L1120.0,794.2L1118.9,793.6L1117.7,793.9ZM1246.9,834.7L1246.8,833.5L1245.7,832.8L1235.3,831.2L1234.2,831.4L1233.6,832.4L1232.3,838.8L1232.5,839.9L1233.4,840.5L1242.5,842.9L1243.6,842.8L1245.0,841.5ZM1089.9,832.0L1089.9,833.3L1090.9,834.1L1092.2,833.7L1097.0,829.8L1097.6,828.7L1097.7,825.4L1096.9,824.0L1094.6,823.2L1093.7,824.0ZM1113.2,831.1L1113.9,832.6L1121.9,837.3L1123.1,837.5L1124.0,836.7L1127.4,829.0L1127.3,827.6L1123.4,821.3L1120.5,820.1L1119.2,820.4L1114.2,824.9ZM1177.7,874.9L1178.2,876.4L1183.6,880.6L1193.1,872.6L1193.5,871.0L1187.3,865.0L1185.5,864.8L1179.9,868.2L1179.2,869.1ZM1104.1,759.2L1103.5,760.2L1103.9,761.4L1107.4,765.2L1108.7,765.6L1112.3,765.3L1113.6,764.4L1115.8,758.5L1111.1,754.4ZM1247.9,858.3L1246.8,859.1L1243.3,866.0L1243.2,867.2L1245.1,871.3L1246.2,871.4L1253.3,869.4L1254.4,868.1L1255.0,861.6L1254.6,860.5L1252.6,858.2L1251.2,857.7ZM1128.2,766.6L1128.0,765.1L1122.2,757.2L1117.7,758.5L1116.9,759.3L1114.5,764.8L1114.6,766.3L1118.6,771.3L1126.1,769.6ZM1219.0,876.0L1217.3,875.0L1215.6,875.3L1214.4,876.2L1210.6,886.1L1217.1,891.8L1218.4,892.1L1223.0,890.8L1224.0,890.0L1224.0,888.8ZM1155.1,744.1L1149.5,746.3L1149.3,747.4L1151.4,756.2L1158.1,757.3L1159.2,757.0L1163.0,754.0L1164.2,749.5L1163.4,747.9L1156.2,744.2ZM1119.7,867.6L1118.8,868.2L1118.8,870.3L1119.7,871.4L1124.2,873.2L1129.6,868.0L1129.0,866.2L1127.3,865.4ZM1116.6,860.4L1117.7,863.0L1118.9,863.2L1124.7,861.6L1125.6,860.7L1125.6,859.4L1124.6,858.2L1121.0,856.7L1119.4,856.9L1117.1,859.0ZM1181.4,781.3L1181.9,783.0L1183.9,784.6L1186.8,788.4L1187.6,789.1L1188.7,789.1L1196.1,786.2L1197.0,785.2L1198.7,777.2L1197.9,776.5L1189.6,773.6L1184.0,775.3L1183.0,776.3ZM1247.8,761.0L1246.3,761.7L1243.2,767.0L1243.0,768.2L1244.7,773.7L1245.9,774.8L1248.0,775.1L1258.3,769.2L1258.9,767.6L1257.4,763.0L1256.2,762.1ZM1186.4,747.9L1185.4,747.1L1184.1,747.3L1180.1,750.3L1179.5,751.4L1178.9,758.9L1179.3,760.1L1180.4,760.5L1188.7,760.4L1190.6,759.2L1190.8,757.5ZM1139.0,869.7L1138.6,878.6L1139.4,879.2L1150.8,881.7L1151.8,881.6L1152.5,880.8L1153.1,878.8L1153.0,877.6L1149.6,871.0L1142.2,867.7L1140.8,867.8ZM1264.2,832.4L1258.5,833.9L1258.2,835.0L1260.2,846.3L1265.2,847.5L1266.4,847.2L1267.0,844.0L1266.0,833.6L1265.3,832.7ZM1217.4,838.5L1216.2,838.3L1215.2,839.0L1210.8,847.9L1218.0,855.0L1225.2,850.5L1225.9,849.3L1226.0,845.6L1225.4,844.4ZM1142.9,853.1L1149.5,839.8L1149.1,837.4L1148.0,836.1L1142.8,834.8L1141.3,835.3L1134.3,843.7L1139.0,852.3L1140.8,853.5ZM1189.6,789.8L1188.7,790.7L1188.8,791.9L1194.1,803.0L1194.6,803.7L1196.6,803.9L1197.9,803.0L1202.0,794.6L1201.9,793.0L1196.9,787.3ZM1178.6,834.5L1179.5,837.0L1180.7,837.8L1190.8,838.7L1191.9,838.3L1192.5,837.3L1193.2,824.5L1189.8,822.7L1188.6,822.6L1181.4,825.5L1180.5,826.6ZM1214.2,828.5L1210.5,831.9L1210.5,832.9L1211.5,833.9L1213.1,833.9L1221.2,829.2L1222.6,826.9L1219.9,823.7L1218.7,823.2L1217.6,823.9ZM1207.3,826.1L1208.8,827.1L1209.7,826.7L1211.5,824.9L1211.7,823.6L1210.9,822.6L1209.6,822.6L1207.8,823.6L1207.1,824.4ZM1086.8,848.4L1085.8,849.3L1085.9,850.6L1088.4,854.0L1090.6,855.8L1093.1,857.0L1094.2,857.0L1095.0,856.2L1097.6,849.8L1097.6,848.7L1096.9,847.9L1093.5,846.5ZM1202.1,820.6L1203.0,822.0L1205.3,823.1L1206.7,823.1L1215.0,818.6L1215.7,817.8L1215.7,816.3L1210.8,807.9L1202.8,809.3ZM1198.2,883.6L1198.9,882.2L1198.3,876.8L1197.8,875.8L1194.3,873.4L1184.7,881.4L1184.3,882.8L1185.2,887.2L1190.3,888.4L1191.3,888.1ZM1198.2,805.4L1196.9,805.0L1195.8,805.7L1195.7,807.1L1198.5,813.6L1199.5,814.5L1200.8,814.2L1201.4,813.1L1201.5,809.5L1201.1,808.3ZM1187.7,811.6L1187.6,812.7L1189.5,820.8L1190.3,821.8L1193.5,823.3L1195.9,823.0L1196.8,822.2L1196.9,820.9L1191.9,809.3L1191.1,808.5L1190.1,808.4ZM1140.9,865.8L1140.4,862.9L1139.1,862.6L1133.7,863.8L1131.3,864.4L1130.3,865.2L1130.3,866.5L1131.8,867.8L1138.0,868.2L1140.2,867.0ZM1242.0,776.9L1243.5,775.6L1243.8,774.2L1242.1,768.7L1241.1,767.7L1235.5,766.0L1234.2,766.2L1228.2,770.6L1228.3,771.7L1232.3,778.7ZM1210.8,762.6L1202.5,758.5L1201.3,760.0L1201.0,771.5L1202.1,773.0L1210.2,769.8L1211.1,768.6L1211.5,764.1ZM1141.9,865.5L1142.9,866.9L1149.5,869.1L1154.6,863.8L1155.0,862.7L1154.5,861.7L1153.4,861.3L1143.3,862.0L1142.3,862.5ZM1145.8,857.3L1146.7,856.8L1146.8,854.9L1144.4,853.9L1142.8,854.3L1142.0,855.6L1142.5,857.2ZM1153.3,832.2L1153.9,830.8L1152.8,820.2L1152.2,819.1L1147.9,816.4L1142.6,817.0L1139.3,828.8L1139.5,830.0L1142.5,833.7L1148.5,835.3L1149.9,835.0ZM1218.2,873.9L1221.2,871.5L1221.6,869.9L1217.9,859.1L1217.1,858.2L1215.9,858.2L1208.3,861.7L1207.5,862.5L1207.5,863.6L1211.5,873.0L1215.0,874.4ZM1193.0,851.2L1192.3,852.1L1192.5,853.3L1193.5,854.0L1200.7,855.0L1203.9,849.5L1203.8,847.9L1202.1,846.3L1201.0,846.5ZM1193.2,843.1L1193.3,844.2L1194.3,844.9L1197.0,843.8L1197.7,842.8L1197.5,841.7L1195.2,840.8L1194.1,841.1ZM1183.9,855.8L1171.4,860.6L1171.2,861.7L1171.8,862.6L1178.1,867.0L1179.8,867.1L1185.3,863.7L1186.0,862.5L1186.1,857.2L1185.3,855.9ZM1227.0,741.0L1225.9,741.2L1225.3,742.2L1224.7,745.2L1225.2,746.5L1230.9,752.0L1232.7,752.3L1234.4,751.3L1235.1,750.4L1236.6,744.0L1233.7,742.4ZM1133.4,844.7L1132.4,844.0L1125.6,842.9L1124.1,843.5L1120.4,849.3L1120.5,854.4L1121.4,855.8L1126.0,857.3L1136.5,853.5L1137.4,852.6L1137.3,851.3ZM1179.0,761.6L1176.0,763.9L1175.4,765.8L1175.7,767.1L1182.4,773.9L1183.9,774.3L1189.3,772.3L1189.1,762.9L1188.7,761.8L1187.6,761.4ZM1191.9,741.5L1191.4,742.7L1192.1,743.8L1193.4,744.1L1197.6,742.8L1198.7,741.6L1198.8,740.4L1198.5,739.3L1195.7,738.6ZM1184.8,737.4L1183.2,738.3L1183.3,739.8L1184.2,740.7L1185.5,740.6L1186.8,739.2L1186.5,738.1ZM1120.8,819.2L1123.8,819.4L1134.7,811.9L1135.3,810.5L1134.5,808.2L1124.5,800.6L1116.2,808.0L1119.8,818.3ZM1246.3,755.3L1246.1,756.5L1246.7,758.9L1248.0,760.0L1253.6,760.7L1254.7,760.4L1255.3,759.5L1253.9,756.7L1250.3,752.6L1249.1,752.2L1247.9,752.8ZM1088.1,814.2L1089.8,818.7L1091.0,818.8L1091.9,818.1L1095.7,811.8L1096.0,810.7L1095.4,809.8L1090.5,809.8L1089.2,810.7ZM1254.9,784.7L1254.5,783.4L1248.7,776.6L1245.6,775.7L1243.7,776.9L1243.3,778.0L1243.6,789.6L1247.3,793.8L1249.1,793.9L1253.0,791.3L1253.6,790.4ZM1213.2,876.5L1213.2,875.5L1212.5,874.6L1210.0,873.7L1200.5,876.1L1199.6,876.6L1199.4,877.7L1199.9,882.4L1200.5,883.4L1204.9,886.5L1206.2,886.8L1208.6,886.1L1209.6,885.3ZM1179.6,824.4L1181.1,824.6L1188.2,821.3L1188.3,820.3L1186.3,812.8L1177.3,811.3L1175.8,812.2L1173.1,819.2ZM1172.3,802.5L1173.2,803.4L1174.5,803.4L1184.5,797.9L1185.2,796.5L1185.0,794.1L1182.7,790.2L1180.5,787.7L1179.5,787.4L1178.5,787.8L1171.1,795.6L1170.8,797.0ZM1134.9,781.2L1134.7,782.9L1135.8,785.0L1137.1,785.8L1150.0,785.8L1152.4,784.1L1152.9,782.9L1152.4,775.2L1151.6,774.0L1147.5,771.6L1145.9,771.7L1139.8,775.8ZM1215.5,739.9L1214.4,740.2L1213.9,741.2L1213.2,746.5L1214.0,748.0L1216.5,748.7L1222.8,746.1L1223.7,745.0L1224.0,741.1L1222.9,740.5ZM1149.5,814.7L1150.1,816.4L1152.7,818.2L1154.0,818.4L1160.8,816.1L1161.8,814.8L1162.2,808.1L1161.6,806.8L1156.3,802.9L1153.9,802.9ZM1169.4,883.2L1169.7,884.2L1170.7,884.7L1181.8,886.8L1183.1,886.4L1183.6,885.1L1182.7,881.7L1177.4,877.0L1176.1,876.6L1170.0,878.4ZM1155.2,832.5L1154.1,832.8L1150.6,835.7L1150.1,837.1L1150.5,839.5L1159.0,847.1L1160.9,847.1L1163.9,844.8L1164.5,843.5L1163.8,834.6L1162.5,833.2ZM1219.9,820.4L1220.1,822.4L1223.4,825.8L1224.6,826.3L1226.5,825.9L1229.1,824.3L1232.1,822.1L1232.7,820.4L1226.5,814.2L1225.3,813.8L1224.3,814.4ZM1218.8,835.7L1218.1,837.4L1218.7,838.2L1225.6,843.3L1227.4,843.2L1231.1,839.8L1232.7,830.0L1231.4,828.6L1230.2,828.8ZM1200.2,757.6L1201.6,756.5L1203.3,750.8L1203.1,749.5L1199.4,744.4L1197.8,743.8L1188.7,746.5L1187.8,747.3L1187.8,748.6L1192.4,757.8ZM1154.4,784.8L1152.9,785.1L1151.2,787.1L1150.3,798.2L1150.9,799.5L1154.1,801.6L1156.3,801.0L1162.2,793.8L1162.5,792.4L1161.1,788.0L1160.2,787.1ZM1106.6,841.6L1107.5,843.3L1119.6,847.7L1123.5,842.7L1123.7,841.5L1122.6,838.9L1113.4,833.4L1111.7,833.5L1108.0,836.3ZM1148.4,748.1L1147.7,747.1L1146.5,746.9L1137.7,749.9L1136.7,750.8L1136.7,752.0L1140.4,761.7L1141.7,762.8L1143.4,762.7L1149.5,757.3L1150.0,755.9ZM1134.2,806.7L1135.3,807.0L1136.3,806.5L1141.4,799.8L1136.4,791.3L1135.3,790.6L1134.1,791.0L1126.7,798.6L1126.3,799.7L1126.8,800.8ZM1142.1,798.5L1143.5,799.2L1149.0,798.4L1150.1,788.4L1149.7,787.2L1148.6,786.8L1136.7,787.1L1136.1,788.2L1136.3,789.2ZM1128.3,827.1L1129.3,827.8L1137.9,828.6L1141.2,817.4L1140.7,815.9L1136.0,812.6L1125.2,819.7L1124.6,820.6L1124.8,821.7ZM1235.2,805.9L1234.3,805.0L1231.5,806.0L1228.9,808.2L1226.3,812.2L1226.8,813.1L1233.7,819.2L1238.7,816.1ZM1192.6,841.6L1192.3,840.3L1191.2,839.7L1180.1,839.1L1176.6,847.5L1177.0,849.9L1180.1,852.1L1181.4,852.1L1190.5,847.5L1191.3,846.6ZM1178.6,781.1L1179.9,781.1L1180.7,780.2L1182.0,776.1L1181.7,774.6L1175.4,768.2L1173.6,768.0L1168.4,771.3L1167.7,772.8L1168.3,776.1L1169.2,777.2ZM1162.2,806.0L1163.6,806.2L1170.2,804.0L1171.1,803.2L1169.8,797.1L1168.9,796.2L1164.5,794.3L1162.7,794.7L1157.8,800.8L1157.4,801.9L1158.0,802.9ZM1215.6,750.5L1214.9,749.6L1211.9,748.5L1205.3,750.2L1204.2,751.3L1202.9,756.9L1211.5,761.9L1212.9,761.9L1217.2,759.9L1217.9,759.1L1217.9,758.1ZM1116.1,789.5L1122.1,783.5L1121.8,782.4L1117.1,777.0L1109.7,781.1L1109.0,782.0L1109.2,783.2L1112.6,788.9L1113.6,789.6ZM1252.2,831.1L1250.6,831.3L1248.4,833.5L1246.2,842.1L1254.5,848.1L1256.0,848.2L1258.0,847.1L1258.8,845.6L1257.1,834.3L1256.3,833.2ZM1166.2,875.2L1170.0,877.1L1175.6,875.7L1176.8,874.6L1178.0,868.5L1168.5,861.5L1167.2,861.3L1166.2,861.9L1165.9,862.7L1165.4,873.9ZM1219.0,856.0L1218.5,857.7L1222.5,869.4L1223.1,870.1L1225.1,870.3L1226.1,869.8L1232.0,863.6L1232.4,862.4L1231.9,855.9L1231.3,854.8L1226.3,851.3ZM1155.0,878.4L1153.6,880.5L1153.7,881.7L1154.8,882.4L1166.7,884.1L1167.9,883.8L1168.5,882.7L1168.7,878.9L1168.0,877.5L1165.4,875.9L1164.2,875.8ZM1201.2,774.8L1200.5,775.6L1200.5,776.8L1201.3,777.6L1213.4,782.3L1214.9,782.0L1216.7,779.9L1217.1,775.8L1216.5,774.4L1212.1,770.9L1210.6,770.7ZM1085.7,803.2L1086.8,803.3L1087.6,802.6L1092.4,793.8L1092.6,792.6L1091.8,791.7L1087.8,789.6L1086.5,789.6L1077.3,793.4L1076.4,794.3L1075.4,797.2L1075.5,798.2L1076.2,799.0ZM1256.8,784.0L1255.8,785.0L1255.0,790.7L1259.7,792.7L1261.0,792.5L1261.9,790.1L1261.7,784.2L1261.0,783.1L1259.7,782.9ZM1255.3,868.5L1256.3,870.1L1257.4,870.4L1258.4,869.8L1262.7,863.6L1262.9,862.6L1262.4,861.7L1257.4,861.3L1256.4,861.7ZM1169.1,755.4L1168.5,756.6L1169.0,757.8L1174.1,762.4L1175.1,762.8L1177.3,761.2L1177.8,760.3L1178.1,751.4L1177.2,750.9L1176.2,751.0ZM1165.2,749.7L1165.4,750.8L1166.3,751.5L1167.5,751.3L1169.0,749.8L1168.8,748.7L1167.2,747.8L1165.9,748.0ZM1204.3,794.2L1203.0,795.0L1198.8,804.2L1201.7,807.5L1203.0,807.9L1210.3,806.7L1211.3,806.1L1213.9,802.0L1214.1,800.9L1213.0,795.3L1211.6,794.1ZM1250.9,794.0L1250.2,795.0L1250.5,796.2L1251.6,796.7L1259.1,797.2L1260.1,796.9L1260.8,795.6L1260.7,794.5L1259.8,793.8L1254.7,792.1L1253.4,792.3ZM1259.6,802.0L1257.6,801.8L1257.1,803.7L1258.0,804.5L1259.1,804.6L1260.0,803.9L1260.1,802.9ZM1210.1,887.4L1208.8,887.1L1206.6,887.7L1205.6,888.7L1204.7,891.6L1204.8,892.8L1206.2,893.6L1209.5,893.6L1213.3,893.2L1214.2,892.6L1214.5,891.5L1214.0,890.5ZM1234.9,764.1L1235.9,765.1L1241.9,766.5L1245.7,760.8L1245.1,756.8L1244.3,755.8L1236.1,752.2L1234.7,752.3L1232.5,753.5L1231.8,754.3L1231.8,755.4ZM1113.6,752.3L1112.9,753.5L1113.4,754.7L1116.2,757.2L1117.7,757.5L1122.4,755.4L1123.7,753.2L1123.8,751.9L1122.7,748.9L1121.9,748.0L1120.6,748.1ZM1108.0,835.1L1112.1,831.4L1113.1,825.7L1112.8,824.7L1112.0,824.0L1103.8,821.6L1102.5,821.8L1099.3,824.0L1098.7,825.2L1098.6,828.6L1099.2,829.8L1106.2,835.1ZM1107.7,782.7L1106.9,782.0L1102.3,781.0L1096.6,790.6L1097.0,792.5L1103.8,798.0L1104.9,798.3L1105.9,797.8L1111.7,789.9ZM1235.0,879.1L1233.9,884.9L1234.7,885.6L1237.6,884.9L1244.8,881.2L1245.6,880.3L1245.4,879.1L1243.2,876.2L1236.0,878.0ZM1136.3,741.3L1135.4,742.0L1135.3,743.1L1136.6,747.6L1137.4,748.5L1138.5,748.6L1146.1,746.0L1147.0,745.2L1147.0,743.9L1144.3,739.0ZM1084.4,845.9L1085.0,847.2L1086.3,847.5L1092.0,845.9L1092.9,845.1L1093.1,844.0L1090.9,836.4L1089.9,835.4L1088.8,835.4L1088.0,836.2L1084.8,843.7ZM1092.7,770.3L1092.3,771.5L1093.1,772.6L1100.1,776.0L1101.0,775.4L1106.7,766.3L1103.1,761.9L1102.0,761.4L1099.7,762.9ZM1149.6,769.2L1149.0,771.0L1152.1,773.1L1153.5,773.1L1155.3,772.2L1158.7,770.3L1159.4,768.9L1158.8,764.3L1157.8,763.8L1156.8,764.1ZM1143.9,765.5L1144.8,766.4L1146.1,766.2L1154.3,760.5L1154.9,759.5L1154.6,758.3L1151.5,757.5L1150.4,757.9L1144.1,763.4L1143.6,764.2ZM1096.0,856.3L1096.1,857.5L1097.0,858.3L1102.3,859.6L1105.9,860.4L1107.1,860.2L1107.7,859.1L1107.4,858.0L1100.0,849.8L1098.3,850.7ZM1163.5,792.2L1164.3,793.2L1169.8,795.2L1177.1,787.9L1177.4,786.5L1176.5,785.5L1169.7,782.7L1168.3,782.8L1162.2,787.3ZM1077.0,815.4L1075.9,816.1L1075.8,817.3L1076.7,820.0L1079.4,824.3L1081.2,826.4L1082.4,826.8L1083.5,826.2L1088.0,819.5L1088.2,818.3L1087.4,815.4L1086.8,814.6L1085.8,814.4ZM1219.5,760.3L1218.4,760.4L1213.4,762.8L1212.6,764.0L1212.1,768.7L1212.6,770.1L1217.7,773.7L1223.7,769.5L1220.5,761.2ZM1230.1,789.1L1230.6,790.0L1231.7,790.4L1241.1,790.0L1242.1,789.6L1242.5,788.5L1242.3,779.6L1241.7,778.5L1240.5,778.2L1232.9,779.9L1231.9,780.6L1229.7,784.3ZM1212.3,806.3L1212.2,807.9L1215.9,814.7L1217.7,815.5L1223.7,807.6L1224.0,806.3L1223.1,805.3L1215.1,802.6ZM1125.7,753.0L1124.5,753.8L1123.6,755.4L1123.6,757.0L1129.5,764.9L1137.9,762.7L1138.9,761.9L1138.9,760.7L1135.3,752.3ZM1124.3,838.5L1124.6,840.9L1125.8,842.0L1132.4,843.0L1133.7,842.5L1140.3,834.8L1140.4,833.0L1137.6,830.0L1128.8,829.1ZM1198.6,884.5L1194.6,887.7L1194.7,888.8L1195.6,889.5L1201.7,892.2L1202.9,892.2L1203.7,891.2L1204.5,887.8L1200.3,884.5ZM1213.8,791.5L1214.2,792.7L1215.4,793.1L1227.9,791.9L1229.0,791.4L1229.3,790.2L1228.6,785.9L1227.6,784.8L1218.0,781.5L1216.5,781.9L1214.8,784.0ZM1239.3,813.7L1240.3,814.6L1241.6,814.4L1245.6,812.0L1246.5,810.9L1247.6,803.1L1247.2,801.8L1245.9,801.4L1242.3,801.9L1238.3,802.9L1236.1,804.2L1236.1,805.3ZM1250.9,774.9L1250.2,776.0L1250.5,777.2L1255.8,783.0L1261.0,781.0L1259.8,771.8L1259.0,770.7L1257.6,770.8ZM1122.5,781.6L1123.5,782.2L1124.7,781.8L1130.3,776.7L1130.1,775.7L1126.8,770.7L1119.5,772.3L1118.5,773.4L1118.3,776.3ZM1239.7,745.1L1238.4,745.0L1237.5,745.9L1236.4,750.9L1237.2,751.6L1245.0,754.7L1247.4,751.9L1247.6,750.8L1244.8,748.2ZM1219.1,758.4L1219.9,759.4L1221.2,759.3L1229.7,755.0L1230.5,753.9L1230.0,752.6L1224.6,747.4L1223.0,747.1L1217.7,749.3L1216.9,750.0L1216.9,751.1ZM1203.8,860.1L1205.7,861.3L1206.9,861.2L1215.5,857.3L1216.4,856.2L1216.0,854.9L1210.2,849.0L1208.9,848.6L1206.0,849.0L1204.9,849.8L1202.1,855.3L1202.1,856.6ZM1204.4,844.4L1203.7,845.4L1204.6,847.4L1206.0,848.0L1208.7,847.6L1209.9,846.8L1212.0,843.0L1212.0,841.7L1211.1,840.9L1209.8,841.0ZM1146.2,739.9L1148.9,744.7L1150.0,744.7L1154.3,743.3L1155.3,742.0L1155.6,737.9L1155.1,736.6L1152.5,736.5L1147.2,737.8L1146.2,738.7ZM1156.8,856.0L1158.0,855.8L1158.6,854.7L1159.3,849.5L1158.8,848.2L1151.7,842.4L1150.4,842.1L1149.4,842.9L1145.3,851.3L1145.3,852.6L1146.3,853.4ZM1195.0,869.9L1194.6,871.3L1195.1,872.3L1198.2,874.9L1199.6,875.3L1208.3,873.1L1209.2,872.4L1209.3,871.1L1206.2,863.0L1204.7,861.9L1203.1,862.2ZM1247.4,816.0L1244.2,818.5L1244.4,819.7L1249.8,827.7L1251.6,828.2L1257.7,817.8L1257.8,816.5L1256.7,815.6L1251.6,814.6ZM1078.9,788.8L1078.8,790.0L1079.6,790.8L1080.8,790.9L1086.2,788.2L1085.2,782.9L1084.6,782.0L1083.4,781.8L1082.5,782.5Z" fill="#efa6a9"/>
<path d="M1091.8,773.0L1089.9,773.3L1085.7,778.2L1085.4,779.5L1087.4,787.7L1088.2,788.7L1093.4,791.4L1094.5,791.5L1095.4,790.8L1100.9,780.7L1100.9,779.3L1099.7,777.4ZM1211.1,747.7L1212.2,746.4L1212.8,741.3L1212.5,740.1L1211.5,739.6L1206.0,739.2L1200.4,739.3L1199.6,742.2L1199.9,743.3L1203.7,748.6L1205.3,749.2ZM1124.3,746.2L1123.5,747.0L1123.5,748.1L1125.1,751.7L1134.7,751.0L1135.9,750.2L1134.4,743.7L1133.7,742.8L1132.5,742.7ZM1096.0,793.0L1094.8,792.7L1093.7,793.5L1088.1,803.9L1088.0,805.2L1089.7,808.6L1097.7,808.2L1098.8,807.6L1103.9,801.5L1104.3,800.4L1103.8,799.3ZM1151.9,801.6L1149.0,799.8L1143.2,800.3L1142.2,800.8L1136.4,807.9L1136.1,809.1L1136.9,811.7L1141.7,815.4L1148.0,815.2L1152.4,803.3ZM1159.6,855.1L1160.0,856.3L1161.1,856.8L1171.5,855.6L1175.7,851.4L1175.7,849.1L1174.8,848.1L1165.9,845.4L1164.6,845.6L1160.9,848.4L1160.3,849.4ZM1224.9,888.3L1225.7,889.2L1226.9,889.1L1231.2,887.3L1232.2,886.3L1234.0,879.0L1233.5,877.4L1226.2,871.6L1225.2,871.3L1222.4,871.8L1219.8,874.5ZM1243.6,820.3L1242.6,819.7L1241.5,820.0L1233.4,826.6L1232.9,827.4L1233.4,829.3L1234.5,830.0L1247.2,832.1L1249.3,831.1L1249.8,830.1L1249.6,829.1ZM1234.0,864.2L1232.4,864.6L1227.8,869.5L1227.4,870.6L1227.9,871.7L1234.3,876.8L1235.7,877.1L1242.4,875.0L1243.4,874.1L1243.8,871.9L1242.3,867.6L1241.4,866.7ZM1128.3,857.5L1127.5,858.3L1127.4,859.4L1128.1,860.2L1129.2,860.4L1139.8,858.0L1140.6,857.5L1141.0,855.6L1140.1,854.3L1138.3,853.9ZM1156.3,742.1L1157.1,743.5L1164.1,747.1L1165.3,747.2L1166.2,746.3L1169.8,737.1L1169.6,735.8L1168.5,735.1L1164.4,734.9L1158.0,735.5L1156.7,736.9ZM1160.4,768.5L1161.6,769.9L1166.3,770.9L1167.4,770.7L1173.7,766.7L1174.5,765.0L1174.0,763.6L1166.7,757.5L1160.7,761.3L1160.0,762.7ZM1123.5,797.8L1124.6,798.5L1125.8,798.0L1134.7,788.9L1135.3,786.8L1134.1,783.9L1132.6,783.1L1129.3,783.7L1120.7,791.2L1120.2,792.1L1120.4,793.1ZM1213.7,784.7L1212.7,783.1L1201.4,778.7L1200.2,778.8L1199.4,779.7L1197.9,785.5L1198.2,786.8L1202.8,792.6L1204.0,793.2L1211.3,793.1L1212.2,792.7L1212.7,791.8ZM1095.6,820.4L1095.5,821.6L1097.4,823.1L1099.0,823.0L1101.9,821.0L1102.5,819.8L1102.6,814.5L1102.1,813.3L1100.9,812.9L1099.8,813.6ZM1252.9,828.6L1252.8,829.8L1253.6,830.7L1258.0,832.6L1263.8,831.5L1264.8,830.8L1265.0,829.7L1262.5,823.6L1259.2,819.7L1257.5,820.4ZM1190.5,760.6L1190.1,761.8L1190.5,771.6L1191.5,772.9L1197.9,775.4L1199.3,775.3L1200.0,774.0L1200.3,760.2L1199.8,759.1L1198.7,758.7L1192.7,759.0ZM1241.0,854.0L1239.7,853.7L1233.2,855.7L1233.4,861.9L1234.4,863.2L1242.0,865.5L1242.8,864.8L1245.8,858.2ZM1170.9,819.2L1172.0,818.3L1175.1,811.1L1175.1,810.0L1172.5,804.7L1171.4,804.6L1164.2,807.1L1163.2,808.4L1162.8,815.0L1163.5,816.3L1168.5,819.3ZM1254.1,850.4L1253.6,848.7L1246.0,843.5L1244.4,843.5L1243.4,844.5L1241.4,851.9L1241.9,853.5L1246.4,857.0L1247.6,857.3L1251.0,856.7L1252.1,855.8ZM1246.2,878.6L1247.2,879.2L1248.4,879.0L1252.6,875.6L1255.5,872.9L1256.0,871.7L1255.4,870.7L1253.9,870.3L1245.7,872.6L1244.3,874.5L1244.5,875.7Z" fill="#e98b90"/>
<g fill="#a3304c"><ellipse cx="1155.6" cy="825.6" rx="1.9" ry="0.85" transform="rotate(83 1155.6 825.6)"/><ellipse cx="1256.6" cy="807.5" rx="1.9" ry="0.85" transform="rotate(-38 1256.6 807.5)"/><ellipse cx="1105.8" cy="809.1" rx="1.9" ry="0.85" transform="rotate(130 1105.8 809.1)"/><ellipse cx="1188.5" cy="862.8" rx="1.9" ry="0.85" transform="rotate(67 1188.5 862.8)"/><ellipse cx="1094.6" cy="789.5" rx="1.9" ry="0.85" transform="rotate(-39 1094.6 789.5)"/><ellipse cx="1116.0" cy="772.6" rx="1.9" ry="0.85" transform="rotate(-101 1116.0 772.6)"/><ellipse cx="1163.6" cy="868.3" rx="1.9" ry="0.85" transform="rotate(-88 1163.6 868.3)"/><ellipse cx="1154.7" cy="777.9" rx="1.9" ry="0.85" transform="rotate(106 1154.7 777.9)"/><ellipse cx="1228.5" cy="845.4" rx="1.9" ry="0.85" transform="rotate(116 1228.5 845.4)"/><ellipse cx="1137.3" cy="771.3" rx="1.9" ry="0.85" transform="rotate(-35 1137.3 771.3)"/><ellipse cx="1228.3" cy="800.9" rx="1.9" ry="0.85" transform="rotate(-66 1228.3 800.9)"/><ellipse cx="1236.9" cy="791.9" rx="1.9" ry="0.85" transform="rotate(178 1236.9 791.9)"/><ellipse cx="1223.1" cy="781.1" rx="1.9" ry="0.85" transform="rotate(20 1223.1 781.1)"/><ellipse cx="1226.2" cy="758.9" rx="1.9" ry="0.85" transform="rotate(153 1226.2 758.9)"/><ellipse cx="1136.8" cy="873.6" rx="1.9" ry="0.85" transform="rotate(-85 1136.8 873.6)"/><ellipse cx="1233.7" cy="838.9" rx="1.9" ry="0.85" transform="rotate(80 1233.7 838.9)"/><ellipse cx="1122.1" cy="835.9" rx="1.9" ry="0.85" transform="rotate(7 1122.1 835.9)"/><ellipse cx="1151.4" cy="751.6" rx="1.9" ry="0.85" transform="rotate(77 1151.4 751.6)"/><ellipse cx="1128.4" cy="867.5" rx="1.9" ry="0.85" transform="rotate(-108 1128.4 867.5)"/><ellipse cx="1124.8" cy="860.1" rx="1.9" ry="0.85" transform="rotate(-92 1124.8 860.1)"/><ellipse cx="1142.0" cy="836.5" rx="1.9" ry="0.85" transform="rotate(163 1142.0 836.5)"/><ellipse cx="1248.1" cy="829.9" rx="1.9" ry="0.85" transform="rotate(-60 1248.1 829.9)"/><ellipse cx="1181.9" cy="827.0" rx="1.9" ry="0.85" transform="rotate(131 1181.9 827.0)"/><ellipse cx="1218.9" cy="824.4" rx="1.9" ry="0.85" transform="rotate(-160 1218.9 824.4)"/><ellipse cx="1210.4" cy="825.6" rx="1.9" ry="0.85" transform="rotate(-46 1210.4 825.6)"/><ellipse cx="1200.8" cy="809.0" rx="1.9" ry="0.85" transform="rotate(-111 1200.8 809.0)"/><ellipse cx="1194.2" cy="821.9" rx="1.9" ry="0.85" transform="rotate(-7 1194.2 821.9)"/><ellipse cx="1138.4" cy="854.6" rx="1.9" ry="0.85" transform="rotate(-168 1138.4 854.6)"/><ellipse cx="1209.7" cy="768.6" rx="1.9" ry="0.85" transform="rotate(-54 1209.7 768.6)"/><ellipse cx="1125.7" cy="796.8" rx="1.9" ry="0.85" transform="rotate(-20 1125.7 796.8)"/><ellipse cx="1151.4" cy="866.1" rx="1.9" ry="0.85" transform="rotate(-46 1151.4 866.1)"/><ellipse cx="1193.7" cy="851.5" rx="1.9" ry="0.85" transform="rotate(128 1193.7 851.5)"/><ellipse cx="1184.9" cy="860.1" rx="1.9" ry="0.85" transform="rotate(-89 1184.9 860.1)"/><ellipse cx="1183.3" cy="762.5" rx="1.9" ry="0.85" transform="rotate(179 1183.3 762.5)"/><ellipse cx="1185.9" cy="739.7" rx="1.9" ry="0.85" transform="rotate(-47 1185.9 739.7)"/><ellipse cx="1100.2" cy="814.2" rx="1.9" ry="0.85" transform="rotate(149 1100.2 814.2)"/><ellipse cx="1201.2" cy="877.0" rx="1.9" ry="0.85" transform="rotate(146 1201.2 877.0)"/><ellipse cx="1177.3" cy="812.8" rx="1.9" ry="0.85" transform="rotate(151 1177.3 812.8)"/><ellipse cx="1189.2" cy="748.5" rx="1.9" ry="0.85" transform="rotate(90 1189.2 748.5)"/><ellipse cx="1108.7" cy="839.2" rx="1.9" ry="0.85" transform="rotate(105 1108.7 839.2)"/><ellipse cx="1127.9" cy="799.1" rx="1.9" ry="0.85" transform="rotate(110 1127.9 799.1)"/><ellipse cx="1145.8" cy="797.6" rx="1.9" ry="0.85" transform="rotate(-8 1145.8 797.6)"/><ellipse cx="1227.7" cy="812.6" rx="1.9" ry="0.85" transform="rotate(63 1227.7 812.6)"/><ellipse cx="1185.4" cy="840.4" rx="1.9" ry="0.85" transform="rotate(-177 1185.4 840.4)"/><ellipse cx="1169.4" cy="800.3" rx="1.9" ry="0.85" transform="rotate(-102 1169.4 800.3)"/><ellipse cx="1209.0" cy="750.4" rx="1.9" ry="0.85" transform="rotate(166 1209.0 750.4)"/><ellipse cx="1118.4" cy="785.9" rx="1.9" ry="0.85" transform="rotate(-45 1118.4 785.9)"/><ellipse cx="1250.1" cy="833.7" rx="1.9" ry="0.85" transform="rotate(136 1250.1 833.7)"/><ellipse cx="1202.5" cy="777.1" rx="1.9" ry="0.85" transform="rotate(44 1202.5 777.1)"/><ellipse cx="1077.0" cy="797.4" rx="1.9" ry="0.85" transform="rotate(85 1077.0 797.4)"/><ellipse cx="1256.7" cy="785.1" rx="1.9" ry="0.85" transform="rotate(131 1256.7 785.1)"/><ellipse cx="1260.2" cy="866.4" rx="1.9" ry="0.85" transform="rotate(-55 1260.2 866.4)"/><ellipse cx="1174.6" cy="761.6" rx="1.9" ry="0.85" transform="rotate(20 1174.6 761.6)"/><ellipse cx="1257.7" cy="803.9" rx="1.9" ry="0.85" transform="rotate(43 1257.7 803.9)"/><ellipse cx="1120.8" cy="748.9" rx="1.9" ry="0.85" transform="rotate(177 1120.8 748.9)"/><ellipse cx="1104.3" cy="796.6" rx="1.9" ry="0.85" transform="rotate(16 1104.3 796.6)"/><ellipse cx="1236.9" cy="855.5" rx="1.9" ry="0.85" transform="rotate(164 1236.9 855.5)"/><ellipse cx="1236.2" cy="878.9" rx="1.9" ry="0.85" transform="rotate(134 1236.2 878.9)"/><ellipse cx="1136.8" cy="742.0" rx="1.9" ry="0.85" transform="rotate(139 1136.8 742.0)"/><ellipse cx="1092.3" cy="844.1" rx="1.9" ry="0.85" transform="rotate(-84 1092.3 844.1)"/><ellipse cx="1153.6" cy="760.3" rx="1.9" ry="0.85" transform="rotate(-59 1153.6 760.3)"/><ellipse cx="1106.4" cy="858.1" rx="1.9" ry="0.85" transform="rotate(-107 1106.4 858.1)"/><ellipse cx="1250.8" cy="855.2" rx="1.9" ry="0.85" transform="rotate(-40 1250.8 855.2)"/><ellipse cx="1249.8" cy="872.0" rx="1.9" ry="0.85" transform="rotate(164 1249.8 872.0)"/><ellipse cx="1077.3" cy="818.8" rx="1.9" ry="0.85" transform="rotate(71 1077.3 818.8)"/><ellipse cx="1219.6" cy="761.9" rx="1.9" ry="0.85" transform="rotate(-138 1219.6 761.9)"/><ellipse cx="1196.0" cy="889.0" rx="1.9" ry="0.85" transform="rotate(37 1196.0 889.0)"/><ellipse cx="1227.7" cy="790.3" rx="1.9" ry="0.85" transform="rotate(-76 1227.7 790.3)"/><ellipse cx="1240.2" cy="813.0" rx="1.9" ry="0.85" transform="rotate(43 1240.2 813.0)"/><ellipse cx="1258.8" cy="772.3" rx="1.9" ry="0.85" transform="rotate(-128 1258.8 772.3)"/><ellipse cx="1225.0" cy="756.4" rx="1.9" ry="0.85" transform="rotate(-27 1225.0 756.4)"/></g>
<circle cx="969.5" cy="815.1" r="63.5" fill="#fdedeb" stroke="#1c1c1c" stroke-width="1.6"/>
<path d="M1010.1,765L1089.5,810.5M1001.1,869.2L1089.5,810.5" stroke="#222" stroke-width="1.1" stroke-dasharray="3.2,2.4" fill="none"/>
<circle cx="949.1" cy="797.1" r="15.8" fill="#b796dc" stroke="#8a6cc0" stroke-width="0.8"/><circle cx="948.3" cy="799.0" r="7.0" fill="#a070d4"/>
<circle cx="981.1" cy="797.1" r="16.0" fill="#7cc781" stroke="#4a9a5a" stroke-width="0.8"/><circle cx="980.3" cy="799.0" r="7.0" fill="#3faa55"/>
<circle cx="997.1" cy="815.1" r="15.2" fill="#fcd6a8" stroke="#e0b080" stroke-width="0.8"/><circle cx="996.3" cy="816.9" r="6.7" fill="#f7b680"/>
<circle cx="936.0" cy="825.1" r="15.8" fill="#73bbe3" stroke="#4a8cc4" stroke-width="0.8"/><circle cx="935.2" cy="827.0" r="7.0" fill="#3f98d2"/>
<circle cx="985.1" cy="846.1" r="15.8" fill="#fbcb96" stroke="#d9a066" stroke-width="0.8"/><circle cx="984.3" cy="848.0" r="7.0" fill="#f49c60"/>
<circle cx="958.1" cy="840.1" r="16.0" fill="#7cc781" stroke="#4a9a5a" stroke-width="0.8"/><circle cx="957.3" cy="842.0" r="7.0" fill="#3faa55"/>
<circle cx="958.1" cy="809.1" r="16.2" fill="#ab8bd6" stroke="#6a50b0" stroke-width="0.8"/><circle cx="957.3" cy="811.0" r="7.1" fill="#9258cc"/>
<circle cx="977.1" cy="824.1" r="16.6" fill="#55aadd" stroke="#2f77b5" stroke-width="0.8"/><circle cx="976.3" cy="826.1" r="7.3" fill="#1f86c4"/>
<path d="M1069.4,1076L1073,1107.9L1107.9,1139.3V1169.5H1124.5V1139.3L1160.2,1107.9L1163.6,1076Z" fill="#e7f0fb"/>
<path d="M1067.8,1065.2L1073,1107.9L1107.9,1139.3V1169.5" fill="none" stroke="#1c1c1c" stroke-width="2.3" stroke-linejoin="miter"/>
<path d="M1165.2,1065.2L1160.2,1107.9L1124.5,1139.3V1169.5" fill="none" stroke="#1c1c1c" stroke-width="2.3" stroke-linejoin="miter"/>
<circle cx="1083.2" cy="1093.4" r="7.6" fill="#fbcb96" stroke="#d9a066" stroke-width="0.8"/><circle cx="1083.2" cy="1093.4" r="2.7" fill="#f49c60"/>
<circle cx="1105.6" cy="1095.7" r="7.6" fill="#55aadd" stroke="#2f77b5" stroke-width="0.8"/><circle cx="1105.6" cy="1095.7" r="2.7" fill="#1f86c4"/>
<circle cx="1148.0" cy="1091.9" r="7.6" fill="#7cc781" stroke="#4a9a5a" stroke-width="0.8"/><circle cx="1148.0" cy="1091.9" r="2.7" fill="#3faa55"/>
<circle cx="1094.8" cy="1107.9" r="7.6" fill="#fcd6a8" stroke="#e0b080" stroke-width="0.8"/><circle cx="1094.8" cy="1107.9" r="2.7" fill="#f7b680"/>
<circle cx="1125.3" cy="1107.9" r="7.6" fill="#ab8bd6" stroke="#6a50b0" stroke-width="0.8"/><circle cx="1125.3" cy="1107.9" r="2.7" fill="#9258cc"/>
<circle cx="1141.9" cy="1108.8" r="7.6" fill="#73bbe3" stroke="#4a8cc4" stroke-width="0.8"/><circle cx="1141.9" cy="1108.8" r="2.7" fill="#3f98d2"/>
<circle cx="1105.6" cy="1121.0" r="7.6" fill="#7cc781" stroke="#4a9a5a" stroke-width="0.8"/><circle cx="1105.6" cy="1121.0" r="2.7" fill="#3faa55"/>
<circle cx="1120.1" cy="1126.8" r="7.6" fill="#b796dc" stroke="#8a6cc0" stroke-width="0.8"/><circle cx="1120.1" cy="1126.8" r="2.7" fill="#a070d4"/>
<path d="M1116,1173.5C1116,1181 1112,1187 1104,1187H1044C1026,1187 1018.4,1196 1018.4,1212M1116,1173.5C1116,1181 1120,1187 1128,1187H1188C1206,1187 1214,1196 1214,1212M1080.3,1187V1212M1151.5,1187V1212" fill="none" stroke="#222" stroke-width="1.5"/>
<path d="M1014.1,1210.5L1018.4,1219.8L1022.6999999999999,1210.5Z" fill="#222"/>
<path d="M1076.0,1210.5L1080.3,1219.8L1084.6,1210.5Z" fill="#222"/>
<path d="M1147.2,1210.5L1151.5,1219.8L1155.8,1210.5Z" fill="#222"/>
<path d="M1209.7,1210.5L1214,1219.8L1218.3,1210.5Z" fill="#222"/>
<circle cx="1019.2" cy="1233.8" r="7.8" fill="#55aadd" stroke="#2f77b5" stroke-width="0.8"/><circle cx="1019.2" cy="1233.8" r="2.8" fill="#1f86c4"/>
<path d="M1010.5,1249.8V1366.1A8.7,8.7 0 0 0 1027.9,1366.1V1249.8Z" fill="#eef2f6" stroke="#c2cad3" stroke-width="1"/>
<path d="M1011.5,1286V1366.1A7.699999999999999,7.699999999999999 0 0 0 1026.9,1366.1V1286Z" fill="#bfe1f6"/>
<path d="M1011.5,1286H1026.9" stroke="#8cc3e6" stroke-width="1.3"/>
<path d="M1024.7,1253.8V1364.1" stroke="#9fd0ee" stroke-width="1.6" opacity="0.8"/>
<rect x="1009.5" y="1248.6" width="19.4" height="3" rx="1.5" fill="#dfe5ea" stroke="#b9c2cb" stroke-width="0.8"/>
<circle cx="1019.2" cy="1299.8" r="6.8" fill="#55aadd" stroke="#2f77b5" stroke-width="0.8"/><circle cx="1019.2" cy="1299.8" r="2.4" fill="#1f86c4"/>
<circle cx="1019.2" cy="1325.9" r="6.8" fill="#55aadd" stroke="#2f77b5" stroke-width="0.8"/><circle cx="1019.2" cy="1325.9" r="2.4" fill="#1f86c4"/>
<circle cx="1019.2" cy="1351.5" r="6.8" fill="#55aadd" stroke="#2f77b5" stroke-width="0.8"/><circle cx="1019.2" cy="1351.5" r="2.4" fill="#1f86c4"/>
<circle cx="1080.6" cy="1233.8" r="7.8" fill="#7cc781" stroke="#4a9a5a" stroke-width="0.8"/><circle cx="1080.6" cy="1233.8" r="2.8" fill="#3faa55"/>
<path d="M1071.8999999999999,1249.8V1366.1A8.7,8.7 0 0 0 1089.3,1366.1V1249.8Z" fill="#eef2f6" stroke="#c2cad3" stroke-width="1"/>
<path d="M1072.8999999999999,1286V1366.1A7.699999999999999,7.699999999999999 0 0 0 1088.3,1366.1V1286Z" fill="#bfe1f6"/>
<path d="M1072.8999999999999,1286H1088.3" stroke="#8cc3e6" stroke-width="1.3"/>
<path d="M1086.1,1253.8V1364.1" stroke="#9fd0ee" stroke-width="1.6" opacity="0.8"/>
<rect x="1070.8999999999999" y="1248.6" width="19.4" height="3" rx="1.5" fill="#dfe5ea" stroke="#b9c2cb" stroke-width="0.8"/>
<circle cx="1080.6" cy="1299.8" r="6.8" fill="#7cc781" stroke="#4a9a5a" stroke-width="0.8"/><circle cx="1080.6" cy="1299.8" r="2.4" fill="#3faa55"/>
<circle cx="1080.6" cy="1325.9" r="6.8" fill="#7cc781" stroke="#4a9a5a" stroke-width="0.8"/><circle cx="1080.6" cy="1325.9" r="2.4" fill="#3faa55"/>
<circle cx="1080.6" cy="1351.5" r="6.8" fill="#7cc781" stroke="#4a9a5a" stroke-width="0.8"/><circle cx="1080.6" cy="1351.5" r="2.4" fill="#3faa55"/>
<circle cx="1152.6" cy="1233.8" r="7.8" fill="#ab8bd6" stroke="#6a50b0" stroke-width="0.8"/><circle cx="1152.6" cy="1233.8" r="2.8" fill="#9258cc"/>
<path d="M1143.8999999999999,1249.8V1366.1A8.7,8.7 0 0 0 1161.3,1366.1V1249.8Z" fill="#eef2f6" stroke="#c2cad3" stroke-width="1"/>
<path d="M1144.8999999999999,1286V1366.1A7.699999999999999,7.699999999999999 0 0 0 1160.3,1366.1V1286Z" fill="#bfe1f6"/>
<path d="M1144.8999999999999,1286H1160.3" stroke="#8cc3e6" stroke-width="1.3"/>
<path d="M1158.1,1253.8V1364.1" stroke="#9fd0ee" stroke-width="1.6" opacity="0.8"/>
<rect x="1142.8999999999999" y="1248.6" width="19.4" height="3" rx="1.5" fill="#dfe5ea" stroke="#b9c2cb" stroke-width="0.8"/>
<circle cx="1152.6" cy="1299.8" r="6.8" fill="#ab8bd6" stroke="#6a50b0" stroke-width="0.8"/><circle cx="1152.6" cy="1299.8" r="2.4" fill="#9258cc"/>
<circle cx="1152.6" cy="1325.9" r="6.8" fill="#ab8bd6" stroke="#6a50b0" stroke-width="0.8"/><circle cx="1152.6" cy="1325.9" r="2.4" fill="#9258cc"/>
<circle cx="1152.6" cy="1351.5" r="6.8" fill="#ab8bd6" stroke="#6a50b0" stroke-width="0.8"/><circle cx="1152.6" cy="1351.5" r="2.4" fill="#9258cc"/>
<circle cx="1213.0" cy="1233.8" r="7.8" fill="#fbcb96" stroke="#d9a066" stroke-width="0.8"/><circle cx="1213.0" cy="1233.8" r="2.8" fill="#f49c60"/>
<path d="M1204.3,1249.8V1366.1A8.7,8.7 0 0 0 1221.7,1366.1V1249.8Z" fill="#eef2f6" stroke="#c2cad3" stroke-width="1"/>
<path d="M1205.3,1286V1366.1A7.699999999999999,7.699999999999999 0 0 0 1220.7,1366.1V1286Z" fill="#bfe1f6"/>
<path d="M1205.3,1286H1220.7" stroke="#8cc3e6" stroke-width="1.3"/>
<path d="M1218.5,1253.8V1364.1" stroke="#9fd0ee" stroke-width="1.6" opacity="0.8"/>
<rect x="1203.3" y="1248.6" width="19.4" height="3" rx="1.5" fill="#dfe5ea" stroke="#b9c2cb" stroke-width="0.8"/>
<circle cx="1213.0" cy="1299.8" r="6.8" fill="#fbcb96" stroke="#d9a066" stroke-width="0.8"/><circle cx="1213.0" cy="1299.8" r="2.4" fill="#f49c60"/>
<circle cx="1213.0" cy="1325.9" r="6.8" fill="#fbcb96" stroke="#d9a066" stroke-width="0.8"/><circle cx="1213.0" cy="1325.9" r="2.4" fill="#f49c60"/>
<circle cx="1213.0" cy="1351.5" r="6.8" fill="#fbcb96" stroke="#d9a066" stroke-width="0.8"/><circle cx="1213.0" cy="1351.5" r="2.4" fill="#f49c60"/>
<circle cx="699" cy="1193" r="176" fill="url(#umg)"/>
<g fill="#8a5a4b"><circle cx="655.1" cy="1096.4" r="2.55"/><circle cx="670.0" cy="1099.4" r="2.55"/><circle cx="657.5" cy="1080.8" r="2.55"/><circle cx="722.8" cy="1093.0" r="2.55"/><circle cx="687.4" cy="1106.3" r="2.55"/><circle cx="672.9" cy="1109.3" r="2.55"/><circle cx="699.1" cy="1084.2" r="2.55"/><circle cx="685.6" cy="1088.5" r="2.55"/><circle cx="730.5" cy="1097.7" r="2.55"/><circle cx="638.2" cy="1109.3" r="2.55"/><circle cx="674.6" cy="1076.6" r="2.55"/><circle cx="661.4" cy="1107.7" r="2.55"/><circle cx="709.5" cy="1085.7" r="2.55"/><circle cx="650.5" cy="1089.6" r="2.55"/><circle cx="697.2" cy="1076.9" r="2.55"/><circle cx="729.6" cy="1088.0" r="2.55"/><circle cx="680.3" cy="1095.2" r="2.55"/><circle cx="701.0" cy="1099.0" r="2.55"/><circle cx="691.4" cy="1100.2" r="2.55"/><circle cx="677.0" cy="1105.3" r="2.55"/><circle cx="630.4" cy="1100.0" r="2.55"/><circle cx="699.2" cy="1092.5" r="2.55"/><circle cx="669.3" cy="1084.8" r="2.55"/><circle cx="662.1" cy="1088.0" r="2.55"/><circle cx="663.2" cy="1080.2" r="2.55"/><circle cx="688.1" cy="1078.6" r="2.55"/><circle cx="648.9" cy="1083.1" r="2.55"/><circle cx="719.5" cy="1101.3" r="2.55"/><circle cx="719.4" cy="1086.4" r="2.55"/><circle cx="667.3" cy="1090.0" r="2.55"/><circle cx="675.7" cy="1089.6" r="2.55"/><circle cx="730.4" cy="1103.9" r="2.55"/><circle cx="656.7" cy="1112.4" r="2.55"/><circle cx="682.2" cy="1108.4" r="2.55"/><circle cx="647.5" cy="1108.9" r="2.55"/><circle cx="732.5" cy="1109.6" r="2.55"/><circle cx="738.5" cy="1112.0" r="2.55"/><circle cx="637.9" cy="1094.3" r="2.55"/><circle cx="680.3" cy="1081.4" r="2.55"/><circle cx="715.0" cy="1094.8" r="2.55"/><circle cx="692.0" cy="1110.7" r="2.55"/><circle cx="682.9" cy="1101.4" r="2.55"/><circle cx="654.7" cy="1105.1" r="2.55"/><circle cx="737.0" cy="1102.9" r="2.55"/><circle cx="689.1" cy="1115.8" r="2.55"/><circle cx="664.7" cy="1112.8" r="2.55"/><circle cx="646.4" cy="1094.1" r="2.55"/><circle cx="707.3" cy="1096.1" r="2.55"/><circle cx="713.8" cy="1089.2" r="2.55"/><circle cx="667.2" cy="1073.8" r="2.55"/><circle cx="662.6" cy="1099.6" r="2.55"/><circle cx="641.1" cy="1088.7" r="2.55"/><circle cx="637.3" cy="1101.7" r="2.55"/><circle cx="645.4" cy="1101.5" r="2.55"/><circle cx="654.2" cy="1117.7" r="2.55"/><circle cx="735.6" cy="1093.4" r="2.55"/><circle cx="632.7" cy="1106.5" r="2.55"/><circle cx="667.2" cy="1106.4" r="2.55"/><circle cx="660.1" cy="1075.7" r="2.55"/><circle cx="660.1" cy="1117.4" r="2.55"/><circle cx="644.5" cy="1114.6" r="2.55"/><circle cx="725.2" cy="1106.2" r="2.55"/><circle cx="678.2" cy="1071.9" r="2.55"/><circle cx="705.8" cy="1080.2" r="2.55"/><circle cx="691.8" cy="1088.4" r="2.55"/><circle cx="692.8" cy="1094.7" r="2.55"/><circle cx="705.9" cy="1090.6" r="2.55"/><circle cx="692.5" cy="1082.4" r="2.55"/><circle cx="682.8" cy="1075.1" r="2.55"/><circle cx="687.3" cy="1093.8" r="2.55"/><circle cx="677.9" cy="1112.2" r="2.55"/><circle cx="725.0" cy="1084.3" r="2.55"/><circle cx="694.6" cy="1105.2" r="2.55"/><circle cx="724.3" cy="1098.6" r="2.55"/><circle cx="689.4" cy="1072.8" r="2.55"/><circle cx="682.9" cy="1114.7" r="2.55"/><circle cx="740.5" cy="1097.2" r="2.55"/><circle cx="661.3" cy="1094.1" r="2.55"/><circle cx="655.2" cy="1086.4" r="2.55"/><circle cx="674.9" cy="1083.7" r="2.55"/><circle cx="674.1" cy="1095.5" r="2.55"/><circle cx="672.7" cy="1070.7" r="2.55"/><circle cx="669.4" cy="1078.8" r="2.55"/><circle cx="638.8" cy="1115.7" r="2.55"/><circle cx="714.4" cy="1082.9" r="2.55"/><circle cx="651.0" cy="1100.8" r="2.55"/></g>
<g fill="#3b3560"><circle cx="659.5" cy="1162.7" r="2.55"/><circle cx="636.3" cy="1162.1" r="2.55"/><circle cx="653.0" cy="1181.6" r="2.55"/><circle cx="638.6" cy="1172.4" r="2.55"/><circle cx="653.6" cy="1149.6" r="2.55"/><circle cx="627.5" cy="1140.3" r="2.55"/><circle cx="629.9" cy="1177.0" r="2.55"/><circle cx="632.6" cy="1185.5" r="2.55"/><circle cx="641.9" cy="1179.9" r="2.55"/><circle cx="649.7" cy="1173.5" r="2.55"/><circle cx="631.7" cy="1146.6" r="2.55"/><circle cx="640.5" cy="1187.6" r="2.55"/><circle cx="646.5" cy="1183.1" r="2.55"/><circle cx="642.2" cy="1156.1" r="2.55"/><circle cx="649.3" cy="1145.2" r="2.55"/><circle cx="657.4" cy="1143.3" r="2.55"/><circle cx="646.8" cy="1190.1" r="2.55"/><circle cx="648.0" cy="1159.5" r="2.55"/><circle cx="628.4" cy="1160.2" r="2.55"/><circle cx="654.9" cy="1158.1" r="2.55"/><circle cx="643.1" cy="1144.6" r="2.55"/><circle cx="659.1" cy="1170.4" r="2.55"/><circle cx="630.7" cy="1154.9" r="2.55"/><circle cx="636.7" cy="1192.9" r="2.55"/><circle cx="643.6" cy="1169.8" r="2.55"/><circle cx="650.7" cy="1139.5" r="2.55"/><circle cx="623.3" cy="1168.9" r="2.55"/><circle cx="634.3" cy="1136.6" r="2.55"/><circle cx="656.9" cy="1176.0" r="2.55"/><circle cx="645.7" cy="1134.5" r="2.55"/><circle cx="663.9" cy="1148.9" r="2.55"/><circle cx="629.1" cy="1166.8" r="2.55"/><circle cx="622.8" cy="1162.1" r="2.55"/><circle cx="652.2" cy="1165.7" r="2.55"/><circle cx="624.1" cy="1155.1" r="2.55"/><circle cx="661.3" cy="1156.6" r="2.55"/><circle cx="638.2" cy="1151.9" r="2.55"/><circle cx="635.6" cy="1167.6" r="2.55"/><circle cx="639.5" cy="1197.9" r="2.55"/><circle cx="635.3" cy="1179.4" r="2.55"/><circle cx="641.1" cy="1139.3" r="2.55"/><circle cx="648.5" cy="1152.0" r="2.55"/><circle cx="636.9" cy="1143.8" r="2.55"/><circle cx="625.1" cy="1149.3" r="2.55"/><circle cx="643.5" cy="1163.0" r="2.55"/><circle cx="624.8" cy="1174.5" r="2.55"/><circle cx="628.1" cy="1182.3" r="2.55"/></g>
<g fill="#5676b0"><circle cx="741.7" cy="1146.3" r="2.55"/><circle cx="690.2" cy="1209.7" r="2.55"/><circle cx="707.0" cy="1251.3" r="2.55"/><circle cx="712.4" cy="1225.2" r="2.55"/><circle cx="779.7" cy="1142.7" r="2.55"/><circle cx="719.2" cy="1229.5" r="2.55"/><circle cx="695.0" cy="1266.3" r="2.55"/><circle cx="710.5" cy="1145.2" r="2.55"/><circle cx="743.2" cy="1139.7" r="2.55"/><circle cx="725.1" cy="1234.9" r="2.55"/><circle cx="686.5" cy="1238.2" r="2.55"/><circle cx="701.1" cy="1227.6" r="2.55"/><circle cx="702.5" cy="1202.6" r="2.55"/><circle cx="684.7" cy="1264.8" r="2.55"/><circle cx="736.2" cy="1202.4" r="2.55"/><circle cx="719.3" cy="1238.2" r="2.55"/><circle cx="742.1" cy="1199.8" r="2.55"/><circle cx="734.2" cy="1183.4" r="2.55"/><circle cx="723.6" cy="1141.8" r="2.55"/><circle cx="689.0" cy="1161.3" r="2.55"/><circle cx="721.0" cy="1197.8" r="2.55"/><circle cx="725.1" cy="1192.1" r="2.55"/><circle cx="693.3" cy="1217.0" r="2.55"/><circle cx="692.0" cy="1242.5" r="2.55"/><circle cx="698.1" cy="1237.8" r="2.55"/><circle cx="706.2" cy="1240.0" r="2.55"/><circle cx="710.7" cy="1134.3" r="2.55"/><circle cx="681.2" cy="1165.1" r="2.55"/><circle cx="727.1" cy="1253.5" r="2.55"/><circle cx="720.0" cy="1134.4" r="2.55"/><circle cx="684.2" cy="1215.9" r="2.55"/><circle cx="685.7" cy="1172.1" r="2.55"/><circle cx="709.0" cy="1257.2" r="2.55"/><circle cx="706.0" cy="1196.1" r="2.55"/><circle cx="727.7" cy="1176.2" r="2.55"/><circle cx="674.1" cy="1213.2" r="2.55"/><circle cx="735.1" cy="1160.0" r="2.55"/><circle cx="754.3" cy="1164.8" r="2.55"/><circle cx="770.3" cy="1138.8" r="2.55"/><circle cx="720.1" cy="1161.8" r="2.55"/><circle cx="717.6" cy="1254.3" r="2.55"/><circle cx="726.0" cy="1246.5" r="2.55"/><circle cx="734.2" cy="1146.4" r="2.55"/><circle cx="680.7" cy="1210.8" r="2.55"/><circle cx="666.0" cy="1208.7" r="2.55"/><circle cx="756.1" cy="1150.8" r="2.55"/><circle cx="739.4" cy="1235.1" r="2.55"/><circle cx="718.2" cy="1145.7" r="2.55"/><circle cx="764.6" cy="1154.6" r="2.55"/><circle cx="716.2" cy="1151.6" r="2.55"/><circle cx="702.9" cy="1169.5" r="2.55"/><circle cx="710.5" cy="1201.9" r="2.55"/><circle cx="713.6" cy="1162.2" r="2.55"/><circle cx="755.7" cy="1143.7" r="2.55"/><circle cx="746.7" cy="1163.3" r="2.55"/><circle cx="679.4" cy="1184.4" r="2.55"/><circle cx="717.6" cy="1219.7" r="2.55"/><circle cx="763.1" cy="1135.6" r="2.55"/><circle cx="722.2" cy="1149.9" r="2.55"/><circle cx="703.9" cy="1218.8" r="2.55"/><circle cx="714.6" cy="1197.0" r="2.55"/><circle cx="728.8" cy="1136.4" r="2.55"/><circle cx="695.7" cy="1158.1" r="2.55"/><circle cx="726.7" cy="1212.7" r="2.55"/><circle cx="693.4" cy="1176.9" r="2.55"/><circle cx="721.2" cy="1206.1" r="2.55"/><circle cx="712.4" cy="1267.7" r="2.55"/><circle cx="698.0" cy="1164.4" r="2.55"/><circle cx="706.7" cy="1161.9" r="2.55"/><circle cx="686.2" cy="1198.5" r="2.55"/><circle cx="691.2" cy="1234.4" r="2.55"/><circle cx="734.9" cy="1140.3" r="2.55"/><circle cx="745.2" cy="1155.8" r="2.55"/><circle cx="681.6" cy="1223.8" r="2.55"/><circle cx="741.0" cy="1256.0" r="2.55"/><circle cx="686.6" cy="1204.9" r="2.55"/><circle cx="720.6" cy="1248.6" r="2.55"/><circle cx="697.3" cy="1248.5" r="2.55"/><circle cx="769.7" cy="1148.1" r="2.55"/><circle cx="734.9" cy="1240.7" r="2.55"/><circle cx="670.1" cy="1203.9" r="2.55"/><circle cx="706.4" cy="1185.9" r="2.55"/><circle cx="709.1" cy="1172.8" r="2.55"/><circle cx="741.6" cy="1167.7" r="2.55"/><circle cx="692.1" cy="1223.6" r="2.55"/><circle cx="734.3" cy="1169.4" r="2.55"/><circle cx="710.8" cy="1235.9" r="2.55"/><circle cx="716.1" cy="1172.6" r="2.55"/><circle cx="687.2" cy="1188.7" r="2.55"/><circle cx="675.7" cy="1199.6" r="2.55"/><circle cx="733.2" cy="1153.6" r="2.55"/><circle cx="745.2" cy="1186.3" r="2.55"/><circle cx="695.6" cy="1202.7" r="2.55"/><circle cx="710.2" cy="1246.1" r="2.55"/><circle cx="715.8" cy="1243.9" r="2.55"/><circle cx="729.1" cy="1160.3" r="2.55"/><circle cx="696.5" cy="1187.4" r="2.55"/><circle cx="720.4" cy="1263.2" r="2.55"/><circle cx="665.7" cy="1197.1" r="2.55"/><circle cx="698.0" cy="1257.8" r="2.55"/><circle cx="690.7" cy="1259.9" r="2.55"/><circle cx="723.3" cy="1258.1" r="2.55"/><circle cx="737.1" cy="1250.7" r="2.55"/><circle cx="730.8" cy="1218.8" r="2.55"/><circle cx="687.8" cy="1254.4" r="2.55"/><circle cx="683.3" cy="1229.4" r="2.55"/><circle cx="721.6" cy="1185.4" r="2.55"/><circle cx="713.6" cy="1210.8" r="2.55"/><circle cx="703.1" cy="1138.2" r="2.55"/><circle cx="728.1" cy="1198.8" r="2.55"/><circle cx="711.1" cy="1179.0" r="2.55"/><circle cx="762.4" cy="1148.1" r="2.55"/><circle cx="739.2" cy="1245.2" r="2.55"/><circle cx="672.4" cy="1189.9" r="2.55"/><circle cx="692.2" cy="1168.3" r="2.55"/><circle cx="705.9" cy="1212.3" r="2.55"/><circle cx="730.0" cy="1227.8" r="2.55"/><circle cx="733.7" cy="1207.9" r="2.55"/><circle cx="697.2" cy="1195.5" r="2.55"/><circle cx="738.0" cy="1189.9" r="2.55"/><circle cx="705.5" cy="1148.6" r="2.55"/><circle cx="691.3" cy="1248.8" r="2.55"/><circle cx="697.4" cy="1171.6" r="2.55"/><circle cx="748.2" cy="1150.8" r="2.55"/><circle cx="732.9" cy="1260.6" r="2.55"/><circle cx="701.8" cy="1265.3" r="2.55"/><circle cx="714.1" cy="1260.6" r="2.55"/><circle cx="681.7" cy="1191.6" r="2.55"/><circle cx="701.8" cy="1190.5" r="2.55"/><circle cx="692.0" cy="1152.8" r="2.55"/><circle cx="707.2" cy="1230.9" r="2.55"/><circle cx="717.2" cy="1189.7" r="2.55"/><circle cx="702.3" cy="1157.9" r="2.55"/><circle cx="752.3" cy="1136.1" r="2.55"/><circle cx="747.5" cy="1169.6" r="2.55"/><circle cx="732.9" cy="1234.9" r="2.55"/><circle cx="677.8" cy="1178.7" r="2.55"/><circle cx="736.8" cy="1227.2" r="2.55"/><circle cx="687.4" cy="1179.7" r="2.55"/><circle cx="724.3" cy="1219.9" r="2.55"/><circle cx="724.7" cy="1167.5" r="2.55"/><circle cx="701.2" cy="1208.3" r="2.55"/><circle cx="755.3" cy="1158.1" r="2.55"/><circle cx="681.4" cy="1201.7" r="2.55"/><circle cx="700.6" cy="1143.4" r="2.55"/><circle cx="732.4" cy="1246.6" r="2.55"/><circle cx="700.5" cy="1178.2" r="2.55"/><circle cx="690.6" cy="1193.5" r="2.55"/><circle cx="748.5" cy="1142.6" r="2.55"/><circle cx="738.8" cy="1178.5" r="2.55"/><circle cx="727.0" cy="1204.6" r="2.55"/><circle cx="710.7" cy="1218.8" r="2.55"/><circle cx="700.3" cy="1151.2" r="2.55"/><circle cx="732.6" cy="1193.8" r="2.55"/><circle cx="716.7" cy="1129.5" r="2.55"/><circle cx="724.1" cy="1156.1" r="2.55"/><circle cx="770.9" cy="1154.1" r="2.55"/><circle cx="745.2" cy="1194.3" r="2.55"/><circle cx="710.0" cy="1156.9" r="2.55"/><circle cx="677.1" cy="1170.9" r="2.55"/><circle cx="663.2" cy="1202.6" r="2.55"/><circle cx="710.4" cy="1191.5" r="2.55"/><circle cx="715.7" cy="1140.3" r="2.55"/><circle cx="723.1" cy="1179.8" r="2.55"/><circle cx="738.9" cy="1155.2" r="2.55"/><circle cx="730.9" cy="1188.3" r="2.55"/><circle cx="694.3" cy="1147.0" r="2.55"/><circle cx="720.7" cy="1212.8" r="2.55"/><circle cx="695.8" cy="1230.5" r="2.55"/><circle cx="698.7" cy="1221.9" r="2.55"/><circle cx="726.4" cy="1131.0" r="2.55"/><circle cx="714.7" cy="1184.3" r="2.55"/><circle cx="738.8" cy="1211.1" r="2.55"/><circle cx="682.6" cy="1259.1" r="2.55"/><circle cx="706.0" cy="1271.0" r="2.55"/><circle cx="743.6" cy="1174.1" r="2.55"/><circle cx="699.7" cy="1214.8" r="2.55"/><circle cx="689.1" cy="1228.9" r="2.55"/><circle cx="677.5" cy="1218.4" r="2.55"/><circle cx="727.3" cy="1240.6" r="2.55"/><circle cx="736.5" cy="1220.3" r="2.55"/><circle cx="707.4" cy="1263.8" r="2.55"/><circle cx="692.0" cy="1183.3" r="2.55"/><circle cx="776.0" cy="1149.1" r="2.55"/><circle cx="761.9" cy="1160.8" r="2.55"/><circle cx="710.1" cy="1167.0" r="2.55"/><circle cx="701.1" cy="1243.3" r="2.55"/><circle cx="762.2" cy="1141.6" r="2.55"/><circle cx="666.6" cy="1190.4" r="2.55"/><circle cx="701.2" cy="1252.9" r="2.55"/><circle cx="699.3" cy="1270.5" r="2.55"/><circle cx="675.6" cy="1206.5" r="2.55"/><circle cx="733.6" cy="1213.7" r="2.55"/><circle cx="682.9" cy="1159.1" r="2.55"/><circle cx="728.5" cy="1145.5" r="2.55"/><circle cx="689.1" cy="1269.1" r="2.55"/><circle cx="724.4" cy="1226.3" r="2.55"/><circle cx="717.2" cy="1179.0" r="2.55"/><circle cx="706.2" cy="1224.5" r="2.55"/><circle cx="733.7" cy="1175.7" r="2.55"/><circle cx="680.9" cy="1236.0" r="2.55"/><circle cx="741.2" cy="1161.1" r="2.55"/><circle cx="673.5" cy="1183.5" r="2.55"/><circle cx="750.8" cy="1184.0" r="2.55"/><circle cx="726.8" cy="1263.2" r="2.55"/><circle cx="722.4" cy="1173.1" r="2.55"/></g>
<g fill="#5676b0"><circle cx="659.1" cy="1235.7" r="2.55"/><circle cx="665.1" cy="1238.9" r="2.55"/><circle cx="653.6" cy="1242.8" r="2.55"/><circle cx="650.0" cy="1225.2" r="2.55"/><circle cx="653.8" cy="1231.5" r="2.55"/><circle cx="661.1" cy="1224.3" r="2.55"/><circle cx="647.9" cy="1231.6" r="2.55"/><circle cx="651.0" cy="1237.5" r="2.55"/></g>
<g fill="#8fa4ee"><circle cx="786.5" cy="1119.3" r="2.55"/><circle cx="820.1" cy="1116.8" r="2.55"/><circle cx="796.2" cy="1132.6" r="2.55"/><circle cx="801.4" cy="1121.4" r="2.55"/><circle cx="829.0" cy="1131.5" r="2.55"/><circle cx="802.0" cy="1090.4" r="2.55"/><circle cx="814.2" cy="1108.3" r="2.55"/><circle cx="799.4" cy="1127.1" r="2.55"/><circle cx="829.9" cy="1116.2" r="2.55"/><circle cx="815.6" cy="1131.1" r="2.55"/><circle cx="787.1" cy="1097.5" r="2.55"/><circle cx="777.4" cy="1116.0" r="2.55"/><circle cx="804.6" cy="1137.6" r="2.55"/><circle cx="794.6" cy="1113.0" r="2.55"/><circle cx="793.6" cy="1120.8" r="2.55"/><circle cx="795.2" cy="1101.4" r="2.55"/><circle cx="811.2" cy="1118.3" r="2.55"/><circle cx="802.5" cy="1103.1" r="2.55"/><circle cx="818.5" cy="1103.5" r="2.55"/><circle cx="825.1" cy="1113.4" r="2.55"/><circle cx="790.1" cy="1105.6" r="2.55"/><circle cx="820.1" cy="1093.6" r="2.55"/><circle cx="808.6" cy="1113.1" r="2.55"/><circle cx="802.8" cy="1113.0" r="2.55"/><circle cx="817.9" cy="1125.3" r="2.55"/><circle cx="780.2" cy="1108.3" r="2.55"/><circle cx="788.6" cy="1113.8" r="2.55"/><circle cx="788.6" cy="1128.6" r="2.55"/><circle cx="796.5" cy="1096.0" r="2.55"/><circle cx="809.9" cy="1130.8" r="2.55"/><circle cx="811.3" cy="1097.4" r="2.55"/><circle cx="829.7" cy="1122.9" r="2.55"/><circle cx="813.7" cy="1142.9" r="2.55"/><circle cx="824.3" cy="1125.5" r="2.55"/><circle cx="810.6" cy="1124.2" r="2.55"/><circle cx="808.5" cy="1103.4" r="2.55"/><circle cx="810.7" cy="1090.0" r="2.55"/><circle cx="819.7" cy="1139.3" r="2.55"/><circle cx="826.7" cy="1105.1" r="2.55"/><circle cx="822.8" cy="1133.3" r="2.55"/><circle cx="798.9" cy="1138.2" r="2.55"/><circle cx="804.2" cy="1130.5" r="2.55"/><circle cx="805.7" cy="1095.8" r="2.55"/><circle cx="784.5" cy="1103.2" r="2.55"/><circle cx="820.7" cy="1108.8" r="2.55"/><circle cx="811.5" cy="1136.4" r="2.55"/><circle cx="799.4" cy="1108.1" r="2.55"/><circle cx="825.8" cy="1099.6" r="2.55"/><circle cx="781.1" cy="1120.8" r="2.55"/><circle cx="807.4" cy="1142.5" r="2.55"/><circle cx="782.9" cy="1114.9" r="2.55"/><circle cx="824.7" cy="1119.9" r="2.55"/><circle cx="814.8" cy="1114.0" r="2.55"/><circle cx="805.6" cy="1108.2" r="2.55"/></g>
<g fill="#6f9ab9"><circle cx="810.1" cy="1204.6" r="2.55"/><circle cx="782.7" cy="1190.5" r="2.55"/><circle cx="782.7" cy="1219.6" r="2.55"/><circle cx="764.0" cy="1220.5" r="2.55"/><circle cx="767.2" cy="1202.0" r="2.55"/><circle cx="785.4" cy="1203.5" r="2.55"/><circle cx="775.4" cy="1221.5" r="2.55"/><circle cx="768.6" cy="1244.7" r="2.55"/><circle cx="812.8" cy="1225.2" r="2.55"/><circle cx="789.7" cy="1259.5" r="2.55"/><circle cx="782.3" cy="1255.0" r="2.55"/><circle cx="819.3" cy="1208.4" r="2.55"/><circle cx="805.2" cy="1214.7" r="2.55"/><circle cx="816.2" cy="1231.8" r="2.55"/><circle cx="765.6" cy="1212.6" r="2.55"/><circle cx="807.7" cy="1250.6" r="2.55"/><circle cx="779.2" cy="1215.0" r="2.55"/><circle cx="776.6" cy="1207.5" r="2.55"/><circle cx="795.6" cy="1224.6" r="2.55"/><circle cx="770.6" cy="1207.5" r="2.55"/><circle cx="778.3" cy="1185.4" r="2.55"/><circle cx="797.7" cy="1186.4" r="2.55"/><circle cx="789.5" cy="1194.0" r="2.55"/><circle cx="802.8" cy="1195.0" r="2.55"/><circle cx="762.8" cy="1238.9" r="2.55"/><circle cx="792.1" cy="1234.2" r="2.55"/><circle cx="784.9" cy="1229.9" r="2.55"/><circle cx="772.9" cy="1194.8" r="2.55"/><circle cx="782.8" cy="1239.8" r="2.55"/><circle cx="816.6" cy="1191.2" r="2.55"/><circle cx="771.5" cy="1255.9" r="2.55"/><circle cx="798.9" cy="1211.3" r="2.55"/><circle cx="770.0" cy="1237.4" r="2.55"/><circle cx="812.5" cy="1236.5" r="2.55"/><circle cx="801.1" cy="1236.7" r="2.55"/><circle cx="810.7" cy="1230.8" r="2.55"/><circle cx="778.6" cy="1228.0" r="2.55"/><circle cx="793.4" cy="1251.2" r="2.55"/><circle cx="793.1" cy="1241.8" r="2.55"/><circle cx="780.4" cy="1196.8" r="2.55"/><circle cx="813.9" cy="1213.1" r="2.55"/><circle cx="774.0" cy="1202.2" r="2.55"/><circle cx="789.7" cy="1218.3" r="2.55"/><circle cx="821.4" cy="1220.9" r="2.55"/><circle cx="806.7" cy="1223.5" r="2.55"/><circle cx="800.6" cy="1249.2" r="2.55"/><circle cx="796.5" cy="1206.1" r="2.55"/><circle cx="781.0" cy="1260.8" r="2.55"/><circle cx="770.3" cy="1189.3" r="2.55"/><circle cx="811.4" cy="1241.9" r="2.55"/><circle cx="803.0" cy="1204.2" r="2.55"/><circle cx="786.3" cy="1183.2" r="2.55"/><circle cx="784.5" cy="1212.3" r="2.55"/><circle cx="798.3" cy="1256.0" r="2.55"/><circle cx="763.2" cy="1228.9" r="2.55"/><circle cx="774.2" cy="1241.2" r="2.55"/><circle cx="811.9" cy="1197.8" r="2.55"/><circle cx="798.4" cy="1198.5" r="2.55"/><circle cx="787.5" cy="1246.4" r="2.55"/><circle cx="775.7" cy="1233.5" r="2.55"/><circle cx="820.4" cy="1214.8" r="2.55"/><circle cx="805.9" cy="1240.2" r="2.55"/><circle cx="795.4" cy="1192.1" r="2.55"/><circle cx="807.9" cy="1190.7" r="2.55"/><circle cx="769.2" cy="1250.8" r="2.55"/><circle cx="792.7" cy="1182.0" r="2.55"/><circle cx="797.0" cy="1217.1" r="2.55"/><circle cx="816.2" cy="1202.3" r="2.55"/><circle cx="820.8" cy="1227.2" r="2.55"/><circle cx="777.7" cy="1246.4" r="2.55"/><circle cx="801.4" cy="1225.6" r="2.55"/><circle cx="769.3" cy="1223.8" r="2.55"/><circle cx="771.7" cy="1217.3" r="2.55"/><circle cx="791.2" cy="1212.8" r="2.55"/><circle cx="791.0" cy="1199.7" r="2.55"/><circle cx="797.4" cy="1231.3" r="2.55"/><circle cx="803.5" cy="1186.9" r="2.55"/><circle cx="803.7" cy="1230.7" r="2.55"/><circle cx="813.9" cy="1218.7" r="2.55"/><circle cx="759.8" cy="1224.4" r="2.55"/><circle cx="789.8" cy="1225.0" r="2.55"/><circle cx="769.9" cy="1229.7" r="2.55"/><circle cx="799.8" cy="1242.5" r="2.55"/><circle cx="790.1" cy="1187.3" r="2.55"/><circle cx="790.9" cy="1207.3" r="2.55"/><circle cx="787.6" cy="1252.0" r="2.55"/><circle cx="802.3" cy="1220.1" r="2.55"/><circle cx="788.3" cy="1238.5" r="2.55"/><circle cx="809.0" cy="1210.5" r="2.55"/><circle cx="762.9" cy="1205.5" r="2.55"/><circle cx="779.7" cy="1202.5" r="2.55"/><circle cx="760.2" cy="1216.3" r="2.55"/><circle cx="803.8" cy="1254.7" r="2.55"/><circle cx="818.7" cy="1197.2" r="2.55"/><circle cx="776.6" cy="1252.0" r="2.55"/><circle cx="767.0" cy="1195.6" r="2.55"/><circle cx="765.8" cy="1233.9" r="2.55"/><circle cx="806.4" cy="1199.5" r="2.55"/><circle cx="777.1" cy="1190.9" r="2.55"/></g>
<g fill="#1f8a7b"><circle cx="746.9" cy="1285.5" r="2.55"/><circle cx="762.6" cy="1293.8" r="2.55"/><circle cx="730.7" cy="1289.1" r="2.55"/><circle cx="753.7" cy="1279.1" r="2.55"/><circle cx="779.2" cy="1311.3" r="2.55"/><circle cx="768.4" cy="1320.6" r="2.55"/><circle cx="782.3" cy="1297.0" r="2.55"/><circle cx="764.1" cy="1306.5" r="2.55"/><circle cx="767.7" cy="1298.9" r="2.55"/><circle cx="775.5" cy="1306.4" r="2.55"/><circle cx="753.6" cy="1315.7" r="2.55"/><circle cx="729.8" cy="1307.8" r="2.55"/><circle cx="734.6" cy="1304.8" r="2.55"/><circle cx="769.4" cy="1310.8" r="2.55"/><circle cx="775.0" cy="1287.6" r="2.55"/><circle cx="747.8" cy="1280.3" r="2.55"/><circle cx="761.4" cy="1299.0" r="2.55"/><circle cx="773.1" cy="1296.6" r="2.55"/><circle cx="743.2" cy="1313.2" r="2.55"/><circle cx="756.9" cy="1305.5" r="2.55"/><circle cx="728.8" cy="1302.3" r="2.55"/><circle cx="727.2" cy="1293.2" r="2.55"/><circle cx="754.1" cy="1289.6" r="2.55"/><circle cx="752.2" cy="1310.5" r="2.55"/><circle cx="761.0" cy="1287.5" r="2.55"/><circle cx="771.9" cy="1277.8" r="2.55"/><circle cx="737.5" cy="1290.1" r="2.55"/><circle cx="743.7" cy="1295.4" r="2.55"/><circle cx="760.5" cy="1317.6" r="2.55"/><circle cx="765.7" cy="1276.4" r="2.55"/><circle cx="779.1" cy="1301.8" r="2.55"/><circle cx="768.1" cy="1291.6" r="2.55"/><circle cx="758.8" cy="1277.1" r="2.55"/><circle cx="772.7" cy="1315.4" r="2.55"/><circle cx="740.5" cy="1301.4" r="2.55"/><circle cx="778.2" cy="1291.9" r="2.55"/><circle cx="783.7" cy="1290.8" r="2.55"/><circle cx="733.8" cy="1294.0" r="2.55"/><circle cx="762.4" cy="1281.6" r="2.55"/><circle cx="735.7" cy="1299.3" r="2.55"/><circle cx="737.9" cy="1312.5" r="2.55"/><circle cx="769.0" cy="1285.3" r="2.55"/><circle cx="754.5" cy="1300.3" r="2.55"/><circle cx="750.4" cy="1296.9" r="2.55"/><circle cx="744.2" cy="1307.8" r="2.55"/><circle cx="741.2" cy="1282.1" r="2.55"/><circle cx="761.0" cy="1311.5" r="2.55"/><circle cx="756.9" cy="1295.0" r="2.55"/><circle cx="780.2" cy="1283.7" r="2.55"/><circle cx="757.1" cy="1283.5" r="2.55"/><circle cx="748.7" cy="1304.2" r="2.55"/><circle cx="782.3" cy="1306.2" r="2.55"/><circle cx="765.8" cy="1314.8" r="2.55"/><circle cx="769.8" cy="1305.0" r="2.55"/><circle cx="748.5" cy="1318.1" r="2.55"/><circle cx="746.6" cy="1290.9" r="2.55"/><circle cx="774.9" cy="1282.2" r="2.55"/><circle cx="755.7" cy="1320.6" r="2.55"/><circle cx="736.6" cy="1284.8" r="2.55"/></g>
<g fill="#7a5aa2"><circle cx="649.0" cy="1282.4" r="2.55"/><circle cx="646.5" cy="1287.6" r="2.55"/><circle cx="658.2" cy="1284.9" r="2.55"/><circle cx="642.2" cy="1282.6" r="2.55"/><circle cx="643.1" cy="1296.4" r="2.55"/><circle cx="650.8" cy="1297.2" r="2.55"/><circle cx="657.0" cy="1298.5" r="2.55"/><circle cx="627.3" cy="1268.0" r="2.55"/><circle cx="628.6" cy="1278.4" r="2.55"/><circle cx="654.7" cy="1271.6" r="2.55"/><circle cx="661.1" cy="1273.8" r="2.55"/><circle cx="632.4" cy="1265.4" r="2.55"/><circle cx="644.9" cy="1270.2" r="2.55"/><circle cx="654.2" cy="1292.4" r="2.55"/><circle cx="637.3" cy="1294.4" r="2.55"/><circle cx="659.4" cy="1279.4" r="2.55"/><circle cx="634.7" cy="1283.5" r="2.55"/><circle cx="633.4" cy="1289.4" r="2.55"/><circle cx="637.2" cy="1274.9" r="2.55"/><circle cx="643.3" cy="1275.8" r="2.55"/><circle cx="621.3" cy="1270.0" r="2.55"/><circle cx="665.2" cy="1268.7" r="2.55"/><circle cx="628.6" cy="1260.7" r="2.55"/><circle cx="648.9" cy="1274.9" r="2.55"/><circle cx="640.6" cy="1289.7" r="2.55"/><circle cx="630.9" cy="1273.1" r="2.55"/><circle cx="647.2" cy="1301.6" r="2.55"/><circle cx="628.8" cy="1284.8" r="2.55"/><circle cx="653.9" cy="1277.6" r="2.55"/><circle cx="652.1" cy="1287.2" r="2.55"/></g>
<g fill="#e2a171"><circle cx="605.8" cy="1198.5" r="2.55"/><circle cx="578.4" cy="1232.1" r="2.55"/><circle cx="597.8" cy="1174.4" r="2.55"/><circle cx="570.2" cy="1205.0" r="2.55"/><circle cx="567.8" cy="1195.9" r="2.55"/><circle cx="601.8" cy="1203.9" r="2.55"/><circle cx="562.1" cy="1177.4" r="2.55"/><circle cx="570.4" cy="1188.1" r="2.55"/><circle cx="574.3" cy="1219.4" r="2.55"/><circle cx="586.2" cy="1182.0" r="2.55"/><circle cx="581.8" cy="1224.3" r="2.55"/><circle cx="588.4" cy="1194.6" r="2.55"/><circle cx="587.8" cy="1211.9" r="2.55"/><circle cx="557.8" cy="1218.3" r="2.55"/><circle cx="582.8" cy="1173.9" r="2.55"/><circle cx="607.3" cy="1227.1" r="2.55"/><circle cx="572.6" cy="1229.9" r="2.55"/><circle cx="601.5" cy="1239.4" r="2.55"/><circle cx="612.2" cy="1203.8" r="2.55"/><circle cx="592.5" cy="1177.4" r="2.55"/><circle cx="598.1" cy="1231.5" r="2.55"/><circle cx="595.3" cy="1191.2" r="2.55"/><circle cx="568.2" cy="1215.8" r="2.55"/><circle cx="578.8" cy="1206.8" r="2.55"/><circle cx="578.6" cy="1187.6" r="2.55"/><circle cx="597.1" cy="1197.2" r="2.55"/><circle cx="593.5" cy="1217.2" r="2.55"/><circle cx="566.3" cy="1231.8" r="2.55"/><circle cx="608.1" cy="1189.7" r="2.55"/><circle cx="603.4" cy="1215.8" r="2.55"/><circle cx="587.9" cy="1201.6" r="2.55"/><circle cx="557.0" cy="1205.6" r="2.55"/><circle cx="589.2" cy="1222.3" r="2.55"/><circle cx="575.0" cy="1237.3" r="2.55"/><circle cx="573.0" cy="1167.5" r="2.55"/><circle cx="560.0" cy="1192.8" r="2.55"/><circle cx="589.3" cy="1236.6" r="2.55"/><circle cx="592.9" cy="1170.1" r="2.55"/><circle cx="601.8" cy="1222.6" r="2.55"/><circle cx="600.5" cy="1186.5" r="2.55"/><circle cx="584.6" cy="1168.0" r="2.55"/><circle cx="605.1" cy="1182.5" r="2.55"/><circle cx="596.3" cy="1209.2" r="2.55"/><circle cx="577.8" cy="1180.5" r="2.55"/><circle cx="566.6" cy="1182.2" r="2.55"/><circle cx="557.3" cy="1198.2" r="2.55"/><circle cx="589.1" cy="1187.1" r="2.55"/><circle cx="582.7" cy="1198.4" r="2.55"/><circle cx="562.8" cy="1225.9" r="2.55"/><circle cx="598.4" cy="1180.4" r="2.55"/><circle cx="593.9" cy="1242.0" r="2.55"/><circle cx="613.3" cy="1213.2" r="2.55"/><circle cx="602.1" cy="1192.8" r="2.55"/><circle cx="579.7" cy="1216.6" r="2.55"/><circle cx="568.7" cy="1225.4" r="2.55"/><circle cx="563.2" cy="1209.9" r="2.55"/><circle cx="607.5" cy="1208.5" r="2.55"/><circle cx="559.9" cy="1185.4" r="2.55"/><circle cx="572.7" cy="1174.1" r="2.55"/><circle cx="589.0" cy="1229.2" r="2.55"/><circle cx="609.0" cy="1217.9" r="2.55"/><circle cx="594.9" cy="1225.0" r="2.55"/><circle cx="575.3" cy="1195.7" r="2.55"/><circle cx="603.8" cy="1233.2" r="2.55"/><circle cx="595.7" cy="1203.1" r="2.55"/><circle cx="614.2" cy="1221.5" r="2.55"/><circle cx="584.9" cy="1240.7" r="2.55"/><circle cx="565.6" cy="1172.1" r="2.55"/><circle cx="580.0" cy="1164.5" r="2.55"/><circle cx="607.6" cy="1240.4" r="2.55"/><circle cx="612.5" cy="1196.7" r="2.55"/><circle cx="563.1" cy="1200.2" r="2.55"/><circle cx="557.2" cy="1211.5" r="2.55"/><circle cx="584.0" cy="1189.8" r="2.55"/><circle cx="554.0" cy="1193.1" r="2.55"/><circle cx="609.8" cy="1234.2" r="2.55"/><circle cx="575.8" cy="1212.2" r="2.55"/><circle cx="603.2" cy="1177.0" r="2.55"/><circle cx="590.7" cy="1206.9" r="2.55"/><circle cx="583.8" cy="1234.3" r="2.55"/><circle cx="594.8" cy="1185.3" r="2.55"/><circle cx="572.0" cy="1179.9" r="2.55"/><circle cx="578.2" cy="1170.4" r="2.55"/><circle cx="585.7" cy="1217.7" r="2.55"/><circle cx="564.5" cy="1189.1" r="2.55"/><circle cx="563.4" cy="1220.0" r="2.55"/><circle cx="576.4" cy="1201.5" r="2.55"/><circle cx="584.7" cy="1206.8" r="2.55"/></g>
<g fill="#8a5a4b"><circle cx="603.0" cy="1106.8" r="2.55"/><circle cx="610.5" cy="1101.7" r="2.55"/><circle cx="615.6" cy="1108.0" r="2.55"/><circle cx="609.3" cy="1111.8" r="2.55"/><circle cx="704.9" cy="1073.3" r="2.55"/><circle cx="711.6" cy="1076.6" r="2.55"/></g>
<g fill="#7a5aa2"><circle cx="681.0" cy="1290.4" r="2.55"/><circle cx="687.3" cy="1289.6" r="2.55"/><circle cx="684.0" cy="1294.1" r="2.55"/></g>
<g fill="#5676b0"><circle cx="751.4" cy="1184.7" r="2.55"/><circle cx="747.6" cy="1189.8" r="2.55"/><circle cx="774.0" cy="1138.2" r="2.55"/><circle cx="781.6" cy="1143.7" r="2.55"/></g>
<ellipse cx="582.9" cy="1205.6" rx="44" ry="53.3" fill="none" stroke="#f2b33a" stroke-width="7" stroke-dasharray="7,10.2" transform="rotate(-8 582.9 1205.6)"/>
<rect x="447.6" y="258.1" width="109.39999999999998" height="9.8" fill="url(#ga0)"/><path d="M556,250L582,263L556,276Z" fill="#17181a"/>
<rect x="862.6" y="258.1" width="133.69999999999993" height="9.8" fill="url(#ga1)"/><path d="M995.3,250L1021.3,263L995.3,276Z" fill="#17181a"/>
<rect x="1244.5" y="258.1" width="214.5" height="9.8" fill="url(#ga2)"/><path d="M1458,250L1484,263L1458,276Z" fill="#17181a"/>
<rect x="451" y="818.35" width="95.60000000000002" height="10.3" fill="url(#ga3)"/><path d="M545.6,805.8L581.6,823.5L545.6,841.2Z" fill="#17181a"/>
<rect x="427.79999999999995" y="1187.1999999999998" width="78.20000000000005" height="9.8" fill="url(#ga4)"/><path d="M428.79999999999995,1174.1L392.4,1192.1L428.79999999999995,1210.1Z" fill="#17181a"/>
<rect x="906.9" y="1188.6" width="92.10000000000002" height="9.8" fill="url(#ga5)"/><path d="M907.9,1180.5L881.9,1193.5L907.9,1206.5Z" fill="#17181a"/>
<rect x="1112.2" y="983" width="10" height="57.59999999999991" fill="url(#ga6)"/><path d="M1104.2,1039.6L1117.2,1066.3L1130.2,1039.6Z" fill="#17181a"/>
<rect x="1919.3" y="417" width="9.8" height="301.79999999999995" fill="url(#ga7)"/><path d="M1910.7,717.8L1924.2,743.8L1937.7,717.8Z" fill="#17181a"/>
<g transform="translate(1419.2,896.9) rotate(208.1)"><rect x="0" y="-5.15" width="121.69999999999999" height="10.3" fill="url(#ga8)"/><path d="M120.69999999999999,-13L146.7,0L120.69999999999999,13Z" fill="#17181a"/></g>
<path d="M162.6,1283.7V1157H150.3L166,1127L181.7,1157H169.4V1283.7Z" fill="#f0a868"/>
<text x="67.8" y="153.3" font-size="37.62" textLength="144.3" lengthAdjust="spacingAndGlyphs" fill="#000" stroke="#000" stroke-width="0.7" >Adipose</text>
<text x="41.6" y="195.6" font-size="37.62" textLength="196.8" lengthAdjust="spacingAndGlyphs" fill="#000" stroke="#000" stroke-width="0.7" >tissue with</text>
<text x="63.3" y="237.9" font-size="37.62" textLength="153.4" lengthAdjust="spacingAndGlyphs" fill="#000" stroke="#000" stroke-width="0.7" >vascular</text>
<text x="74.3" y="279.6" font-size="37.62" textLength="131.4" lengthAdjust="spacingAndGlyphs" fill="#000" stroke="#000" stroke-width="0.7" >pedicle</text>
<text x="377.6" y="160.6" font-size="37.93" textLength="307.6" lengthAdjust="spacingAndGlyphs" fill="#000" stroke="#000" stroke-width="0.7" >Decellularization</text>
<text x="455.4" y="202.6" font-size="37.93" textLength="141.2" lengthAdjust="spacingAndGlyphs" fill="#000" stroke="#000" stroke-width="0.7" >process</text>
<text x="787.4" y="162.7" font-size="37.93" textLength="303.2" lengthAdjust="spacingAndGlyphs" fill="#000" stroke="#000" stroke-width="0.7" >Recellularization</text>
<text x="863.1" y="204.0" font-size="37.93" textLength="141.2" lengthAdjust="spacingAndGlyphs" fill="#000" stroke="#000" stroke-width="0.7" >process</text>
<text x="774.8" y="62.7" font-size="29.26" textLength="142.4" lengthAdjust="spacingAndGlyphs" fill="#000" stroke="#000" stroke-width="0.5" >Myoblasts</text>
<text x="979.8" y="62.7" font-size="29.26" textLength="71.9" lengthAdjust="spacingAndGlyphs" fill="#000" stroke="#000" stroke-width="0.5" >ASCs</text>
<text x="268.2" y="629.7" font-size="37.62" textLength="118.0" lengthAdjust="spacingAndGlyphs" fill="#444247" stroke="#444247" stroke-width="0.7" >Native</text>
<text x="599.8" y="629.7" font-size="37.62" textLength="258.5" lengthAdjust="spacingAndGlyphs" fill="#444247" stroke="#444247" stroke-width="0.7" >Decellularized</text>
<text x="1006.7" y="629.7" font-size="37.62" textLength="254.1" lengthAdjust="spacingAndGlyphs" fill="#444247" stroke="#444247" stroke-width="0.7" >Recellularized</text>
<text x="1769.1" y="79.3" font-size="31.87" textLength="177.8" lengthAdjust="spacingAndGlyphs" fill="#444247" stroke="#444247" stroke-width="0.6" >Volumertric</text>
<text x="1768.8" y="114.6" font-size="31.87" textLength="179.7" lengthAdjust="spacingAndGlyphs" fill="#444247" stroke="#444247" stroke-width="0.6" >muscle loss</text>
<text x="1814.7" y="150.2" font-size="31.87" textLength="89.0" lengthAdjust="spacingAndGlyphs" fill="#444247" stroke="#444247" stroke-width="0.6" >(VML)</text>
<text x="1828.0" y="793.5" font-size="37.62" textLength="126.1" lengthAdjust="spacingAndGlyphs" fill="#444247" stroke="#444247" stroke-width="0.7" >Muscle</text>
<text x="1772.8" y="834.8" font-size="37.62" textLength="234.7" lengthAdjust="spacingAndGlyphs" fill="#444247" stroke="#444247" stroke-width="0.7" >regeneration</text>
<text x="1571.8" y="1260.2" font-size="37.83" textLength="255.8" lengthAdjust="spacingAndGlyphs" fill="#444247" stroke="#444247" stroke-width="0.7" >Myogenesis &amp;</text>
<text x="1559.8" y="1301.8" font-size="37.83" textLength="276.8" lengthAdjust="spacingAndGlyphs" fill="#444247" stroke="#444247" stroke-width="0.7" >Vascularization</text>
<text x="98.8" y="788.4" font-size="31.98" textLength="155.8" lengthAdjust="spacingAndGlyphs" fill="#000" stroke="#000" stroke-width="0.6" >commited</text>
<text x="98.8" y="823.5" font-size="31.98" textLength="110.6" lengthAdjust="spacingAndGlyphs" fill="#000" stroke="#000" stroke-width="0.6" >muscle</text>
<text x="98.8" y="858.6" font-size="31.98" textLength="161.4" lengthAdjust="spacingAndGlyphs" fill="#000" stroke="#000" stroke-width="0.6" >progenitor</text>
<text x="580.9" y="955.3" font-size="31.87" textLength="108.2" lengthAdjust="spacingAndGlyphs" fill="#000" stroke="#000" stroke-width="0.6" >Mature</text>
<text x="566.5" y="990.3" font-size="31.87" textLength="137.9" lengthAdjust="spacingAndGlyphs" fill="#000" stroke="#000" stroke-width="0.6" >myofiber</text>
<text x="735.0" y="954.0" font-size="31.87" textLength="130.0" lengthAdjust="spacingAndGlyphs" fill="#000" stroke="#000" stroke-width="0.6" >skeleton</text>
<text x="744.9" y="989.2" font-size="31.87" textLength="110.2" lengthAdjust="spacingAndGlyphs" fill="#000" stroke="#000" stroke-width="0.6" >muscle</text>
<text x="932.0" y="929.8" font-size="32.08" textLength="317.5" lengthAdjust="spacingAndGlyphs" fill="#231f20" stroke="#231f20" stroke-width="0.6" >Cellular composition</text>
<text x="916.0" y="965.2" font-size="32.08" textLength="350.5" lengthAdjust="spacingAndGlyphs" fill="#231f20" stroke="#231f20" stroke-width="0.6" >of the dissected tissue</text>
<text x="69.2" y="1333.5" font-size="32.29" textLength="467.6" lengthAdjust="spacingAndGlyphs" fill="#000" stroke="#000" stroke-width="0.6" >A new subpopulation of  ASCs</text>
<text x="718.2" y="1357.0" font-size="31.87" textLength="144.4" lengthAdjust="spacingAndGlyphs" fill="#2a8a80" stroke="#2a8a80" stroke-width="0.6" >activated</text>
<text x="31.5" y="1180.2" font-size="36.16" textLength="104.8" lengthAdjust="spacingAndGlyphs" fill="#e28b33" stroke="#e28b33" stroke-width="2.0" >Mki67</text>
<text x="31.5" y="1222.2" font-size="36.16" textLength="96.0" lengthAdjust="spacingAndGlyphs" fill="#e28b33" stroke="#e28b33" stroke-width="2.0" >CD34</text>
<text x="31.5" y="1264.0" font-size="36.16" textLength="96.7" lengthAdjust="spacingAndGlyphs" fill="#e28b33" stroke="#e28b33" stroke-width="2.0" >CDK1</text></svg></body></html>
